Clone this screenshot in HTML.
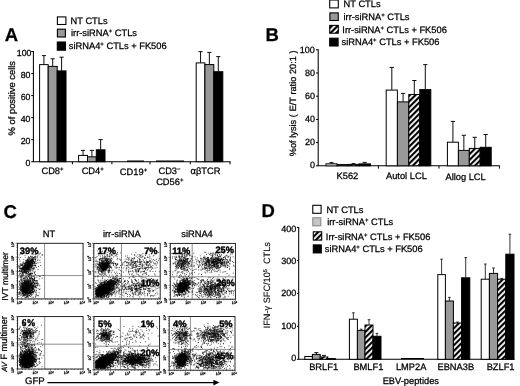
<!DOCTYPE html>
<html><head><meta charset="utf-8"><title>Figure</title>
<style>
html,body{margin:0;padding:0;background:#fff;}
body{width:520px;height:386px;overflow:hidden;font-family:"Liberation Sans",sans-serif;}
svg{display:block;}
svg text{font-family:"Liberation Sans",sans-serif;fill:#000;stroke:#000;stroke-width:.26px;text-rendering:geometricPrecision;}
</style></head><body>
<svg width="520" height="386" viewBox="0 0 520 386">
<defs>
<pattern id="hatch" width="4" height="4" patternUnits="userSpaceOnUse" patternTransform="rotate(-45)">
<rect width="4" height="4" fill="#fff"/><rect width="4" height="2.15" fill="#000"/>
</pattern>
<filter id="soft" x="0" y="0" width="520" height="386" filterUnits="userSpaceOnUse"><feGaussianBlur stdDeviation="0.6"/></filter>
</defs>
<rect width="520" height="386" fill="#fff"/>
<g id="fig" filter="url(#soft)">
<text x="4.8" y="41.0" font-size="18.5" text-anchor="start" font-weight="bold" >A</text>
<rect x="57.4" y="16.9" width="8.5" height="7.6" fill="#fff" stroke="#000" stroke-width="1.1"/>
<rect x="57.4" y="29.2" width="8.0" height="7.8" fill="#999" stroke="#000" stroke-width="1.1"/>
<rect x="57.3" y="42.0" width="8.2" height="8.2" fill="#000" stroke="#000" stroke-width="1.1"/>
<text x="70.6" y="24.0" font-size="9.3" text-anchor="start" font-weight="normal" >NT CTLs</text>
<text x="71.0" y="35.9" font-size="9.3" text-anchor="start" font-weight="normal" >irr-siRNA<tspan dy="-3" font-size="6">+</tspan><tspan dy="3" font-size="1">&#8203;</tspan> CTLs</text>
<text x="68.8" y="49.2" font-size="9.3" text-anchor="start" font-weight="normal" >siRNA4<tspan dy="-3" font-size="6">+</tspan><tspan dy="3" font-size="1">&#8203;</tspan> CTLs + FK506</text>
<path d="M33.4 51.0V161.7H230.5" stroke="#000" stroke-width="1.05" fill="none"/>
<path d="M31.2 161.70H33.4" stroke="#000" stroke-width="1"/>
<text x="30.5" y="165.85" font-size="8.8" text-anchor="end" font-weight="normal" >0</text>
<path d="M31.2 139.66H33.4" stroke="#000" stroke-width="1"/>
<text x="30.5" y="143.82999999999998" font-size="8.8" text-anchor="end" font-weight="normal" >20</text>
<path d="M31.2 117.62H33.4" stroke="#000" stroke-width="1"/>
<text x="30.5" y="121.81" font-size="8.8" text-anchor="end" font-weight="normal" >40</text>
<path d="M31.2 95.58H33.4" stroke="#000" stroke-width="1"/>
<text x="30.5" y="99.78999999999999" font-size="8.8" text-anchor="end" font-weight="normal" >60</text>
<path d="M31.2 73.54H33.4" stroke="#000" stroke-width="1"/>
<text x="30.5" y="77.77" font-size="8.8" text-anchor="end" font-weight="normal" >80</text>
<path d="M31.2 51.50H33.4" stroke="#000" stroke-width="1"/>
<text x="31.5" y="55.75" font-size="8.8" text-anchor="end" font-weight="normal" >100</text>
<path d="M72.4 161.7v2.6" stroke="#000" stroke-width="1"/>
<path d="M111.9 161.7v2.6" stroke="#000" stroke-width="1"/>
<path d="M150.0 161.7v2.6" stroke="#000" stroke-width="1"/>
<path d="M190.3 161.7v2.6" stroke="#000" stroke-width="1"/>
<path d="M230 161.7v2.6" stroke="#000" stroke-width="1"/>
<text transform="translate(14.8,98.2) rotate(-90)" font-size="9.4" text-anchor="middle" >% of positive cells</text>
<rect x="39.60" y="64.60" width="8.60" height="97.10" fill="#fff" stroke="#000" stroke-width="1.0"/>
<path d="M43.90 64.60V55.60M41.80 55.60H46.00" stroke="#111" stroke-width="1.0" fill="none"/>
<rect x="48.20" y="66.40" width="9.00" height="95.30" fill="#999" stroke="#000" stroke-width="1.0"/>
<path d="M52.70 66.40V58.80M50.60 58.80H54.80" stroke="#111" stroke-width="1.0" fill="none"/>
<rect x="57.20" y="70.90" width="8.80" height="90.80" fill="#000" stroke="#000" stroke-width="1.0"/>
<path d="M61.60 70.90V57.20M59.50 57.20H63.70" stroke="#111" stroke-width="1.0" fill="none"/>
<rect x="78.60" y="155.40" width="8.90" height="6.30" fill="#fff" stroke="#000" stroke-width="1.0"/>
<path d="M83.05 155.40V150.40M80.95 150.40H85.15" stroke="#111" stroke-width="1.0" fill="none"/>
<rect x="87.50" y="156.80" width="8.80" height="4.90" fill="#999" stroke="#000" stroke-width="1.0"/>
<path d="M91.90 156.80V150.40M89.80 150.40H94.00" stroke="#111" stroke-width="1.0" fill="none"/>
<rect x="96.30" y="149.80" width="8.70" height="11.90" fill="#000" stroke="#000" stroke-width="1.0"/>
<path d="M100.65 149.80V139.60M98.55 139.60H102.75" stroke="#111" stroke-width="1.0" fill="none"/>
<path d="M127 161.1H144M156 161.1H184" stroke="#000" stroke-width="1.4"/>
<rect x="196.20" y="62.90" width="8.70" height="98.80" fill="#fff" stroke="#000" stroke-width="1.0"/>
<path d="M200.55 62.90V51.60M198.45 51.60H202.65" stroke="#111" stroke-width="1.0" fill="none"/>
<rect x="204.90" y="64.60" width="8.90" height="97.10" fill="#999" stroke="#000" stroke-width="1.0"/>
<path d="M209.35 64.60V52.40M207.25 52.40H211.45" stroke="#111" stroke-width="1.0" fill="none"/>
<rect x="213.80" y="71.70" width="9.00" height="90.00" fill="#000" stroke="#000" stroke-width="1.0"/>
<path d="M218.30 71.70V56.60M216.20 56.60H220.40" stroke="#111" stroke-width="1.0" fill="none"/>
<text x="52.5" y="174.3" font-size="9.3" text-anchor="middle" font-weight="normal" >CD8<tspan dy="-3" font-size="6">+</tspan><tspan dy="3" font-size="1">&#8203;</tspan></text>
<text x="92.7" y="174.3" font-size="9.3" text-anchor="middle" font-weight="normal" >CD4<tspan dy="-3" font-size="6">+</tspan><tspan dy="3" font-size="1">&#8203;</tspan></text>
<text x="133.5" y="175.2" font-size="9.3" text-anchor="middle" font-weight="normal" >CD19<tspan dy="-3" font-size="6">+</tspan><tspan dy="3" font-size="1">&#8203;</tspan></text>
<text x="169.5" y="174.3" font-size="9.3" text-anchor="middle" font-weight="normal" >CD3<tspan dy="-3" font-size="6">&#8722;</tspan><tspan dy="3" font-size="1">&#8203;</tspan></text>
<text x="169.8" y="185.4" font-size="9.3" text-anchor="middle" font-weight="normal" >CD56<tspan dy="-3" font-size="6">+</tspan><tspan dy="3" font-size="1">&#8203;</tspan></text>
<text x="205.5" y="174.3" font-size="9.3" text-anchor="middle" font-weight="normal" >&#945;&#946;TCR</text>
<text x="265.6" y="41.0" font-size="18.5" text-anchor="start" font-weight="bold" >B</text>
<rect x="329.7" y="0.0" width="8.6" height="7.9" fill="#fff" stroke="#000" stroke-width="1.1"/>
<rect x="329.9" y="12.9" width="8.4" height="7.6" fill="#999" stroke="#000" stroke-width="1.1"/>
<rect x="329.7" y="25.4" width="8.6" height="7.8" fill="url(#hatch)" stroke="#000" stroke-width="1.1"/>
<rect x="329.7" y="38.2" width="8.4" height="7.8" fill="#000" stroke="#000" stroke-width="1.1"/>
<text x="343.6" y="7.2" font-size="9.3" text-anchor="start" font-weight="normal" >NT CTLs</text>
<text x="343.5" y="19.9" font-size="9.3" text-anchor="start" font-weight="normal" >irr-siRNA<tspan dy="-3" font-size="6">+</tspan><tspan dy="3" font-size="1">&#8203;</tspan> CTLs</text>
<text x="342.3" y="32.7" font-size="9.3" text-anchor="start" font-weight="normal" >Irr-siRNA<tspan dy="-3" font-size="6">+</tspan><tspan dy="3" font-size="1">&#8203;</tspan> CTLs + FK506</text>
<text x="341.6" y="45.3" font-size="9.3" text-anchor="start" font-weight="normal" >siRNA4<tspan dy="-3" font-size="6">+</tspan><tspan dy="3" font-size="1">&#8203;</tspan> CTLs + FK506</text>
<path d="M318.2 49.3V165.8H499.8" stroke="#000" stroke-width="1.05" fill="none"/>
<path d="M316.0 165.80H318.2" stroke="#000" stroke-width="1"/>
<text x="314.9" y="168.39999999999998" font-size="9.0" text-anchor="end" font-weight="normal" >0</text>
<path d="M316.0 142.60H318.2" stroke="#000" stroke-width="1"/>
<text x="314.9" y="145.37999999999997" font-size="9.0" text-anchor="end" font-weight="normal" >20</text>
<path d="M316.0 119.40H318.2" stroke="#000" stroke-width="1"/>
<text x="314.9" y="122.35999999999999" font-size="9.0" text-anchor="end" font-weight="normal" >40</text>
<path d="M316.0 96.20H318.2" stroke="#000" stroke-width="1"/>
<text x="314.9" y="99.33999999999997" font-size="9.0" text-anchor="end" font-weight="normal" >60</text>
<path d="M316.0 73.00H318.2" stroke="#000" stroke-width="1"/>
<text x="314.9" y="76.31999999999998" font-size="9.0" text-anchor="end" font-weight="normal" >80</text>
<path d="M316.0 49.80H318.2" stroke="#000" stroke-width="1"/>
<text x="314.9" y="53.29999999999997" font-size="9.0" text-anchor="end" font-weight="normal" >100</text>
<path d="M378.4 165.8v2.8" stroke="#000" stroke-width="1"/>
<path d="M439 165.8v2.8" stroke="#000" stroke-width="1"/>
<path d="M499.4 165.8v2.8" stroke="#000" stroke-width="1"/>
<text transform="translate(295.9,103.3) rotate(-90)" font-size="9.15" text-anchor="middle" word-spacing=".25">%of lysis ( E/T ratio 20:1 )</text>
<rect x="326.00" y="163.80" width="11.00" height="2.00" fill="#fff" stroke="#000" stroke-width="1.0"/>
<path d="M331.50 163.80V162.60M329.50 162.60H333.50" stroke="#111" stroke-width="1.0" fill="none"/>
<rect x="337.00" y="164.60" width="11.00" height="1.20" fill="#999" stroke="#000" stroke-width="1.0"/>
<rect x="348.00" y="164.40" width="11.00" height="1.40" fill="url(#hatch)" stroke="#000" stroke-width="1.0"/>
<path d="M353.50 164.40V163.60M351.50 163.60H355.50" stroke="#111" stroke-width="1.0" fill="none"/>
<rect x="359.00" y="163.90" width="11.40" height="1.90" fill="#000" stroke="#000" stroke-width="1.0"/>
<path d="M364.70 163.90V162.40M362.70 162.40H366.70" stroke="#111" stroke-width="1.0" fill="none"/>
<rect x="326.5" y="164.3" width="10" height="1" fill="#999"/>
<rect x="386.20" y="90.10" width="11.20" height="75.70" fill="#fff" stroke="#000" stroke-width="1.0"/>
<path d="M391.80 90.10V67.40M389.70 67.40H393.90" stroke="#111" stroke-width="1.0" fill="none"/>
<rect x="397.40" y="101.90" width="11.40" height="63.90" fill="#999" stroke="#000" stroke-width="1.0"/>
<path d="M403.10 101.90V93.40M401.00 93.40H405.20" stroke="#111" stroke-width="1.0" fill="none"/>
<rect x="408.80" y="94.50" width="11.00" height="71.30" fill="url(#hatch)" stroke="#000" stroke-width="1.0"/>
<path d="M414.30 94.50V80.50M412.20 80.50H416.40" stroke="#111" stroke-width="1.0" fill="none"/>
<rect x="419.80" y="89.60" width="11.00" height="76.20" fill="#000" stroke="#000" stroke-width="1.0"/>
<path d="M425.30 89.60V64.60M423.20 64.60H427.40" stroke="#111" stroke-width="1.0" fill="none"/>
<rect x="447.40" y="142.20" width="11.00" height="23.60" fill="#fff" stroke="#000" stroke-width="1.0"/>
<path d="M452.90 142.20V121.40M450.80 121.40H455.00" stroke="#111" stroke-width="1.0" fill="none"/>
<rect x="458.40" y="150.40" width="10.90" height="15.40" fill="#999" stroke="#000" stroke-width="1.0"/>
<path d="M463.85 150.40V135.30M461.75 135.30H465.95" stroke="#111" stroke-width="1.0" fill="none"/>
<rect x="469.30" y="148.40" width="10.90" height="17.40" fill="url(#hatch)" stroke="#000" stroke-width="1.0"/>
<path d="M474.75 148.40V137.30M472.65 137.30H476.85" stroke="#111" stroke-width="1.0" fill="none"/>
<rect x="480.20" y="147.30" width="11.00" height="18.50" fill="#000" stroke="#000" stroke-width="1.0"/>
<path d="M485.70 147.30V134.50M483.60 134.50H487.80" stroke="#111" stroke-width="1.0" fill="none"/>
<text x="347.4" y="179.4" font-size="9.3" text-anchor="middle" font-weight="normal" >K562</text>
<text x="406.4" y="179.4" font-size="9.3" text-anchor="middle" font-weight="normal" >Autol LCL</text>
<text x="465.6" y="179.9" font-size="9.3" text-anchor="middle" font-weight="normal" >Allog LCL</text>
<text x="261.6" y="217.2" font-size="18.5" text-anchor="start" font-weight="bold" >D</text>
<rect x="312.8" y="205.3" width="8.3" height="8.0" fill="#fff" stroke="#000" stroke-width="1.1"/>
<rect x="312.8" y="217.8" width="8.0" height="8.0" fill="#c6c6c6" stroke="#888" stroke-width="1.1"/>
<rect x="313.3" y="231.8" width="8.4" height="8.3" fill="url(#hatch)" stroke="#000" stroke-width="1.1"/>
<rect x="313.3" y="244.9" width="8.0" height="8.0" fill="#000" stroke="#000" stroke-width="1.1"/>
<text x="326.4" y="212.5" font-size="9.3" text-anchor="start" font-weight="normal" >NT CTLs</text>
<text x="327.2" y="224.5" font-size="9.3" text-anchor="start" font-weight="normal" >irr-siRNA<tspan dy="-3" font-size="6">+</tspan><tspan dy="3" font-size="1">&#8203;</tspan> CTLs</text>
<text x="325.8" y="240.0" font-size="9.3" text-anchor="start" font-weight="normal" >Irr-siRNA<tspan dy="-3" font-size="6">+</tspan><tspan dy="3" font-size="1">&#8203;</tspan> CTLs + FK506</text>
<text x="324.8" y="252.3" font-size="9.3" text-anchor="start" font-weight="normal" >siRNA4<tspan dy="-3" font-size="6">+</tspan><tspan dy="3" font-size="1">&#8203;</tspan> CTLs + FK506</text>
<path d="M298.7 226.9V359.3H514.5" stroke="#000" stroke-width="1.05" fill="none"/>
<path d="M296.9 359.30H298.7" stroke="#000" stroke-width="1"/>
<text x="296.3" y="361.2" font-size="9.0" text-anchor="end" font-weight="normal" >0</text>
<path d="M296.9 326.32H298.7" stroke="#000" stroke-width="1"/>
<text x="296.3" y="328.8" font-size="9.0" text-anchor="end" font-weight="normal" >100</text>
<path d="M296.9 293.35H298.7" stroke="#000" stroke-width="1"/>
<text x="296.3" y="296.4" font-size="9.0" text-anchor="end" font-weight="normal" >200</text>
<path d="M296.9 260.38H298.7" stroke="#000" stroke-width="1"/>
<text x="296.3" y="264.0" font-size="9.0" text-anchor="end" font-weight="normal" >300</text>
<path d="M296.9 227.40H298.7" stroke="#000" stroke-width="1"/>
<text x="296.3" y="231.6" font-size="9.0" text-anchor="end" font-weight="normal" >400</text>
<text transform="translate(269.9,285.2) rotate(-90)" font-size="9.2" text-anchor="middle" style="stroke-width:.1px">IFN-&#947; SFC/10<tspan dy="-3" font-size="5.5">5</tspan><tspan dy="3" font-size="1">&#8203;</tspan>&#160; CTLs</text>
<rect x="304.80" y="356.50" width="7.60" height="2.80" fill="#fff" stroke="#000" stroke-width="1.0"/>
<rect x="312.40" y="354.40" width="7.80" height="4.90" fill="#999" stroke="#000" stroke-width="1.0"/>
<path d="M316.30 354.40V352.60M314.30 352.60H318.30" stroke="#111" stroke-width="1.0" fill="none"/>
<rect x="320.20" y="357.00" width="7.60" height="2.30" fill="url(#hatch)" stroke="#000" stroke-width="1.0"/>
<path d="M324.00 357.00V355.40M322.00 355.40H326.00" stroke="#111" stroke-width="1.0" fill="none"/>
<rect x="327.80" y="358.60" width="7.60" height="0.70" fill="#000" stroke="#000" stroke-width="1.0"/>
<rect x="349.40" y="319.20" width="8.00" height="40.10" fill="#fff" stroke="#000" stroke-width="1.0"/>
<path d="M353.40 319.20V312.80M352.10 312.80H354.70" stroke="#111" stroke-width="0.85" fill="none"/>
<rect x="357.40" y="330.40" width="7.60" height="28.90" fill="#999" stroke="#000" stroke-width="1.0"/>
<path d="M361.20 330.40V329.20M359.90 329.20H362.50" stroke="#111" stroke-width="0.85" fill="none"/>
<rect x="365.00" y="325.00" width="8.00" height="34.30" fill="url(#hatch)" stroke="#000" stroke-width="1.0"/>
<path d="M369.00 325.00V319.70M367.70 319.70H370.30" stroke="#111" stroke-width="0.85" fill="none"/>
<rect x="373.00" y="336.30" width="8.00" height="23.00" fill="#000" stroke="#000" stroke-width="1.0"/>
<path d="M377.00 336.30V333.40M375.70 333.40H378.30" stroke="#111" stroke-width="0.85" fill="none"/>
<path d="M401 358.6H424" stroke="#000" stroke-width="1.2"/>
<rect x="437.80" y="274.60" width="7.60" height="84.70" fill="#fff" stroke="#000" stroke-width="1.0"/>
<path d="M441.60 274.60V259.20M440.30 259.20H442.90" stroke="#111" stroke-width="0.85" fill="none"/>
<rect x="445.40" y="301.00" width="8.00" height="58.30" fill="#999" stroke="#000" stroke-width="1.0"/>
<path d="M449.40 301.00V297.40M448.10 297.40H450.70" stroke="#111" stroke-width="0.85" fill="none"/>
<rect x="453.40" y="323.00" width="8.20" height="36.30" fill="url(#hatch)" stroke="#000" stroke-width="1.0"/>
<path d="M457.50 323.00V322.00M456.20 322.00H458.80" stroke="#111" stroke-width="0.85" fill="none"/>
<rect x="461.60" y="277.80" width="8.20" height="81.50" fill="#000" stroke="#000" stroke-width="1.0"/>
<path d="M465.70 277.80V257.60M464.40 257.60H467.00" stroke="#111" stroke-width="0.85" fill="none"/>
<rect x="481.20" y="279.20" width="8.20" height="80.10" fill="#fff" stroke="#000" stroke-width="1.0"/>
<path d="M485.30 279.20V264.00M484.00 264.00H486.60" stroke="#111" stroke-width="0.85" fill="none"/>
<rect x="489.40" y="273.40" width="8.20" height="85.90" fill="#999" stroke="#000" stroke-width="1.0"/>
<path d="M493.50 273.40V268.00M492.20 268.00H494.80" stroke="#111" stroke-width="0.85" fill="none"/>
<rect x="497.60" y="279.20" width="8.20" height="80.10" fill="url(#hatch)" stroke="#000" stroke-width="1.0"/>
<path d="M501.70 279.20V278.40M500.40 278.40H503.00" stroke="#111" stroke-width="0.85" fill="none"/>
<rect x="505.80" y="254.20" width="8.20" height="105.10" fill="#000" stroke="#000" stroke-width="1.0"/>
<path d="M509.90 254.20V234.20M508.60 234.20H511.20" stroke="#111" stroke-width="0.85" fill="none"/>
<text x="323.6" y="370.2" font-size="9.3" text-anchor="middle" font-weight="normal" >BRLF1</text>
<text x="368.4" y="370.2" font-size="9.3" text-anchor="middle" font-weight="normal" >BMLF1</text>
<text x="411.2" y="370.2" font-size="9.3" text-anchor="middle" font-weight="normal" >LMP2A</text>
<text x="455.8" y="370.2" font-size="9.3" text-anchor="middle" font-weight="normal" >EBNA3B</text>
<text x="500.6" y="370.2" font-size="9.3" text-anchor="middle" font-weight="normal" >BZLF1</text>
<text x="410.8" y="384.2" font-size="9.3" text-anchor="middle" font-weight="normal" >EBV-peptides</text>
<text x="3.6" y="217.6" font-size="18.5" text-anchor="start" font-weight="bold" >C</text>
<text x="49.0" y="237.0" font-size="9.3" text-anchor="middle" font-weight="normal" >NT</text>
<text x="121.8" y="237.0" font-size="9.3" text-anchor="middle" font-weight="normal" >irr-siRNA</text>
<text x="197.0" y="237.0" font-size="9.3" text-anchor="middle" font-weight="normal" >siRNA4</text>
<text transform="translate(7.6,276.4) rotate(-90)" font-size="8.6" text-anchor="middle" >IVT multimer</text>
<text transform="translate(7.2,344.0) rotate(-90)" font-size="9.2" text-anchor="middle" ><tspan font-style="italic" font-size="7.6">AV</tspan> F multimer</text>
<text x="25.0" y="384.2" font-size="9.6" text-anchor="start" font-weight="normal" >GFP</text>
<path d="M47.4 382.6H214" stroke="#000" stroke-width="1.3"/>
<path d="M213.4 379.8L219.4 382.6L213.4 385.4Z" fill="#000"/>
<path d="M28.2 265.5h.9M29.6 258.4h.9M26.9 264.7h.9M24.1 271.4h.9M26.1 262.4h.9M23.6 272.0h.9M28.5 265.9h.9M34.4 256.9h.9M25.9 265.0h.9M25.3 265.6h.9M30.5 263.1h.9M29.8 262.0h.9M28.7 261.9h.9M23.9 267.2h.9M28.1 261.7h.9M31.4 258.3h.9M22.0 269.5h.9M26.1 269.5h.9M19.5 266.5h.9M22.3 269.5h.9M19.7 269.2h.9M27.1 262.6h.9M22.4 272.2h.9M29.4 262.3h.9M28.9 269.4h.9M27.3 263.0h.9M25.7 266.1h.9M28.0 262.7h.9M28.7 266.6h.9M21.2 269.8h.9M26.0 268.7h.9M23.7 268.2h.9M24.5 264.2h.9M33.1 261.0h.9M24.5 268.0h.9M28.1 268.3h.9M32.3 258.9h.9M25.5 266.9h.9M27.7 259.7h.9M28.7 266.8h.9M28.5 261.2h.9M22.6 263.2h.9M28.6 264.5h.9M34.5 264.0h.9M21.1 265.3h.9M32.2 258.4h.9M28.7 262.1h.9M25.2 263.5h.9M37.4 259.4h.9M31.7 259.7h.9M22.7 266.7h.9M28.5 266.7h.9M30.9 260.5h.9M27.3 267.1h.9M31.3 259.4h.9M27.9 261.2h.9M31.3 256.6h.9M34.8 266.2h.9M25.1 266.3h.9M29.1 265.1h.9M26.1 266.5h.9M28.8 265.1h.9M22.7 269.3h.9M25.5 273.4h.9M27.3 262.2h.9M32.3 256.7h.9M33.5 257.7h.9M22.1 265.1h.9M24.5 270.2h.9M31.2 265.5h.9M19.0 268.7h.9M26.1 262.0h.9M27.8 264.2h.9M34.0 265.3h.9M31.4 253.2h.9M26.7 267.9h.9M26.5 262.7h.9M27.0 269.3h.9M35.2 256.1h.9M26.2 265.5h.9M26.8 261.0h.9M29.8 260.5h.9M27.6 270.0h.9M27.3 268.4h.9M23.1 267.5h.9M28.1 262.1h.9M26.2 260.2h.9M33.6 259.7h.9M31.2 262.6h.9M28.1 264.8h.9M31.3 262.4h.9M26.6 262.4h.9M33.0 261.1h.9M28.2 264.9h.9M30.9 267.3h.9M22.3 275.7h.9M29.8 263.3h.9M20.4 268.3h.9M18.8 271.8h.9M26.8 264.0h.9M24.1 265.6h.9M29.0 264.2h.9M38.5 253.8h.9M24.4 269.9h.9M25.3 266.8h.9M29.1 265.1h.9M30.5 262.7h.9M27.4 263.2h.9M27.3 262.6h.9M31.4 261.8h.9M30.6 261.4h.9M23.4 269.4h.9M27.8 265.3h.9M28.4 260.3h.9M23.3 268.9h.9M29.4 259.6h.9M24.3 265.9h.9M32.7 260.7h.9M29.1 257.4h.9M28.6 265.0h.9M25.5 267.5h.9M27.7 264.9h.9M19.0 270.5h.9M23.0 267.7h.9M29.9 260.5h.9M18.4 271.5h.9M32.1 260.2h.9M20.2 271.3h.9M31.7 258.4h.9M24.3 268.7h.9M31.8 262.8h.9M28.8 264.1h.9M21.1 268.8h.9M33.9 262.5h.9M34.8 254.5h.9M27.9 266.8h.9M26.9 266.8h.9M27.5 266.5h.9M23.7 269.6h.9M33.3 259.0h.9M25.7 266.0h.9M28.0 267.3h.9M24.6 269.2h.9M25.3 267.9h.9M22.3 264.4h.9M34.0 262.4h.9M27.5 269.4h.9M32.6 265.0h.9M28.3 265.7h.9M25.0 262.2h.9M26.7 269.3h.9M25.6 266.4h.9M28.2 256.5h.9M26.5 267.6h.9M26.8 261.1h.9M21.9 265.4h.9M24.5 265.7h.9M35.8 263.5h.9M25.1 266.1h.9M23.4 269.5h.9M29.8 269.7h.9M34.7 265.4h.9M21.5 269.7h.9M27.2 264.9h.9M25.3 263.0h.9M20.1 268.8h.9M31.6 263.9h.9M28.1 266.4h.9M28.5 265.1h.9M24.7 270.9h.9M30.3 260.9h.9M25.7 266.7h.9M27.5 267.9h.9M23.1 270.8h.9M22.6 272.8h.9M34.3 261.7h.9M25.9 265.7h.9M29.5 265.2h.9M28.0 261.8h.9M26.2 261.1h.9M25.9 268.7h.9M31.1 262.6h.9M26.8 267.1h.9M27.5 259.9h.9M28.3 263.7h.9M33.6 258.9h.9M31.3 259.8h.9M30.0 256.2h.9M25.6 265.8h.9M21.8 272.8h.9M32.6 263.0h.9M32.6 259.7h.9M27.6 265.4h.9M30.7 265.6h.9M31.8 253.1h.9M32.0 261.7h.9M32.4 263.6h.9M26.1 268.8h.9M35.2 265.4h.9M22.5 273.1h.9M32.2 263.1h.9M30.5 264.3h.9M32.2 264.6h.9M36.8 256.7h.9M35.0 259.7h.9M22.9 272.0h.9M20.4 277.4h.9M32.0 261.6h.9M23.5 268.3h.9M28.1 265.7h.9M32.1 266.6h.9M20.6 270.6h.9M18.5 277.2h.9M29.4 260.9h.9M28.4 264.2h.9M27.1 265.2h.9M28.4 267.5h.9M24.2 271.5h.9M21.2 265.2h.9M27.4 262.5h.9M23.7 269.5h.9M20.6 268.5h.9M30.5 258.2h.9M27.9 268.7h.9M30.1 265.2h.9M23.6 270.1h.9M25.2 265.7h.9M23.6 271.9h.9M24.1 267.3h.9M29.1 268.0h.9M24.6 264.7h.9M29.8 260.9h.9M29.8 264.5h.9M37.5 255.7h.9M21.8 272.1h.9M32.3 262.8h.9M27.8 262.2h.9M28.1 265.3h.9M21.5 268.8h.9M26.1 269.6h.9M31.6 260.3h.9M27.8 263.8h.9M28.6 268.8h.9M26.9 273.5h.9M33.5 267.7h.9M28.1 265.3h.9M25.0 272.5h.9M19.1 271.4h.9M25.8 267.2h.9M34.3 261.9h.9M28.4 262.1h.9M22.8 263.6h.9M23.9 263.5h.9M33.4 263.3h.9M28.9 261.9h.9M28.4 264.4h.9M28.0 265.9h.9M28.4 266.9h.9M31.9 261.1h.9M30.7 264.8h.9M29.2 261.3h.9M23.4 267.4h.9M30.6 259.8h.9M25.1 271.1h.9M33.2 261.1h.9M22.4 266.9h.9M27.6 264.3h.9M28.2 264.3h.9M22.1 271.9h.9M36.1 253.7h.9M34.9 256.5h.9M26.1 265.3h.9M31.7 270.8h.9M29.9 266.9h.9M29.4 266.5h.9M27.9 272.1h.9M28.6 263.9h.9M23.2 267.5h.9M27.0 270.0h.9M27.4 267.3h.9M33.7 263.1h.9M29.7 262.2h.9M28.2 271.4h.9M35.2 265.4h.9M25.6 268.8h.9M26.4 268.6h.9M19.8 264.5h.9M35.4 261.7h.9M32.6 261.0h.9M32.4 263.3h.9M31.3 265.0h.9M28.7 263.5h.9M29.2 258.6h.9M27.0 267.1h.9M27.3 263.2h.9M28.4 263.7h.9M35.2 257.8h.9M30.8 261.9h.9M27.9 257.5h.9M25.5 271.1h.9M25.3 268.0h.9M35.6 263.2h.9M30.5 269.8h.9M28.5 264.8h.9M26.6 260.2h.9M23.1 265.9h.9M27.9 261.2h.9M32.2 260.3h.9M26.4 266.6h.9M27.2 259.1h.9M27.2 266.9h.9M28.7 259.6h.9M20.9 271.5h.9M27.1 265.4h.9M24.3 266.9h.9M32.3 261.7h.9M24.7 265.9h.9M30.9 261.0h.9M35.2 254.1h.9M26.8 266.0h.9M25.4 273.2h.9M29.1 270.9h.9M28.2 269.4h.9M23.6 270.8h.9M30.3 261.2h.9M37.5 262.8h.9M27.0 265.7h.9M27.3 265.5h.9M23.4 267.6h.9M29.7 264.2h.9M22.5 267.9h.9M23.1 268.5h.9M34.1 257.0h.9M24.0 266.9h.9M33.2 268.9h.9M35.2 259.5h.9M29.4 263.3h.9M30.7 264.9h.9M37.2 260.6h.9M27.3 262.0h.9M25.5 266.4h.9M22.0 272.7h.9M28.4 265.8h.9M35.0 260.3h.9M32.6 266.9h.9M23.9 266.0h.9M24.3 268.2h.9M25.9 265.0h.9M29.5 269.0h.9M27.3 259.2h.9M29.2 262.0h.9M29.6 262.2h.9M26.8 268.2h.9M28.0 267.2h.9M29.2 268.9h.9M27.8 260.0h.9M30.5 265.8h.9M36.8 257.6h.9M30.9 260.7h.9M28.5 266.6h.9M20.4 267.8h.9M30.0 256.7h.9M19.2 270.5h.9M21.7 264.9h.9M32.1 259.9h.9M31.4 263.8h.9M27.5 266.6h.9M20.3 276.2h.9M26.5 265.6h.9M25.1 262.2h.9M31.1 260.3h.9M38.6 254.1h.9M29.2 260.2h.9M24.6 269.1h.9M22.8 266.9h.9M27.9 258.6h.9M27.4 267.9h.9M22.9 268.6h.9M28.7 265.8h.9M22.9 269.3h.9M33.3 263.3h.9M33.1 261.5h.9M33.2 265.4h.9M26.0 268.1h.9M30.6 264.5h.9M27.6 266.8h.9M26.4 261.5h.9M26.6 265.6h.9M22.2 268.6h.9M21.6 270.7h.9M31.9 257.7h.9M27.3 271.1h.9M29.2 264.6h.9M32.8 257.5h.9M20.2 265.3h.9M24.6 266.8h.9M29.0 264.1h.9M30.0 261.3h.9M26.5 266.6h.9M32.9 259.3h.9M29.2 266.1h.9M22.6 266.8h.9M23.9 268.1h.9M31.9 265.5h.9M30.3 272.0h.9M19.5 268.2h.9M34.4 258.8h.9M31.0 260.1h.9M34.4 263.0h.9M26.4 262.5h.9M26.8 264.4h.9M23.0 268.8h.9M39.9 253.0h.9M27.4 262.4h.9M35.5 257.9h.9M25.2 260.2h.9M23.5 269.8h.9M26.0 266.4h.9M27.4 269.7h.9M26.6 261.8h.9M22.7 267.6h.9M25.9 268.6h.9M28.9 264.2h.9M28.3 263.5h.9M26.8 265.5h.9M24.9 264.0h.9M28.5 265.4h.9M25.6 272.2h.9M24.2 270.1h.9M25.1 264.5h.9M30.5 262.2h.9M27.5 264.8h.9M29.8 266.8h.9M25.8 264.8h.9M29.3 263.2h.9M25.6 268.8h.9M26.6 268.2h.9M33.0 261.9h.9M28.8 262.5h.9M25.8 263.2h.9M26.8 264.5h.9M27.8 260.6h.9M29.9 266.1h.9M25.8 265.2h.9M22.8 269.3h.9M26.3 270.6h.9M27.0 268.6h.9M27.3 263.3h.9M30.2 266.2h.9M27.8 268.2h.9M29.0 263.3h.9M24.4 265.3h.9M29.1 264.6h.9M32.0 259.7h.9M28.9 268.3h.9M27.6 260.3h.9M27.4 263.3h.9M31.3 263.1h.9M24.8 266.7h.9M26.7 266.5h.9M28.1 266.0h.9M28.8 264.6h.9M26.0 269.1h.9M27.7 260.8h.9M26.3 266.4h.9M27.3 264.2h.9M26.7 266.5h.9M24.3 268.0h.9M26.9 264.0h.9M29.1 263.4h.9M24.7 269.0h.9M26.4 267.1h.9M28.6 263.6h.9M24.4 272.0h.9M27.4 271.0h.9M24.5 264.1h.9M29.7 265.2h.9M32.6 268.6h.9M31.9 265.1h.9M26.5 266.8h.9M28.8 264.6h.9M27.3 264.6h.9M27.2 265.4h.9M30.7 262.7h.9M23.8 269.4h.9M29.5 263.7h.9M26.9 265.1h.9M30.4 261.5h.9M27.4 265.6h.9M25.4 264.9h.9M27.7 265.2h.9M28.8 267.4h.9M27.1 266.8h.9M28.2 266.5h.9M25.7 267.5h.9M21.9 268.9h.9M29.2 264.5h.9M28.7 264.4h.9M27.4 267.5h.9M27.2 263.5h.9M29.5 267.7h.9M25.9 266.7h.9M25.3 265.2h.9M26.5 265.1h.9M29.9 262.9h.9M23.7 268.2h.9M29.9 262.8h.9M25.5 269.4h.9M24.4 265.7h.9M30.0 259.2h.9M26.8 264.5h.9M23.9 263.2h.9M26.1 266.4h.9M29.2 267.2h.9M29.9 265.9h.9M26.0 263.5h.9M28.0 263.8h.9M28.7 269.1h.9M25.5 267.6h.9M27.9 265.5h.9M26.9 268.4h.9M25.7 272.2h.9M25.8 269.6h.9M27.2 266.2h.9M27.1 266.8h.9M25.6 268.1h.9M26.0 265.2h.9M29.7 262.2h.9M27.5 265.8h.9M29.1 262.7h.9M29.9 264.3h.9M28.4 265.5h.9M32.5 268.3h.9M25.0 265.2h.9M28.9 264.7h.9M26.2 266.0h.9M31.5 264.6h.9M31.1 266.1h.9M22.3 267.4h.9M24.7 265.4h.9M28.6 261.4h.9M28.9 262.9h.9M28.8 266.3h.9M26.8 266.2h.9M28.1 263.1h.9M28.6 264.3h.9M26.8 266.2h.9M29.5 265.8h.9M21.6 267.6h.9M28.5 264.6h.9M24.5 263.2h.9M29.3 262.2h.9M26.5 269.9h.9M24.9 262.2h.9M27.9 264.8h.9M24.8 267.7h.9M24.8 266.3h.9M23.2 266.2h.9M26.9 265.9h.9M28.2 265.3h.9M29.5 264.5h.9M26.7 262.0h.9M29.5 264.3h.9M27.0 264.1h.9M26.8 264.9h.9M28.4 265.8h.9M29.5 266.1h.9M26.2 268.5h.9M26.4 265.2h.9M26.6 268.3h.9M27.2 268.5h.9M24.8 269.7h.9M29.5 267.8h.9M26.0 266.2h.9M28.1 265.0h.9M25.0 268.9h.9M27.9 262.5h.9M27.9 266.0h.9M26.0 265.4h.9M31.9 262.5h.9M27.9 261.6h.9M31.3 261.7h.9M29.3 264.7h.9M25.4 268.9h.9M26.1 268.7h.9M28.0 265.3h.9M27.1 265.5h.9M27.1 264.1h.9M26.3 267.3h.9M22.7 267.8h.9M26.5 267.7h.9M21.7 272.8h.9M27.9 265.4h.9M25.3 263.6h.9M25.3 265.0h.9M26.5 263.0h.9M27.7 263.0h.9M23.6 270.8h.9M22.8 268.8h.9M24.4 264.0h.9M22.1 270.1h.9M24.7 270.1h.9M30.8 263.1h.9M24.5 265.9h.9M28.6 264.4h.9M23.7 268.4h.9M27.7 267.1h.9M26.2 269.1h.9M26.9 268.8h.9M28.4 267.9h.9M31.2 266.8h.9M27.5 267.2h.9M27.3 262.4h.9M24.7 267.0h.9M28.4 265.9h.9M26.4 265.5h.9M31.1 273.1h.9M25.4 268.3h.9M22.8 274.6h.9M33.5 276.7h.9M30.0 265.5h.9M28.0 269.1h.9M31.2 268.3h.9M31.8 278.5h.9M28.5 284.2h.9M24.0 271.9h.9M24.9 282.8h.9M22.6 264.9h.9M27.9 283.0h.9M32.4 270.1h.9M24.8 257.3h.9M21.9 289.9h.9M36.1 283.5h.9M25.0 267.8h.9M21.5 275.0h.9M28.1 272.7h.9M28.9 274.6h.9M23.8 265.1h.9M30.6 269.9h.9M24.8 276.8h.9M22.8 275.3h.9M27.8 281.2h.9M30.5 274.5h.9M24.1 288.1h.9M28.5 269.7h.9M26.6 275.6h.9M39.7 262.5h.9M23.8 266.5h.9M33.2 282.0h.9M26.8 268.3h.9M26.4 277.2h.9M30.2 273.6h.9M31.0 267.7h.9M32.7 271.9h.9M28.5 270.9h.9M24.3 271.1h.9M24.6 278.5h.9M29.3 277.9h.9M29.6 270.5h.9M33.3 268.6h.9M28.9 275.7h.9M31.8 273.4h.9M33.8 280.2h.9M27.7 289.9h.9M20.3 279.1h.9M21.7 273.8h.9M20.5 273.0h.9M34.2 268.9h.9M23.2 268.6h.9M32.5 268.0h.9M29.6 271.6h.9M34.7 271.4h.9M31.5 278.5h.9M26.5 271.6h.9M26.1 272.8h.9M27.4 266.7h.9M27.8 283.9h.9M24.6 277.0h.9M26.9 284.7h.9M34.2 278.8h.9M19.3 282.9h.9M28.2 272.5h.9M22.9 278.3h.9M27.8 290.2h.9M30.8 266.7h.9M26.7 281.1h.9M30.5 284.2h.9M19.8 276.5h.9M32.0 278.6h.9M24.3 281.7h.9M29.8 270.0h.9M27.8 276.5h.9M23.6 269.9h.9M28.0 270.2h.9M34.0 273.1h.9M28.3 274.9h.9M28.2 276.8h.9M20.6 265.3h.9M33.4 286.2h.9M35.1 281.1h.9M27.1 278.5h.9M26.0 271.8h.9M19.7 273.5h.9M31.0 277.4h.9M39.2 276.5h.9M30.2 263.7h.9M32.7 278.6h.9M29.4 291.9h.9M22.6 262.6h.9M33.0 280.1h.9M21.4 276.3h.9M26.1 273.3h.9M28.3 282.4h.9M31.0 266.7h.9M28.9 275.0h.9M28.7 283.0h.9M23.6 272.8h.9M21.2 271.4h.9M27.3 274.7h.9M23.8 271.3h.9M21.1 283.5h.9M21.3 268.4h.9M24.8 279.4h.9M18.7 266.3h.9M20.9 278.1h.9M19.6 273.4h.9M27.8 258.1h.9M28.8 274.0h.9M36.0 267.4h.9M20.3 271.3h.9M23.9 283.5h.9M31.1 267.1h.9M26.0 267.5h.9M25.5 282.9h.9M34.7 274.7h.9M25.5 283.5h.9M21.8 276.0h.9M21.1 268.6h.9M28.5 273.6h.9M28.4 281.6h.9M20.8 279.8h.9M22.6 274.0h.9M29.4 274.3h.9M29.6 273.3h.9M24.1 270.4h.9M29.8 285.9h.9M29.6 274.0h.9M19.0 267.0h.9M25.6 271.1h.9M28.9 278.5h.9M24.4 278.0h.9M25.7 269.9h.9M30.4 274.1h.9M34.1 263.7h.9M38.8 278.9h.9M21.9 271.0h.9M31.3 276.3h.9M32.6 281.5h.9M31.4 278.0h.9M27.7 274.1h.9M21.8 287.1h.9M29.8 278.1h.9M23.8 271.8h.9M39.7 276.5h.9M30.2 268.7h.9M35.2 274.5h.9M22.9 273.0h.9M33.6 261.9h.9M34.2 272.9h.9M34.0 272.3h.9M26.9 271.3h.9M21.6 263.9h.9M26.2 271.8h.9M19.3 274.6h.9M27.4 267.0h.9M22.5 277.9h.9M26.3 266.5h.9M26.5 272.6h.9M35.7 282.0h.9M32.8 269.7h.9M26.8 270.8h.9M32.4 280.6h.9M23.5 271.6h.9M25.5 272.2h.9M31.1 275.4h.9M21.4 280.5h.9M25.7 260.4h.9M21.1 268.9h.9M27.5 267.8h.9M34.3 267.3h.9M23.6 268.7h.9M28.0 268.8h.9M23.0 275.9h.9M21.8 268.5h.9M21.4 274.8h.9M33.5 276.5h.9M37.6 269.5h.9M29.2 274.8h.9M23.8 284.1h.9M30.2 276.0h.9M25.5 270.1h.9M30.6 273.6h.9M28.3 268.4h.9M28.3 275.7h.9M29.7 279.3h.9M24.4 269.0h.9M25.2 272.7h.9M19.3 280.8h.9M25.0 270.9h.9M20.6 275.2h.9M22.4 286.2h.9M23.4 288.3h.9M24.8 286.6h.9M37.2 282.8h.9M25.3 285.4h.9M24.8 291.2h.9M24.6 290.7h.9M26.4 293.7h.9M30.2 278.4h.9M28.1 285.1h.9M36.7 284.1h.9M28.2 287.9h.9M33.9 284.2h.9M28.5 284.5h.9M30.0 290.8h.9M20.6 288.8h.9M26.6 281.5h.9M26.9 293.9h.9M26.1 292.3h.9M31.3 290.9h.9M25.4 283.7h.9M25.2 293.0h.9M26.0 286.2h.9M26.2 283.3h.9M29.1 285.1h.9M21.4 284.0h.9M22.9 288.6h.9M28.5 287.9h.9M27.9 287.3h.9M25.5 284.6h.9M24.6 269.3h.9M23.4 288.1h.9M26.9 277.8h.9M32.6 287.8h.9M22.3 293.4h.9M34.2 287.8h.9M31.1 284.8h.9M25.1 286.5h.9M30.8 286.1h.9M20.5 285.2h.9M19.2 285.2h.9M21.3 283.2h.9M25.3 293.3h.9M25.7 287.3h.9M24.8 292.2h.9M27.7 285.9h.9M29.5 286.1h.9M20.7 290.2h.9M24.2 291.6h.9M25.3 288.6h.9M21.9 284.4h.9M20.9 284.0h.9M22.6 296.0h.9M27.1 285.8h.9M29.9 285.5h.9M29.8 294.2h.9M22.6 293.1h.9M23.6 290.3h.9M23.0 285.7h.9M32.9 289.3h.9M25.0 286.6h.9M23.6 280.6h.9M28.8 280.4h.9M32.0 288.7h.9M28.8 289.0h.9M32.0 285.5h.9M27.8 281.3h.9M32.9 279.4h.9M32.9 284.9h.9M26.7 280.0h.9M33.8 291.0h.9M28.0 292.9h.9M23.0 292.0h.9M25.9 284.4h.9M30.8 282.5h.9M21.2 270.7h.9M30.2 283.9h.9M28.8 286.1h.9M28.5 291.9h.9M26.7 290.2h.9M30.2 287.9h.9M23.7 290.9h.9M27.6 294.4h.9M30.3 284.6h.9M24.2 280.6h.9M31.2 294.8h.9M18.7 294.6h.9M30.4 290.6h.9M26.1 281.4h.9M30.9 287.7h.9M22.9 286.5h.9M24.4 287.9h.9M37.5 285.1h.9M23.4 290.2h.9M24.0 285.6h.9M25.9 291.6h.9M22.5 288.9h.9M32.7 285.1h.9M35.1 285.8h.9M24.0 285.4h.9M19.3 292.1h.9M32.6 285.3h.9M32.3 288.1h.9M31.0 284.8h.9M32.5 279.2h.9M23.2 292.1h.9M26.4 282.0h.9M20.8 291.3h.9M20.7 290.0h.9M31.7 278.5h.9M24.1 282.8h.9M37.7 283.5h.9M27.5 283.1h.9M24.3 281.6h.9M30.9 290.5h.9M35.5 285.1h.9M29.4 288.9h.9M21.6 285.7h.9M28.9 288.5h.9M33.5 282.8h.9M24.9 287.3h.9M23.6 290.5h.9M31.9 286.9h.9M27.8 284.9h.9M22.1 282.3h.9M25.5 288.2h.9M23.7 289.3h.9M28.6 285.8h.9M27.7 283.3h.9M32.5 289.3h.9M20.0 286.5h.9M29.1 288.7h.9M31.3 288.6h.9M29.3 274.2h.9M31.9 287.3h.9M24.7 284.0h.9M22.8 294.6h.9M31.5 285.5h.9M22.3 283.9h.9M31.9 287.5h.9M23.9 284.8h.9M25.8 287.1h.9M20.8 281.2h.9M21.1 286.7h.9M21.9 291.6h.9M25.5 297.2h.9M28.9 290.5h.9M30.7 292.7h.9M21.8 292.9h.9M22.3 296.0h.9M30.3 292.2h.9M26.9 286.7h.9M20.1 289.3h.9M35.7 287.2h.9M23.2 289.1h.9M28.3 288.1h.9M28.1 283.2h.9M33.7 276.0h.9M25.1 284.1h.9M31.8 276.6h.9M23.8 287.9h.9M32.4 286.7h.9M23.7 279.2h.9M25.5 290.8h.9M35.9 290.6h.9M28.7 287.5h.9M27.7 295.4h.9M37.5 295.4h.9M28.9 281.0h.9M23.4 292.8h.9M30.6 289.0h.9M21.8 289.9h.9M32.4 291.3h.9M32.7 283.0h.9M24.6 284.5h.9M24.3 283.4h.9M28.0 283.4h.9M27.3 286.7h.9M22.7 280.5h.9M29.8 281.7h.9M25.2 287.1h.9M25.3 289.3h.9M25.9 277.9h.9M28.6 283.1h.9M21.6 285.1h.9M29.9 287.1h.9M26.4 284.4h.9M24.2 292.2h.9M20.9 287.6h.9M21.8 287.9h.9M28.9 287.1h.9M22.8 291.2h.9M27.5 284.8h.9M32.1 292.3h.9M32.0 289.0h.9M34.4 287.2h.9M25.8 287.6h.9M22.2 290.3h.9M31.9 291.7h.9M28.6 291.7h.9M32.4 288.5h.9M27.3 291.6h.9M32.7 287.2h.9M31.1 293.0h.9M30.5 286.7h.9M29.5 276.6h.9M29.0 293.7h.9M28.3 287.6h.9M28.2 281.3h.9M31.8 285.7h.9M24.8 283.1h.9M35.2 296.8h.9M26.7 289.7h.9M31.7 278.9h.9M26.8 290.0h.9M26.1 285.3h.9M36.5 295.7h.9M25.8 282.1h.9M21.3 276.7h.9M23.9 287.9h.9M25.7 285.6h.9M37.1 284.0h.9M28.2 276.4h.9M31.5 288.9h.9M22.6 296.0h.9M28.8 277.5h.9M30.3 292.7h.9M35.5 283.5h.9M30.0 289.1h.9M28.6 286.1h.9M22.5 293.2h.9M27.1 289.8h.9M26.0 284.4h.9M30.0 284.4h.9M29.7 278.0h.9M25.2 297.5h.9M21.0 286.1h.9M34.0 283.4h.9M28.4 288.8h.9M31.9 278.9h.9M33.7 279.8h.9M24.8 285.0h.9M30.9 284.2h.9M26.1 287.7h.9M26.9 292.8h.9M26.8 284.9h.9M27.2 289.7h.9M32.3 289.6h.9M27.8 281.7h.9M26.5 288.4h.9M25.9 282.6h.9M28.8 292.3h.9M23.1 289.9h.9M24.9 287.5h.9M27.0 280.6h.9M24.6 288.1h.9M26.7 283.4h.9M24.4 291.0h.9M36.4 285.6h.9M33.3 282.5h.9M29.3 291.6h.9M27.0 290.8h.9M37.3 283.2h.9M28.7 292.8h.9M26.8 285.8h.9M28.6 285.5h.9M28.6 287.7h.9M33.7 282.8h.9M27.1 285.0h.9M36.9 285.4h.9M23.1 295.3h.9M30.4 294.3h.9M22.6 286.4h.9M35.6 294.3h.9M25.7 287.1h.9M26.9 289.1h.9M31.5 291.1h.9M33.0 288.0h.9M25.6 288.6h.9M20.8 281.9h.9M27.8 293.6h.9M26.7 285.2h.9M25.6 285.9h.9M24.1 272.7h.9M25.4 292.4h.9M23.8 291.6h.9M29.6 290.9h.9M34.2 291.3h.9M18.3 296.6h.9M26.7 287.0h.9M25.3 292.1h.9M29.5 283.3h.9M22.8 285.9h.9M26.5 292.5h.9M22.4 289.7h.9M30.4 280.2h.9M27.7 288.9h.9M26.5 286.4h.9M28.9 282.9h.9M26.1 289.5h.9M20.1 286.0h.9M29.9 279.1h.9M28.5 281.5h.9M26.5 296.1h.9M31.7 279.2h.9M32.8 287.7h.9M22.2 290.8h.9M23.6 290.8h.9M34.3 280.3h.9M33.7 284.9h.9M23.8 288.3h.9M21.8 291.8h.9M24.3 284.3h.9M24.9 281.7h.9M19.9 293.0h.9M27.3 292.7h.9M21.3 289.7h.9M21.6 284.8h.9M31.4 288.8h.9M24.1 288.1h.9M26.9 291.4h.9M30.1 280.7h.9M30.9 287.4h.9M25.6 286.6h.9M27.4 281.7h.9M23.4 288.7h.9M35.2 286.5h.9M30.2 284.8h.9M22.1 289.7h.9M27.2 280.1h.9M30.5 286.6h.9M29.4 289.1h.9M35.6 287.7h.9M33.5 291.9h.9M24.7 281.5h.9M26.8 279.7h.9M21.3 289.0h.9M28.3 289.3h.9M27.9 297.7h.9M39.6 288.9h.9M27.6 282.8h.9M24.1 283.3h.9M27.7 279.8h.9M23.2 289.3h.9M25.5 290.9h.9M28.8 289.8h.9M26.4 296.3h.9M23.1 289.1h.9M30.8 292.9h.9M24.7 282.4h.9M24.9 280.5h.9M20.9 295.0h.9M23.6 294.9h.9M30.2 289.4h.9M19.8 289.1h.9M26.9 288.1h.9M30.5 283.4h.9M25.5 295.0h.9M28.3 290.4h.9M22.1 290.3h.9M33.2 288.4h.9M32.3 291.9h.9M28.3 289.6h.9M19.1 291.8h.9M22.4 281.9h.9M31.7 289.2h.9M35.1 297.2h.9M28.6 284.5h.9M32.9 285.9h.9M24.4 291.9h.9M26.3 292.1h.9M27.2 290.3h.9M29.1 278.9h.9M20.2 290.5h.9M31.5 280.8h.9M33.3 282.4h.9M21.9 290.5h.9M21.0 286.4h.9M28.8 291.1h.9M30.9 290.4h.9M27.9 282.7h.9M25.0 284.2h.9M36.9 280.9h.9M27.8 284.5h.9M23.7 282.1h.9M27.7 283.9h.9M22.4 286.7h.9M23.7 282.6h.9M29.0 279.9h.9M24.7 280.7h.9M25.1 289.7h.9M34.9 286.7h.9M31.2 291.9h.9M30.9 292.0h.9M29.6 285.2h.9M29.4 290.3h.9M33.9 279.3h.9M35.7 292.2h.9M22.8 286.6h.9M26.0 281.5h.9M20.9 289.8h.9M25.6 278.1h.9M29.6 283.1h.9M33.9 290.2h.9M24.1 287.9h.9M27.2 284.8h.9M25.5 292.1h.9M23.8 282.4h.9M21.7 289.2h.9M27.5 284.7h.9M19.2 283.9h.9M27.7 289.5h.9M27.3 282.3h.9M24.2 297.0h.9M22.5 284.8h.9M20.8 297.8h.9M35.8 280.8h.9M21.0 290.9h.9M34.4 280.5h.9M30.0 280.2h.9M25.5 288.2h.9M21.9 291.1h.9M32.0 280.3h.9M35.2 292.2h.9M22.9 283.7h.9M25.8 288.0h.9M32.0 288.6h.9M28.7 290.0h.9M36.4 277.3h.9M24.6 295.5h.9M29.7 289.7h.9M21.4 285.7h.9M36.8 281.1h.9M23.8 279.1h.9M26.6 290.0h.9M26.6 285.6h.9M36.0 280.6h.9M25.6 284.7h.9M27.1 295.0h.9M29.9 285.3h.9M34.5 283.5h.9M26.9 294.0h.9M32.0 289.0h.9M29.6 287.2h.9M25.8 284.3h.9M27.6 279.4h.9M27.3 281.4h.9M23.0 285.3h.9M32.8 285.5h.9M20.8 289.7h.9M32.6 289.4h.9M31.6 287.8h.9M26.8 288.3h.9M23.7 282.6h.9M26.2 276.6h.9M29.4 284.4h.9M30.6 282.1h.9M28.5 283.8h.9M31.8 285.3h.9M24.6 281.3h.9M28.3 281.6h.9M20.0 287.5h.9M30.7 287.4h.9M27.9 283.9h.9M25.3 289.9h.9M32.5 285.5h.9M30.4 281.8h.9M27.4 296.5h.9M20.5 284.6h.9M32.1 292.5h.9M38.6 292.8h.9M24.8 294.9h.9M27.5 283.1h.9M26.0 297.4h.9M28.8 287.6h.9M30.2 285.6h.9M33.1 285.4h.9M22.7 290.7h.9M34.4 286.7h.9M22.9 286.8h.9M28.5 293.4h.9M32.5 283.0h.9M30.5 281.7h.9M22.9 291.6h.9M24.0 291.1h.9M25.1 292.9h.9M27.0 281.9h.9M32.5 292.0h.9M21.3 290.2h.9M29.3 295.7h.9M30.0 280.7h.9M29.8 288.0h.9M29.3 285.6h.9M34.2 278.5h.9M29.4 283.4h.9M31.1 292.4h.9M29.8 284.6h.9M35.4 282.7h.9M18.5 292.5h.9M33.1 291.5h.9M26.0 292.2h.9M25.9 283.4h.9M22.7 287.4h.9M18.6 293.3h.9M25.4 284.1h.9M24.0 283.8h.9M29.5 291.1h.9M20.4 295.7h.9M33.8 280.8h.9M28.5 274.1h.9M26.1 280.1h.9M23.9 282.5h.9M23.6 286.9h.9M22.0 290.8h.9M24.7 286.7h.9M27.2 283.7h.9M26.4 288.1h.9M20.7 283.1h.9M26.0 287.1h.9M23.1 284.5h.9M35.8 290.3h.9M30.1 282.7h.9M25.8 282.4h.9M19.7 285.8h.9M20.7 279.7h.9M19.4 284.4h.9M30.5 283.2h.9M23.7 292.0h.9M27.5 285.0h.9M24.3 283.6h.9M27.6 280.5h.9M33.6 280.6h.9M24.0 287.2h.9M25.6 286.3h.9M23.5 293.2h.9M31.2 283.6h.9M22.5 293.0h.9M22.0 289.0h.9M20.8 287.9h.9M20.7 277.9h.9M29.4 280.5h.9M39.0 289.6h.9M22.6 294.7h.9M31.6 287.8h.9M28.4 290.9h.9M22.1 285.7h.9M25.9 285.5h.9M26.1 284.0h.9M24.0 292.4h.9M36.1 287.9h.9M18.4 287.0h.9M29.0 285.4h.9M28.7 289.8h.9M24.5 289.1h.9M27.9 283.0h.9M31.2 295.3h.9M27.9 288.4h.9M29.1 287.0h.9M30.4 294.2h.9M34.0 286.0h.9M37.7 288.7h.9M31.7 281.4h.9M31.9 283.5h.9M20.7 276.7h.9M26.7 293.3h.9M23.5 278.2h.9M24.5 290.9h.9M31.6 282.6h.9M23.5 282.7h.9M26.6 286.3h.9M18.4 289.5h.9M26.5 290.3h.9M27.6 296.0h.9M24.0 289.3h.9M23.9 291.9h.9M35.9 283.3h.9M21.6 291.4h.9M22.4 288.5h.9M23.5 285.3h.9M32.7 286.1h.9M36.9 285.8h.9M28.7 288.0h.9M23.9 289.6h.9M25.2 284.9h.9M32.1 283.0h.9M23.0 291.4h.9M33.9 278.0h.9M33.7 283.4h.9M27.5 294.9h.9M30.2 273.4h.9M30.6 283.4h.9M34.3 289.8h.9M22.4 279.5h.9M25.5 274.5h.9M23.7 294.7h.9M27.7 294.9h.9M26.2 291.9h.9M22.7 286.6h.9M19.9 289.8h.9M22.9 283.2h.9M33.9 290.5h.9M36.2 280.6h.9M30.2 285.5h.9M32.7 291.6h.9M24.8 281.9h.9M26.8 285.4h.9M28.5 287.9h.9M22.2 281.1h.9M22.6 293.5h.9M27.6 288.8h.9M25.7 279.8h.9M22.3 287.5h.9M29.0 283.1h.9M26.0 284.1h.9M31.9 287.1h.9M27.2 283.7h.9M29.1 288.5h.9M24.4 292.2h.9M29.1 289.0h.9M26.3 286.9h.9M28.8 295.8h.9M24.9 285.4h.9M25.0 288.5h.9M23.2 291.5h.9M28.0 285.4h.9M29.0 288.5h.9M32.3 290.0h.9M30.0 296.5h.9M27.1 285.9h.9M25.8 288.6h.9M27.5 290.9h.9M26.3 289.1h.9M30.5 285.0h.9M29.0 290.1h.9M24.1 289.1h.9M24.5 290.2h.9M30.2 292.4h.9M27.3 292.0h.9M25.8 290.1h.9M29.7 289.8h.9M25.3 285.3h.9M25.6 288.4h.9M25.1 289.5h.9M20.9 287.5h.9M28.8 289.1h.9M23.0 286.2h.9M24.8 293.7h.9M24.3 295.7h.9M28.4 287.6h.9M26.2 290.1h.9M26.4 288.1h.9M21.7 292.8h.9M26.2 290.2h.9M22.3 289.0h.9M27.3 288.1h.9M27.4 289.2h.9M26.4 285.6h.9M32.1 291.0h.9M27.9 286.5h.9M28.1 290.5h.9M26.8 289.2h.9M25.9 292.3h.9M29.1 288.7h.9M29.5 292.1h.9M22.8 285.8h.9M29.4 290.8h.9M27.8 288.1h.9M29.1 289.4h.9M27.7 289.0h.9M22.9 291.8h.9M23.1 282.3h.9M31.5 289.8h.9M27.1 284.0h.9M22.4 292.7h.9M27.4 282.5h.9M25.4 285.6h.9M21.2 283.4h.9M20.0 294.0h.9M21.9 284.7h.9M27.2 289.2h.9M26.3 287.1h.9M25.7 283.0h.9M27.2 287.7h.9M28.1 290.9h.9M20.5 288.2h.9M25.6 291.8h.9M24.1 287.6h.9M22.9 288.8h.9M24.9 287.6h.9M26.1 289.9h.9M25.7 294.9h.9M22.3 290.0h.9M25.0 289.4h.9M32.0 286.8h.9M23.4 286.4h.9M21.7 293.5h.9M27.2 285.2h.9M28.1 285.9h.9M27.7 288.5h.9M23.3 287.4h.9M29.2 295.1h.9M24.2 281.2h.9M23.2 290.0h.9M24.7 291.1h.9M26.1 285.2h.9M28.4 286.7h.9M28.1 290.2h.9M26.3 294.0h.9M29.0 285.9h.9M26.6 283.7h.9M28.9 291.9h.9M22.5 293.7h.9M22.0 287.7h.9M28.6 281.7h.9M22.5 293.4h.9M25.6 288.2h.9M26.1 292.4h.9M25.0 288.7h.9M25.1 287.6h.9M30.3 287.4h.9M19.3 293.5h.9M28.9 293.4h.9M32.8 282.0h.9M26.5 285.8h.9M26.3 294.5h.9M28.4 287.6h.9M31.5 284.4h.9M23.1 288.8h.9M26.6 288.5h.9M25.9 288.5h.9M28.0 287.3h.9M26.8 287.8h.9M28.2 287.3h.9M25.2 289.9h.9M26.5 286.2h.9M24.5 287.9h.9M24.5 288.3h.9M26.0 293.0h.9M26.0 290.0h.9M23.1 288.4h.9M30.8 290.5h.9M26.0 290.1h.9M22.5 292.3h.9M29.5 290.4h.9M24.3 294.5h.9M27.8 293.1h.9M26.4 288.7h.9M27.1 287.5h.9M26.9 291.6h.9M24.8 290.5h.9M26.5 288.5h.9M32.1 284.1h.9M20.1 282.9h.9M26.6 289.9h.9M27.6 291.3h.9M23.5 291.4h.9M22.6 284.7h.9M32.4 292.1h.9M25.4 287.1h.9M32.2 290.0h.9M27.9 290.1h.9M26.6 286.2h.9M27.7 286.9h.9M28.2 282.2h.9M29.7 285.9h.9M27.6 283.0h.9M26.8 290.2h.9M26.9 289.0h.9M30.2 291.7h.9M28.7 289.9h.9M23.6 286.8h.9M24.6 289.9h.9M27.3 287.6h.9M24.7 290.7h.9M25.3 289.8h.9M23.7 285.6h.9M25.7 288.8h.9M27.6 289.0h.9M29.2 287.8h.9M26.4 291.7h.9M32.2 294.3h.9M26.2 287.6h.9M35.3 287.7h.9M29.2 281.6h.9M27.8 288.4h.9M25.0 287.4h.9M18.5 281.9h.9M26.0 289.7h.9M26.9 290.7h.9M31.8 286.5h.9M22.5 287.6h.9M31.7 285.7h.9M25.7 291.2h.9M28.4 283.9h.9M19.3 287.8h.9M26.8 295.0h.9M25.4 289.0h.9M28.3 290.3h.9M26.7 288.3h.9M23.2 285.0h.9M29.1 288.7h.9M28.3 290.1h.9M28.1 285.5h.9M29.2 289.9h.9M29.5 292.8h.9M26.3 292.2h.9M22.6 283.7h.9M22.5 285.7h.9M30.2 283.6h.9M28.4 292.2h.9M26.7 290.8h.9M25.2 291.1h.9M26.5 286.0h.9M26.5 285.1h.9M25.5 289.0h.9M24.4 289.1h.9M32.5 286.1h.9M27.0 289.3h.9M24.7 290.9h.9M22.8 289.5h.9M24.4 285.5h.9M28.4 282.0h.9M28.5 288.0h.9M25.8 289.3h.9M26.5 288.0h.9M25.5 287.4h.9M23.3 286.6h.9M30.0 291.1h.9M27.4 288.6h.9M33.3 289.2h.9M24.3 285.7h.9M26.0 286.8h.9M28.9 289.3h.9M25.7 285.6h.9M22.5 284.8h.9M23.7 287.7h.9M26.7 292.6h.9M27.4 289.4h.9M26.1 293.5h.9M29.2 288.4h.9M29.2 287.8h.9M27.3 284.3h.9M26.5 287.0h.9M25.7 293.4h.9M27.9 289.8h.9M29.0 291.1h.9M26.6 291.1h.9M27.7 288.8h.9M25.5 288.1h.9M22.4 289.2h.9M23.6 290.9h.9M28.5 290.3h.9M27.7 290.4h.9M30.9 289.3h.9M26.6 286.3h.9M28.8 288.0h.9M30.1 285.8h.9M29.2 292.0h.9M24.7 282.1h.9M25.9 288.1h.9M26.8 296.4h.9M23.6 287.7h.9M27.7 285.2h.9M29.3 288.7h.9M25.1 292.9h.9M31.9 288.3h.9M25.6 290.8h.9M25.8 289.1h.9M25.7 287.6h.9M27.6 289.0h.9M26.5 287.1h.9M31.1 287.2h.9M28.1 290.0h.9M27.9 290.1h.9M25.8 291.3h.9M22.4 289.3h.9M26.1 284.2h.9M24.0 290.5h.9M29.1 287.8h.9M26.3 287.9h.9M31.1 284.1h.9M28.5 287.0h.9M28.7 286.5h.9M27.0 288.7h.9M27.0 284.1h.9M28.2 289.0h.9M29.0 289.2h.9M24.4 285.2h.9M27.8 286.8h.9M33.7 286.1h.9M26.1 291.7h.9M25.7 280.7h.9M24.5 287.7h.9M22.3 283.5h.9M29.7 287.4h.9M26.6 291.5h.9M27.2 286.8h.9M31.6 289.2h.9M33.4 286.1h.9M23.9 295.0h.9M29.4 291.7h.9M28.1 292.4h.9M27.5 284.5h.9M27.7 285.3h.9M26.3 292.3h.9M30.9 288.2h.9M28.1 288.0h.9M27.4 289.9h.9M29.9 284.8h.9M28.9 291.3h.9M27.7 288.9h.9M27.3 290.3h.9M31.3 286.7h.9M27.8 290.4h.9M26.2 286.5h.9M24.0 291.9h.9M25.4 292.4h.9M23.5 291.7h.9M26.7 290.5h.9M27.1 290.8h.9M20.7 280.1h.9M26.5 291.5h.9M28.2 287.9h.9M26.9 289.1h.9M23.7 287.9h.9M30.0 284.3h.9M24.5 287.1h.9M23.0 290.9h.9M23.4 293.3h.9M26.4 286.8h.9M29.2 285.9h.9M29.7 293.4h.9M27.0 286.0h.9M23.1 295.4h.9M24.6 289.0h.9M23.9 286.0h.9M25.9 291.9h.9M21.4 294.2h.9M26.7 284.2h.9M28.2 293.8h.9M26.0 287.9h.9M27.7 293.6h.9M23.8 287.6h.9M22.3 283.8h.9M24.6 290.4h.9M29.6 291.8h.9M29.3 295.5h.9M25.1 294.3h.9M29.8 291.0h.9M25.5 288.0h.9M30.6 287.1h.9M27.8 287.9h.9M25.1 286.1h.9M28.6 287.9h.9M24.2 280.7h.9M23.8 289.4h.9M22.3 288.7h.9M27.1 297.0h.9M26.3 291.2h.9M26.2 287.3h.9M25.3 290.6h.9M30.4 284.9h.9M25.2 286.9h.9M24.4 282.8h.9M29.9 293.4h.9M30.4 290.7h.9M27.3 285.0h.9M21.5 288.6h.9M24.7 291.8h.9M28.1 290.4h.9M26.4 290.0h.9M30.8 286.1h.9M22.6 286.8h.9M28.3 289.1h.9M24.6 291.7h.9M30.1 286.1h.9M26.2 285.2h.9M29.3 292.5h.9M24.6 285.8h.9M22.5 292.2h.9M23.3 289.6h.9M24.7 291.6h.9M23.5 294.4h.9M29.8 291.0h.9M30.1 291.3h.9M27.2 285.9h.9M23.5 286.6h.9M26.1 290.9h.9M24.5 293.7h.9M30.5 293.3h.9M27.3 296.2h.9M27.8 289.8h.9M25.3 289.4h.9M20.8 292.0h.9M24.2 288.9h.9M23.3 288.6h.9M27.4 285.4h.9M26.7 292.0h.9M24.2 285.4h.9M25.3 290.4h.9M30.8 284.3h.9M23.7 292.3h.9M23.8 285.5h.9M25.8 291.5h.9M24.4 283.7h.9M25.2 287.4h.9M27.9 292.6h.9M31.3 286.2h.9M21.4 289.0h.9M26.3 287.3h.9M26.5 281.4h.9M26.2 289.8h.9M25.9 290.2h.9M25.4 285.3h.9M29.2 290.6h.9M25.1 286.3h.9M26.0 285.6h.9M26.4 288.8h.9M26.7 286.6h.9M25.9 296.1h.9M29.2 283.8h.9M26.4 291.2h.9M26.9 292.0h.9M26.3 282.5h.9M23.6 283.3h.9M24.1 290.6h.9M23.5 287.3h.9M26.9 290.0h.9M24.4 292.4h.9M23.4 287.6h.9M27.1 285.4h.9M27.9 280.1h.9M21.5 289.5h.9M31.1 285.8h.9M26.5 289.8h.9M21.6 283.6h.9M33.2 297.2h.9M23.3 259.5h.9M27.2 291.6h.9M31.6 279.5h.9M42.1 254.8h.9M21.7 250.7h.9M19.8 292.4h.9M31.5 261.2h.9M41.6 255.1h.9M19.2 281.5h.9M34.1 283.9h.9M18.7 293.0h.9M31.8 274.0h.9M21.0 265.0h.9M34.5 265.3h.9M27.0 259.8h.9M34.4 280.5h.9M24.5 295.2h.9M19.9 254.1h.9M22.5 268.6h.9M24.8 266.9h.9M22.1 253.8h.9M23.0 278.6h.9M31.6 297.2h.9M28.9 263.3h.9M38.6 284.9h.9M30.4 293.2h.9M31.5 263.0h.9M35.8 294.1h.9M39.3 285.9h.9M32.6 281.0h.9M18.9 259.3h.9M29.5 263.3h.9M18.8 254.9h.9M33.1 293.0h.9M19.6 288.8h.9M31.5 254.2h.9M21.7 275.5h.9M39.4 260.2h.9M20.4 286.7h.9M34.5 277.5h.9M35.6 295.4h.9M24.9 284.9h.9M32.8 254.8h.9M26.2 267.9h.9M24.5 277.7h.9M24.5 293.8h.9M18.4 267.8h.9M34.8 259.0h.9M19.8 263.6h.9M22.9 261.9h.9M20.2 257.4h.9M38.1 266.5h.9M31.2 262.0h.9M29.7 274.5h.9M32.6 292.9h.9M38.2 295.8h.9M33.6 257.7h.9M30.8 277.3h.9M25.8 282.3h.9M30.9 257.3h.9M42.7 275.5h.9M32.2 259.6h.9M29.9 267.5h.9M40.2 265.5h.9M19.4 289.1h.9M19.6 261.2h.9M37.7 275.9h.9M41.6 278.1h.9M19.3 265.8h.9M18.6 294.6h.9M18.2 265.9h.9M32.4 265.7h.9M21.4 283.2h.9M32.0 273.4h.9M34.6 284.8h.9M18.4 257.3h.9M39.8 257.1h.9M24.3 285.3h.9M31.8 268.7h.9M26.8 291.1h.9M26.6 261.2h.9M28.1 261.5h.9M28.7 267.4h.9M24.6 255.3h.9M26.9 260.6h.9M22.1 286.9h.9M26.4 262.7h.9" stroke="#000" stroke-width=".9" stroke-opacity=".8" fill="none"/>
<rect x="17.4" y="243.3" width="65.70" height="55.60" fill="none" stroke="#111" stroke-width=".9"/>
<path d="M44.6 243.3V298.9M17.4 275.6H83.1" stroke="#444" stroke-width=".6" fill="none"/>
<text x="19.5" y="303.9" font-size="3.6" text-anchor="middle" fill="#777" stroke="none">10<tspan dy="-1.4" font-size="2.6">0</tspan></text>
<text x="35.2" y="303.9" font-size="3.6" text-anchor="middle" fill="#777" stroke="none">10<tspan dy="-1.4" font-size="2.6">1</tspan></text>
<text x="50.9" y="303.9" font-size="3.6" text-anchor="middle" fill="#777" stroke="none">10<tspan dy="-1.4" font-size="2.6">2</tspan></text>
<text x="66.6" y="303.9" font-size="3.6" text-anchor="middle" fill="#777" stroke="none">10<tspan dy="-1.4" font-size="2.6">3</tspan></text>
<text x="82.2" y="303.9" font-size="3.6" text-anchor="middle" fill="#777" stroke="none">10<tspan dy="-1.4" font-size="2.6">4</tspan></text>
<text transform="translate(14.2,300.1) rotate(-90)" font-size="3.6" text-anchor="middle" fill="#999" stroke="none">10<tspan dy="-1.4" font-size="2.6">0</tspan></text>
<text transform="translate(14.2,286.2) rotate(-90)" font-size="3.6" text-anchor="middle" fill="#999" stroke="none">10<tspan dy="-1.4" font-size="2.6">1</tspan></text>
<text transform="translate(14.2,272.3) rotate(-90)" font-size="3.6" text-anchor="middle" fill="#999" stroke="none">10<tspan dy="-1.4" font-size="2.6">2</tspan></text>
<text transform="translate(14.2,258.4) rotate(-90)" font-size="3.6" text-anchor="middle" fill="#999" stroke="none">10<tspan dy="-1.4" font-size="2.6">3</tspan></text>
<text transform="translate(14.2,244.5) rotate(-90)" font-size="3.6" text-anchor="middle" fill="#999" stroke="none">10<tspan dy="-1.4" font-size="2.6">4</tspan></text>
<path d="M22.3 298.9v1M17.4 294.7h-1M25.2 298.9v1M17.4 292.3h-1M28.9 298.9v1M17.4 289.2h-1M31.3 298.9v1M17.4 287.2h-1M38.8 298.9v1M17.4 280.8h-1M41.7 298.9v1M17.4 278.4h-1M45.3 298.9v1M17.4 275.3h-1M47.7 298.9v1M17.4 273.3h-1M55.2 298.9v1M17.4 266.9h-1M58.1 298.9v1M17.4 264.5h-1M61.7 298.9v1M17.4 261.4h-1M64.1 298.9v1M17.4 259.4h-1M71.6 298.9v1M17.4 253.0h-1M74.5 298.9v1M17.4 250.6h-1M78.2 298.9v1M17.4 247.5h-1M80.6 298.9v1M17.4 245.5h-1M17.4 298.9v1.8M17.4 298.9h-1.8M33.8 298.9v1.8M17.4 285.0h-1.8M50.2 298.9v1.8M17.4 271.1h-1.8M66.7 298.9v1.8M17.4 257.2h-1.8M83.1 298.9v1.8M17.4 243.3h-1.8" stroke="#000" stroke-width=".5" fill="none"/>
<path d="M101.2 268.3h.9M109.5 264.6h.9M104.5 268.9h.9M115.0 263.5h.9M102.6 267.8h.9M104.5 268.5h.9M107.6 263.8h.9M100.5 264.2h.9M104.5 266.4h.9M109.0 261.8h.9M105.3 266.5h.9M106.2 269.8h.9M102.7 269.3h.9M105.9 262.6h.9M104.7 258.4h.9M111.4 263.1h.9M107.9 263.4h.9M103.2 270.4h.9M107.8 263.0h.9M108.0 267.6h.9M100.0 263.4h.9M94.8 266.0h.9M98.9 274.3h.9M108.8 271.1h.9M99.3 268.9h.9M102.2 266.5h.9M105.5 259.8h.9M110.3 266.3h.9M104.3 265.1h.9M103.9 265.9h.9M101.8 262.8h.9M112.2 263.1h.9M109.5 262.8h.9M103.9 266.4h.9M97.7 273.1h.9M100.6 267.3h.9M107.2 256.1h.9M100.9 260.7h.9M108.7 256.1h.9M106.1 260.5h.9M105.8 267.2h.9M107.5 266.1h.9M106.8 261.3h.9M100.3 266.9h.9M102.8 261.4h.9M115.6 255.5h.9M98.6 259.1h.9M102.1 261.0h.9M109.5 270.6h.9M103.6 258.4h.9M100.5 271.7h.9M98.0 272.6h.9M107.0 263.3h.9M109.3 263.5h.9M111.1 260.4h.9M104.7 264.6h.9M109.4 266.9h.9M99.4 265.8h.9M105.2 269.5h.9M101.1 271.2h.9M105.2 266.3h.9M108.0 265.6h.9M109.5 263.4h.9M99.6 267.4h.9M110.5 258.0h.9M102.1 267.2h.9M99.5 266.8h.9M103.6 260.7h.9M97.4 276.7h.9M104.4 260.0h.9M105.8 260.2h.9M103.4 266.3h.9M107.0 254.7h.9M102.9 261.2h.9M104.4 257.3h.9M97.5 261.5h.9M104.6 264.1h.9M100.3 267.2h.9M102.2 270.6h.9M104.0 268.8h.9M105.3 270.3h.9M96.5 269.3h.9M96.9 264.0h.9M103.0 270.5h.9M106.7 261.9h.9M106.1 261.4h.9M108.7 271.3h.9M110.6 267.3h.9M106.8 265.3h.9M104.3 268.4h.9M99.4 270.1h.9M99.9 259.0h.9M102.2 264.7h.9M105.7 258.7h.9M105.5 265.1h.9M104.4 261.4h.9M103.7 271.5h.9M107.4 266.6h.9M105.4 260.5h.9M105.8 264.3h.9M105.9 258.5h.9M101.8 265.5h.9M99.5 268.4h.9M106.8 265.5h.9M106.4 254.9h.9M103.3 263.3h.9M102.4 267.6h.9M115.3 263.9h.9M100.8 271.2h.9M103.4 258.6h.9M105.7 267.0h.9M98.9 262.7h.9M105.0 265.6h.9M113.0 264.9h.9M108.9 267.2h.9M107.4 261.3h.9M107.2 265.0h.9M104.9 258.9h.9M109.0 256.9h.9M103.7 267.6h.9M102.4 264.9h.9M104.9 256.7h.9M108.7 259.7h.9M106.0 264.5h.9M107.6 271.7h.9M94.7 271.9h.9M110.1 267.4h.9M115.6 253.6h.9M110.8 262.9h.9M102.9 267.4h.9M100.3 267.5h.9M105.7 266.5h.9M99.7 264.6h.9M107.9 272.6h.9M101.9 272.5h.9M109.0 263.3h.9M110.9 258.6h.9M94.6 276.8h.9M105.8 261.7h.9M101.0 271.3h.9M97.6 275.5h.9M101.4 260.7h.9M103.3 266.4h.9M109.4 262.0h.9M97.1 268.8h.9M109.4 265.2h.9M114.1 272.2h.9M107.3 267.0h.9M107.0 264.1h.9M104.3 270.2h.9M98.8 264.6h.9M107.0 262.4h.9M106.2 275.3h.9M107.9 260.0h.9M116.7 259.7h.9M107.9 264.2h.9M106.4 259.1h.9M111.9 252.8h.9M97.9 271.2h.9M98.9 262.0h.9M102.6 262.4h.9M101.3 263.5h.9M107.7 259.2h.9M102.9 259.8h.9M112.8 263.8h.9M111.7 274.9h.9M108.1 267.5h.9M102.5 268.8h.9M107.4 256.7h.9M108.3 263.8h.9M99.3 260.0h.9M106.1 268.1h.9M107.8 262.9h.9M105.4 264.7h.9M111.9 262.7h.9M110.2 260.6h.9M100.4 258.1h.9M105.0 267.4h.9M100.4 258.8h.9M107.2 258.3h.9M100.2 264.1h.9M108.8 260.3h.9M106.3 265.6h.9M109.1 268.7h.9M103.7 266.1h.9M97.4 267.1h.9M112.9 263.1h.9M103.6 269.1h.9M111.0 254.3h.9M106.5 266.1h.9M107.6 259.5h.9M113.2 256.8h.9M106.0 264.4h.9M111.1 261.4h.9M97.3 269.1h.9M108.6 269.2h.9M103.2 253.6h.9M103.8 264.5h.9M104.4 274.3h.9M106.1 268.6h.9M112.4 270.1h.9M95.5 267.1h.9M104.6 257.6h.9M101.0 259.9h.9M110.0 267.0h.9M102.4 269.8h.9M106.6 260.7h.9M102.5 263.8h.9M107.6 265.3h.9M109.3 255.1h.9M102.5 263.4h.9M104.6 272.6h.9M97.6 276.8h.9M105.9 263.9h.9M108.5 272.8h.9M101.7 262.7h.9M109.8 259.6h.9M95.5 271.3h.9M97.7 264.3h.9M102.1 276.7h.9M104.5 266.3h.9M104.0 265.7h.9M104.1 255.9h.9M107.9 271.3h.9M102.1 263.4h.9M98.3 265.2h.9M98.4 255.2h.9M114.5 267.1h.9M103.6 261.9h.9M111.4 263.7h.9M106.7 266.2h.9M100.4 270.3h.9M104.4 265.2h.9M108.5 272.3h.9M110.2 262.3h.9M100.1 262.7h.9M108.1 261.7h.9M105.6 252.0h.9M109.7 259.7h.9M111.1 268.3h.9M102.8 266.4h.9M97.4 262.2h.9M106.3 266.0h.9M112.9 253.1h.9M107.7 262.6h.9M105.5 267.1h.9M115.9 265.7h.9M99.4 262.0h.9M108.7 268.3h.9M101.7 274.5h.9M104.6 262.6h.9M104.8 268.3h.9M111.7 255.6h.9M99.9 256.1h.9M101.8 268.3h.9M96.8 266.5h.9M106.7 265.2h.9M102.2 262.3h.9M106.4 262.9h.9M99.2 269.8h.9M102.7 273.5h.9M109.4 262.6h.9M103.6 256.8h.9M107.4 270.4h.9M106.9 267.2h.9M102.7 268.4h.9M96.9 267.2h.9M109.1 275.1h.9M105.2 264.9h.9M109.1 266.3h.9M94.7 257.7h.9M96.5 263.6h.9M100.2 265.5h.9M109.4 265.4h.9M107.1 260.5h.9M104.2 273.3h.9M105.0 259.4h.9M108.1 261.8h.9M102.9 266.2h.9M106.3 258.2h.9M105.1 267.4h.9M102.6 263.7h.9M110.9 272.7h.9M102.5 265.5h.9M103.7 266.3h.9M101.5 260.6h.9M102.1 257.0h.9M109.8 260.5h.9M103.1 263.4h.9M99.5 263.5h.9M101.7 253.6h.9M95.0 261.2h.9M95.6 257.6h.9M108.2 270.5h.9M107.8 261.3h.9M95.2 264.1h.9M108.5 258.5h.9M106.6 268.7h.9M100.6 263.5h.9M107.9 265.1h.9M96.6 256.4h.9M98.6 271.7h.9M97.5 268.1h.9M99.1 268.6h.9M108.6 269.9h.9M98.0 265.1h.9M98.9 265.1h.9M99.8 269.2h.9M105.3 266.7h.9M102.8 263.9h.9M108.5 264.1h.9M101.0 263.0h.9M98.2 269.6h.9M102.0 269.8h.9M104.6 264.7h.9M99.9 274.9h.9M105.7 256.9h.9M113.1 261.8h.9M101.6 273.7h.9M104.6 262.7h.9M110.8 255.6h.9M101.2 272.3h.9M100.3 268.3h.9M99.1 260.0h.9M106.2 268.2h.9M106.8 259.2h.9M103.6 258.3h.9M104.5 264.0h.9M110.4 261.1h.9M108.5 258.5h.9M97.6 264.4h.9M104.3 259.9h.9M104.8 265.0h.9M107.8 264.0h.9M103.2 268.7h.9M101.2 263.2h.9M102.1 258.7h.9M95.7 260.1h.9M104.1 263.6h.9M101.4 272.9h.9M106.5 268.5h.9M99.3 262.7h.9M102.2 269.9h.9M99.6 260.1h.9M99.1 270.8h.9M107.6 262.2h.9M102.0 269.0h.9M106.4 267.4h.9M98.9 264.6h.9M104.7 266.3h.9M96.1 261.3h.9M101.9 264.9h.9M101.8 270.6h.9M112.9 263.7h.9M105.1 264.0h.9M103.7 264.1h.9M101.2 263.8h.9M105.9 268.9h.9M99.7 266.7h.9M101.6 271.0h.9M104.3 265.3h.9M100.7 260.7h.9M107.0 267.4h.9M106.0 264.5h.9M102.2 265.7h.9M102.2 270.3h.9M100.5 266.0h.9M100.3 269.7h.9M104.5 265.8h.9M104.9 263.8h.9M104.3 267.1h.9M104.1 264.4h.9M102.2 269.4h.9M104.3 268.3h.9M100.1 267.0h.9M103.5 267.6h.9M106.9 266.7h.9M106.5 264.6h.9M102.4 268.5h.9M102.7 265.6h.9M106.7 266.9h.9M107.6 262.7h.9M100.0 267.1h.9M102.5 267.3h.9M104.0 263.9h.9M106.3 264.3h.9M101.6 265.1h.9M105.0 267.5h.9M102.8 264.4h.9M109.0 265.9h.9M104.5 269.7h.9M103.2 267.0h.9M102.7 262.1h.9M105.9 265.8h.9M105.1 268.3h.9M101.0 265.9h.9M104.0 268.8h.9M100.4 268.3h.9M101.8 267.5h.9M100.5 266.1h.9M100.4 265.4h.9M101.9 265.8h.9M101.2 266.7h.9M104.7 267.1h.9M105.3 266.7h.9M102.9 265.4h.9M100.9 266.8h.9M105.4 266.6h.9M98.8 263.0h.9M99.0 265.1h.9M105.2 263.6h.9M105.0 265.2h.9M105.7 264.8h.9M103.0 265.5h.9M100.6 264.5h.9M102.3 268.0h.9M104.8 266.5h.9M101.7 262.3h.9M101.9 266.5h.9M100.3 263.9h.9M100.8 271.0h.9M105.4 264.5h.9M104.5 264.8h.9M100.8 266.9h.9M101.0 266.1h.9M102.2 266.2h.9M104.8 269.7h.9M100.8 267.3h.9M103.1 268.3h.9M98.5 270.1h.9M100.6 264.2h.9M104.5 270.1h.9M105.6 267.4h.9M100.8 269.1h.9M101.7 264.3h.9M105.3 267.7h.9M102.6 267.3h.9M102.2 265.0h.9M104.7 271.6h.9M104.0 267.4h.9M106.1 264.9h.9M105.3 266.1h.9M102.2 268.7h.9M103.2 269.0h.9M103.4 267.6h.9M100.4 269.9h.9M101.3 270.3h.9M105.7 262.4h.9M99.8 265.7h.9M105.8 263.2h.9M104.2 266.2h.9M103.2 269.8h.9M104.7 267.5h.9M104.6 263.2h.9M106.3 264.7h.9M102.6 268.9h.9M103.0 264.8h.9M102.9 266.0h.9M107.8 265.9h.9M105.7 260.9h.9M101.4 268.5h.9M102.7 267.1h.9M101.9 267.9h.9M103.5 263.6h.9M104.0 264.0h.9M108.8 263.4h.9M99.3 267.7h.9M105.9 265.7h.9M104.5 266.2h.9M101.9 271.0h.9M103.2 269.5h.9M102.4 264.5h.9M103.6 264.4h.9M105.8 269.9h.9M100.0 266.1h.9M106.5 268.9h.9M102.6 270.3h.9M107.0 263.9h.9M104.5 265.2h.9M106.4 265.6h.9M104.8 263.6h.9M106.0 263.0h.9M103.6 265.0h.9M101.6 268.7h.9M105.1 264.6h.9M105.2 265.2h.9M108.4 263.8h.9M98.9 263.6h.9M103.1 270.0h.9M106.0 259.5h.9M100.6 265.1h.9M103.0 267.6h.9M108.4 261.4h.9M106.8 266.9h.9M101.5 269.7h.9M106.8 263.1h.9M106.3 266.0h.9M105.3 262.8h.9M104.4 267.2h.9M104.1 266.2h.9M101.5 267.1h.9M102.3 269.8h.9M105.2 266.9h.9M103.9 269.4h.9M107.8 266.7h.9M102.8 263.2h.9M98.0 268.0h.9M102.8 267.5h.9M104.2 262.2h.9M104.4 269.3h.9M103.7 266.2h.9M101.6 267.4h.9M107.0 263.0h.9M102.0 266.6h.9M105.2 266.5h.9M102.9 265.4h.9M100.8 266.9h.9M106.8 259.9h.9M97.8 270.8h.9M101.6 263.7h.9M104.5 260.3h.9M102.7 263.8h.9M105.3 263.5h.9M103.3 267.5h.9M102.5 264.0h.9M108.5 265.7h.9M103.0 263.7h.9M103.2 271.8h.9M101.1 268.0h.9M101.8 271.4h.9M105.0 263.1h.9M104.8 267.5h.9M103.6 263.6h.9M101.9 267.9h.9M105.1 267.4h.9M99.6 262.9h.9M102.8 263.3h.9M103.0 263.2h.9M101.6 262.7h.9M103.9 264.1h.9M102.0 264.0h.9M101.7 262.8h.9M107.7 265.4h.9M105.3 267.1h.9M106.3 262.1h.9M103.7 264.6h.9M105.8 265.6h.9M105.4 265.0h.9M106.4 263.6h.9M109.0 266.9h.9M103.1 268.3h.9M104.2 267.6h.9M103.5 265.5h.9M95.5 272.9h.9M100.4 271.2h.9M103.6 265.0h.9M105.0 265.4h.9M102.3 269.4h.9M106.2 263.4h.9M106.5 266.4h.9M102.6 266.4h.9M106.9 263.5h.9M107.6 264.5h.9M104.7 261.8h.9M101.3 265.2h.9M107.0 260.2h.9M103.2 271.9h.9M102.7 270.1h.9M103.9 269.1h.9M102.4 267.1h.9M106.1 268.0h.9M105.4 268.9h.9M106.4 268.0h.9M104.9 268.1h.9M101.8 264.1h.9M103.2 267.2h.9M105.6 264.2h.9M102.7 263.2h.9M110.3 261.6h.9M103.0 267.2h.9M102.3 269.0h.9M106.2 261.9h.9M105.3 270.1h.9M103.5 269.8h.9M103.1 265.2h.9M104.6 264.6h.9M105.5 265.4h.9M105.4 268.1h.9M102.9 265.2h.9M104.6 263.0h.9M105.5 266.4h.9M105.4 260.3h.9M96.5 268.0h.9M101.6 269.4h.9M101.8 267.2h.9M103.1 268.1h.9M104.0 267.2h.9M105.7 267.4h.9M105.0 266.0h.9M103.3 264.0h.9M103.7 265.4h.9M107.6 264.9h.9M102.2 269.5h.9M104.3 270.0h.9M107.2 266.3h.9M104.4 263.9h.9M98.9 265.2h.9M104.5 265.3h.9M102.7 269.7h.9M103.3 266.9h.9M106.0 265.3h.9M104.7 263.8h.9M103.0 268.4h.9M105.7 266.3h.9M104.6 265.6h.9M103.8 266.2h.9M104.3 270.1h.9M104.2 265.5h.9M102.8 270.5h.9M102.5 269.4h.9M103.7 266.1h.9M101.4 268.7h.9M100.7 266.3h.9M106.6 263.2h.9M103.0 265.4h.9M103.5 263.7h.9M103.3 267.4h.9M103.7 266.0h.9M103.7 267.4h.9M103.7 268.1h.9M101.7 258.5h.9M105.7 266.3h.9M102.0 261.8h.9M106.0 265.9h.9M99.2 264.8h.9M101.2 266.8h.9M105.9 269.0h.9M103.3 261.7h.9M102.1 266.8h.9M104.5 265.6h.9M101.2 261.7h.9M103.8 267.6h.9M98.5 267.2h.9M102.6 264.9h.9M102.1 264.5h.9M104.8 273.9h.9M105.6 264.5h.9M101.6 261.9h.9M107.3 262.8h.9M102.2 265.4h.9M98.9 266.1h.9M98.1 267.0h.9M107.1 262.5h.9M109.5 284.5h.9M103.6 290.9h.9M98.5 289.7h.9M101.7 289.1h.9M104.2 286.0h.9M111.3 284.6h.9M109.2 286.2h.9M104.4 291.8h.9M106.5 290.0h.9M107.6 287.4h.9M118.2 281.3h.9M102.8 290.1h.9M109.1 286.4h.9M110.6 289.8h.9M100.9 283.4h.9M107.5 286.4h.9M107.3 288.0h.9M103.7 292.7h.9M109.7 282.3h.9M112.4 285.1h.9M113.0 286.4h.9M105.3 286.9h.9M107.5 281.2h.9M120.0 278.4h.9M100.0 287.8h.9M107.7 288.8h.9M111.6 282.0h.9M107.3 292.5h.9M110.2 285.8h.9M107.4 284.6h.9M110.8 283.5h.9M113.8 279.9h.9M105.1 289.6h.9M107.5 291.5h.9M106.1 287.2h.9M104.1 291.8h.9M106.3 284.8h.9M99.8 292.5h.9M110.7 292.1h.9M116.3 277.5h.9M116.3 285.5h.9M113.8 286.8h.9M100.8 285.2h.9M115.2 278.0h.9M102.3 287.1h.9M106.1 290.8h.9M117.1 280.0h.9M100.2 290.8h.9M111.3 286.9h.9M108.0 287.0h.9M105.5 288.8h.9M101.3 289.7h.9M108.9 289.6h.9M103.7 286.9h.9M112.5 289.1h.9M113.5 282.4h.9M98.4 290.0h.9M103.5 291.3h.9M104.5 290.1h.9M99.5 285.7h.9M99.9 292.2h.9M106.9 283.2h.9M105.2 285.8h.9M96.8 295.7h.9M103.3 286.9h.9M109.4 286.9h.9M99.4 290.6h.9M101.0 296.7h.9M115.6 281.9h.9M114.0 279.5h.9M97.0 289.9h.9M98.6 289.5h.9M108.6 286.7h.9M99.5 291.7h.9M104.9 291.4h.9M103.8 289.7h.9M109.6 286.1h.9M99.3 292.7h.9M112.3 286.5h.9M105.5 290.5h.9M96.5 291.8h.9M109.3 280.5h.9M110.5 282.7h.9M105.0 289.3h.9M104.5 281.2h.9M108.9 284.6h.9M113.4 284.8h.9M107.3 285.4h.9M109.5 282.4h.9M106.1 293.1h.9M104.2 293.1h.9M101.1 290.0h.9M107.9 290.7h.9M104.7 292.6h.9M105.0 285.0h.9M111.8 292.5h.9M109.2 283.0h.9M111.4 283.8h.9M97.3 289.7h.9M109.6 285.9h.9M103.0 285.6h.9M101.7 290.3h.9M101.5 293.8h.9M113.4 284.0h.9M111.2 283.9h.9M102.2 294.7h.9M99.8 288.8h.9M106.5 290.5h.9M103.7 288.2h.9M116.0 282.5h.9M97.9 292.7h.9M95.8 294.3h.9M104.9 288.3h.9M106.5 285.1h.9M107.2 285.4h.9M110.8 286.3h.9M118.4 280.1h.9M104.4 285.2h.9M103.2 287.3h.9M96.2 291.5h.9M107.8 286.5h.9M111.3 285.1h.9M104.9 288.7h.9M113.2 281.5h.9M106.6 287.5h.9M115.2 278.1h.9M108.3 277.6h.9M100.3 291.0h.9M102.7 284.7h.9M97.5 289.9h.9M96.3 289.8h.9M107.9 288.5h.9M111.4 280.8h.9M117.7 281.6h.9M106.1 286.2h.9M105.0 284.6h.9M100.0 286.5h.9M112.1 285.5h.9M108.7 287.3h.9M102.9 291.9h.9M110.4 290.7h.9M109.7 286.4h.9M95.6 294.8h.9M110.7 284.5h.9M107.2 287.3h.9M104.1 287.8h.9M104.0 286.2h.9M116.5 287.5h.9M115.3 276.5h.9M117.0 281.9h.9M99.7 292.8h.9M102.6 290.2h.9M111.7 281.4h.9M99.4 291.0h.9M102.2 288.5h.9M95.9 290.4h.9M117.1 280.9h.9M112.6 282.5h.9M109.1 284.2h.9M107.7 288.7h.9M104.0 285.6h.9M104.1 290.1h.9M110.0 283.4h.9M102.3 291.2h.9M113.5 283.4h.9M103.5 289.8h.9M101.3 287.4h.9M113.9 280.6h.9M105.6 285.3h.9M109.6 286.0h.9M104.0 291.1h.9M109.6 284.0h.9M98.6 292.3h.9M112.7 278.7h.9M97.4 286.0h.9M95.6 291.2h.9M108.2 284.3h.9M108.9 281.2h.9M107.0 281.6h.9M99.4 293.2h.9M111.6 281.9h.9M97.9 287.3h.9M103.7 296.0h.9M101.8 290.6h.9M104.2 287.7h.9M111.3 286.5h.9M102.7 287.2h.9M109.7 290.2h.9M110.4 280.3h.9M96.5 289.3h.9M99.6 290.9h.9M104.2 286.3h.9M103.0 293.7h.9M108.2 281.4h.9M95.2 291.8h.9M110.6 285.6h.9M110.7 286.5h.9M105.4 290.9h.9M98.4 293.1h.9M106.4 294.0h.9M103.3 287.7h.9M109.7 285.9h.9M105.9 290.2h.9M110.6 283.8h.9M103.9 287.9h.9M114.8 280.9h.9M100.5 287.4h.9M109.2 283.9h.9M97.6 287.8h.9M110.7 285.9h.9M99.3 286.7h.9M106.9 293.2h.9M101.1 295.6h.9M103.8 292.2h.9M107.4 286.0h.9M105.8 285.9h.9M104.2 292.3h.9M118.9 280.4h.9M106.4 288.9h.9M100.8 288.4h.9M111.8 287.3h.9M111.2 282.0h.9M113.5 283.4h.9M116.8 275.8h.9M101.0 288.5h.9M112.5 285.1h.9M113.0 282.0h.9M106.4 285.9h.9M107.8 288.8h.9M103.1 293.0h.9M116.8 273.8h.9M96.0 295.1h.9M103.3 290.6h.9M108.1 281.6h.9M109.7 281.3h.9M115.9 284.3h.9M96.2 290.1h.9M106.6 285.2h.9M111.4 286.1h.9M98.8 290.8h.9M106.2 288.8h.9M117.3 278.1h.9M114.0 283.6h.9M109.5 288.7h.9M105.6 281.0h.9M108.6 287.9h.9M104.6 288.5h.9M106.0 284.7h.9M124.3 280.8h.9M105.2 282.7h.9M100.8 296.3h.9M107.8 284.5h.9M104.6 293.1h.9M104.6 288.2h.9M105.9 283.5h.9M110.9 284.9h.9M107.8 287.4h.9M99.4 293.0h.9M105.6 290.9h.9M109.2 282.9h.9M103.7 290.3h.9M113.1 285.5h.9M110.9 283.7h.9M100.7 287.8h.9M108.3 283.2h.9M117.9 282.7h.9M115.4 284.3h.9M106.1 284.9h.9M111.6 280.1h.9M102.5 293.3h.9M98.0 287.5h.9M109.6 285.8h.9M107.8 283.9h.9M109.4 280.1h.9M106.3 287.7h.9M108.3 285.5h.9M103.4 293.4h.9M109.1 292.5h.9M111.2 283.8h.9M106.1 290.5h.9M111.1 287.6h.9M96.1 291.8h.9M101.8 287.3h.9M114.8 287.1h.9M116.6 280.0h.9M107.9 286.3h.9M105.8 286.7h.9M99.0 291.2h.9M108.5 284.1h.9M110.9 286.8h.9M97.8 296.1h.9M109.6 284.2h.9M109.2 281.4h.9M109.0 285.9h.9M99.9 286.6h.9M109.5 283.4h.9M97.7 296.1h.9M115.0 289.1h.9M107.2 287.9h.9M99.7 288.0h.9M114.2 285.0h.9M113.1 276.4h.9M102.6 287.4h.9M119.2 284.2h.9M100.6 292.9h.9M108.2 282.0h.9M113.3 278.1h.9M112.2 283.6h.9M106.0 285.7h.9M106.3 288.5h.9M100.2 289.2h.9M108.3 280.3h.9M100.0 293.5h.9M100.8 288.6h.9M103.8 285.7h.9M99.3 287.4h.9M115.5 282.6h.9M98.7 289.4h.9M102.0 291.7h.9M104.6 287.5h.9M106.4 290.5h.9M111.0 283.3h.9M111.1 282.4h.9M104.6 282.3h.9M104.2 285.2h.9M106.6 289.3h.9M111.2 293.6h.9M110.4 281.0h.9M103.4 285.9h.9M118.8 281.3h.9M111.9 281.9h.9M107.9 286.6h.9M108.4 281.2h.9M103.4 288.1h.9M100.6 293.4h.9M104.5 293.3h.9M105.1 287.5h.9M102.8 288.6h.9M97.9 293.6h.9M104.6 291.7h.9M109.7 286.7h.9M103.5 286.7h.9M106.5 288.2h.9M105.2 285.8h.9M105.7 283.6h.9M99.3 293.0h.9M96.4 294.3h.9M108.8 288.7h.9M101.7 290.3h.9M109.2 283.6h.9M104.0 287.4h.9M110.0 282.0h.9M104.4 285.5h.9M97.7 290.7h.9M105.9 286.1h.9M104.5 291.7h.9M110.2 281.3h.9M103.8 288.7h.9M104.1 286.8h.9M111.4 288.8h.9M113.2 284.0h.9M110.8 283.5h.9M112.4 286.1h.9M109.0 285.9h.9M110.9 283.2h.9M111.5 288.9h.9M108.7 288.0h.9M106.8 292.3h.9M107.2 290.3h.9M120.3 281.3h.9M106.5 287.6h.9M105.0 284.8h.9M104.3 290.7h.9M106.2 287.6h.9M107.8 288.5h.9M99.8 291.1h.9M94.9 292.0h.9M108.1 283.2h.9M97.1 294.9h.9M107.9 290.3h.9M107.2 285.9h.9M113.1 284.7h.9M116.1 285.7h.9M108.5 283.5h.9M103.2 288.1h.9M99.6 287.9h.9M101.8 293.6h.9M106.6 287.9h.9M106.8 282.0h.9M106.3 286.8h.9M110.1 288.1h.9M104.5 287.5h.9M107.0 285.6h.9M102.1 291.8h.9M103.7 285.1h.9M96.1 293.6h.9M107.1 288.7h.9M115.4 279.6h.9M107.3 284.2h.9M108.5 286.8h.9M100.7 290.4h.9M114.7 281.6h.9M102.0 290.6h.9M111.1 285.2h.9M107.0 284.1h.9M100.8 288.6h.9M112.4 285.1h.9M106.5 290.6h.9M107.4 290.8h.9M109.0 283.2h.9M106.3 290.7h.9M104.2 290.9h.9M109.1 285.6h.9M104.1 290.2h.9M106.8 289.6h.9M102.5 295.0h.9M97.8 289.2h.9M102.5 291.4h.9M103.5 288.6h.9M106.5 286.6h.9M113.3 286.7h.9M96.6 295.6h.9M107.1 283.8h.9M100.3 291.6h.9M103.5 284.8h.9M95.6 293.5h.9M107.3 287.3h.9M106.9 288.0h.9M105.7 293.1h.9M101.7 290.2h.9M118.9 278.8h.9M105.5 293.1h.9M101.4 288.8h.9M116.1 279.9h.9M110.0 281.0h.9M104.2 291.8h.9M113.3 284.0h.9M107.3 288.2h.9M110.1 285.6h.9M107.8 286.1h.9M100.4 288.5h.9M112.0 281.6h.9M107.3 288.1h.9M100.5 291.2h.9M102.0 294.9h.9M111.9 281.7h.9M104.3 287.1h.9M106.7 284.1h.9M110.2 289.2h.9M107.1 283.2h.9M97.5 294.9h.9M110.1 289.4h.9M111.8 283.7h.9M111.4 286.5h.9M115.8 275.3h.9M108.5 284.9h.9M110.9 279.6h.9M115.6 282.4h.9M104.7 288.3h.9M116.5 279.0h.9M116.5 284.2h.9M110.9 285.7h.9M117.1 279.4h.9M111.3 282.8h.9M101.3 285.9h.9M113.0 282.8h.9M108.3 292.6h.9M108.8 283.8h.9M107.3 288.1h.9M114.3 281.0h.9M109.6 287.8h.9M102.4 291.0h.9M109.2 284.9h.9M110.6 279.4h.9M102.2 288.3h.9M103.9 292.4h.9M104.2 287.9h.9M102.9 291.3h.9M108.4 284.7h.9M112.3 278.2h.9M117.4 282.1h.9M113.3 284.2h.9M112.3 282.1h.9M113.0 282.3h.9M114.1 283.6h.9M104.2 286.8h.9M110.4 286.0h.9M108.3 285.6h.9M105.6 280.7h.9M103.8 288.5h.9M103.5 287.3h.9M104.8 285.7h.9M99.2 292.8h.9M109.4 284.1h.9M106.3 289.0h.9M107.0 290.3h.9M108.4 286.6h.9M110.6 280.2h.9M103.0 287.2h.9M105.8 290.4h.9M97.1 292.1h.9M95.1 293.8h.9M115.3 283.5h.9M95.8 294.4h.9M109.1 287.6h.9M115.0 279.8h.9M103.7 288.1h.9M115.9 281.0h.9M117.1 280.9h.9M111.9 277.8h.9M120.2 278.4h.9M110.0 281.2h.9M102.2 294.0h.9M109.4 290.2h.9M103.8 293.9h.9M98.9 294.3h.9M99.0 290.3h.9M119.8 282.2h.9M103.3 288.6h.9M106.3 289.2h.9M102.6 286.9h.9M107.2 285.1h.9M105.1 289.5h.9M104.1 294.1h.9M99.4 291.4h.9M108.2 282.4h.9M118.5 280.1h.9M112.6 280.8h.9M117.1 280.6h.9M109.3 284.0h.9M106.0 287.4h.9M98.8 294.8h.9M106.5 290.1h.9M104.8 288.3h.9M115.9 282.0h.9M108.4 286.5h.9M113.1 285.1h.9M104.3 288.6h.9M98.5 293.5h.9M103.7 285.0h.9M104.2 291.0h.9M113.5 288.4h.9M118.0 281.0h.9M102.2 285.6h.9M104.4 292.6h.9M105.7 286.8h.9M104.5 279.5h.9M99.3 290.9h.9M107.1 288.8h.9M108.6 287.2h.9M108.8 289.7h.9M99.5 293.3h.9M105.9 288.0h.9M96.5 287.3h.9M111.8 280.8h.9M100.6 291.3h.9M105.0 290.3h.9M104.0 285.7h.9M103.2 287.4h.9M100.4 292.3h.9M96.3 287.6h.9M116.6 275.4h.9M108.0 285.7h.9M108.1 287.1h.9M118.7 278.6h.9M106.0 280.7h.9M109.8 285.4h.9M106.7 283.2h.9M113.5 285.1h.9M109.5 285.2h.9M108.4 287.0h.9M105.1 290.1h.9M108.2 284.7h.9M113.3 285.7h.9M105.8 288.9h.9M104.2 292.7h.9M104.8 286.4h.9M95.1 296.8h.9M110.8 285.5h.9M101.7 287.2h.9M105.3 287.8h.9M103.7 287.4h.9M96.9 291.3h.9M104.0 289.1h.9M95.9 296.8h.9M101.1 289.5h.9M104.8 288.7h.9M106.6 282.8h.9M106.9 287.4h.9M105.8 291.2h.9M119.0 282.3h.9M109.1 287.2h.9M99.5 289.9h.9M103.0 286.4h.9M102.8 289.2h.9M105.6 283.8h.9M103.1 285.6h.9M101.6 293.0h.9M116.2 278.8h.9M106.8 292.5h.9M104.6 284.1h.9M105.1 289.4h.9M105.3 284.5h.9M114.7 283.0h.9M109.4 282.5h.9M113.1 283.5h.9M108.5 284.8h.9M112.7 285.1h.9M118.0 285.0h.9M106.8 285.4h.9M96.6 295.8h.9M110.0 285.5h.9M103.1 289.2h.9M103.0 282.8h.9M112.7 281.5h.9M113.6 277.6h.9M110.8 283.8h.9M100.5 290.2h.9M121.2 290.0h.9M99.8 292.3h.9M106.2 292.9h.9M98.2 296.1h.9M114.3 281.4h.9M109.2 287.1h.9M111.8 289.2h.9M107.1 287.4h.9M106.2 288.1h.9M107.6 288.1h.9M95.7 289.2h.9M112.4 281.4h.9M111.9 285.1h.9M104.4 290.2h.9M106.6 284.5h.9M108.4 285.2h.9M115.7 281.4h.9M109.1 285.3h.9M106.9 289.2h.9M103.7 289.3h.9M97.9 292.9h.9M103.2 285.0h.9M107.1 283.8h.9M105.2 289.1h.9M107.1 282.1h.9M111.0 285.5h.9M109.2 283.7h.9M108.3 283.8h.9M110.5 286.9h.9M107.7 284.5h.9M106.5 284.7h.9M109.4 283.5h.9M96.6 293.3h.9M113.9 291.2h.9M99.2 285.2h.9M111.5 284.2h.9M106.7 286.4h.9M113.1 286.2h.9M106.9 285.9h.9M101.2 283.0h.9M112.9 287.5h.9M107.8 283.2h.9M107.4 286.6h.9M107.2 282.8h.9M112.5 280.4h.9M111.4 282.8h.9M108.0 289.0h.9M97.7 295.1h.9M104.4 286.7h.9M107.3 288.3h.9M117.1 279.8h.9M108.9 286.2h.9M106.2 287.9h.9M113.6 284.9h.9M106.1 285.7h.9M106.5 286.8h.9M107.6 287.3h.9M98.0 292.6h.9M112.3 281.4h.9M109.2 290.9h.9M105.1 286.7h.9M100.1 293.4h.9M108.0 287.0h.9M114.8 286.0h.9M103.0 282.7h.9M100.6 297.0h.9M109.2 285.0h.9M97.5 288.9h.9M104.1 295.5h.9M102.7 291.0h.9M105.1 284.4h.9M103.5 287.6h.9M108.7 290.0h.9M105.4 283.6h.9M103.3 288.6h.9M104.1 287.8h.9M110.4 291.5h.9M112.3 282.9h.9M112.0 288.0h.9M110.8 282.7h.9M100.9 293.6h.9M104.9 290.1h.9M107.9 281.2h.9M97.4 294.6h.9M115.0 284.1h.9M108.5 284.2h.9M103.1 289.9h.9M107.7 287.4h.9M104.7 286.8h.9M102.3 288.0h.9M109.7 283.3h.9M104.1 287.8h.9M98.6 287.9h.9M103.1 289.2h.9M106.1 283.0h.9M100.5 291.0h.9M114.1 282.5h.9M100.4 287.7h.9M116.9 283.6h.9M111.9 289.9h.9M101.3 294.3h.9M107.5 282.5h.9M113.6 286.9h.9M105.7 288.4h.9M99.8 291.0h.9M107.4 284.9h.9M118.3 280.2h.9M98.1 296.4h.9M110.0 286.8h.9M106.8 285.8h.9M106.1 285.5h.9M104.5 287.2h.9M104.9 289.9h.9M112.8 289.1h.9M110.2 281.8h.9M101.0 290.5h.9M115.8 280.5h.9M99.3 289.3h.9M110.6 286.0h.9M107.9 288.1h.9M113.8 278.6h.9M108.9 282.7h.9M112.9 287.0h.9M106.7 288.1h.9M112.4 285.3h.9M108.8 284.4h.9M119.3 278.5h.9M102.8 290.8h.9M113.7 281.4h.9M109.5 282.1h.9M107.8 286.4h.9M103.5 291.7h.9M109.4 282.4h.9M98.3 295.3h.9M98.9 293.9h.9M111.0 282.0h.9M97.8 292.4h.9M115.2 282.0h.9M105.2 289.9h.9M108.3 288.2h.9M107.3 282.9h.9M109.3 281.5h.9M105.2 291.1h.9M104.7 288.6h.9M106.1 288.7h.9M112.9 284.4h.9M113.4 287.7h.9M114.2 279.0h.9M109.0 289.1h.9M105.7 285.3h.9M97.1 295.0h.9M110.6 288.9h.9M111.7 280.0h.9M104.5 289.6h.9M111.5 283.4h.9M114.3 281.7h.9M107.4 286.8h.9M113.0 280.2h.9M108.6 283.1h.9M96.8 295.0h.9M104.1 291.2h.9M100.6 287.5h.9M97.1 294.1h.9M112.0 283.9h.9M107.2 292.2h.9M104.3 295.4h.9M98.8 289.9h.9M100.6 293.9h.9M103.8 291.7h.9M99.1 293.5h.9M109.2 284.7h.9M103.4 292.3h.9M104.4 290.5h.9M98.8 293.8h.9M99.3 291.4h.9M99.7 294.7h.9M104.0 291.1h.9M101.8 292.9h.9M101.7 295.1h.9M104.1 290.8h.9M103.8 293.4h.9M108.7 289.8h.9M102.1 292.3h.9M98.9 289.9h.9M102.8 292.9h.9M108.6 292.9h.9M100.7 290.8h.9M103.1 292.9h.9M101.5 292.2h.9M104.5 286.7h.9M103.9 291.4h.9M99.7 295.4h.9M102.0 289.2h.9M106.6 284.1h.9M107.2 290.1h.9M106.5 287.6h.9M106.3 295.6h.9M101.6 290.7h.9M101.4 290.9h.9M106.5 287.7h.9M98.3 292.5h.9M102.6 288.8h.9M95.6 289.5h.9M101.4 290.7h.9M100.1 288.7h.9M98.1 295.8h.9M105.1 286.4h.9M100.0 291.0h.9M101.4 288.8h.9M101.9 286.5h.9M100.0 296.4h.9M108.5 282.7h.9M100.9 295.5h.9M103.6 286.0h.9M97.7 292.1h.9M101.6 284.3h.9M101.7 286.6h.9M100.6 295.2h.9M103.4 290.9h.9M109.0 287.3h.9M102.3 290.6h.9M102.3 287.7h.9M101.3 291.3h.9M112.8 292.7h.9M109.2 287.8h.9M105.1 290.4h.9M105.6 293.6h.9M100.1 297.4h.9M102.3 288.9h.9M103.7 291.3h.9M103.3 288.7h.9M99.5 289.4h.9M99.8 290.1h.9M104.9 288.1h.9M104.1 284.9h.9M94.6 286.5h.9M103.2 288.2h.9M107.9 289.7h.9M100.3 294.9h.9M103.8 288.7h.9M97.2 291.4h.9M106.1 291.8h.9M98.5 293.9h.9M98.0 291.4h.9M101.6 290.7h.9M112.2 294.0h.9M100.5 290.1h.9M97.9 290.3h.9M104.7 285.1h.9M103.8 291.7h.9M109.4 288.1h.9M97.9 297.7h.9M96.6 291.1h.9M101.6 293.4h.9M104.4 293.1h.9M104.3 295.3h.9M107.1 285.4h.9M97.0 296.8h.9M99.6 291.4h.9M102.4 290.3h.9M106.2 288.8h.9M104.7 288.9h.9M101.2 289.9h.9M98.9 284.3h.9M106.3 291.3h.9M106.6 289.8h.9M113.5 285.0h.9M102.2 290.5h.9M109.2 296.0h.9M98.1 292.9h.9M100.7 289.9h.9M100.2 296.5h.9M101.1 288.5h.9M99.4 290.9h.9M100.8 289.4h.9M102.7 289.9h.9M101.1 293.2h.9M105.5 291.7h.9M102.6 288.4h.9M102.9 290.1h.9M108.7 289.4h.9M104.1 289.0h.9M103.5 290.3h.9M102.8 288.3h.9M103.1 288.2h.9M105.1 290.1h.9M99.7 288.1h.9M107.4 290.7h.9M109.0 288.4h.9M107.4 286.6h.9M101.0 289.1h.9M96.6 290.6h.9M101.2 290.5h.9M103.5 290.7h.9M106.1 289.1h.9M102.2 288.0h.9M101.7 295.2h.9M108.8 291.8h.9M100.3 291.5h.9M107.1 292.4h.9M106.4 290.6h.9M97.7 291.0h.9M104.0 290.5h.9M99.2 294.5h.9M95.6 295.5h.9M96.7 290.8h.9M104.5 292.0h.9M101.4 297.8h.9M104.0 291.6h.9M98.7 294.8h.9M101.6 294.7h.9M101.8 292.8h.9M96.8 296.8h.9M96.4 292.8h.9M104.6 291.6h.9M103.5 288.5h.9M102.5 291.5h.9M105.5 290.2h.9M110.1 293.0h.9M99.4 289.9h.9M105.3 289.9h.9M111.2 286.1h.9M103.1 290.5h.9M108.6 287.9h.9M108.6 288.7h.9M102.8 288.7h.9M95.5 291.4h.9M105.9 289.4h.9M107.0 287.9h.9M107.6 292.2h.9M107.6 291.4h.9M102.8 291.0h.9M100.0 287.6h.9M101.1 292.5h.9M102.7 286.7h.9M104.5 290.7h.9M101.0 291.1h.9M103.1 288.7h.9M106.3 287.1h.9M104.2 288.1h.9M111.9 294.5h.9M111.3 287.6h.9M98.4 291.0h.9M100.7 294.0h.9M97.7 293.1h.9M98.3 294.9h.9M105.0 286.3h.9M99.0 288.2h.9M101.8 290.6h.9M106.0 288.9h.9M101.5 291.3h.9M101.5 293.9h.9M106.5 286.0h.9M104.7 290.9h.9M104.7 290.0h.9M106.6 291.6h.9M98.9 292.0h.9M103.7 288.7h.9M100.4 288.5h.9M106.9 282.1h.9M106.1 292.7h.9M98.8 287.1h.9M108.1 288.0h.9M98.3 296.7h.9M107.5 288.1h.9M103.7 292.2h.9M99.5 290.7h.9M98.5 293.7h.9M101.7 290.9h.9M102.8 289.0h.9M100.1 295.3h.9M105.1 289.2h.9M97.4 287.8h.9M102.9 289.5h.9M102.9 292.1h.9M95.5 289.0h.9M104.1 292.6h.9M97.9 294.1h.9M100.5 289.2h.9M102.0 292.7h.9M106.4 284.6h.9M101.0 289.7h.9M108.7 289.4h.9M108.5 290.3h.9M107.2 289.3h.9M108.1 288.9h.9M104.3 288.3h.9M100.7 289.7h.9M105.4 290.8h.9M106.7 291.3h.9M103.8 292.2h.9M101.9 293.8h.9M96.7 295.6h.9M105.5 284.4h.9M104.3 288.6h.9M97.7 291.3h.9M103.3 288.5h.9M105.7 293.0h.9M102.4 292.9h.9M106.0 289.4h.9M105.9 290.1h.9M97.1 295.8h.9M101.7 289.8h.9M104.8 289.1h.9M106.5 292.4h.9M108.4 290.6h.9M95.3 296.7h.9M102.6 291.7h.9M105.7 292.1h.9M107.7 287.7h.9M109.5 286.0h.9M99.2 291.4h.9M101.4 282.9h.9M98.7 292.8h.9M106.1 292.6h.9M97.7 292.0h.9M107.6 288.7h.9M106.6 292.9h.9M104.8 289.9h.9M100.2 297.8h.9M105.8 292.0h.9M97.3 294.7h.9M101.9 292.2h.9M102.5 291.4h.9M106.4 290.5h.9M104.0 290.4h.9M104.0 293.5h.9M101.1 286.1h.9M102.9 289.7h.9M102.3 292.6h.9M105.8 287.3h.9M102.2 290.4h.9M107.0 287.4h.9M96.2 293.5h.9M107.6 291.9h.9M102.2 295.1h.9M107.3 290.9h.9M103.2 288.3h.9M106.3 290.4h.9M108.8 290.8h.9M100.7 295.3h.9M103.2 284.0h.9M102.2 291.8h.9M103.7 284.8h.9M96.5 294.3h.9M102.2 292.0h.9M101.9 292.3h.9M99.8 293.9h.9M102.1 291.9h.9M96.8 290.1h.9M108.4 290.2h.9M104.6 293.7h.9M110.3 288.3h.9M99.4 291.5h.9M98.3 288.0h.9M104.0 293.7h.9M96.3 290.6h.9M103.8 288.1h.9M100.1 289.9h.9M101.5 288.3h.9M103.9 289.5h.9M103.0 294.3h.9M110.2 291.1h.9M105.4 294.2h.9M97.8 296.2h.9M106.7 286.9h.9M97.6 293.3h.9M103.2 294.9h.9M99.6 287.1h.9M108.1 285.0h.9M100.7 292.5h.9M100.3 290.1h.9M100.6 288.1h.9M101.6 292.0h.9M108.6 286.7h.9M98.2 284.9h.9M98.0 291.7h.9M105.1 290.3h.9M96.5 294.0h.9M101.4 293.7h.9M107.3 290.0h.9M102.9 289.8h.9M100.9 289.0h.9M100.0 286.3h.9M99.2 290.1h.9M100.5 294.1h.9M103.4 292.3h.9M107.8 295.5h.9M106.7 289.1h.9M100.6 285.7h.9M99.9 293.7h.9M105.6 293.0h.9M95.7 288.8h.9M101.1 286.1h.9M101.5 291.3h.9M98.4 293.7h.9M98.9 288.1h.9M104.2 289.2h.9M96.3 289.8h.9M99.2 287.9h.9M100.2 287.2h.9M103.1 290.9h.9M97.4 290.7h.9M107.1 287.4h.9M101.6 283.0h.9M101.8 296.0h.9M101.3 288.0h.9M100.1 290.8h.9M98.9 288.1h.9M107.3 290.5h.9M103.6 285.8h.9M102.3 290.9h.9M106.7 289.0h.9M99.9 294.0h.9M105.2 286.6h.9M102.8 288.5h.9M99.2 290.7h.9M105.7 296.1h.9M96.8 287.5h.9M105.3 290.7h.9M99.2 289.4h.9M104.3 291.0h.9M108.2 291.1h.9M105.0 290.4h.9M100.3 291.9h.9M102.6 291.4h.9M101.3 289.1h.9M98.1 291.0h.9M98.3 286.6h.9M102.9 289.4h.9M104.8 287.7h.9M95.7 291.5h.9M102.4 292.8h.9M104.7 291.2h.9M103.1 291.8h.9M98.7 294.8h.9M106.8 282.3h.9M97.9 293.0h.9M105.2 289.8h.9M109.0 288.7h.9M94.6 288.6h.9M103.7 291.9h.9M103.9 293.7h.9M103.6 293.4h.9M99.6 291.0h.9M101.4 292.7h.9M97.2 294.6h.9M103.2 295.9h.9M104.8 293.7h.9M100.0 291.6h.9M99.0 291.7h.9M100.8 291.5h.9M102.6 291.2h.9M102.9 289.0h.9M102.2 292.9h.9M102.9 288.4h.9M97.5 289.4h.9M105.1 288.2h.9M108.2 288.4h.9M97.1 285.6h.9M100.0 293.5h.9M103.8 290.2h.9M106.4 289.2h.9M105.2 291.3h.9M107.6 289.9h.9M102.4 288.5h.9M104.2 296.1h.9M104.2 288.8h.9M100.9 293.9h.9M107.3 294.8h.9M105.1 288.0h.9M106.5 289.8h.9M101.1 288.4h.9M106.7 292.7h.9M98.5 290.5h.9M104.2 286.8h.9M98.7 294.2h.9M105.5 287.1h.9M100.8 294.5h.9M103.3 290.9h.9M108.7 294.2h.9M104.9 288.3h.9M102.5 289.7h.9M104.2 287.5h.9M103.9 290.6h.9M108.1 289.3h.9M103.4 292.5h.9M96.8 292.2h.9M101.6 286.3h.9M107.6 286.8h.9M104.8 294.2h.9M101.0 294.4h.9M105.0 289.4h.9M103.1 290.0h.9M105.0 289.4h.9M96.4 292.1h.9M99.1 286.3h.9M105.2 292.5h.9M101.7 288.7h.9M104.0 290.6h.9M110.3 281.0h.9M101.4 291.5h.9M103.5 294.3h.9M100.4 284.3h.9M100.2 295.7h.9M102.3 292.0h.9M96.9 289.7h.9M107.9 292.7h.9M102.2 291.4h.9M107.0 291.2h.9M103.1 289.6h.9M103.2 288.0h.9M105.2 292.5h.9M105.4 286.9h.9M97.9 294.4h.9M107.3 284.3h.9M98.8 288.7h.9M103.4 285.9h.9M112.6 292.0h.9M102.9 285.2h.9M109.1 285.5h.9M101.2 292.8h.9M105.0 290.6h.9M102.8 297.0h.9M104.2 295.6h.9M99.3 293.2h.9M99.0 293.5h.9M103.9 284.7h.9M96.5 289.4h.9M99.3 290.3h.9M105.1 289.3h.9M100.2 287.0h.9M99.1 288.6h.9M98.3 289.0h.9M103.2 293.6h.9M101.2 292.1h.9M103.2 289.4h.9M101.9 289.8h.9M109.8 289.6h.9M100.9 288.8h.9M95.0 291.6h.9M103.1 285.2h.9M102.6 292.5h.9M103.2 293.2h.9M96.3 293.1h.9M107.0 290.8h.9M102.5 291.6h.9M102.4 296.7h.9M96.4 292.6h.9M104.5 286.1h.9M102.4 287.4h.9M107.9 291.3h.9M101.0 294.1h.9M97.8 294.0h.9M103.1 292.9h.9M99.0 291.9h.9M104.2 285.6h.9M98.4 289.4h.9M102.1 285.2h.9M101.7 289.5h.9M102.5 286.4h.9M100.6 291.3h.9M99.5 290.8h.9M102.4 284.7h.9M100.4 293.3h.9M103.2 292.6h.9M101.5 286.6h.9M102.4 292.7h.9M108.0 288.3h.9M103.8 292.8h.9M104.9 290.5h.9M104.4 293.3h.9M100.8 291.5h.9M97.4 291.3h.9M105.8 291.2h.9M106.7 291.8h.9M104.8 290.7h.9M104.3 288.7h.9M104.1 287.7h.9M102.5 289.4h.9M103.7 288.5h.9M102.7 291.1h.9M103.9 290.7h.9M99.0 291.1h.9M100.2 291.1h.9M104.8 290.4h.9M101.3 295.5h.9M103.1 288.6h.9M110.0 287.6h.9M105.4 289.5h.9M105.2 289.1h.9M100.1 289.2h.9M98.3 287.4h.9M101.8 283.2h.9M102.7 291.0h.9M99.7 294.8h.9M103.2 287.5h.9M105.3 291.3h.9M104.9 288.7h.9M98.6 292.3h.9M102.6 289.7h.9M100.1 290.7h.9M104.3 282.8h.9M108.9 289.5h.9M108.9 288.5h.9M103.7 282.6h.9M106.9 291.3h.9M108.9 288.8h.9M102.8 291.0h.9M103.7 291.3h.9M105.9 288.4h.9M102.5 287.2h.9M100.7 289.5h.9M99.8 289.8h.9M102.7 297.2h.9M100.3 296.6h.9M105.7 288.2h.9M101.4 289.5h.9M108.3 290.0h.9M107.3 291.0h.9M97.9 289.5h.9M106.8 286.3h.9M101.1 296.7h.9M107.9 292.3h.9M104.6 285.2h.9M102.5 285.1h.9M105.3 287.2h.9M100.6 291.6h.9M103.9 291.8h.9M104.2 289.0h.9M102.1 285.6h.9M104.2 290.7h.9M98.9 293.2h.9M104.8 289.9h.9M98.1 290.0h.9M105.1 291.6h.9M104.5 289.8h.9M105.4 286.3h.9M100.6 291.2h.9M114.3 283.6h.9M101.9 293.5h.9M103.3 291.7h.9M99.9 288.0h.9M108.2 289.7h.9M100.9 294.6h.9M106.5 282.9h.9M99.1 290.8h.9M103.9 295.1h.9M101.3 286.0h.9M106.3 289.0h.9M101.7 286.3h.9M99.5 291.0h.9M104.5 282.6h.9M98.2 286.5h.9M99.1 289.6h.9M105.7 290.1h.9M95.7 293.3h.9M105.7 291.0h.9M101.3 294.3h.9M99.3 293.4h.9M103.7 292.4h.9M105.2 286.8h.9M100.6 290.4h.9M105.8 296.6h.9M105.7 292.2h.9M102.6 292.7h.9M99.9 294.1h.9M99.2 290.0h.9M100.6 296.9h.9M105.4 288.6h.9M105.0 289.6h.9M104.0 296.8h.9M108.1 282.6h.9M101.7 291.7h.9M101.4 285.4h.9M101.4 288.7h.9M110.1 288.3h.9M95.1 291.2h.9M104.0 290.6h.9M104.5 287.6h.9M103.1 290.0h.9M111.7 284.5h.9M107.3 288.0h.9M105.8 285.3h.9M99.5 293.2h.9M104.8 285.9h.9M101.5 292.8h.9M103.1 289.0h.9M103.6 289.2h.9M101.1 294.4h.9M105.3 290.1h.9M109.0 282.9h.9M106.8 290.9h.9M103.7 281.1h.9M95.6 293.0h.9M107.0 288.1h.9M107.0 285.0h.9M102.2 290.8h.9M101.1 289.8h.9M105.4 295.9h.9M99.9 289.7h.9M105.9 295.6h.9M98.9 295.6h.9M99.5 289.3h.9M103.0 287.8h.9M97.5 295.8h.9M102.9 289.9h.9M104.9 290.3h.9M98.0 290.8h.9M106.4 285.7h.9M100.8 289.7h.9M105.0 286.8h.9M103.8 285.3h.9M101.2 289.8h.9M101.0 296.4h.9M96.5 297.0h.9M100.3 290.8h.9M100.1 291.5h.9M109.1 290.4h.9M106.8 293.6h.9M97.8 292.6h.9M106.0 288.1h.9M103.8 288.9h.9M101.5 294.2h.9M105.9 287.6h.9M100.8 284.4h.9M101.9 293.1h.9M103.6 289.9h.9M99.3 291.7h.9M103.7 294.0h.9M102.7 290.6h.9M100.4 286.8h.9M99.8 284.9h.9M104.1 289.9h.9M106.3 285.9h.9M104.2 290.9h.9M99.8 287.1h.9M105.8 288.5h.9M103.6 285.5h.9M105.2 288.6h.9M107.3 287.8h.9M99.6 293.0h.9M102.5 294.7h.9M100.7 290.3h.9M99.7 288.4h.9M110.5 294.6h.9M106.5 290.6h.9M96.4 293.9h.9M104.6 291.8h.9M100.9 295.4h.9M107.3 292.4h.9M103.3 292.4h.9M102.3 292.9h.9M103.5 287.5h.9M104.4 288.1h.9M103.1 290.0h.9M102.2 290.8h.9M102.5 290.5h.9M104.9 290.8h.9M98.8 291.4h.9M103.0 289.0h.9M102.5 285.3h.9M101.2 293.4h.9M105.7 291.5h.9M98.2 288.8h.9M101.6 292.2h.9M99.8 292.3h.9M105.0 290.0h.9M101.2 285.0h.9M103.2 286.5h.9M104.4 288.1h.9M97.0 296.9h.9M104.7 287.2h.9M100.2 289.9h.9M102.0 287.1h.9M102.6 288.9h.9M106.0 290.6h.9M105.8 283.1h.9M109.6 279.8h.9M103.7 292.2h.9M101.2 290.9h.9M101.1 288.9h.9M105.4 292.8h.9M109.0 291.9h.9M104.3 283.4h.9M100.8 290.3h.9M104.0 293.5h.9M104.0 288.0h.9M103.1 289.3h.9M100.2 294.0h.9M101.0 287.1h.9M106.9 287.2h.9M103.8 286.0h.9M94.7 294.1h.9M103.0 284.9h.9M96.1 295.2h.9M110.4 283.3h.9M103.7 290.3h.9M98.5 286.8h.9M106.0 288.6h.9M100.1 294.3h.9M105.1 293.3h.9M103.1 294.4h.9M98.6 291.1h.9M105.5 290.0h.9M98.0 292.3h.9M108.0 291.0h.9M103.2 289.0h.9M99.2 294.7h.9M96.2 293.0h.9M109.0 292.4h.9M108.4 290.5h.9M98.3 293.6h.9M109.2 286.5h.9M103.6 288.9h.9M102.2 286.5h.9M102.7 289.5h.9M102.0 290.0h.9M108.3 291.6h.9M103.6 286.2h.9M110.8 288.0h.9M106.3 293.5h.9M98.9 294.6h.9M101.7 282.7h.9M99.6 290.3h.9M103.2 294.9h.9M104.5 282.3h.9M103.9 292.5h.9M100.8 288.0h.9M100.0 289.6h.9M106.2 290.2h.9M102.6 284.5h.9M111.4 288.9h.9M100.0 289.0h.9M105.9 287.2h.9M103.2 292.5h.9M108.1 290.1h.9M103.5 291.9h.9M99.7 291.0h.9M101.8 288.3h.9M106.8 290.2h.9M98.4 296.2h.9M108.2 289.6h.9M105.6 292.5h.9M102.0 289.9h.9M108.1 297.0h.9M109.5 283.5h.9M105.2 291.6h.9M103.6 291.9h.9M109.9 289.4h.9M108.6 285.4h.9M99.5 287.6h.9M102.2 289.8h.9M102.2 290.8h.9M101.5 286.9h.9M97.4 288.3h.9M106.4 291.2h.9M103.3 293.5h.9M103.4 288.4h.9M108.3 286.8h.9M100.9 288.5h.9M104.0 291.6h.9M101.4 290.5h.9M102.6 293.6h.9M105.9 296.8h.9M103.0 294.0h.9M108.0 284.6h.9M100.2 290.7h.9M103.8 288.8h.9M97.6 290.5h.9M102.6 286.6h.9M100.4 289.7h.9M108.1 285.6h.9M105.8 290.7h.9M104.9 289.9h.9M109.9 284.1h.9M108.4 283.6h.9M105.7 288.1h.9M100.4 293.0h.9M97.6 293.2h.9M102.9 290.1h.9M101.7 280.2h.9M100.6 289.3h.9M101.9 288.2h.9M96.8 290.8h.9M108.6 285.0h.9M98.7 290.0h.9M100.5 288.8h.9M96.9 294.0h.9M106.5 288.8h.9M106.5 289.2h.9M101.8 290.2h.9M98.9 291.9h.9M101.2 289.4h.9M96.0 291.9h.9M108.2 292.2h.9M103.2 292.8h.9M100.2 291.9h.9M99.6 295.3h.9M105.2 290.4h.9M108.7 285.8h.9M98.2 285.9h.9M100.8 288.6h.9M96.4 291.7h.9M105.6 290.9h.9M103.6 293.5h.9M111.5 286.3h.9M102.5 287.8h.9M101.4 293.1h.9M100.3 294.7h.9M106.2 288.0h.9M96.8 292.9h.9M105.8 293.9h.9M103.9 291.1h.9M101.1 290.6h.9M99.6 284.6h.9M107.0 293.5h.9M110.1 290.6h.9M101.3 291.1h.9M105.0 288.3h.9M109.6 284.7h.9M100.7 290.5h.9M102.0 290.2h.9M98.4 294.9h.9M102.4 286.6h.9M102.7 294.9h.9M101.4 290.8h.9M100.2 294.7h.9M97.0 288.7h.9M97.9 292.6h.9M99.3 295.0h.9M105.4 290.0h.9M101.1 286.1h.9M99.8 290.0h.9M105.5 291.3h.9M105.1 285.3h.9M100.1 286.4h.9M100.6 291.6h.9M105.5 286.7h.9M104.4 292.1h.9M99.8 287.4h.9M103.9 284.3h.9M102.9 287.9h.9M107.2 293.9h.9M99.7 288.4h.9M106.4 289.4h.9M104.6 290.6h.9M99.2 288.2h.9M107.0 292.7h.9M106.5 290.0h.9M98.0 292.9h.9M110.6 283.1h.9M98.6 285.8h.9M99.5 282.5h.9M101.8 290.0h.9M105.9 288.8h.9M105.2 292.0h.9M102.6 295.1h.9M108.2 288.2h.9M104.5 289.0h.9M108.3 290.4h.9M113.8 292.4h.9M103.7 287.5h.9M101.3 289.9h.9M98.9 290.2h.9M103.4 292.8h.9M103.4 287.7h.9M98.3 288.1h.9M98.6 293.5h.9M102.0 290.5h.9M102.2 289.6h.9M106.7 290.9h.9M103.1 289.1h.9M103.0 292.7h.9M104.1 291.3h.9M99.1 295.9h.9M102.8 294.3h.9M107.0 292.0h.9M107.2 288.6h.9M104.8 290.2h.9M101.9 288.7h.9M108.1 288.3h.9M105.0 291.5h.9M101.4 295.0h.9M99.6 288.5h.9M95.5 290.9h.9M107.8 286.0h.9M103.7 286.1h.9M100.1 289.4h.9M101.9 294.6h.9M113.1 290.1h.9M107.7 289.2h.9M97.8 291.7h.9M102.5 285.2h.9M98.2 293.7h.9M96.3 293.3h.9M103.7 286.7h.9M112.4 288.6h.9M109.1 288.2h.9M103.2 288.6h.9M101.5 287.5h.9M103.8 288.0h.9M107.1 286.3h.9M97.3 293.2h.9M95.7 293.3h.9M110.4 289.5h.9M104.1 289.5h.9M109.3 287.5h.9M103.9 296.5h.9M108.8 283.0h.9M100.6 294.7h.9M105.0 290.9h.9M109.1 289.0h.9M107.0 287.7h.9M101.2 290.1h.9M106.5 285.7h.9M100.4 286.6h.9M97.4 291.3h.9M105.1 284.6h.9M108.5 291.6h.9M106.4 293.0h.9M98.0 280.7h.9M106.4 284.6h.9M105.7 290.5h.9M101.2 291.4h.9M107.0 290.6h.9M106.5 291.8h.9M105.0 292.5h.9M96.1 297.6h.9M97.1 291.9h.9M107.0 292.0h.9M106.2 284.4h.9M105.0 289.4h.9M102.0 286.7h.9M104.6 294.3h.9M101.8 292.3h.9M99.6 287.1h.9M104.0 289.7h.9M101.3 290.8h.9M106.8 290.0h.9M105.9 293.0h.9M99.8 294.1h.9M110.3 280.2h.9M98.5 295.7h.9M104.8 288.3h.9M107.3 287.5h.9M108.1 293.5h.9M107.0 285.0h.9M107.9 284.9h.9M108.7 289.1h.9M100.3 295.7h.9M102.6 289.9h.9M101.2 289.3h.9M108.3 294.1h.9M100.3 289.6h.9M107.9 293.7h.9M105.2 290.5h.9M97.2 292.5h.9M99.0 290.6h.9M101.1 291.7h.9M103.4 288.8h.9M107.0 287.2h.9M102.3 290.1h.9M106.6 287.4h.9M96.7 292.8h.9M101.7 289.8h.9M104.8 289.2h.9M101.6 290.0h.9M99.0 296.8h.9M104.7 289.9h.9M110.7 286.5h.9M102.6 289.5h.9M100.1 293.1h.9M99.6 290.5h.9M110.9 287.9h.9M102.8 289.6h.9M105.4 290.2h.9M107.9 290.3h.9M107.3 290.7h.9M99.3 286.1h.9M106.8 286.0h.9M106.4 281.2h.9M105.0 292.4h.9M107.0 292.8h.9M100.8 295.0h.9M102.7 290.9h.9M100.9 294.5h.9M106.0 289.5h.9M100.4 290.6h.9M104.6 285.1h.9M98.6 288.9h.9M102.5 288.6h.9M101.6 293.6h.9M102.5 295.7h.9M103.5 288.7h.9M102.3 291.7h.9M102.1 291.4h.9M94.7 289.9h.9M107.4 283.8h.9M100.5 288.6h.9M102.0 286.0h.9M99.7 290.1h.9M107.0 288.9h.9M99.4 290.6h.9M105.0 289.3h.9M107.7 290.7h.9M109.6 285.8h.9M107.8 291.9h.9M105.5 284.4h.9M98.2 291.7h.9M108.2 290.3h.9M107.8 286.7h.9M106.4 284.5h.9M106.2 291.5h.9M103.3 288.1h.9M101.0 293.3h.9M107.3 291.7h.9M108.1 289.0h.9M98.9 291.3h.9M106.7 292.5h.9M104.0 291.2h.9M106.6 286.5h.9M104.1 290.6h.9M107.5 290.9h.9M107.1 289.9h.9M106.6 290.0h.9M97.5 291.2h.9M106.3 289.1h.9M103.2 287.3h.9M95.6 294.6h.9M112.1 281.7h.9M100.7 282.7h.9M106.3 285.9h.9M95.1 290.9h.9M105.8 291.1h.9M99.5 289.0h.9M124.0 286.3h.9M98.2 289.7h.9M98.6 290.5h.9M110.9 291.0h.9M112.2 290.4h.9M106.5 290.2h.9M110.5 286.5h.9M96.9 293.8h.9M109.2 286.4h.9M101.4 296.9h.9M98.4 290.0h.9M102.5 290.8h.9M101.8 286.3h.9M95.8 289.0h.9M119.3 288.0h.9M101.9 289.7h.9M100.0 287.2h.9M110.3 283.4h.9M104.3 289.5h.9M113.4 288.7h.9M103.1 291.9h.9M107.1 294.4h.9M105.4 287.8h.9M105.9 280.4h.9M103.5 288.8h.9M104.1 281.3h.9M115.6 282.1h.9M100.4 294.4h.9M101.3 292.2h.9M102.6 286.7h.9M108.5 286.0h.9M107.4 288.5h.9M110.8 280.7h.9M96.2 292.6h.9M106.5 287.5h.9M103.7 297.5h.9M103.0 284.9h.9M105.9 293.5h.9M106.6 293.5h.9M105.7 284.8h.9M95.6 293.8h.9M104.2 287.4h.9M114.8 284.3h.9M102.3 289.0h.9M108.6 290.8h.9M103.4 291.2h.9M99.6 296.9h.9M98.9 293.7h.9M102.3 278.1h.9M113.2 286.4h.9M110.1 279.8h.9M100.3 288.2h.9M111.2 291.1h.9M104.0 283.5h.9M100.4 284.7h.9M107.6 289.5h.9M98.9 288.8h.9M94.7 297.6h.9M113.1 289.5h.9M108.3 296.5h.9M95.0 288.4h.9M104.6 289.3h.9M103.5 285.1h.9M102.0 290.8h.9M104.1 295.4h.9M104.6 289.2h.9M99.0 287.0h.9M104.4 286.0h.9M111.2 282.3h.9M100.2 290.5h.9M106.5 295.0h.9M97.4 279.9h.9M107.3 279.4h.9M108.9 294.9h.9M120.8 280.0h.9M110.6 289.9h.9M107.6 283.4h.9M113.9 291.5h.9M98.4 293.6h.9M111.7 289.1h.9M101.3 293.4h.9M100.9 290.1h.9M111.9 290.8h.9M106.3 297.1h.9M113.3 293.0h.9M95.6 287.7h.9M106.6 285.5h.9M101.5 288.7h.9M103.1 288.5h.9M110.9 285.8h.9M106.2 292.0h.9M98.5 290.3h.9M96.2 292.1h.9M99.3 290.1h.9M113.8 290.8h.9M104.2 284.1h.9M102.7 296.6h.9M108.0 290.4h.9M105.0 291.3h.9M106.4 291.8h.9M109.6 293.4h.9M107.0 292.3h.9M110.5 289.6h.9M97.3 289.6h.9M105.3 282.0h.9M102.6 290.6h.9M105.6 287.9h.9M104.7 288.0h.9M102.7 281.4h.9M111.0 288.7h.9M101.4 295.2h.9M97.0 294.7h.9M108.7 294.3h.9M111.1 282.9h.9M103.2 285.3h.9M105.8 292.0h.9M99.6 288.8h.9M103.7 297.1h.9M112.0 289.4h.9M110.1 289.5h.9M105.9 291.2h.9M103.2 288.4h.9M107.0 286.1h.9M107.9 288.8h.9M111.7 286.3h.9M117.8 288.7h.9M107.4 282.8h.9M111.1 281.9h.9M97.9 292.4h.9M112.7 289.3h.9M110.5 284.4h.9M113.7 287.2h.9M109.3 284.2h.9M114.4 281.2h.9M100.8 297.5h.9M109.1 285.2h.9M111.9 290.3h.9M100.0 288.9h.9M97.7 288.7h.9M107.8 293.1h.9M105.8 292.9h.9M108.9 287.6h.9M109.1 284.8h.9M107.2 295.3h.9M112.2 289.0h.9M102.8 288.4h.9M103.2 290.9h.9M97.9 290.7h.9M110.2 293.9h.9M117.4 283.4h.9M96.4 290.7h.9M109.9 285.3h.9M110.8 294.4h.9M101.5 297.8h.9M102.7 289.3h.9M98.5 292.7h.9M100.1 296.3h.9M106.1 287.9h.9M109.2 284.7h.9M105.8 293.9h.9M110.5 290.9h.9M106.4 288.3h.9M97.7 296.8h.9M114.3 289.2h.9M112.6 280.5h.9M100.6 291.5h.9M116.3 287.6h.9M108.1 297.3h.9M106.0 289.2h.9M117.3 286.8h.9M95.0 291.9h.9M109.6 282.6h.9M103.6 290.1h.9M99.1 288.8h.9M114.7 294.3h.9M97.1 285.6h.9M101.0 285.7h.9M110.5 284.9h.9M116.5 284.9h.9M106.7 289.4h.9M102.7 294.5h.9M104.1 282.7h.9M95.0 282.7h.9M101.8 294.7h.9M115.4 293.8h.9M108.4 282.2h.9M110.1 281.5h.9M109.0 289.4h.9M107.4 293.9h.9M111.4 293.0h.9M97.8 291.3h.9M102.9 292.7h.9M110.6 290.1h.9M100.6 287.6h.9M112.9 288.3h.9M114.9 283.1h.9M101.4 287.9h.9M100.0 283.3h.9M108.9 288.9h.9M106.9 294.0h.9M101.0 284.4h.9M109.0 293.8h.9M105.8 291.0h.9M123.9 281.7h.9M113.9 284.4h.9M110.4 287.2h.9M111.7 282.8h.9M124.0 281.3h.9M112.2 287.3h.9M100.7 289.2h.9M107.3 291.8h.9M105.7 284.0h.9M106.9 293.8h.9M106.9 293.1h.9M104.9 286.6h.9M102.2 297.5h.9M110.5 287.1h.9M110.5 293.4h.9M105.3 285.4h.9M107.0 287.1h.9M115.9 292.3h.9M99.8 291.0h.9M109.4 289.7h.9M101.4 286.5h.9M102.7 288.9h.9M102.5 287.9h.9M106.6 291.3h.9M109.6 284.6h.9M103.5 292.8h.9M106.7 289.7h.9M108.1 292.4h.9M101.0 293.9h.9M100.5 295.5h.9M117.8 290.4h.9M99.9 293.3h.9M113.1 287.5h.9M105.7 291.8h.9M114.7 284.1h.9M101.2 288.9h.9M108.6 292.2h.9M107.4 288.9h.9M103.8 291.5h.9M107.3 284.4h.9M100.4 296.1h.9M104.8 286.9h.9M102.7 291.5h.9M110.1 288.6h.9M104.7 293.6h.9M96.4 288.9h.9M102.9 285.3h.9M104.7 281.1h.9M99.5 288.8h.9M113.8 282.9h.9M107.9 291.4h.9M110.7 295.0h.9M100.4 280.2h.9M102.8 284.0h.9M111.7 289.9h.9M96.2 296.1h.9M107.6 290.4h.9M105.9 290.7h.9M102.1 292.1h.9M105.9 291.8h.9M98.4 297.6h.9M106.7 291.9h.9M97.5 285.0h.9M97.2 288.4h.9M114.2 289.1h.9M100.8 286.4h.9M111.5 286.2h.9M100.4 287.0h.9M104.9 287.7h.9M111.2 283.7h.9M107.5 285.9h.9M116.3 288.0h.9M109.1 290.0h.9M98.9 296.8h.9M106.3 291.4h.9M115.1 278.5h.9M108.5 290.6h.9M106.3 285.5h.9M102.9 284.9h.9M110.3 281.7h.9M100.6 287.3h.9M107.6 294.2h.9M98.9 293.2h.9M117.4 280.1h.9M97.8 289.9h.9M106.2 287.0h.9M122.1 286.2h.9M106.7 292.5h.9M99.7 287.6h.9M109.2 287.4h.9M111.6 295.0h.9M110.9 280.4h.9M106.7 291.3h.9M117.5 284.9h.9M105.8 283.5h.9M102.4 290.5h.9M109.6 286.0h.9M108.4 292.4h.9M97.7 294.9h.9M115.7 288.1h.9M103.8 287.9h.9M114.3 288.4h.9M115.1 282.6h.9M113.4 293.0h.9M108.8 289.9h.9M99.6 293.7h.9M111.3 282.5h.9M117.3 291.6h.9M115.6 290.7h.9M100.3 283.6h.9M111.9 288.6h.9M137.8 270.6h.9M140.4 277.1h.9M136.1 264.0h.9M143.1 260.8h.9M133.9 267.5h.9M140.5 264.7h.9M131.8 265.9h.9M139.3 262.0h.9M147.9 268.0h.9M133.6 265.5h.9M144.7 253.9h.9M129.8 263.9h.9M134.8 266.9h.9M136.1 271.3h.9M150.3 262.1h.9M131.0 260.9h.9M150.0 271.1h.9M124.3 261.9h.9M136.8 265.7h.9M147.1 267.6h.9M145.0 269.0h.9M128.6 265.2h.9M126.6 259.3h.9M146.7 270.4h.9M126.2 262.9h.9M143.9 262.4h.9M133.3 275.5h.9M138.2 269.7h.9M153.2 262.6h.9M146.4 263.8h.9M125.1 261.2h.9M141.4 255.1h.9M138.8 269.3h.9M137.3 269.1h.9M151.1 266.4h.9M121.8 263.0h.9M141.4 266.2h.9M139.5 268.4h.9M131.1 259.7h.9M154.9 263.4h.9M126.1 262.2h.9M138.6 268.7h.9M139.1 266.5h.9M117.2 258.4h.9M124.5 261.9h.9M129.0 274.3h.9M145.8 260.1h.9M147.4 265.9h.9M144.0 261.8h.9M140.6 271.6h.9M117.1 264.8h.9M140.3 262.8h.9M133.3 259.0h.9M149.5 263.8h.9M151.2 269.4h.9M145.1 258.2h.9M146.1 273.2h.9M128.3 263.8h.9M139.0 259.6h.9M126.4 265.7h.9M146.9 261.9h.9M126.8 262.1h.9M136.2 261.8h.9M130.4 264.6h.9M133.7 262.5h.9M142.6 256.2h.9M132.8 267.8h.9M140.4 262.4h.9M128.6 271.3h.9M151.7 267.8h.9M132.0 268.3h.9M148.0 266.0h.9M158.8 271.8h.9M114.8 263.4h.9M128.7 259.9h.9M136.2 266.8h.9M149.5 251.0h.9M133.6 263.1h.9M141.9 266.2h.9M131.2 262.9h.9M143.6 271.6h.9M126.5 268.7h.9M146.3 265.6h.9M109.4 263.0h.9M120.0 270.7h.9M155.8 261.5h.9M139.9 262.9h.9M129.6 268.9h.9M148.3 275.6h.9M149.1 263.9h.9M134.1 255.3h.9M144.2 268.5h.9M143.1 271.5h.9M122.2 264.2h.9M143.9 273.1h.9M136.4 274.2h.9M150.6 261.6h.9M150.8 262.6h.9M132.0 258.6h.9M132.3 267.8h.9M140.0 268.7h.9M144.5 268.2h.9M134.2 258.7h.9M137.1 261.1h.9M144.1 257.6h.9M142.3 256.7h.9M149.4 258.1h.9M140.5 256.9h.9M129.6 264.1h.9M121.1 267.2h.9M146.0 268.2h.9M134.9 264.9h.9M134.8 261.6h.9M135.3 265.0h.9M122.9 268.0h.9M134.4 263.5h.9M112.9 265.3h.9M134.2 263.4h.9M129.5 262.3h.9M156.0 265.2h.9M142.5 259.3h.9M136.1 270.4h.9M139.7 257.0h.9M145.2 267.4h.9M130.8 258.0h.9M135.9 272.8h.9M134.7 269.5h.9M138.8 262.7h.9M119.0 259.2h.9M145.9 264.7h.9M128.8 278.2h.9M137.5 271.4h.9M147.9 262.0h.9M132.6 266.4h.9M135.5 269.5h.9M126.1 267.8h.9M127.8 267.2h.9M117.2 264.0h.9M149.3 265.0h.9M126.9 265.8h.9M141.7 271.2h.9M141.3 257.4h.9M131.8 262.5h.9M138.6 258.6h.9M137.2 260.0h.9M133.3 260.9h.9M138.6 270.6h.9M138.6 276.0h.9M128.1 272.0h.9M125.4 258.9h.9M129.8 265.4h.9M139.3 259.2h.9M151.6 267.3h.9M152.5 271.5h.9M141.2 268.0h.9M147.3 269.5h.9M139.3 264.2h.9M148.9 254.9h.9M139.3 254.8h.9M141.9 264.5h.9M135.3 268.0h.9M138.0 271.5h.9M156.7 263.2h.9M126.3 265.4h.9M138.1 266.3h.9M132.3 270.5h.9M147.5 264.6h.9M155.9 259.4h.9M135.0 270.6h.9M110.9 267.1h.9M144.1 267.0h.9M144.1 258.5h.9M121.5 265.0h.9M135.7 256.2h.9M137.4 254.7h.9M115.3 263.8h.9M144.7 262.8h.9M142.4 267.9h.9M140.4 272.4h.9M127.6 264.8h.9M131.0 274.2h.9M131.8 262.0h.9M142.7 268.9h.9M128.3 258.5h.9M152.4 265.6h.9M141.7 263.4h.9M116.6 263.9h.9M154.6 268.0h.9M139.6 255.3h.9M132.6 265.6h.9M139.0 260.8h.9M120.0 265.6h.9M139.9 267.0h.9M113.8 263.1h.9M127.9 263.1h.9M151.3 259.1h.9M150.4 267.8h.9M134.6 261.5h.9M128.4 267.3h.9M147.2 257.7h.9M137.5 272.0h.9M140.1 259.8h.9M144.1 270.9h.9M127.3 262.7h.9M145.8 267.8h.9M117.1 264.3h.9M152.4 268.5h.9M122.4 265.0h.9M131.7 271.5h.9M131.3 268.4h.9M145.1 268.5h.9M145.3 273.6h.9M141.5 261.4h.9M143.3 271.7h.9M142.6 265.4h.9M137.2 257.4h.9M119.0 267.5h.9M115.1 264.0h.9M115.1 273.7h.9M137.4 262.5h.9M135.6 265.3h.9M136.5 266.2h.9M140.1 255.2h.9M135.6 267.6h.9M128.0 259.9h.9M123.0 272.2h.9M119.1 273.5h.9M149.9 265.0h.9M146.9 256.9h.9M124.5 265.9h.9M135.1 265.9h.9M142.2 268.7h.9M153.7 263.5h.9M131.9 258.9h.9M139.6 264.3h.9M149.3 260.3h.9M120.6 274.1h.9M130.6 261.4h.9M137.4 261.7h.9M130.7 264.8h.9M158.8 258.6h.9M146.4 262.7h.9M139.8 264.3h.9M128.3 262.5h.9M146.4 263.7h.9M144.1 271.4h.9M132.7 267.2h.9M133.5 258.1h.9M123.3 262.8h.9M137.0 268.8h.9M146.4 261.7h.9M147.7 265.4h.9M143.6 264.9h.9M146.0 267.7h.9M131.9 264.1h.9M133.1 264.3h.9M149.7 260.6h.9M142.3 266.8h.9M129.9 260.2h.9M142.7 273.9h.9M146.0 264.9h.9M144.8 263.9h.9M138.8 269.0h.9M132.7 264.6h.9M141.7 265.5h.9M154.6 264.7h.9M139.2 261.3h.9M131.1 260.3h.9M141.1 261.4h.9M125.5 270.8h.9M140.0 261.8h.9M134.8 262.9h.9M147.2 262.7h.9M138.8 268.6h.9M156.8 283.0h.9M142.8 286.9h.9M138.7 282.3h.9M134.6 286.4h.9M142.4 284.8h.9M125.1 281.4h.9M145.6 285.6h.9M139.6 287.6h.9M127.8 287.6h.9M153.0 290.5h.9M145.8 278.8h.9M148.8 280.0h.9M123.3 291.8h.9M134.9 285.4h.9M132.4 294.0h.9M143.6 289.3h.9M150.7 280.4h.9M119.0 290.5h.9M137.7 282.5h.9M136.3 289.0h.9M147.2 294.0h.9M125.1 287.3h.9M135.6 291.3h.9M127.4 289.3h.9M129.9 291.8h.9M137.9 274.6h.9M132.8 285.7h.9M140.2 289.2h.9M122.8 290.1h.9M149.8 291.9h.9M144.5 293.4h.9M124.9 288.1h.9M116.5 286.5h.9M129.1 285.9h.9M135.2 288.4h.9M150.2 295.4h.9M132.4 285.3h.9M149.2 282.9h.9M149.4 283.6h.9M137.7 292.8h.9M149.3 288.8h.9M140.7 289.2h.9M131.1 290.2h.9M126.1 289.6h.9M136.3 287.1h.9M147.2 282.4h.9M124.3 284.5h.9M121.8 288.3h.9M142.8 289.7h.9M111.1 285.8h.9M155.2 285.6h.9M133.2 294.7h.9M144.6 285.3h.9M155.6 288.8h.9M123.4 286.1h.9M127.3 283.3h.9M134.7 285.0h.9M136.3 283.5h.9M139.7 292.1h.9M147.8 281.8h.9M150.4 285.6h.9M138.6 291.1h.9M134.2 287.1h.9M137.1 290.2h.9M140.4 292.0h.9M150.2 279.2h.9M138.8 285.6h.9M155.2 282.8h.9M129.2 294.6h.9M142.7 287.1h.9M154.6 290.2h.9M150.0 296.4h.9M140.7 285.9h.9M128.9 288.1h.9M130.6 289.8h.9M136.0 286.3h.9M140.5 294.1h.9M135.1 291.9h.9M123.4 292.8h.9M130.3 288.0h.9M142.5 286.0h.9M145.6 285.9h.9M123.9 285.8h.9M134.0 279.3h.9M121.2 289.6h.9M132.0 291.9h.9M138.1 285.2h.9M134.1 287.9h.9M131.8 288.8h.9M125.7 289.4h.9M119.4 296.9h.9M137.1 283.3h.9M134.8 289.6h.9M151.9 291.2h.9M121.6 288.1h.9M141.7 286.5h.9M150.5 282.5h.9M118.5 284.7h.9M143.9 291.3h.9M121.9 295.1h.9M142.6 284.4h.9M151.8 290.1h.9M137.5 290.3h.9M140.3 292.8h.9M130.8 288.9h.9M140.3 289.9h.9M148.5 292.2h.9M135.7 281.8h.9M136.1 287.9h.9M141.3 278.7h.9M145.5 277.7h.9M121.6 283.5h.9M138.1 279.9h.9M130.8 290.3h.9M142.3 292.7h.9M147.6 286.1h.9M140.5 287.0h.9M150.1 286.5h.9M127.9 286.4h.9M133.5 288.4h.9M127.9 289.5h.9M138.1 285.3h.9M138.4 283.7h.9M135.6 285.1h.9M125.7 291.7h.9M136.8 285.6h.9M133.3 295.0h.9M143.4 286.5h.9M134.9 294.6h.9M148.8 281.7h.9M139.8 284.2h.9M119.5 290.1h.9M135.8 290.1h.9M123.6 286.9h.9M151.4 288.0h.9M137.2 289.1h.9M141.8 284.8h.9M123.5 296.0h.9M115.7 292.0h.9M132.1 289.8h.9M135.0 279.4h.9M122.8 289.5h.9M138.4 285.3h.9M140.6 289.7h.9M143.8 292.3h.9M152.6 283.9h.9M145.4 288.8h.9M134.0 292.1h.9M138.5 288.5h.9M143.4 286.0h.9M127.4 282.3h.9M150.4 284.3h.9M146.3 281.3h.9M135.3 292.6h.9M131.3 288.2h.9M145.7 287.6h.9M146.7 281.2h.9M155.0 271.2h.9M147.1 293.7h.9M139.6 293.5h.9M144.4 280.3h.9M128.7 284.1h.9M144.5 288.7h.9M122.6 285.7h.9M141.7 283.4h.9M143.0 285.1h.9M122.4 286.5h.9M156.2 284.9h.9M126.4 288.7h.9M147.7 286.5h.9M132.4 283.8h.9M140.6 287.8h.9M131.2 279.3h.9M147.6 278.9h.9M155.2 287.2h.9M145.2 289.4h.9M144.4 289.7h.9M139.1 289.0h.9M135.3 294.0h.9M143.6 282.0h.9M139.2 287.3h.9M136.2 288.4h.9M124.3 285.2h.9M134.7 284.7h.9M143.6 294.1h.9M133.1 284.1h.9M141.1 285.2h.9M136.3 286.3h.9M127.7 286.6h.9M128.9 288.4h.9M130.5 286.6h.9M134.9 289.5h.9M135.2 288.3h.9M148.6 290.0h.9M127.1 294.5h.9M117.8 283.4h.9M144.4 295.9h.9M133.3 285.4h.9M136.6 291.0h.9M152.0 286.1h.9M143.5 277.8h.9M147.0 295.7h.9M138.9 283.8h.9M147.1 283.7h.9M131.8 292.9h.9M130.8 288.0h.9M133.2 297.1h.9M153.1 296.0h.9M152.9 291.2h.9M131.9 288.9h.9M149.1 291.4h.9M136.2 281.1h.9M148.2 288.5h.9M134.7 288.4h.9M147.1 285.3h.9M136.7 288.9h.9M135.0 280.3h.9M137.6 292.1h.9M139.3 294.0h.9M132.1 281.2h.9M124.5 288.3h.9M154.3 295.3h.9M134.0 289.7h.9M120.1 282.5h.9M115.7 282.7h.9M110.5 291.9h.9M131.9 296.7h.9M151.1 282.2h.9M121.9 287.8h.9M134.7 283.7h.9M119.9 286.2h.9M148.6 289.1h.9M141.4 287.4h.9M141.0 284.2h.9M153.9 286.8h.9M147.9 286.7h.9M132.2 293.1h.9M124.9 287.7h.9M127.7 286.6h.9M120.8 292.3h.9M155.5 282.5h.9M136.0 291.3h.9M139.1 292.7h.9M139.8 290.9h.9M157.6 286.7h.9M132.4 287.6h.9M149.4 279.1h.9M140.8 287.0h.9M136.4 289.0h.9M119.1 291.9h.9M146.9 288.3h.9M130.6 285.7h.9M133.4 283.4h.9M140.1 287.4h.9M138.8 288.3h.9M148.9 293.6h.9M131.3 287.6h.9M139.5 285.1h.9M140.6 287.1h.9M138.2 285.2h.9M144.5 286.4h.9M135.4 276.7h.9M149.7 279.7h.9M131.0 281.7h.9M123.8 289.9h.9M137.5 287.2h.9M149.5 288.3h.9M132.9 293.3h.9M131.8 282.4h.9M134.5 293.2h.9M139.5 289.5h.9M136.2 284.1h.9M140.9 295.0h.9M121.1 280.5h.9M152.6 282.0h.9M143.6 286.6h.9M129.5 289.6h.9M151.3 286.6h.9M142.3 277.0h.9M152.3 286.1h.9M126.4 287.2h.9M138.4 294.4h.9M117.8 288.2h.9M145.3 282.2h.9M135.0 289.3h.9M128.0 281.8h.9M135.8 288.6h.9M118.9 289.4h.9M143.6 285.6h.9M135.8 288.8h.9M135.3 286.0h.9M151.7 284.8h.9M138.2 295.2h.9M131.4 290.5h.9M128.6 286.1h.9M137.3 283.8h.9M148.3 288.5h.9M132.2 290.4h.9M127.8 291.8h.9M146.9 294.9h.9M138.5 289.9h.9M137.7 282.1h.9M158.3 297.6h.9M126.0 293.3h.9M139.9 291.7h.9M120.5 294.2h.9M135.0 280.2h.9M143.7 285.7h.9M148.9 285.1h.9M125.5 293.4h.9M146.1 281.8h.9M145.6 286.0h.9M136.7 295.1h.9M137.9 285.7h.9M129.3 296.8h.9M142.1 281.0h.9M119.7 289.8h.9M153.2 286.4h.9M147.6 290.1h.9M134.0 286.2h.9M143.9 283.4h.9M143.1 288.6h.9M156.8 281.1h.9M131.9 290.2h.9M125.3 286.0h.9M118.0 292.1h.9M135.0 285.4h.9M122.6 284.3h.9M136.2 289.5h.9M141.9 293.6h.9M133.6 277.4h.9M128.7 288.1h.9M149.6 290.6h.9M135.9 280.6h.9M140.2 283.2h.9M147.2 290.7h.9M125.1 283.5h.9M130.8 290.9h.9M134.4 286.4h.9M125.1 293.5h.9M131.1 254.2h.9M107.6 288.6h.9M131.8 282.5h.9M149.6 267.4h.9M149.3 271.0h.9M102.0 255.4h.9M115.8 264.9h.9M140.9 284.3h.9M132.8 276.5h.9M119.7 294.5h.9M148.3 262.2h.9M152.3 261.0h.9M131.0 285.4h.9M111.0 295.9h.9M156.6 267.6h.9M125.7 268.9h.9M117.1 252.6h.9M103.1 261.3h.9M155.3 293.7h.9M139.2 296.9h.9M99.6 273.6h.9M106.6 291.0h.9M154.2 260.4h.9M99.8 281.1h.9M138.3 293.8h.9M131.4 266.8h.9M127.0 280.6h.9M139.3 285.7h.9M116.5 256.8h.9M135.1 262.4h.9M151.1 278.5h.9M131.6 262.4h.9M128.6 257.7h.9M134.1 257.7h.9M106.9 287.6h.9M116.3 272.1h.9M140.8 276.7h.9M131.3 280.5h.9M102.6 265.6h.9M150.6 281.6h.9M121.3 271.7h.9M110.8 254.4h.9M104.6 275.1h.9M154.2 274.0h.9M141.8 283.1h.9M114.8 296.1h.9M107.3 252.3h.9M149.5 279.6h.9M104.4 283.8h.9M128.4 273.0h.9M137.8 270.7h.9M155.0 284.2h.9M138.9 276.0h.9M101.9 270.0h.9M128.3 281.5h.9M153.3 279.1h.9M112.3 254.2h.9M100.6 267.2h.9M98.7 292.9h.9M148.4 257.6h.9M154.8 275.0h.9M124.5 280.6h.9M114.6 255.8h.9M120.4 259.6h.9M106.4 265.5h.9M122.9 278.8h.9M125.2 256.1h.9M129.1 286.8h.9M101.7 282.7h.9M157.4 288.6h.9M135.1 261.6h.9M131.7 276.0h.9M147.9 291.2h.9M98.1 271.0h.9M132.5 277.4h.9M118.6 269.7h.9M136.0 285.5h.9M155.0 280.1h.9M99.5 286.1h.9M106.1 296.5h.9M117.5 287.4h.9M129.2 277.5h.9M148.0 262.2h.9M142.0 274.6h.9M130.1 295.4h.9M107.3 297.3h.9M127.2 255.9h.9M123.2 282.3h.9M102.2 251.1h.9M153.6 255.2h.9M148.8 267.8h.9M134.3 254.6h.9M110.8 281.2h.9M131.9 273.9h.9M115.7 268.5h.9M136.5 290.9h.9M97.4 267.1h.9M133.6 261.9h.9M130.8 263.6h.9M154.2 251.1h.9M131.5 284.7h.9M145.1 281.0h.9M109.2 270.0h.9M130.4 289.2h.9M115.7 265.9h.9M158.1 260.3h.9M156.3 251.6h.9M110.7 258.5h.9M134.9 271.6h.9M99.6 265.9h.9M130.1 271.3h.9M158.0 252.6h.9M103.9 251.3h.9M141.7 282.5h.9M128.0 269.9h.9M158.6 287.7h.9M121.1 290.6h.9M147.9 267.3h.9M133.2 272.0h.9M146.2 286.7h.9M149.5 256.4h.9M136.5 288.7h.9M117.4 267.6h.9M133.2 262.0h.9M145.6 272.5h.9M147.5 281.1h.9M135.4 290.2h.9M124.2 289.5h.9M100.4 251.7h.9M102.4 257.9h.9M136.3 266.2h.9M120.3 252.9h.9M138.3 271.5h.9M128.3 271.7h.9M120.5 275.1h.9M108.1 266.8h.9M149.2 261.5h.9M112.4 278.3h.9M135.4 252.7h.9M101.5 251.9h.9M156.7 285.7h.9M104.8 259.2h.9M127.2 257.6h.9M147.0 261.8h.9M109.9 277.6h.9M136.3 261.5h.9M121.1 281.8h.9M156.6 280.7h.9M103.6 269.4h.9M107.3 294.5h.9M129.9 286.3h.9M138.6 256.7h.9M131.9 261.0h.9M106.7 255.2h.9M126.4 284.2h.9M99.2 259.2h.9M138.1 271.7h.9M116.1 254.4h.9M156.5 292.1h.9M120.6 285.8h.9M98.3 281.9h.9M95.8 283.5h.9M116.1 267.4h.9M111.7 259.1h.9M155.8 250.9h.9M144.9 269.7h.9M118.5 293.6h.9M111.6 251.3h.9M99.3 259.3h.9M102.9 275.3h.9M142.5 253.5h.9M98.6 264.3h.9M145.2 286.1h.9M120.3 260.3h.9M138.7 264.6h.9M134.5 263.5h.9M102.0 259.9h.9M143.4 288.7h.9M151.2 295.6h.9M102.1 278.3h.9M157.1 262.2h.9M146.6 261.7h.9M133.7 283.1h.9M139.5 284.5h.9M98.0 289.2h.9M109.5 256.5h.9M153.0 259.6h.9M150.2 266.4h.9M108.9 270.6h.9M130.0 289.1h.9M117.0 254.2h.9M107.0 264.3h.9M145.0 255.5h.9M138.3 288.6h.9M99.4 284.1h.9M137.8 288.8h.9M95.8 265.2h.9M101.1 275.2h.9M121.5 292.6h.9M97.3 251.0h.9M128.3 288.4h.9M138.7 286.8h.9M111.5 270.9h.9M139.6 287.2h.9M99.6 286.4h.9M100.7 258.6h.9M126.9 296.5h.9M96.8 295.1h.9M143.5 262.3h.9M152.1 295.8h.9M95.4 276.2h.9M146.1 274.5h.9M131.5 287.2h.9M157.4 293.9h.9M146.2 262.3h.9M152.8 255.9h.9M149.7 290.3h.9" stroke="#000" stroke-width=".9" stroke-opacity=".8" fill="none"/>
<rect x="93.8" y="243.4" width="66.40" height="55.50" fill="none" stroke="#111" stroke-width=".9"/>
<path d="M121.5 243.4V298.9M93.8 276.3H160.2" stroke="#444" stroke-width=".6" fill="none"/>
<text x="95.9" y="303.9" font-size="3.6" text-anchor="middle" fill="#777" stroke="none">10<tspan dy="-1.4" font-size="2.6">0</tspan></text>
<text x="111.8" y="303.9" font-size="3.6" text-anchor="middle" fill="#777" stroke="none">10<tspan dy="-1.4" font-size="2.6">1</tspan></text>
<text x="127.6" y="303.9" font-size="3.6" text-anchor="middle" fill="#777" stroke="none">10<tspan dy="-1.4" font-size="2.6">2</tspan></text>
<text x="143.5" y="303.9" font-size="3.6" text-anchor="middle" fill="#777" stroke="none">10<tspan dy="-1.4" font-size="2.6">3</tspan></text>
<text x="159.3" y="303.9" font-size="3.6" text-anchor="middle" fill="#777" stroke="none">10<tspan dy="-1.4" font-size="2.6">4</tspan></text>
<text transform="translate(90.6,300.1) rotate(-90)" font-size="3.6" text-anchor="middle" fill="#999" stroke="none">10<tspan dy="-1.4" font-size="2.6">0</tspan></text>
<text transform="translate(90.6,286.2) rotate(-90)" font-size="3.6" text-anchor="middle" fill="#999" stroke="none">10<tspan dy="-1.4" font-size="2.6">1</tspan></text>
<text transform="translate(90.6,272.3) rotate(-90)" font-size="3.6" text-anchor="middle" fill="#999" stroke="none">10<tspan dy="-1.4" font-size="2.6">2</tspan></text>
<text transform="translate(90.6,258.5) rotate(-90)" font-size="3.6" text-anchor="middle" fill="#999" stroke="none">10<tspan dy="-1.4" font-size="2.6">3</tspan></text>
<text transform="translate(90.6,244.6) rotate(-90)" font-size="3.6" text-anchor="middle" fill="#999" stroke="none">10<tspan dy="-1.4" font-size="2.6">4</tspan></text>
<path d="M98.8 298.9v1M93.8 294.7h-1M101.7 298.9v1M93.8 292.3h-1M105.4 298.9v1M93.8 289.2h-1M107.8 298.9v1M93.8 287.2h-1M115.4 298.9v1M93.8 280.8h-1M118.3 298.9v1M93.8 278.4h-1M122.0 298.9v1M93.8 275.3h-1M124.4 298.9v1M93.8 273.3h-1M132.0 298.9v1M93.8 267.0h-1M134.9 298.9v1M93.8 264.5h-1M138.6 298.9v1M93.8 261.5h-1M141.0 298.9v1M93.8 259.4h-1M148.6 298.9v1M93.8 253.1h-1M151.5 298.9v1M93.8 250.7h-1M155.2 298.9v1M93.8 247.6h-1M157.6 298.9v1M93.8 245.5h-1M93.8 298.9v1.8M93.8 298.9h-1.8M110.4 298.9v1.8M93.8 285.0h-1.8M127.0 298.9v1.8M93.8 271.1h-1.8M143.6 298.9v1.8M93.8 257.3h-1.8M160.2 298.9v1.8M93.8 243.4h-1.8" stroke="#000" stroke-width=".5" fill="none"/>
<path d="M187.2 254.1h.9M180.3 260.9h.9M189.4 261.4h.9M182.9 263.0h.9M179.5 256.4h.9M185.3 259.2h.9M181.7 252.9h.9M182.9 263.1h.9M178.8 255.8h.9M185.7 250.9h.9M187.7 267.3h.9M180.6 264.5h.9M190.7 263.9h.9M180.4 263.9h.9M184.0 258.1h.9M175.7 266.9h.9M174.4 258.0h.9M192.1 270.5h.9M189.1 263.4h.9M187.9 254.7h.9M175.4 266.1h.9M183.9 270.7h.9M184.7 261.4h.9M183.2 266.9h.9M184.2 261.5h.9M178.8 259.8h.9M182.2 251.6h.9M177.8 267.6h.9M181.3 260.6h.9M184.5 264.0h.9M179.4 257.7h.9M181.6 258.6h.9M181.0 267.1h.9M182.9 260.8h.9M186.9 260.7h.9M183.9 257.1h.9M184.6 263.3h.9M176.5 265.7h.9M181.3 260.5h.9M186.4 261.6h.9M179.1 257.3h.9M180.9 268.3h.9M178.6 259.8h.9M188.7 261.8h.9M180.9 269.5h.9M179.6 261.5h.9M185.6 255.9h.9M187.7 258.5h.9M185.0 260.9h.9M187.2 269.9h.9M183.8 263.4h.9M182.3 261.5h.9M180.9 265.9h.9M180.6 267.9h.9M180.2 259.3h.9M184.5 268.5h.9M182.3 266.1h.9M183.2 264.4h.9M185.5 252.5h.9M182.6 263.3h.9M176.8 268.3h.9M179.4 261.3h.9M177.9 272.2h.9M174.5 262.8h.9M183.3 258.2h.9M177.6 265.0h.9M177.2 263.7h.9M178.1 266.0h.9M186.7 261.5h.9M181.5 268.0h.9M187.2 260.1h.9M182.4 263.0h.9M180.9 257.2h.9M185.3 259.1h.9M185.5 263.3h.9M183.3 259.7h.9M178.3 260.6h.9M180.8 261.6h.9M177.6 263.6h.9M181.7 265.7h.9M183.2 265.7h.9M189.3 266.8h.9M189.0 263.4h.9M185.8 260.2h.9M187.0 255.8h.9M183.8 261.0h.9M195.0 259.1h.9M189.5 254.8h.9M194.5 269.5h.9M184.5 254.7h.9M184.6 264.0h.9M187.4 264.9h.9M183.6 261.5h.9M184.2 273.5h.9M178.5 262.6h.9M186.9 259.3h.9M183.4 270.0h.9M186.4 259.1h.9M181.8 256.4h.9M175.0 258.2h.9M185.0 259.8h.9M187.9 262.7h.9M177.2 263.9h.9M178.5 256.0h.9M181.5 264.0h.9M181.7 272.0h.9M175.3 259.5h.9M190.5 261.9h.9M187.3 265.5h.9M180.1 267.6h.9M174.8 259.7h.9M184.4 258.4h.9M191.5 258.2h.9M186.4 267.2h.9M187.9 266.3h.9M178.7 253.3h.9M183.8 253.4h.9M176.2 257.2h.9M191.5 256.1h.9M185.3 264.2h.9M173.5 263.4h.9M174.7 270.9h.9M184.9 265.9h.9M183.4 263.0h.9M181.4 267.5h.9M185.5 258.7h.9M191.6 256.6h.9M184.4 262.6h.9M174.9 266.5h.9M182.1 255.6h.9M177.0 266.3h.9M179.3 266.2h.9M184.2 260.4h.9M182.0 263.2h.9M178.1 261.3h.9M182.7 262.9h.9M179.2 266.0h.9M185.1 259.1h.9M181.7 266.9h.9M184.5 266.2h.9M181.6 266.4h.9M186.1 254.1h.9M182.2 254.6h.9M182.7 265.5h.9M180.3 260.0h.9M183.4 259.6h.9M175.0 259.2h.9M194.5 256.8h.9M179.8 261.3h.9M183.2 259.4h.9M180.7 259.7h.9M180.6 264.5h.9M184.5 257.5h.9M180.5 267.3h.9M180.9 253.0h.9M176.7 273.2h.9M178.7 256.7h.9M177.6 265.0h.9M190.7 266.4h.9M176.9 262.5h.9M178.0 265.7h.9M183.6 262.0h.9M189.0 255.0h.9M175.3 264.0h.9M175.9 267.4h.9M183.3 260.1h.9M184.2 255.3h.9M176.5 259.9h.9M174.8 263.9h.9M178.5 263.8h.9M186.0 267.2h.9M182.5 264.9h.9M186.0 264.7h.9M182.3 253.9h.9M182.6 272.0h.9M185.4 262.7h.9M182.2 266.2h.9M183.8 261.0h.9M178.7 261.9h.9M180.1 262.8h.9M184.8 269.2h.9M181.7 269.0h.9M179.4 265.2h.9M185.6 271.0h.9M185.1 260.8h.9M182.7 264.7h.9M179.4 260.6h.9M186.7 268.1h.9M193.7 262.7h.9M179.1 266.7h.9M175.9 269.9h.9M179.3 253.6h.9M178.6 271.8h.9M177.1 263.9h.9M177.5 261.2h.9M186.4 254.3h.9M186.5 261.2h.9M189.2 252.7h.9M186.0 262.9h.9M180.6 261.8h.9M187.5 270.4h.9M180.0 261.1h.9M181.2 267.1h.9M177.5 267.5h.9M188.1 271.4h.9M187.1 261.5h.9M180.7 265.8h.9M181.3 256.0h.9M182.8 257.8h.9M183.6 261.4h.9M186.4 262.5h.9M183.0 257.3h.9M184.4 260.8h.9M176.1 265.6h.9M181.4 260.6h.9M174.8 261.9h.9M190.5 258.7h.9M188.8 268.5h.9M185.8 270.2h.9M187.6 263.4h.9M191.5 262.1h.9M186.8 269.7h.9M175.7 264.6h.9M181.8 259.7h.9M172.3 256.8h.9M179.1 260.0h.9M177.2 272.0h.9M182.6 260.0h.9M184.4 275.0h.9M178.6 262.6h.9M181.4 261.6h.9M183.9 268.3h.9M182.0 261.5h.9M181.9 264.2h.9M172.1 258.1h.9M180.7 257.2h.9M186.1 259.4h.9M183.8 263.5h.9M176.1 259.7h.9M181.5 254.1h.9M183.8 264.6h.9M178.4 261.9h.9M185.6 261.4h.9M179.1 259.9h.9M181.2 252.9h.9M182.2 269.4h.9M192.4 260.5h.9M181.2 264.9h.9M180.1 268.6h.9M185.8 267.5h.9M180.6 263.5h.9M183.5 262.6h.9M172.7 263.9h.9M184.0 266.5h.9M182.6 265.1h.9M177.0 260.7h.9M188.6 264.5h.9M181.6 264.2h.9M181.8 265.6h.9M176.9 263.5h.9M175.5 268.5h.9M180.1 263.5h.9M175.9 266.4h.9M184.8 262.8h.9M186.5 260.1h.9M179.8 258.5h.9M175.6 261.9h.9M180.9 264.9h.9M178.0 268.1h.9M183.4 262.2h.9M183.4 260.4h.9M180.8 260.4h.9M183.0 268.2h.9M187.2 263.1h.9M190.1 260.4h.9M180.3 265.8h.9M185.8 256.9h.9M181.6 263.1h.9M178.0 262.4h.9M188.3 262.0h.9M184.4 257.6h.9M183.2 266.8h.9M184.2 269.8h.9M181.9 256.9h.9M178.0 263.1h.9M190.4 265.4h.9M186.6 272.3h.9M183.8 260.8h.9M186.9 258.5h.9M188.3 262.6h.9M181.7 271.3h.9M185.2 262.9h.9M181.2 263.7h.9M185.5 270.2h.9M181.5 253.4h.9M193.3 253.3h.9M181.0 266.5h.9M184.9 265.9h.9M184.7 256.6h.9M181.1 264.8h.9M186.7 262.8h.9M182.2 263.5h.9M180.8 259.1h.9M182.6 260.6h.9M179.3 258.8h.9M187.9 262.8h.9M185.4 261.6h.9M186.9 269.8h.9M176.7 265.3h.9M183.8 255.8h.9M179.2 264.4h.9M183.0 268.8h.9M188.2 263.8h.9M183.7 267.3h.9M181.8 262.5h.9M187.5 265.6h.9M187.1 258.6h.9M190.7 266.0h.9M174.4 256.7h.9M184.1 268.2h.9M180.8 256.1h.9M178.8 253.5h.9M183.1 264.9h.9M177.5 261.9h.9M172.8 263.1h.9M178.6 264.4h.9M181.5 262.5h.9M190.8 258.8h.9M179.4 263.5h.9M177.5 264.1h.9M185.1 284.7h.9M192.2 281.4h.9M179.3 290.4h.9M183.1 287.7h.9M185.4 292.7h.9M180.7 290.7h.9M177.1 295.2h.9M180.1 284.0h.9M187.8 282.3h.9M181.5 289.8h.9M185.7 285.5h.9M179.3 290.5h.9M184.9 286.5h.9M179.6 284.9h.9M178.8 295.4h.9M183.3 291.1h.9M183.0 279.3h.9M189.8 280.6h.9M175.1 289.6h.9M185.2 288.3h.9M190.4 282.8h.9M189.2 277.6h.9M181.0 290.7h.9M179.6 286.7h.9M180.5 292.5h.9M184.2 287.0h.9M183.7 290.3h.9M184.4 289.3h.9M185.6 289.0h.9M177.8 286.1h.9M177.5 293.0h.9M177.0 289.6h.9M176.5 283.4h.9M182.3 284.7h.9M184.3 284.2h.9M194.7 283.4h.9M185.3 288.2h.9M182.9 281.4h.9M189.5 286.7h.9M179.3 287.5h.9M184.4 281.0h.9M187.4 288.0h.9M186.5 281.4h.9M184.7 280.3h.9M181.2 290.3h.9M176.9 292.7h.9M182.1 283.7h.9M180.0 292.1h.9M186.0 289.3h.9M182.2 284.3h.9M185.4 294.0h.9M175.2 289.2h.9M187.4 285.4h.9M178.8 277.5h.9M175.4 292.2h.9M176.3 286.3h.9M179.8 289.5h.9M188.1 276.6h.9M186.2 290.0h.9M177.3 295.0h.9M183.2 294.4h.9M182.3 273.6h.9M175.4 292.0h.9M178.1 289.8h.9M173.2 277.1h.9M178.7 284.8h.9M179.0 294.1h.9M178.4 284.5h.9M179.0 288.8h.9M178.9 287.7h.9M188.3 285.7h.9M181.2 285.3h.9M183.9 289.8h.9M186.4 289.1h.9M187.0 278.6h.9M186.0 289.9h.9M180.2 284.2h.9M177.6 287.3h.9M179.1 292.8h.9M180.6 287.7h.9M182.8 288.9h.9M182.4 290.0h.9M188.0 286.9h.9M182.3 284.2h.9M191.2 278.7h.9M187.7 287.4h.9M180.5 290.7h.9M186.9 286.3h.9M189.3 287.5h.9M184.7 285.5h.9M184.7 279.6h.9M174.9 290.9h.9M194.7 283.7h.9M181.6 290.3h.9M182.1 282.8h.9M188.1 280.9h.9M181.9 288.3h.9M178.8 286.1h.9M185.9 284.8h.9M178.0 292.5h.9M186.3 286.7h.9M183.4 294.2h.9M188.1 285.5h.9M177.1 296.3h.9M188.7 288.7h.9M184.2 297.1h.9M192.1 282.7h.9M179.7 287.4h.9M191.5 288.6h.9M186.1 282.9h.9M186.5 282.9h.9M179.4 289.0h.9M185.4 287.1h.9M186.0 279.1h.9M178.9 289.3h.9M177.4 287.4h.9M179.2 287.9h.9M189.7 284.4h.9M183.5 285.4h.9M187.2 289.4h.9M184.2 288.1h.9M183.3 285.5h.9M183.8 286.5h.9M180.9 291.9h.9M188.5 287.6h.9M183.6 291.8h.9M183.9 285.6h.9M176.3 289.9h.9M184.3 294.8h.9M179.6 287.8h.9M180.4 294.9h.9M187.7 288.3h.9M177.7 286.9h.9M181.9 280.9h.9M185.8 288.2h.9M188.2 281.3h.9M180.4 284.6h.9M184.3 278.4h.9M184.1 291.3h.9M177.5 289.3h.9M172.7 291.0h.9M173.7 292.2h.9M185.6 286.5h.9M183.3 286.9h.9M176.5 291.5h.9M179.8 286.7h.9M180.9 276.2h.9M181.1 290.6h.9M182.7 288.6h.9M193.2 282.4h.9M179.1 295.1h.9M183.5 280.3h.9M179.2 275.5h.9M179.8 294.4h.9M178.7 290.2h.9M181.7 279.9h.9M180.2 286.0h.9M184.4 288.7h.9M183.8 280.9h.9M178.6 290.8h.9M191.8 292.2h.9M177.3 295.0h.9M184.5 285.8h.9M193.0 283.8h.9M179.4 283.9h.9M189.0 284.6h.9M189.5 282.4h.9M184.4 281.7h.9M174.1 284.4h.9M189.5 292.3h.9M183.2 286.9h.9M180.2 283.3h.9M188.8 282.3h.9M179.4 294.6h.9M187.8 291.7h.9M180.2 285.1h.9M185.3 286.5h.9M177.7 292.7h.9M180.9 285.9h.9M178.5 283.3h.9M179.5 283.8h.9M183.7 286.3h.9M182.0 283.6h.9M183.7 280.6h.9M188.8 283.1h.9M182.3 291.0h.9M174.1 293.3h.9M181.4 286.2h.9M183.2 294.8h.9M187.6 281.2h.9M187.7 284.3h.9M187.3 278.8h.9M181.7 290.5h.9M185.8 284.8h.9M176.0 282.1h.9M188.9 280.5h.9M184.9 293.6h.9M185.2 288.8h.9M181.0 287.9h.9M183.1 290.3h.9M179.7 281.0h.9M185.5 281.9h.9M176.6 283.5h.9M187.4 281.1h.9M185.4 283.9h.9M192.3 285.0h.9M182.6 291.1h.9M182.4 291.1h.9M183.7 298.0h.9M183.0 284.4h.9M182.3 286.8h.9M177.6 291.0h.9M177.6 285.2h.9M180.1 286.5h.9M181.4 289.0h.9M177.2 285.1h.9M177.3 291.0h.9M181.5 292.5h.9M186.3 280.3h.9M181.9 277.0h.9M186.0 285.6h.9M187.4 280.2h.9M186.4 285.9h.9M180.8 285.5h.9M180.9 288.7h.9M174.0 295.2h.9M179.6 291.5h.9M185.0 284.1h.9M177.7 283.6h.9M189.2 273.1h.9M189.5 274.3h.9M181.1 283.8h.9M187.1 285.2h.9M176.1 286.4h.9M177.9 286.0h.9M181.1 280.3h.9M182.8 279.3h.9M181.9 279.4h.9M178.7 290.9h.9M192.0 274.0h.9M184.2 288.9h.9M184.1 282.0h.9M186.0 287.5h.9M183.6 287.1h.9M181.7 290.2h.9M180.2 292.7h.9M175.1 286.2h.9M189.8 279.2h.9M178.5 286.2h.9M175.0 286.2h.9M179.0 290.8h.9M175.3 289.0h.9M192.2 282.4h.9M184.5 287.4h.9M189.4 281.5h.9M189.6 288.2h.9M185.5 277.1h.9M185.5 286.2h.9M179.4 289.9h.9M182.4 283.1h.9M180.0 284.4h.9M183.0 290.1h.9M179.5 286.2h.9M188.7 275.3h.9M186.4 278.8h.9M182.3 290.8h.9M175.0 285.6h.9M186.0 290.6h.9M187.0 290.5h.9M182.5 285.5h.9M176.9 291.1h.9M184.8 281.7h.9M187.7 282.4h.9M173.8 286.9h.9M185.5 287.7h.9M174.3 284.1h.9M183.2 285.5h.9M191.0 283.0h.9M183.2 288.3h.9M185.1 276.0h.9M181.3 279.0h.9M182.8 282.3h.9M193.8 280.6h.9M189.1 284.2h.9M181.3 287.6h.9M181.0 295.7h.9M182.9 289.0h.9M193.1 284.4h.9M183.8 283.6h.9M188.0 287.4h.9M181.1 289.9h.9M176.8 291.6h.9M189.0 283.1h.9M182.4 289.0h.9M179.1 294.4h.9M179.6 284.0h.9M179.7 278.0h.9M180.0 290.9h.9M175.6 292.4h.9M188.4 282.8h.9M184.6 283.5h.9M187.4 296.3h.9M181.2 284.8h.9M184.4 280.1h.9M183.6 283.7h.9M188.3 286.0h.9M186.6 281.9h.9M184.5 283.7h.9M179.8 288.7h.9M177.2 286.6h.9M179.1 288.3h.9M179.8 287.2h.9M180.3 282.5h.9M177.0 288.9h.9M190.6 277.8h.9M184.1 289.7h.9M173.4 286.0h.9M177.7 287.2h.9M176.5 280.8h.9M183.9 283.7h.9M187.8 278.6h.9M178.2 294.6h.9M185.7 284.4h.9M181.5 288.9h.9M188.2 276.2h.9M189.2 278.0h.9M184.3 284.8h.9M186.2 278.8h.9M182.8 291.1h.9M181.1 285.1h.9M177.4 289.0h.9M184.3 286.8h.9M182.5 285.6h.9M181.0 290.2h.9M182.4 283.3h.9M181.9 288.1h.9M178.0 293.3h.9M180.3 288.1h.9M188.1 284.4h.9M181.7 285.1h.9M189.3 283.6h.9M177.4 291.3h.9M176.5 287.7h.9M183.4 278.5h.9M186.4 285.3h.9M179.7 286.7h.9M185.7 286.9h.9M187.2 284.4h.9M187.8 290.8h.9M182.3 281.1h.9M182.6 282.0h.9M175.1 292.1h.9M182.9 281.6h.9M184.1 287.0h.9M189.4 283.3h.9M176.9 280.0h.9M178.9 290.6h.9M178.1 294.0h.9M187.0 285.2h.9M177.8 291.6h.9M192.4 277.6h.9M185.9 284.3h.9M176.6 290.5h.9M182.5 282.8h.9M186.7 277.1h.9M185.4 284.4h.9M181.8 286.3h.9M179.1 283.9h.9M186.7 281.1h.9M182.8 289.3h.9M186.6 284.1h.9M184.6 283.3h.9M180.6 284.4h.9M189.5 284.0h.9M180.5 287.4h.9M184.8 284.5h.9M179.9 281.3h.9M181.7 284.9h.9M181.6 283.8h.9M179.7 287.6h.9M183.9 290.6h.9M188.9 287.6h.9M191.4 285.2h.9M189.5 283.8h.9M182.0 285.0h.9M189.6 284.7h.9M184.7 283.2h.9M191.1 281.1h.9M177.0 284.9h.9M189.7 282.9h.9M180.0 286.9h.9M188.2 291.7h.9M180.6 289.3h.9M187.0 282.7h.9M181.5 289.9h.9M174.1 287.7h.9M178.3 292.3h.9M181.7 289.8h.9M172.4 285.7h.9M177.2 288.1h.9M179.4 287.0h.9M181.8 287.7h.9M183.8 288.7h.9M179.0 283.5h.9M175.8 285.9h.9M184.2 286.8h.9M181.3 290.8h.9M186.9 279.5h.9M180.4 280.4h.9M185.8 289.7h.9M178.7 291.4h.9M184.0 290.2h.9M183.2 281.7h.9M184.9 284.3h.9M178.5 288.8h.9M182.2 288.2h.9M178.9 287.2h.9M182.1 286.1h.9M185.7 289.2h.9M196.6 278.4h.9M183.0 283.7h.9M186.1 282.8h.9M183.3 283.7h.9M188.1 284.4h.9M184.9 284.3h.9M187.6 282.2h.9M184.5 291.4h.9M193.9 282.7h.9M189.2 282.0h.9M174.9 294.7h.9M184.2 283.1h.9M183.2 285.9h.9M172.6 289.9h.9M178.8 285.3h.9M180.7 285.3h.9M179.4 287.8h.9M183.4 279.7h.9M174.5 287.9h.9M186.3 285.7h.9M186.4 285.7h.9M184.4 286.6h.9M181.3 296.6h.9M182.8 288.8h.9M180.7 286.3h.9M188.1 283.3h.9M185.2 285.1h.9M192.0 284.0h.9M181.1 285.5h.9M189.5 289.6h.9M180.2 282.5h.9M182.0 289.0h.9M178.0 290.2h.9M185.2 280.2h.9M182.5 288.8h.9M185.7 287.2h.9M189.7 280.5h.9M182.6 295.9h.9M184.6 288.3h.9M187.0 282.9h.9M182.6 284.1h.9M180.3 284.0h.9M184.5 286.4h.9M185.2 285.3h.9M186.4 278.6h.9M186.7 280.1h.9M179.7 284.3h.9M184.9 283.5h.9M188.5 282.1h.9M180.7 284.1h.9M184.5 288.0h.9M180.0 291.2h.9M183.6 286.0h.9M190.8 273.5h.9M183.6 285.0h.9M178.4 290.2h.9M184.4 285.0h.9M183.8 286.7h.9M188.0 284.3h.9M176.5 282.4h.9M178.6 277.2h.9M182.5 288.8h.9M175.7 286.8h.9M188.1 285.6h.9M173.5 288.6h.9M179.0 286.9h.9M176.0 294.6h.9M179.8 282.3h.9M186.5 284.4h.9M185.6 280.3h.9M187.1 284.5h.9M185.6 286.8h.9M173.5 292.7h.9M184.2 286.1h.9M174.3 283.8h.9M180.5 288.0h.9M181.0 290.5h.9M180.3 291.2h.9M185.1 294.0h.9M179.1 289.9h.9M190.8 278.4h.9M185.6 282.7h.9M188.3 284.1h.9M186.3 288.9h.9M187.0 279.5h.9M182.6 289.9h.9M191.9 285.0h.9M178.0 284.4h.9M185.0 287.7h.9M182.9 282.8h.9M181.8 286.4h.9M184.3 284.1h.9M179.4 288.4h.9M186.8 279.4h.9M186.5 286.7h.9M183.3 276.8h.9M186.2 282.9h.9M178.0 285.7h.9M174.5 296.1h.9M180.2 289.4h.9M181.7 284.4h.9M194.3 277.5h.9M181.8 286.6h.9M187.6 281.4h.9M186.7 293.7h.9M192.6 270.4h.9M183.4 286.1h.9M185.9 274.5h.9M181.9 290.7h.9M178.9 284.3h.9M178.2 294.6h.9M179.2 285.2h.9M189.4 287.8h.9M184.2 286.3h.9M182.1 291.2h.9M182.9 286.1h.9M180.2 274.7h.9M182.7 283.1h.9M182.7 279.6h.9M185.8 288.7h.9M187.0 286.5h.9M175.3 289.2h.9M183.9 287.5h.9M189.2 284.2h.9M178.1 285.6h.9M181.7 294.7h.9M183.6 286.7h.9M187.9 283.1h.9M185.6 278.7h.9M181.8 283.8h.9M185.1 285.1h.9M187.6 283.3h.9M184.6 283.3h.9M191.4 282.2h.9M184.8 280.5h.9M178.0 288.1h.9M179.2 281.1h.9M180.1 282.3h.9M180.4 289.1h.9M184.2 287.8h.9M183.3 289.8h.9M182.3 286.4h.9M179.4 284.1h.9M181.2 285.0h.9M184.0 289.4h.9M185.1 285.3h.9M178.6 287.2h.9M181.1 285.9h.9M182.4 286.8h.9M182.9 286.2h.9M182.1 283.0h.9M183.7 285.0h.9M178.7 290.8h.9M185.8 289.6h.9M179.4 287.7h.9M182.3 285.7h.9M183.4 290.2h.9M184.9 285.7h.9M184.3 283.3h.9M184.2 286.0h.9M185.2 287.8h.9M181.8 291.2h.9M183.9 285.2h.9M185.8 287.2h.9M180.3 286.8h.9M178.8 291.1h.9M179.7 288.5h.9M185.5 286.6h.9M185.1 283.5h.9M181.3 286.5h.9M182.7 286.0h.9M183.3 277.3h.9M184.6 288.4h.9M177.7 288.5h.9M180.8 287.0h.9M181.5 286.3h.9M182.9 286.9h.9M182.3 287.6h.9M181.4 283.9h.9M182.8 287.1h.9M176.0 289.4h.9M189.5 284.7h.9M184.1 282.5h.9M184.3 286.0h.9M180.6 284.2h.9M183.1 287.6h.9M187.0 288.8h.9M186.5 287.8h.9M182.3 286.1h.9M179.2 286.6h.9M182.5 285.4h.9M181.4 288.2h.9M184.2 284.6h.9M179.1 286.7h.9M181.7 280.7h.9M182.8 284.6h.9M181.0 285.4h.9M184.7 284.8h.9M179.4 291.1h.9M179.2 284.5h.9M181.3 283.9h.9M184.1 287.9h.9M181.4 284.7h.9M180.7 287.1h.9M184.1 286.8h.9M182.7 286.9h.9M180.9 285.4h.9M182.5 289.3h.9M181.6 291.1h.9M183.6 283.9h.9M182.5 286.2h.9M180.2 290.1h.9M181.0 286.9h.9M181.2 284.8h.9M183.0 285.6h.9M183.1 288.9h.9M180.2 285.1h.9M181.7 287.8h.9M182.9 287.8h.9M184.8 284.5h.9M182.8 288.3h.9M186.8 287.2h.9M182.2 289.6h.9M183.9 288.9h.9M181.4 283.4h.9M179.8 290.2h.9M182.4 288.5h.9M183.3 289.2h.9M182.9 284.6h.9M182.5 289.3h.9M181.4 288.3h.9M180.2 284.7h.9M181.4 290.6h.9M183.3 284.6h.9M184.4 283.6h.9M174.3 290.7h.9M183.6 285.0h.9M184.7 287.1h.9M185.2 285.4h.9M183.1 287.5h.9M183.8 288.6h.9M181.1 287.3h.9M181.9 289.4h.9M183.4 288.8h.9M179.5 285.7h.9M180.3 289.9h.9M182.6 288.5h.9M179.0 288.5h.9M182.3 289.9h.9M178.6 292.5h.9M182.6 288.9h.9M182.2 283.2h.9M180.8 288.6h.9M179.9 287.5h.9M180.9 286.8h.9M176.8 289.7h.9M181.2 286.5h.9M182.4 291.2h.9M185.0 286.8h.9M180.9 287.5h.9M181.7 289.2h.9M185.5 288.0h.9M186.3 288.7h.9M181.0 289.1h.9M184.7 286.1h.9M185.0 286.5h.9M183.4 281.0h.9M179.8 284.0h.9M179.9 290.5h.9M183.5 285.7h.9M187.7 289.9h.9M181.7 291.9h.9M185.9 282.6h.9M186.7 286.3h.9M179.2 295.5h.9M180.7 285.5h.9M185.8 286.9h.9M184.5 285.7h.9M183.5 286.0h.9M182.1 286.3h.9M183.7 286.5h.9M180.6 289.5h.9M188.2 283.0h.9M179.4 289.3h.9M177.8 286.7h.9M182.5 288.3h.9M185.6 286.7h.9M181.0 285.4h.9M182.0 287.5h.9M179.7 286.0h.9M182.0 284.9h.9M179.7 290.9h.9M179.7 283.2h.9M178.6 289.7h.9M180.8 289.3h.9M186.6 284.0h.9M182.0 289.9h.9M182.6 289.3h.9M187.5 281.9h.9M180.6 288.9h.9M179.8 289.1h.9M183.4 284.7h.9M179.2 289.5h.9M183.0 288.7h.9M184.9 284.3h.9M179.6 282.8h.9M180.9 288.5h.9M186.2 283.8h.9M179.6 283.5h.9M180.5 286.6h.9M182.7 280.7h.9M181.4 286.4h.9M180.1 291.6h.9M186.0 278.4h.9M180.8 288.7h.9M182.9 284.4h.9M181.2 286.3h.9M181.6 284.9h.9M178.9 289.8h.9M184.4 286.3h.9M181.1 285.4h.9M185.2 282.6h.9M179.4 286.9h.9M181.0 290.4h.9M183.3 283.5h.9M182.4 288.1h.9M180.6 288.5h.9M181.8 282.0h.9M179.0 291.0h.9M182.3 286.9h.9M175.8 295.0h.9M182.6 291.4h.9M185.4 285.3h.9M184.3 285.9h.9M184.2 283.8h.9M181.1 283.8h.9M183.3 288.7h.9M181.2 286.7h.9M181.9 286.1h.9M181.9 286.7h.9M174.1 291.6h.9M184.4 288.8h.9M183.2 286.7h.9M184.2 285.9h.9M179.9 288.1h.9M183.8 291.9h.9M183.3 281.3h.9M176.8 285.9h.9M177.9 289.7h.9M182.3 287.4h.9M180.6 290.8h.9M182.1 290.5h.9M180.6 292.8h.9M185.8 283.8h.9M177.6 290.2h.9M178.9 287.6h.9M179.8 290.4h.9M178.9 288.7h.9M180.8 289.9h.9M182.1 285.2h.9M178.9 288.6h.9M183.0 285.4h.9M185.3 285.3h.9M184.8 285.0h.9M187.0 282.8h.9M184.9 289.1h.9M182.1 287.9h.9M186.4 288.5h.9M183.9 283.9h.9M186.7 280.4h.9M181.7 285.5h.9M177.1 288.4h.9M179.4 290.1h.9M182.6 289.7h.9M183.5 289.8h.9M181.7 291.3h.9M184.6 288.2h.9M179.4 288.3h.9M180.5 285.6h.9M184.5 288.1h.9M182.3 285.7h.9M182.4 284.9h.9M185.6 287.5h.9M184.8 286.8h.9M180.3 290.0h.9M182.7 285.0h.9M178.1 291.5h.9M182.2 288.0h.9M183.1 286.3h.9M178.0 286.5h.9M185.9 283.0h.9M187.0 281.9h.9M183.4 290.3h.9M184.4 282.6h.9M185.8 287.5h.9M181.8 286.6h.9M184.7 284.7h.9M183.1 285.5h.9M178.5 288.1h.9M180.0 290.2h.9M180.8 289.0h.9M184.8 286.2h.9M182.4 283.4h.9M184.6 281.6h.9M181.1 292.3h.9M179.1 285.5h.9M187.2 281.3h.9M188.8 287.8h.9M183.1 282.8h.9M181.7 289.2h.9M185.1 288.5h.9M179.5 288.6h.9M181.7 289.8h.9M178.8 284.6h.9M183.4 283.5h.9M182.8 286.4h.9M181.2 287.4h.9M180.6 287.4h.9M178.5 289.5h.9M180.2 285.8h.9M185.2 280.5h.9M181.4 288.4h.9M185.2 285.4h.9M180.1 289.9h.9M182.0 292.6h.9M181.1 287.6h.9M181.6 288.8h.9M184.1 284.1h.9M177.3 291.1h.9M184.0 287.4h.9M183.9 287.1h.9M182.2 289.5h.9M182.4 284.0h.9M181.7 288.7h.9M183.9 287.7h.9M182.3 291.2h.9M180.2 283.0h.9M182.6 286.7h.9M184.5 292.0h.9M183.1 285.7h.9M182.3 285.9h.9M182.7 291.6h.9M181.0 294.0h.9M181.1 287.7h.9M177.7 286.7h.9M181.8 285.6h.9M184.6 285.2h.9M181.3 285.2h.9M180.0 285.7h.9M184.4 286.8h.9M182.6 287.0h.9M182.5 288.2h.9M183.3 286.7h.9M183.9 283.3h.9M182.1 289.0h.9M180.2 288.4h.9M186.4 284.1h.9M182.3 286.3h.9M180.4 288.5h.9M182.7 287.1h.9M185.1 285.8h.9M178.8 290.2h.9M185.3 288.8h.9M181.9 286.3h.9M187.0 285.4h.9M183.8 283.6h.9M182.0 286.7h.9M185.2 287.3h.9M185.3 288.3h.9M181.4 287.8h.9M182.8 286.6h.9M181.0 285.6h.9M184.4 286.9h.9M178.8 285.3h.9M181.8 287.5h.9M177.1 288.8h.9M183.6 284.2h.9M176.9 289.7h.9M179.7 287.3h.9M182.8 288.4h.9M181.4 286.1h.9M181.1 288.7h.9M179.9 291.9h.9M181.1 287.9h.9M178.0 290.5h.9M183.0 285.1h.9M184.1 285.5h.9M184.0 281.5h.9M182.1 286.7h.9M185.1 283.1h.9M183.3 287.0h.9M184.5 280.9h.9M183.1 284.5h.9M182.3 287.2h.9M180.4 288.7h.9M175.9 284.8h.9M183.7 285.4h.9M181.9 293.8h.9M186.9 287.5h.9M177.5 289.0h.9M184.2 279.2h.9M180.0 285.4h.9M182.2 288.4h.9M180.1 288.4h.9M183.0 287.9h.9M182.1 289.6h.9M184.3 286.6h.9M182.6 289.1h.9M183.4 282.0h.9M185.3 292.6h.9M183.4 285.8h.9M181.9 285.5h.9M185.2 290.0h.9M181.9 288.7h.9M183.2 289.3h.9M181.4 285.7h.9M180.6 288.3h.9M175.1 291.3h.9M183.9 283.5h.9M179.5 287.4h.9M184.0 285.8h.9M186.5 284.8h.9M179.1 286.3h.9M184.3 283.0h.9M182.0 288.2h.9M183.3 287.3h.9M179.4 291.0h.9M182.3 286.8h.9M182.6 285.1h.9M185.6 282.1h.9M187.3 285.5h.9M183.0 286.0h.9M181.4 292.6h.9M187.5 291.2h.9M182.0 291.2h.9M182.1 284.7h.9M182.5 283.3h.9M183.3 286.0h.9M183.9 284.1h.9M180.9 291.2h.9M182.0 287.4h.9M186.7 284.5h.9M186.0 285.7h.9M183.3 289.9h.9M182.9 284.3h.9M181.7 288.5h.9M184.7 282.7h.9M181.0 286.9h.9M182.5 285.2h.9M181.1 288.2h.9M180.8 287.9h.9M182.3 290.1h.9M182.2 288.8h.9M180.9 285.9h.9M182.1 283.6h.9M182.4 284.8h.9M181.1 286.3h.9M180.7 286.9h.9M181.9 285.1h.9M183.9 289.3h.9M184.9 288.6h.9M182.7 286.2h.9M181.6 285.9h.9M182.2 286.4h.9M186.8 285.4h.9M184.4 286.2h.9M180.0 283.5h.9M182.1 285.9h.9M181.0 282.5h.9M181.4 287.4h.9M178.2 290.1h.9M182.3 284.2h.9M179.0 288.5h.9M180.8 285.9h.9M185.8 284.0h.9M184.6 291.3h.9M180.2 290.0h.9M179.8 289.1h.9M180.1 286.6h.9M177.8 289.6h.9M179.9 287.3h.9M181.6 288.4h.9M179.8 285.5h.9M184.0 286.2h.9M182.1 286.0h.9M181.0 283.7h.9M186.4 290.0h.9M183.9 288.6h.9M182.4 284.9h.9M186.6 281.7h.9M185.4 284.0h.9M180.6 285.4h.9M183.0 285.1h.9M181.2 283.4h.9M178.8 286.0h.9M186.8 285.6h.9M185.8 286.9h.9M179.2 282.8h.9M183.4 286.6h.9M178.3 285.7h.9M184.8 283.4h.9M182.1 286.2h.9M181.6 285.4h.9M185.2 287.8h.9M182.3 288.8h.9M181.6 286.4h.9M184.4 284.6h.9M181.5 291.9h.9M184.3 291.2h.9M182.3 288.0h.9M184.2 285.9h.9M183.7 289.1h.9M184.1 290.2h.9M179.8 286.4h.9M186.7 290.2h.9M181.9 286.7h.9M186.5 288.4h.9M180.8 286.1h.9M181.6 287.4h.9M181.6 286.0h.9M185.0 286.1h.9M181.2 290.0h.9M183.2 284.3h.9M178.5 287.5h.9M181.1 288.8h.9M182.8 285.6h.9M182.0 292.4h.9M177.8 284.6h.9M183.4 293.3h.9M179.9 286.0h.9M186.9 288.0h.9M181.8 291.4h.9M187.7 286.6h.9M183.8 282.7h.9M183.4 285.7h.9M181.1 287.6h.9M182.0 288.6h.9M183.3 289.2h.9M177.6 291.5h.9M184.6 290.1h.9M179.4 285.4h.9M181.6 289.8h.9M175.7 284.6h.9M183.3 287.0h.9M184.0 283.6h.9M182.9 282.1h.9M183.0 289.2h.9M181.4 287.2h.9M182.6 289.5h.9M185.2 281.8h.9M181.2 284.1h.9M183.5 286.3h.9M184.0 284.6h.9M181.7 287.4h.9M182.8 285.1h.9M182.8 285.9h.9M181.1 284.4h.9M188.1 288.4h.9M181.2 286.5h.9M186.4 282.5h.9M184.8 287.9h.9M177.3 289.9h.9M182.9 287.4h.9M184.7 286.7h.9M184.2 285.3h.9M180.1 287.4h.9M182.9 280.9h.9M179.3 283.8h.9M179.7 284.6h.9M181.7 287.9h.9M182.7 290.1h.9M186.1 285.2h.9M183.1 286.0h.9M184.8 289.1h.9M179.3 287.0h.9M179.4 289.7h.9M181.1 288.5h.9M186.5 282.0h.9M179.0 288.9h.9M178.4 288.8h.9M182.1 284.0h.9M185.1 283.3h.9M178.3 284.9h.9M181.6 290.8h.9M179.0 293.7h.9M185.8 287.7h.9M183.9 290.6h.9M182.9 283.2h.9M182.1 290.8h.9M181.7 292.4h.9M182.6 291.2h.9M180.7 285.0h.9M180.1 290.6h.9M179.5 287.6h.9M182.3 289.8h.9M180.3 285.9h.9M184.4 286.3h.9M209.5 263.8h.9M217.8 264.0h.9M213.2 260.9h.9M222.9 257.5h.9M220.6 262.4h.9M217.3 260.8h.9M213.7 258.8h.9M211.6 262.8h.9M214.1 261.4h.9M220.0 259.6h.9M215.1 255.2h.9M216.3 261.4h.9M213.7 269.1h.9M213.4 265.7h.9M208.7 266.7h.9M199.1 262.9h.9M218.6 266.1h.9M218.5 259.3h.9M206.3 260.8h.9M229.3 263.5h.9M204.7 257.1h.9M222.0 262.0h.9M216.0 263.3h.9M216.5 268.7h.9M223.1 259.0h.9M221.4 263.5h.9M214.2 259.6h.9M205.6 260.5h.9M204.3 252.1h.9M215.5 258.4h.9M226.6 266.1h.9M221.0 263.9h.9M213.8 262.8h.9M216.7 271.8h.9M219.5 264.1h.9M227.7 256.7h.9M208.0 261.7h.9M219.8 261.7h.9M216.3 268.4h.9M208.0 259.0h.9M205.9 264.3h.9M224.2 265.6h.9M216.7 258.9h.9M212.4 262.6h.9M214.8 254.3h.9M221.9 262.2h.9M214.8 253.5h.9M226.8 260.1h.9M212.0 269.1h.9M207.8 264.1h.9M213.1 262.5h.9M206.5 263.2h.9M211.3 270.8h.9M223.8 263.9h.9M227.7 265.6h.9M219.1 260.2h.9M215.6 260.4h.9M206.8 258.5h.9M206.0 261.9h.9M217.0 259.3h.9M215.4 266.0h.9M209.4 265.0h.9M210.5 261.9h.9M226.5 259.5h.9M221.9 250.4h.9M214.5 259.9h.9M215.9 263.3h.9M224.2 264.3h.9M216.9 249.9h.9M215.9 252.7h.9M201.5 263.5h.9M200.6 258.8h.9M198.8 262.1h.9M196.0 261.3h.9M213.9 264.5h.9M216.7 254.8h.9M207.1 260.3h.9M217.6 265.7h.9M217.6 262.9h.9M213.4 259.0h.9M202.3 264.6h.9M225.6 262.8h.9M225.0 258.2h.9M209.4 265.2h.9M229.5 264.1h.9M214.4 261.7h.9M207.8 266.2h.9M210.8 257.8h.9M199.2 266.0h.9M211.2 261.6h.9M201.3 259.2h.9M223.1 259.4h.9M216.6 266.7h.9M202.9 260.6h.9M218.6 260.6h.9M200.3 260.3h.9M215.3 259.0h.9M217.9 265.8h.9M214.6 270.9h.9M205.0 267.9h.9M213.2 264.3h.9M212.6 265.3h.9M214.5 260.8h.9M225.9 259.7h.9M227.6 256.9h.9M226.7 267.3h.9M209.0 261.1h.9M208.1 259.7h.9M214.2 259.7h.9M217.5 262.8h.9M197.6 260.9h.9M209.1 262.5h.9M228.4 262.2h.9M204.1 268.0h.9M208.1 257.6h.9M208.4 263.7h.9M217.9 259.3h.9M213.5 260.6h.9M211.4 268.7h.9M201.9 265.3h.9M218.9 260.5h.9M214.0 264.2h.9M208.7 262.4h.9M214.2 266.6h.9M220.3 260.0h.9M202.2 264.7h.9M201.6 262.0h.9M205.8 262.7h.9M207.0 262.0h.9M189.6 261.0h.9M209.2 262.9h.9M222.9 265.6h.9M211.4 260.0h.9M222.1 260.3h.9M191.0 264.8h.9M213.1 259.3h.9M225.1 265.1h.9M226.6 264.4h.9M210.0 253.4h.9M207.4 260.0h.9M217.1 257.8h.9M204.3 266.0h.9M211.1 266.1h.9M200.6 258.2h.9M214.7 259.5h.9M214.0 261.9h.9M227.0 260.1h.9M216.9 264.9h.9M208.7 266.3h.9M213.3 264.6h.9M203.7 267.0h.9M214.3 265.9h.9M212.3 262.0h.9M217.4 260.4h.9M221.5 259.0h.9M198.0 266.3h.9M216.6 265.6h.9M219.9 265.9h.9M204.4 261.4h.9M229.2 259.9h.9M208.2 263.6h.9M233.7 266.2h.9M220.3 263.3h.9M221.8 262.7h.9M216.2 258.9h.9M222.1 263.6h.9M205.7 264.8h.9M207.5 258.8h.9M198.3 269.9h.9M218.3 258.4h.9M208.3 266.2h.9M220.0 261.1h.9M218.8 262.6h.9M203.3 259.7h.9M219.6 259.8h.9M216.1 264.9h.9M215.6 261.4h.9M217.7 260.7h.9M213.8 265.7h.9M214.1 265.0h.9M222.5 262.5h.9M206.0 263.6h.9M204.4 269.5h.9M207.9 261.9h.9M222.3 263.4h.9M211.4 264.1h.9M229.4 256.0h.9M189.3 255.9h.9M208.3 263.0h.9M210.4 265.8h.9M216.2 262.9h.9M224.7 259.6h.9M212.5 259.8h.9M205.8 265.9h.9M220.7 260.8h.9M226.4 255.3h.9M193.5 266.0h.9M218.6 263.0h.9M216.4 263.6h.9M207.3 266.7h.9M210.2 267.6h.9M216.3 264.3h.9M214.2 261.6h.9M212.0 254.1h.9M204.6 263.9h.9M216.3 261.6h.9M208.7 267.7h.9M214.7 267.2h.9M209.3 264.4h.9M215.6 267.5h.9M220.0 261.7h.9M215.9 262.0h.9M219.3 258.7h.9M202.9 261.6h.9M217.7 262.9h.9M216.3 266.3h.9M209.0 259.6h.9M212.7 265.5h.9M191.6 272.5h.9M214.6 257.0h.9M210.7 261.4h.9M195.8 263.2h.9M218.0 266.0h.9M208.9 270.3h.9M216.2 267.0h.9M212.1 262.2h.9M217.8 258.7h.9M214.7 262.0h.9M211.7 262.2h.9M217.9 263.0h.9M220.6 258.4h.9M195.8 269.1h.9M214.2 259.4h.9M209.2 265.2h.9M205.1 263.5h.9M224.4 257.4h.9M221.7 262.1h.9M205.7 262.7h.9M205.0 262.0h.9M220.5 265.1h.9M208.9 260.6h.9M211.3 272.4h.9M198.2 267.5h.9M212.9 258.7h.9M223.1 252.0h.9M210.3 267.4h.9M213.0 263.3h.9M227.9 261.9h.9M221.0 258.1h.9M225.4 256.0h.9M219.0 254.7h.9M223.6 271.8h.9M200.6 269.2h.9M207.4 260.4h.9M200.7 270.3h.9M231.7 254.1h.9M215.4 264.9h.9M212.9 265.1h.9M207.9 259.2h.9M205.8 260.9h.9M191.5 259.3h.9M231.9 261.5h.9M213.3 267.4h.9M214.4 266.1h.9M202.7 264.4h.9M213.5 266.7h.9M217.0 255.1h.9M213.3 270.2h.9M218.9 261.8h.9M207.2 257.4h.9M216.5 260.6h.9M221.1 259.3h.9M218.4 262.4h.9M217.0 263.3h.9M213.1 253.1h.9M206.0 267.6h.9M218.4 268.8h.9M210.8 258.3h.9M206.4 268.4h.9M220.1 266.9h.9M201.1 266.9h.9M209.5 268.9h.9M220.1 256.4h.9M221.5 264.7h.9M210.9 258.4h.9M214.4 271.6h.9M218.3 258.2h.9M213.4 257.4h.9M207.8 267.0h.9M217.4 264.5h.9M215.2 262.3h.9M214.8 262.7h.9M222.9 264.2h.9M216.4 268.9h.9M210.3 259.6h.9M215.2 259.9h.9M229.5 259.2h.9M208.2 262.2h.9M211.8 262.4h.9M207.5 257.4h.9M216.8 263.3h.9M203.8 257.7h.9M217.5 260.8h.9M220.0 260.9h.9M207.7 261.6h.9M207.1 268.4h.9M202.0 269.3h.9M214.3 266.5h.9M205.0 268.9h.9M208.9 261.3h.9M210.6 268.0h.9M208.4 262.3h.9M220.6 262.8h.9M226.7 262.7h.9M196.9 257.8h.9M207.4 260.1h.9M215.9 261.5h.9M205.5 264.1h.9M209.6 261.9h.9M215.6 258.7h.9M225.1 257.1h.9M223.3 261.8h.9M211.6 257.6h.9M215.0 257.5h.9M211.0 261.9h.9M212.5 263.0h.9M204.5 259.4h.9M199.8 255.8h.9M211.0 263.5h.9M221.8 265.1h.9M220.1 260.3h.9M199.0 261.5h.9M212.4 253.0h.9M208.9 266.0h.9M216.3 257.7h.9M205.2 265.5h.9M221.3 259.5h.9M212.3 261.7h.9M218.6 261.2h.9M221.0 254.7h.9M198.4 273.9h.9M212.2 256.1h.9M226.1 262.0h.9M214.1 259.0h.9M222.3 260.8h.9M217.3 267.5h.9M210.0 255.0h.9M216.2 261.5h.9M222.4 263.7h.9M224.3 262.2h.9M225.5 263.2h.9M205.1 259.7h.9M220.6 255.3h.9M203.0 257.5h.9M212.9 260.6h.9M212.3 265.2h.9M219.0 262.3h.9M216.5 268.5h.9M223.9 262.1h.9M209.1 263.2h.9M220.7 262.7h.9M217.1 255.2h.9M214.0 264.5h.9M204.4 258.3h.9M218.5 260.5h.9M216.5 271.4h.9M220.3 257.0h.9M213.7 262.7h.9M211.9 263.5h.9M217.1 262.6h.9M217.7 262.0h.9M219.5 259.7h.9M229.1 269.4h.9M209.0 254.5h.9M230.0 257.3h.9M190.3 269.3h.9M221.6 264.0h.9M207.4 259.5h.9M230.0 257.8h.9M206.9 261.6h.9M222.4 272.3h.9M206.1 264.6h.9M204.9 258.5h.9M220.4 262.8h.9M220.9 259.4h.9M208.4 268.4h.9M233.2 262.4h.9M211.4 267.3h.9M226.5 262.2h.9M205.9 270.7h.9M206.3 264.2h.9M214.7 263.3h.9M205.9 258.5h.9M217.6 260.3h.9M196.8 264.6h.9M215.4 260.2h.9M209.5 272.3h.9M206.3 262.5h.9M215.7 259.1h.9M212.2 266.2h.9M210.4 260.3h.9M220.4 263.5h.9M216.3 261.7h.9M217.0 259.2h.9M224.6 267.2h.9M213.4 262.6h.9M220.7 266.2h.9M210.6 261.0h.9M218.8 256.3h.9M218.2 257.0h.9M209.6 260.4h.9M201.9 262.1h.9M203.8 262.9h.9M206.5 264.6h.9M218.4 257.0h.9M212.9 263.2h.9M211.6 257.5h.9M217.8 259.3h.9M219.8 272.1h.9M225.1 266.7h.9M209.2 261.0h.9M218.4 269.1h.9M219.6 267.6h.9M206.4 266.1h.9M215.0 268.0h.9M206.7 261.6h.9M212.2 261.8h.9M217.3 258.6h.9M200.4 265.2h.9M207.0 257.6h.9M207.6 260.5h.9M214.7 264.0h.9M208.1 260.5h.9M217.0 263.4h.9M207.2 269.8h.9M209.9 258.5h.9M218.8 267.5h.9M216.5 259.4h.9M215.2 258.4h.9M213.7 263.1h.9M222.0 265.9h.9M224.9 258.8h.9M211.0 259.4h.9M208.2 260.7h.9M205.7 259.7h.9M227.8 262.3h.9M206.9 259.7h.9M203.5 261.7h.9M216.1 263.5h.9M222.3 260.1h.9M204.2 267.3h.9M213.0 259.6h.9M202.6 259.7h.9M208.4 270.6h.9M226.9 267.5h.9M215.3 262.4h.9M211.9 265.6h.9M214.5 263.5h.9M216.2 260.1h.9M213.2 264.9h.9M204.5 263.9h.9M204.6 267.8h.9M230.0 254.1h.9M207.9 265.7h.9M223.5 262.4h.9M208.3 259.8h.9M224.3 260.0h.9M219.5 260.3h.9M212.3 257.0h.9M230.0 259.1h.9M206.6 265.7h.9M212.1 256.3h.9M207.2 261.0h.9M207.8 253.1h.9M211.1 260.1h.9M206.4 264.1h.9M211.4 262.1h.9M226.5 261.7h.9M200.2 258.4h.9M204.0 265.0h.9M206.4 259.0h.9M210.3 266.0h.9M222.0 262.6h.9M219.7 260.4h.9M217.8 267.9h.9M215.6 260.5h.9M233.0 265.3h.9M205.0 263.1h.9M204.8 262.7h.9M213.8 266.2h.9M215.6 263.9h.9M212.1 262.3h.9M207.3 262.1h.9M203.6 263.6h.9M211.8 262.7h.9M208.4 261.2h.9M210.2 258.3h.9M205.4 252.3h.9M224.6 261.2h.9M217.6 261.1h.9M228.7 266.3h.9M209.9 264.2h.9M214.5 266.7h.9M212.0 269.2h.9M214.2 261.8h.9M212.0 259.0h.9M212.7 265.5h.9M198.3 260.6h.9M211.8 261.3h.9M219.5 267.7h.9M198.5 265.2h.9M211.2 266.7h.9M218.5 256.6h.9M224.1 261.8h.9M213.3 266.7h.9M217.6 256.9h.9M227.9 262.3h.9M224.3 263.3h.9M210.4 253.2h.9M209.2 268.8h.9M222.1 259.0h.9M215.8 261.6h.9M209.7 269.1h.9M212.2 255.2h.9M216.5 263.9h.9M212.4 260.5h.9M212.0 262.5h.9M212.1 259.0h.9M202.1 268.2h.9M227.8 257.1h.9M223.7 263.2h.9M226.0 263.8h.9M212.9 261.9h.9M215.0 261.1h.9M218.6 260.9h.9M220.5 266.0h.9M199.5 264.7h.9M216.8 261.7h.9M206.1 258.3h.9M213.4 262.9h.9M208.7 264.6h.9M227.5 261.4h.9M218.3 267.7h.9M213.8 254.6h.9M225.1 271.6h.9M213.4 261.5h.9M208.2 258.0h.9M212.5 255.3h.9M211.1 265.8h.9M214.4 264.5h.9M220.7 261.0h.9M213.1 262.1h.9M213.5 262.9h.9M222.0 260.1h.9M216.3 266.7h.9M221.5 264.3h.9M215.1 261.7h.9M203.7 256.2h.9M205.1 268.1h.9M200.8 261.0h.9M223.0 257.6h.9M217.3 267.2h.9M210.2 264.4h.9M206.1 254.6h.9M216.9 255.5h.9M212.9 260.7h.9M216.5 257.1h.9M207.3 261.9h.9M205.2 273.1h.9M226.5 273.5h.9M206.4 262.4h.9M213.8 265.4h.9M224.6 265.2h.9M199.5 262.5h.9M219.6 256.1h.9M214.5 266.5h.9M212.9 261.6h.9M216.1 263.9h.9M204.6 265.5h.9M196.4 259.9h.9M229.0 268.2h.9M211.7 262.6h.9M221.1 262.8h.9M222.8 260.1h.9M216.3 264.9h.9M217.6 266.1h.9M219.6 259.7h.9M226.5 263.9h.9M217.9 260.3h.9M224.0 256.8h.9M211.7 261.0h.9M210.7 264.8h.9M214.7 264.4h.9M217.2 266.4h.9M218.3 259.3h.9M229.4 260.3h.9M220.7 262.2h.9M214.5 264.7h.9M229.8 261.0h.9M216.6 258.3h.9M199.7 293.0h.9M222.9 285.1h.9M222.0 284.2h.9M207.2 281.7h.9M225.5 279.8h.9M212.4 286.2h.9M216.8 288.7h.9M223.7 287.4h.9M208.8 288.4h.9M198.1 283.2h.9M215.5 287.1h.9M216.8 286.1h.9M220.3 284.1h.9M218.1 294.9h.9M213.8 288.3h.9M222.7 294.5h.9M204.2 283.0h.9M216.2 297.5h.9M211.9 284.3h.9M227.7 288.4h.9M216.7 287.8h.9M224.4 291.1h.9M220.6 282.2h.9M211.4 290.7h.9M229.4 292.0h.9M222.4 285.6h.9M213.1 277.6h.9M211.9 285.2h.9M204.1 286.6h.9M211.6 292.1h.9M210.9 285.5h.9M214.7 283.0h.9M209.3 291.4h.9M217.8 290.3h.9M212.2 292.0h.9M199.5 288.7h.9M208.6 293.6h.9M205.3 291.0h.9M202.1 279.9h.9M210.8 289.5h.9M220.7 292.2h.9M203.4 288.7h.9M195.8 295.5h.9M211.6 286.3h.9M207.9 282.6h.9M215.3 288.5h.9M209.4 285.9h.9M220.3 283.7h.9M225.3 282.2h.9M211.6 289.6h.9M223.1 290.6h.9M203.7 285.5h.9M214.7 282.6h.9M202.1 284.3h.9M214.6 292.2h.9M207.7 282.7h.9M215.0 294.0h.9M203.4 280.5h.9M214.9 289.9h.9M213.9 291.7h.9M208.1 294.4h.9M206.1 286.5h.9M202.9 284.9h.9M209.6 281.7h.9M216.4 292.9h.9M211.8 287.9h.9M214.3 286.3h.9M223.8 286.5h.9M210.2 289.7h.9M215.5 288.7h.9M220.1 294.2h.9M217.4 278.2h.9M216.3 292.6h.9M213.7 286.0h.9M229.5 288.2h.9M212.4 287.0h.9M209.7 288.1h.9M218.1 292.2h.9M227.0 289.6h.9M225.1 281.6h.9M213.3 288.2h.9M220.1 288.1h.9M217.3 290.3h.9M213.7 288.7h.9M218.6 288.2h.9M218.3 293.5h.9M214.2 283.3h.9M209.8 285.9h.9M224.9 283.6h.9M230.9 292.3h.9M231.1 293.7h.9M215.4 294.6h.9M211.5 295.6h.9M199.4 290.9h.9M212.5 288.9h.9M233.8 290.4h.9M199.7 288.6h.9M199.8 286.0h.9M220.2 296.3h.9M218.3 297.3h.9M197.5 288.6h.9M212.5 287.5h.9M215.9 286.2h.9M200.1 280.5h.9M221.2 285.3h.9M201.7 286.1h.9M222.7 288.5h.9M214.8 283.8h.9M207.1 279.5h.9M199.3 291.7h.9M210.1 296.9h.9M212.2 278.4h.9M211.9 287.9h.9M207.9 292.7h.9M211.2 283.0h.9M220.4 281.7h.9M205.3 288.8h.9M211.2 287.5h.9M216.9 285.6h.9M212.8 296.5h.9M220.4 295.8h.9M226.3 291.8h.9M210.0 288.3h.9M214.8 287.1h.9M188.0 292.9h.9M210.0 287.5h.9M218.7 295.8h.9M203.4 294.6h.9M224.3 285.8h.9M196.9 292.3h.9M224.5 296.2h.9M208.6 291.8h.9M204.3 284.2h.9M208.8 287.4h.9M210.7 287.1h.9M204.3 289.3h.9M201.2 288.9h.9M208.5 287.0h.9M221.1 292.9h.9M216.4 295.2h.9M224.4 286.1h.9M207.8 281.7h.9M209.9 290.6h.9M210.1 288.8h.9M214.2 290.8h.9M216.9 285.5h.9M227.9 290.2h.9M218.9 284.4h.9M214.4 294.1h.9M224.5 296.9h.9M206.3 284.4h.9M201.7 276.4h.9M218.6 286.5h.9M214.4 286.3h.9M214.0 289.8h.9M220.9 289.0h.9M210.1 291.3h.9M216.2 286.2h.9M218.5 287.1h.9M221.3 291.0h.9M213.9 280.0h.9M215.2 292.7h.9M192.3 285.9h.9M223.4 282.0h.9M199.5 284.9h.9M212.5 291.4h.9M210.1 294.9h.9M199.4 291.1h.9M226.7 285.5h.9M208.2 291.6h.9M211.5 288.6h.9M219.2 279.1h.9M219.5 296.7h.9M211.8 292.7h.9M222.4 291.0h.9M205.2 288.6h.9M218.6 286.3h.9M207.6 284.4h.9M218.8 281.5h.9M209.1 293.5h.9M225.5 292.3h.9M203.3 290.8h.9M202.9 279.8h.9M217.8 287.7h.9M210.6 289.6h.9M209.2 294.6h.9M211.7 284.2h.9M230.9 290.4h.9M204.1 287.9h.9M210.6 289.2h.9M214.3 285.3h.9M204.9 290.8h.9M212.6 289.5h.9M217.0 280.1h.9M205.1 294.9h.9M203.1 284.9h.9M211.6 294.6h.9M215.7 284.4h.9M198.0 297.6h.9M215.2 290.1h.9M207.8 290.5h.9M222.1 294.0h.9M214.7 288.3h.9M200.7 296.0h.9M216.2 297.7h.9M205.3 292.4h.9M213.6 286.5h.9M200.1 287.4h.9M219.0 284.6h.9M192.3 292.1h.9M211.4 291.7h.9M223.8 285.8h.9M217.2 293.6h.9M209.9 286.4h.9M210.8 297.9h.9M209.2 293.2h.9M212.4 285.8h.9M212.7 284.4h.9M206.6 280.5h.9M208.8 292.3h.9M218.0 283.8h.9M207.6 295.7h.9M206.0 289.9h.9M208.1 292.9h.9M209.8 283.1h.9M214.3 286.4h.9M208.7 290.1h.9M211.2 292.8h.9M206.4 283.1h.9M223.3 290.9h.9M213.6 285.3h.9M210.1 293.2h.9M215.3 288.2h.9M212.4 287.8h.9M199.5 291.4h.9M211.3 294.8h.9M226.8 288.1h.9M217.1 295.1h.9M222.8 284.5h.9M207.1 290.6h.9M200.2 283.9h.9M206.9 290.3h.9M224.3 284.9h.9M204.3 289.4h.9M206.1 292.2h.9M222.2 284.6h.9M210.7 280.9h.9M211.1 288.4h.9M216.0 291.8h.9M213.5 290.4h.9M210.2 284.9h.9M215.0 293.3h.9M206.7 287.9h.9M212.4 292.9h.9M218.4 285.0h.9M203.8 291.4h.9M211.0 294.9h.9M203.1 286.1h.9M219.1 287.9h.9M218.0 292.2h.9M220.8 291.7h.9M221.6 290.9h.9M221.5 288.6h.9M218.9 281.8h.9M206.2 289.2h.9M220.8 283.1h.9M205.0 289.6h.9M232.6 278.0h.9M215.3 296.1h.9M202.3 291.3h.9M221.9 285.2h.9M222.8 287.8h.9M199.5 293.4h.9M208.1 292.3h.9M208.8 285.9h.9M207.3 294.9h.9M224.5 292.7h.9M231.2 291.7h.9M203.7 287.5h.9M221.7 289.2h.9M210.6 285.8h.9M224.4 290.1h.9M192.0 286.0h.9M209.1 294.8h.9M223.1 289.4h.9M206.3 290.2h.9M222.9 290.8h.9M208.4 290.7h.9M222.5 282.4h.9M217.8 295.3h.9M209.2 289.6h.9M206.3 286.6h.9M211.3 284.6h.9M222.6 285.9h.9M212.7 286.3h.9M207.1 289.2h.9M199.4 289.7h.9M210.8 289.9h.9M217.4 285.9h.9M212.7 288.6h.9M209.2 290.8h.9M200.2 289.7h.9M216.6 288.4h.9M203.1 292.3h.9M206.4 295.7h.9M223.3 288.8h.9M203.2 285.0h.9M217.9 291.7h.9M222.8 278.9h.9M221.2 289.9h.9M216.8 288.2h.9M210.8 290.7h.9M200.8 281.9h.9M214.0 287.0h.9M216.5 284.2h.9M208.4 286.5h.9M204.4 291.9h.9M220.1 288.1h.9M203.8 286.2h.9M216.5 294.7h.9M208.6 289.1h.9M198.4 279.4h.9M226.5 284.1h.9M217.9 291.0h.9M217.3 291.1h.9M200.7 290.0h.9M211.6 290.2h.9M215.1 284.7h.9M206.3 288.5h.9M226.7 283.3h.9M195.5 285.0h.9M218.7 284.6h.9M196.6 284.9h.9M199.3 287.3h.9M201.7 287.8h.9M217.5 285.1h.9M206.5 294.0h.9M206.9 286.7h.9M204.8 296.1h.9M200.0 293.6h.9M204.9 283.1h.9M204.1 293.0h.9M209.8 282.2h.9M209.3 295.6h.9M192.0 290.3h.9M206.9 284.1h.9M222.7 278.4h.9M208.4 286.8h.9M211.7 282.3h.9M206.2 293.9h.9M206.5 282.8h.9M211.7 287.6h.9M200.8 291.0h.9M210.8 288.7h.9M198.0 289.9h.9M215.0 287.5h.9M198.8 292.1h.9M217.7 284.2h.9M220.8 291.3h.9M198.3 282.9h.9M217.9 289.5h.9M208.6 283.2h.9M222.0 287.7h.9M207.5 291.4h.9M209.6 294.5h.9M209.6 280.1h.9M222.7 285.0h.9M195.5 284.0h.9M218.5 294.3h.9M212.8 284.5h.9M207.8 291.9h.9M210.0 286.1h.9M219.9 281.8h.9M219.0 289.1h.9M226.4 283.2h.9M206.5 292.0h.9M195.9 292.5h.9M207.2 294.9h.9M210.3 283.8h.9M208.2 296.0h.9M222.3 293.1h.9M231.3 280.1h.9M196.8 296.5h.9M220.8 283.6h.9M206.4 290.1h.9M212.3 282.2h.9M219.1 287.9h.9M215.0 289.4h.9M211.3 291.5h.9M214.3 284.6h.9M218.4 288.4h.9M217.2 284.1h.9M229.5 290.4h.9M186.4 291.7h.9M205.2 288.9h.9M206.9 294.0h.9M218.9 292.1h.9M213.8 290.3h.9M219.1 294.0h.9M199.8 282.7h.9M210.0 288.4h.9M217.4 280.1h.9M211.5 288.5h.9M208.5 286.3h.9M214.2 292.5h.9M225.9 286.4h.9M194.0 285.5h.9M225.4 288.1h.9M214.3 287.9h.9M204.6 291.0h.9M217.5 284.4h.9M212.2 281.4h.9M222.2 281.0h.9M205.0 294.0h.9M220.1 282.6h.9M204.2 286.3h.9M214.6 283.3h.9M217.8 292.7h.9M211.2 285.9h.9M217.3 294.4h.9M206.8 285.2h.9M220.9 290.0h.9M207.6 292.1h.9M205.9 293.1h.9M210.9 282.9h.9M211.4 286.8h.9M204.8 288.2h.9M218.7 279.9h.9M210.8 291.9h.9M217.0 290.4h.9M199.2 291.0h.9M200.7 281.9h.9M209.6 289.4h.9M203.5 290.6h.9M210.8 293.5h.9M216.7 286.1h.9M221.4 291.8h.9M224.4 297.9h.9M218.6 286.5h.9M205.9 286.6h.9M216.6 287.0h.9M207.4 281.5h.9M216.5 286.8h.9M202.9 296.3h.9M223.3 284.2h.9M215.4 287.7h.9M209.5 294.3h.9M200.3 291.3h.9M214.3 289.7h.9M207.4 287.0h.9M214.0 288.0h.9M205.9 288.6h.9M207.3 291.8h.9M217.2 289.0h.9M224.5 293.0h.9M201.2 279.7h.9M210.3 292.5h.9M215.2 286.1h.9M210.6 288.6h.9M208.2 286.6h.9M230.3 291.6h.9M204.8 288.0h.9M215.0 291.6h.9M207.8 284.8h.9M211.1 289.5h.9M192.5 294.4h.9M219.5 293.9h.9M210.1 286.9h.9M203.7 289.3h.9M226.1 286.8h.9M209.6 288.0h.9M206.7 288.7h.9M204.7 294.3h.9M221.0 291.4h.9M212.2 295.5h.9M209.3 295.9h.9M200.7 282.6h.9M204.3 290.1h.9M214.9 286.5h.9M211.8 281.0h.9M194.8 283.5h.9M204.5 286.2h.9M213.9 296.5h.9M205.5 287.7h.9M193.0 288.5h.9M218.5 285.1h.9M207.9 289.4h.9M200.7 288.2h.9M216.7 280.9h.9M210.0 286.1h.9M200.8 291.6h.9M210.9 288.2h.9M212.7 291.8h.9M196.8 284.0h.9M220.3 289.1h.9M201.2 292.8h.9M223.8 281.0h.9M214.8 285.2h.9M210.4 286.7h.9M214.8 287.3h.9M206.9 286.2h.9M211.4 289.9h.9M225.9 293.4h.9M207.1 290.3h.9M218.9 293.5h.9M204.3 293.6h.9M211.8 285.8h.9M220.1 289.9h.9M201.7 286.9h.9M214.8 291.7h.9M193.7 287.0h.9M202.2 287.8h.9M208.4 296.6h.9M219.4 287.8h.9M218.0 281.3h.9M204.2 289.2h.9M210.8 290.0h.9M213.5 286.3h.9M198.7 289.0h.9M215.5 293.4h.9M223.4 286.2h.9M222.5 287.8h.9M206.9 285.3h.9M208.5 290.2h.9M204.0 288.1h.9M207.7 284.3h.9M209.8 287.9h.9M217.7 297.2h.9M212.6 280.6h.9M204.1 282.2h.9M218.9 290.2h.9M219.4 282.1h.9M206.8 297.8h.9M209.8 281.7h.9M211.1 282.5h.9M198.0 286.2h.9M213.1 293.7h.9M217.7 292.4h.9M228.5 291.3h.9M213.6 290.1h.9M209.5 294.8h.9M210.7 280.1h.9M217.2 290.0h.9M218.7 295.4h.9M204.7 283.7h.9M213.6 290.2h.9M217.5 294.4h.9M194.9 294.5h.9M223.6 288.0h.9M210.2 297.4h.9M219.4 291.0h.9M211.6 293.7h.9M209.9 283.6h.9M211.3 285.1h.9M214.4 285.1h.9M219.4 296.9h.9M209.7 277.7h.9M202.5 280.1h.9M206.1 292.4h.9M203.7 289.4h.9M218.5 274.8h.9M203.9 286.8h.9M224.9 287.2h.9M213.1 294.3h.9M211.3 279.7h.9M223.1 286.2h.9M208.9 293.7h.9M209.5 292.2h.9M218.6 284.4h.9M218.3 287.3h.9M203.6 281.8h.9M232.9 295.1h.9M216.9 286.7h.9M201.4 294.6h.9M210.6 292.4h.9M219.9 284.5h.9M213.9 288.0h.9M219.3 291.7h.9M232.2 290.8h.9M220.0 295.8h.9M229.1 293.9h.9M217.9 290.2h.9M206.4 291.9h.9M225.0 285.4h.9M206.2 285.9h.9M220.3 291.5h.9M217.7 290.3h.9M204.9 283.5h.9M206.2 288.3h.9M210.7 285.0h.9M215.6 286.1h.9M223.5 294.7h.9M212.9 284.3h.9M228.4 285.7h.9M219.7 291.4h.9M206.8 289.1h.9M207.0 289.5h.9M213.0 282.0h.9M207.9 288.6h.9M211.6 287.0h.9M218.9 285.0h.9M214.6 286.1h.9M211.3 253.9h.9M215.0 252.7h.9M194.0 272.4h.9M203.5 257.7h.9M193.5 266.7h.9M188.4 258.9h.9M175.7 288.5h.9M226.9 265.5h.9M192.6 281.8h.9M215.8 279.2h.9M184.0 284.2h.9M208.6 264.5h.9M217.8 259.4h.9M214.9 292.0h.9M201.0 274.7h.9M233.2 285.0h.9M180.6 272.4h.9M217.8 253.2h.9M178.6 257.6h.9M202.6 258.8h.9M171.4 253.5h.9M174.9 284.9h.9M227.8 296.2h.9M217.7 270.5h.9M173.4 296.6h.9M176.3 257.2h.9M177.7 268.0h.9M224.1 279.7h.9M201.1 281.7h.9M223.5 253.3h.9M208.9 293.2h.9M219.4 297.8h.9M179.2 265.6h.9M216.4 265.6h.9M189.6 281.1h.9M211.1 271.2h.9M180.6 276.0h.9M191.7 291.7h.9M221.5 281.6h.9M175.8 257.4h.9M180.7 267.2h.9M189.0 291.8h.9M184.3 294.9h.9M223.3 266.1h.9M226.3 255.6h.9M223.3 288.0h.9M198.5 262.0h.9M210.8 262.4h.9M207.0 270.9h.9M211.4 255.8h.9M209.7 283.2h.9M229.1 291.4h.9M211.9 267.5h.9M173.0 283.0h.9M218.3 258.1h.9M206.1 268.5h.9M220.5 259.1h.9M192.2 256.8h.9M184.1 264.7h.9M202.9 268.9h.9M185.3 253.1h.9M208.1 281.5h.9M205.3 281.6h.9M214.5 265.2h.9M172.6 272.0h.9M220.6 264.5h.9M178.6 256.7h.9M200.9 295.9h.9M197.3 294.9h.9M232.8 273.2h.9M221.2 289.7h.9M228.5 275.3h.9M187.9 296.0h.9M202.6 280.2h.9M226.1 291.5h.9M225.0 277.8h.9M208.3 277.7h.9M202.7 280.8h.9M186.9 290.6h.9M204.3 257.7h.9M225.5 284.9h.9M216.3 284.9h.9M222.7 297.9h.9M209.1 268.2h.9M177.1 283.7h.9M182.8 269.0h.9M197.5 279.3h.9M227.0 252.4h.9M201.1 289.8h.9M230.1 260.7h.9M201.1 274.5h.9M217.1 259.5h.9M214.6 295.5h.9M171.8 285.3h.9M198.3 291.6h.9M207.1 286.9h.9M232.9 293.3h.9M222.4 282.1h.9M186.0 255.8h.9M189.6 255.3h.9M201.7 286.5h.9M193.7 265.3h.9M194.0 284.9h.9M206.7 272.0h.9M174.0 291.2h.9M198.0 267.6h.9M175.6 256.2h.9M172.0 290.5h.9M224.6 265.9h.9M174.8 270.2h.9M212.4 287.7h.9M219.6 263.5h.9M176.2 295.2h.9M176.0 253.3h.9M172.9 287.0h.9M226.1 291.2h.9M201.1 280.6h.9M180.4 261.0h.9M232.7 256.8h.9M209.7 287.5h.9M226.7 285.6h.9M177.2 287.9h.9M207.7 297.0h.9M218.7 279.8h.9M199.0 295.6h.9M202.2 297.3h.9M174.3 279.1h.9M184.5 287.6h.9M187.2 259.5h.9M198.9 297.9h.9M172.0 274.8h.9M176.5 275.1h.9M208.1 283.5h.9M233.1 291.4h.9M187.2 264.7h.9M204.3 286.6h.9M202.3 290.3h.9M219.7 270.2h.9M204.5 272.2h.9M203.2 292.6h.9" stroke="#000" stroke-width=".9" stroke-opacity=".8" fill="none"/>
<rect x="170.3" y="243.4" width="65.10" height="55.80" fill="none" stroke="#111" stroke-width=".9"/>
<path d="M192.2 243.4V299.2M170.3 276.8H235.4" stroke="#444" stroke-width=".6" fill="none"/>
<text x="172.4" y="304.2" font-size="3.6" text-anchor="middle" fill="#777" stroke="none">10<tspan dy="-1.4" font-size="2.6">0</tspan></text>
<text x="187.9" y="304.2" font-size="3.6" text-anchor="middle" fill="#777" stroke="none">10<tspan dy="-1.4" font-size="2.6">1</tspan></text>
<text x="203.5" y="304.2" font-size="3.6" text-anchor="middle" fill="#777" stroke="none">10<tspan dy="-1.4" font-size="2.6">2</tspan></text>
<text x="219.0" y="304.2" font-size="3.6" text-anchor="middle" fill="#777" stroke="none">10<tspan dy="-1.4" font-size="2.6">3</tspan></text>
<text x="234.6" y="304.2" font-size="3.6" text-anchor="middle" fill="#777" stroke="none">10<tspan dy="-1.4" font-size="2.6">4</tspan></text>
<text transform="translate(167.1,300.4) rotate(-90)" font-size="3.6" text-anchor="middle" fill="#999" stroke="none">10<tspan dy="-1.4" font-size="2.6">0</tspan></text>
<text transform="translate(167.1,286.4) rotate(-90)" font-size="3.6" text-anchor="middle" fill="#999" stroke="none">10<tspan dy="-1.4" font-size="2.6">1</tspan></text>
<text transform="translate(167.1,272.5) rotate(-90)" font-size="3.6" text-anchor="middle" fill="#999" stroke="none">10<tspan dy="-1.4" font-size="2.6">2</tspan></text>
<text transform="translate(167.1,258.6) rotate(-90)" font-size="3.6" text-anchor="middle" fill="#999" stroke="none">10<tspan dy="-1.4" font-size="2.6">3</tspan></text>
<text transform="translate(167.1,244.6) rotate(-90)" font-size="3.6" text-anchor="middle" fill="#999" stroke="none">10<tspan dy="-1.4" font-size="2.6">4</tspan></text>
<path d="M175.2 299.2v1M170.3 295.0h-1M178.1 299.2v1M170.3 292.5h-1M181.7 299.2v1M170.3 289.4h-1M184.1 299.2v1M170.3 287.4h-1M191.5 299.2v1M170.3 281.1h-1M194.3 299.2v1M170.3 278.6h-1M198.0 299.2v1M170.3 275.5h-1M200.3 299.2v1M170.3 273.5h-1M207.7 299.2v1M170.3 267.1h-1M210.6 299.2v1M170.3 264.6h-1M214.2 299.2v1M170.3 261.5h-1M216.6 299.2v1M170.3 259.5h-1M224.0 299.2v1M170.3 253.2h-1M226.9 299.2v1M170.3 250.7h-1M230.5 299.2v1M170.3 247.6h-1M232.9 299.2v1M170.3 245.6h-1M170.3 299.2v1.8M170.3 299.2h-1.8M186.6 299.2v1.8M170.3 285.2h-1.8M202.9 299.2v1.8M170.3 271.3h-1.8M219.1 299.2v1.8M170.3 257.4h-1.8M235.4 299.2v1.8M170.3 243.4h-1.8" stroke="#000" stroke-width=".5" fill="none"/>
<path d="M33.3 333.3h.9M30.8 331.6h.9M27.1 330.9h.9M18.5 338.2h.9M21.4 339.3h.9M25.3 334.6h.9M25.8 331.7h.9M22.1 334.7h.9M25.8 333.4h.9M27.8 329.5h.9M24.8 335.9h.9M26.8 334.3h.9M27.0 336.8h.9M24.5 332.2h.9M23.9 333.7h.9M26.8 333.1h.9M28.4 328.5h.9M23.1 340.7h.9M19.1 328.8h.9M23.5 330.7h.9M29.3 332.1h.9M20.8 330.0h.9M31.0 333.9h.9M24.9 332.4h.9M27.8 333.5h.9M24.2 334.4h.9M29.6 333.2h.9M27.5 333.6h.9M28.8 332.7h.9M19.5 335.6h.9M30.2 335.1h.9M20.5 333.6h.9M25.9 332.3h.9M29.3 332.0h.9M26.5 334.3h.9M29.3 332.1h.9M27.9 332.2h.9M27.6 329.2h.9M24.0 339.0h.9M31.3 329.5h.9M31.8 337.3h.9M25.1 335.8h.9M23.7 336.6h.9M28.1 334.0h.9M24.2 335.1h.9M27.8 334.1h.9M30.5 334.5h.9M29.9 335.3h.9M33.2 336.7h.9M29.1 330.4h.9M23.1 335.3h.9M23.9 338.3h.9M29.4 336.9h.9M34.9 329.6h.9M25.8 334.4h.9M23.6 334.7h.9M32.8 333.3h.9M26.8 327.3h.9M30.0 335.4h.9M31.5 328.4h.9M23.3 339.9h.9M25.8 335.4h.9M25.0 333.5h.9M29.4 334.9h.9M29.8 333.5h.9M25.3 332.2h.9M29.5 332.9h.9M20.2 335.4h.9M28.6 331.0h.9M28.6 335.2h.9M27.3 336.5h.9M21.5 337.2h.9M26.8 336.7h.9M23.0 337.6h.9M33.0 334.6h.9M26.1 337.2h.9M26.4 333.7h.9M26.8 334.6h.9M29.4 337.1h.9M27.5 338.7h.9M29.4 332.2h.9M23.6 330.0h.9M31.6 338.8h.9M25.3 336.9h.9M30.2 338.1h.9M28.2 335.8h.9M31.5 333.5h.9M27.0 331.8h.9M21.4 331.6h.9M22.7 338.1h.9M26.3 336.3h.9M32.7 333.6h.9M25.6 330.6h.9M27.5 332.0h.9M32.2 331.1h.9M25.0 333.0h.9M28.5 325.4h.9M28.4 333.9h.9M24.9 338.1h.9M28.1 331.9h.9M31.4 333.0h.9M31.4 333.7h.9M25.9 330.9h.9M38.7 333.1h.9M28.6 331.0h.9M26.2 332.4h.9M24.4 334.6h.9M23.4 333.9h.9M30.5 333.3h.9M26.6 335.6h.9M21.8 331.2h.9M26.6 335.9h.9M27.1 332.2h.9M22.1 330.9h.9M23.3 333.8h.9M32.2 329.9h.9M25.1 332.3h.9M27.2 333.1h.9M26.0 335.8h.9M30.5 335.2h.9M32.1 334.1h.9M30.9 332.2h.9M29.4 329.0h.9M29.5 332.6h.9M22.6 333.2h.9M32.4 332.4h.9M25.0 332.3h.9M23.7 332.5h.9M25.8 335.9h.9M24.1 330.2h.9M28.9 333.3h.9M30.1 336.6h.9M32.3 330.6h.9M26.9 330.8h.9M24.9 333.2h.9M26.1 332.7h.9M22.6 334.8h.9M24.3 337.6h.9M35.1 332.0h.9M24.2 335.4h.9M25.4 332.1h.9M29.7 331.8h.9M28.2 334.2h.9M30.3 331.2h.9M23.8 337.3h.9M23.0 332.9h.9M32.4 332.3h.9M24.6 331.0h.9M26.9 332.3h.9M28.1 330.6h.9M20.0 333.1h.9M26.5 328.7h.9M24.7 333.8h.9M29.3 338.0h.9M26.0 328.4h.9M30.3 332.7h.9M25.6 330.9h.9M24.5 339.5h.9M24.8 330.8h.9M27.2 333.3h.9M31.0 337.3h.9M23.8 330.4h.9M24.8 327.3h.9M30.2 332.9h.9M29.2 331.1h.9M30.1 330.4h.9M28.5 330.7h.9M26.3 329.5h.9M25.3 337.6h.9M25.4 337.1h.9M30.8 329.2h.9M33.1 332.4h.9M35.1 331.1h.9M23.1 337.1h.9M26.3 331.2h.9M27.3 338.0h.9M26.6 333.6h.9M22.8 331.9h.9M35.8 332.0h.9M33.2 331.0h.9M26.6 339.9h.9M25.4 334.1h.9M27.2 332.1h.9M22.5 334.4h.9M25.9 337.8h.9M30.3 330.3h.9M33.8 327.8h.9M30.8 336.7h.9M32.4 334.5h.9M23.1 332.8h.9M32.7 335.8h.9M28.0 325.7h.9M26.9 337.1h.9M33.9 332.0h.9M23.4 335.9h.9M23.5 333.8h.9M24.3 342.6h.9M33.7 330.8h.9M31.0 336.0h.9M20.2 327.1h.9M33.8 332.6h.9M27.3 335.7h.9M28.9 328.8h.9M24.2 328.1h.9M34.7 332.7h.9M29.0 336.1h.9M32.5 336.1h.9M23.3 332.1h.9M30.0 334.0h.9M27.6 329.4h.9M26.4 338.5h.9M24.0 332.3h.9M24.5 337.4h.9M22.6 333.3h.9M24.6 332.9h.9M27.1 338.0h.9M29.6 330.6h.9M21.0 338.0h.9M23.1 333.0h.9M24.8 331.3h.9M20.7 332.0h.9M26.1 336.8h.9M26.2 333.4h.9M26.5 332.5h.9M28.9 328.9h.9M31.0 336.2h.9M30.4 336.0h.9M28.4 334.2h.9M29.6 335.3h.9M24.1 324.6h.9M23.5 332.4h.9M29.8 333.5h.9M29.5 333.4h.9M36.0 330.6h.9M26.3 334.2h.9M23.3 331.9h.9M23.9 348.4h.9M21.5 337.8h.9M27.1 340.8h.9M23.6 344.8h.9M24.5 342.9h.9M32.0 347.6h.9M26.3 340.9h.9M26.4 335.5h.9M20.4 339.9h.9M24.4 343.1h.9M30.4 346.4h.9M28.7 347.3h.9M26.7 349.6h.9M25.8 345.0h.9M26.8 343.1h.9M28.1 347.3h.9M25.2 343.5h.9M34.4 341.9h.9M31.0 348.1h.9M25.9 350.7h.9M32.1 349.9h.9M21.3 336.8h.9M31.7 348.9h.9M27.3 338.9h.9M30.1 342.4h.9M25.1 346.6h.9M27.1 338.0h.9M28.8 338.4h.9M30.7 340.6h.9M28.6 351.6h.9M28.3 348.8h.9M24.1 339.9h.9M33.4 344.6h.9M27.3 344.6h.9M25.6 345.4h.9M25.2 340.8h.9M21.7 350.5h.9M23.5 342.3h.9M20.4 347.7h.9M27.3 336.4h.9M26.2 345.7h.9M27.4 344.6h.9M21.5 350.1h.9M24.8 332.3h.9M23.9 346.5h.9M30.5 347.6h.9M20.5 342.8h.9M20.4 349.9h.9M31.6 353.4h.9M27.9 347.9h.9M20.2 347.6h.9M31.9 350.0h.9M32.5 346.0h.9M31.1 349.5h.9M27.0 340.9h.9M23.0 339.2h.9M25.4 349.3h.9M20.2 346.7h.9M33.4 341.0h.9M23.7 344.1h.9M27.6 350.6h.9M29.7 336.3h.9M28.9 339.9h.9M28.1 347.1h.9M24.9 347.7h.9M27.4 338.7h.9M25.6 339.5h.9M30.5 350.3h.9M24.0 344.0h.9M24.4 333.5h.9M24.8 348.6h.9M20.9 343.9h.9M21.6 341.9h.9M19.3 338.8h.9M28.4 349.4h.9M31.2 345.2h.9M26.8 345.8h.9M21.9 345.6h.9M31.7 345.9h.9M25.2 347.8h.9M20.1 351.7h.9M19.0 339.2h.9M27.2 343.6h.9M32.3 341.9h.9M24.9 351.6h.9M23.9 342.7h.9M25.4 336.7h.9M23.1 343.9h.9M24.3 340.7h.9M27.5 340.6h.9M23.6 342.0h.9M30.2 338.1h.9M22.6 335.3h.9M29.3 352.8h.9M27.9 343.4h.9M24.9 339.8h.9M25.3 346.8h.9M25.2 350.0h.9M33.2 336.1h.9M23.2 342.0h.9M31.2 345.2h.9M30.5 340.2h.9M25.1 346.0h.9M32.9 338.4h.9M27.5 343.4h.9M27.0 345.9h.9M26.6 344.2h.9M29.8 340.9h.9M24.9 342.3h.9M25.7 334.4h.9M31.1 353.6h.9M26.0 342.1h.9M22.3 342.6h.9M28.8 345.2h.9M26.1 346.5h.9M24.2 345.5h.9M28.7 340.9h.9M23.4 336.5h.9M22.5 343.2h.9M25.4 340.4h.9M25.7 341.5h.9M26.7 344.0h.9M21.7 345.1h.9M33.4 349.8h.9M29.2 343.3h.9M27.0 336.2h.9M27.4 346.6h.9M30.2 336.6h.9M22.4 346.7h.9M28.5 344.8h.9M21.7 341.5h.9M30.4 344.7h.9M24.3 345.7h.9M25.6 346.6h.9M32.6 349.1h.9M27.1 364.9h.9M27.1 356.2h.9M38.8 355.1h.9M22.0 364.5h.9M25.8 358.7h.9M25.5 360.2h.9M30.8 358.9h.9M32.5 353.2h.9M20.8 367.7h.9M33.1 357.3h.9M21.4 358.8h.9M39.7 354.4h.9M23.9 360.2h.9M32.5 353.6h.9M25.9 363.6h.9M30.6 356.8h.9M23.6 363.8h.9M27.8 354.8h.9M27.3 354.3h.9M27.6 354.7h.9M31.0 359.5h.9M25.0 353.3h.9M25.6 363.6h.9M20.8 358.9h.9M26.5 363.7h.9M24.8 357.8h.9M31.4 362.2h.9M30.4 353.6h.9M23.7 354.6h.9M29.3 361.6h.9M33.5 355.2h.9M26.2 364.5h.9M21.5 357.0h.9M39.0 359.2h.9M29.8 354.7h.9M30.5 350.1h.9M39.2 363.6h.9M23.3 359.0h.9M28.6 363.5h.9M29.5 350.4h.9M29.1 360.7h.9M23.4 365.2h.9M23.1 366.2h.9M26.3 367.2h.9M26.1 361.3h.9M34.8 357.1h.9M26.0 359.7h.9M26.4 353.7h.9M26.3 362.9h.9M19.5 364.2h.9M24.8 361.3h.9M20.7 356.8h.9M27.8 362.1h.9M21.8 366.3h.9M28.4 355.9h.9M19.7 359.1h.9M31.9 353.1h.9M20.8 356.1h.9M27.1 357.8h.9M28.6 346.9h.9M19.0 362.6h.9M34.5 359.0h.9M24.5 355.4h.9M29.6 359.5h.9M23.5 359.8h.9M28.9 359.2h.9M20.8 353.3h.9M20.6 359.9h.9M22.1 351.0h.9M24.1 358.8h.9M24.1 355.4h.9M25.6 356.5h.9M29.2 357.1h.9M24.6 363.7h.9M31.6 364.1h.9M24.0 359.9h.9M30.3 353.2h.9M33.5 365.0h.9M35.5 350.5h.9M35.5 356.3h.9M18.7 357.3h.9M34.0 364.1h.9M27.1 361.0h.9M28.8 363.9h.9M22.6 358.6h.9M31.7 362.3h.9M30.5 357.6h.9M24.5 358.9h.9M24.2 361.1h.9M31.3 360.1h.9M32.1 360.8h.9M30.9 357.2h.9M25.3 352.2h.9M27.2 357.5h.9M31.7 345.1h.9M31.2 356.8h.9M32.6 354.0h.9M27.9 362.9h.9M23.8 346.6h.9M29.3 356.9h.9M24.6 351.8h.9M29.3 360.6h.9M23.1 362.2h.9M28.4 360.8h.9M37.3 352.9h.9M32.9 359.3h.9M28.4 359.5h.9M20.9 357.0h.9M21.3 361.7h.9M30.5 364.4h.9M26.4 355.0h.9M28.7 360.9h.9M19.6 365.5h.9M19.9 363.7h.9M27.7 351.1h.9M26.2 360.6h.9M20.8 358.5h.9M23.3 365.8h.9M30.9 357.6h.9M29.9 352.5h.9M35.1 359.8h.9M28.8 354.4h.9M27.8 367.5h.9M24.3 367.2h.9M33.0 353.3h.9M20.2 364.1h.9M21.9 359.9h.9M27.1 351.1h.9M20.1 355.4h.9M31.9 358.5h.9M24.2 362.1h.9M29.7 356.7h.9M25.7 360.8h.9M26.0 360.8h.9M27.2 360.4h.9M21.9 360.8h.9M24.9 362.1h.9M37.8 349.5h.9M31.1 365.7h.9M30.6 365.4h.9M22.2 360.8h.9M33.1 353.9h.9M30.8 353.7h.9M39.8 353.4h.9M20.7 356.9h.9M25.9 359.5h.9M22.5 359.7h.9M27.4 360.7h.9M29.7 366.2h.9M27.1 359.9h.9M27.6 357.1h.9M29.1 359.9h.9M30.9 364.4h.9M24.0 358.7h.9M23.9 366.6h.9M32.9 359.3h.9M25.5 358.5h.9M23.2 362.3h.9M25.5 358.2h.9M27.7 365.6h.9M26.8 361.8h.9M30.2 359.2h.9M31.5 358.4h.9M23.2 363.8h.9M21.3 363.2h.9M34.8 359.2h.9M23.9 362.9h.9M19.7 356.4h.9M27.0 354.2h.9M24.1 358.0h.9M22.6 358.2h.9M22.1 362.7h.9M31.9 353.5h.9M28.3 357.6h.9M27.1 363.2h.9M26.3 359.5h.9M30.3 364.2h.9M27.9 365.5h.9M32.2 353.1h.9M27.5 360.1h.9M30.5 353.3h.9M29.3 356.7h.9M24.4 361.6h.9M33.5 351.6h.9M28.9 361.3h.9M31.1 357.5h.9M22.0 358.9h.9M21.9 362.7h.9M26.3 355.2h.9M23.3 351.7h.9M30.1 358.6h.9M29.1 355.1h.9M33.0 356.8h.9M30.0 353.1h.9M21.7 355.6h.9M31.7 353.1h.9M24.0 353.5h.9M23.6 355.8h.9M27.4 355.2h.9M27.1 359.2h.9M40.7 353.2h.9M29.2 350.9h.9M34.1 360.3h.9M26.1 353.3h.9M28.7 354.4h.9M24.6 357.9h.9M25.1 359.6h.9M33.6 358.0h.9M29.3 359.7h.9M29.3 358.0h.9M23.3 365.1h.9M35.3 361.3h.9M26.3 356.5h.9M24.0 358.6h.9M27.0 352.5h.9M30.4 361.5h.9M30.7 357.2h.9M34.2 366.7h.9M22.0 356.8h.9M25.1 366.7h.9M34.6 353.0h.9M38.0 348.6h.9M24.1 355.5h.9M26.7 360.7h.9M19.7 365.4h.9M23.2 355.6h.9M22.9 364.5h.9M26.6 356.5h.9M21.4 357.7h.9M31.6 356.6h.9M26.9 366.9h.9M25.9 360.1h.9M31.6 359.5h.9M25.9 352.0h.9M21.2 361.0h.9M27.3 360.2h.9M37.5 364.6h.9M27.6 354.7h.9M29.6 355.0h.9M26.2 354.7h.9M26.1 356.0h.9M29.6 361.6h.9M21.2 366.3h.9M24.3 359.7h.9M25.9 354.8h.9M34.1 354.3h.9M38.9 349.9h.9M30.2 351.3h.9M29.0 364.0h.9M30.4 362.4h.9M34.4 352.7h.9M22.4 357.7h.9M24.8 367.1h.9M27.9 355.3h.9M28.6 359.7h.9M29.2 357.5h.9M19.5 359.6h.9M30.8 356.5h.9M31.2 358.6h.9M29.5 358.6h.9M28.1 359.5h.9M24.2 353.1h.9M31.7 360.1h.9M36.7 352.4h.9M29.5 345.8h.9M21.9 350.7h.9M20.2 360.8h.9M21.5 362.7h.9M22.3 357.8h.9M32.5 350.8h.9M28.5 357.8h.9M27.0 363.3h.9M31.3 357.7h.9M27.2 351.8h.9M27.3 361.0h.9M23.1 358.7h.9M24.1 358.6h.9M27.3 359.1h.9M21.5 362.7h.9M35.1 356.7h.9M27.7 354.1h.9M24.5 358.8h.9M31.8 358.5h.9M22.1 365.5h.9M32.2 351.9h.9M27.5 358.1h.9M36.1 352.7h.9M24.5 360.7h.9M25.2 356.6h.9M23.1 344.9h.9M21.2 364.6h.9M28.3 355.4h.9M22.1 354.6h.9M28.6 351.3h.9M24.1 354.3h.9M32.2 351.5h.9M29.1 359.1h.9M27.3 358.4h.9M27.1 360.5h.9M24.1 355.4h.9M35.5 360.0h.9M25.2 358.7h.9M29.2 360.5h.9M25.9 362.0h.9M25.4 357.4h.9M27.5 364.7h.9M30.3 362.0h.9M21.8 358.0h.9M24.9 367.7h.9M29.0 351.1h.9M23.0 348.9h.9M23.5 356.6h.9M30.2 360.4h.9M27.0 363.3h.9M29.0 361.6h.9M26.4 358.9h.9M29.1 363.1h.9M27.5 362.2h.9M21.8 357.9h.9M28.1 359.5h.9M25.5 364.3h.9M26.0 356.0h.9M28.4 355.6h.9M24.5 355.4h.9M22.0 366.9h.9M32.8 360.9h.9M35.9 361.1h.9M25.5 357.4h.9M32.6 357.6h.9M28.9 364.3h.9M24.0 358.2h.9M23.1 365.4h.9M25.8 359.1h.9M25.0 359.2h.9M25.5 361.9h.9M26.5 363.1h.9M31.2 356.4h.9M22.0 356.3h.9M31.5 353.9h.9M30.7 347.5h.9M34.1 361.5h.9M27.8 365.8h.9M24.0 353.8h.9M32.6 356.2h.9M26.6 357.8h.9M26.5 351.6h.9M23.0 360.1h.9M29.0 359.9h.9M29.6 353.5h.9M31.3 360.9h.9M19.6 353.7h.9M30.4 357.8h.9M38.9 359.1h.9M25.8 345.8h.9M21.5 361.6h.9M36.4 365.2h.9M25.0 353.2h.9M21.8 366.3h.9M33.1 356.3h.9M20.0 359.6h.9M20.8 354.8h.9M23.8 351.4h.9M31.0 351.7h.9M32.0 356.6h.9M26.8 365.8h.9M25.1 360.8h.9M19.6 361.3h.9M29.3 348.8h.9M23.7 356.7h.9M30.1 352.0h.9M32.0 349.3h.9M27.3 360.6h.9M22.6 356.2h.9M33.7 354.5h.9M28.4 360.7h.9M33.9 361.7h.9M26.6 364.7h.9M26.3 363.6h.9M19.3 360.6h.9M24.0 354.3h.9M31.8 360.7h.9M29.7 361.7h.9M24.5 367.9h.9M28.7 355.7h.9M32.8 365.3h.9M21.9 358.3h.9M28.5 361.2h.9M32.1 357.4h.9M23.8 360.0h.9M33.4 364.7h.9M26.7 355.8h.9M32.4 361.8h.9M31.5 356.7h.9M28.4 358.5h.9M25.7 355.8h.9M24.0 360.6h.9M27.9 349.2h.9M28.1 357.5h.9M33.9 362.4h.9M26.7 363.1h.9M28.8 350.8h.9M35.2 351.9h.9M28.7 356.6h.9M29.3 367.5h.9M34.9 355.3h.9M27.6 358.8h.9M29.0 357.4h.9M30.8 359.7h.9M26.6 354.7h.9M21.8 361.3h.9M20.1 362.7h.9M26.2 364.2h.9M32.5 353.6h.9M31.9 362.3h.9M35.0 366.6h.9M31.5 361.9h.9M24.0 362.9h.9M20.1 348.7h.9M24.7 365.9h.9M23.6 365.6h.9M31.6 360.5h.9M23.3 363.8h.9M30.9 354.8h.9M18.8 358.8h.9M25.1 364.7h.9M33.2 359.0h.9M31.2 347.7h.9M27.7 359.9h.9M21.8 361.8h.9M23.8 355.2h.9M27.5 360.7h.9M33.2 358.9h.9M29.5 349.8h.9M26.7 361.6h.9M30.9 366.7h.9M18.7 355.3h.9M22.4 353.6h.9M27.3 359.2h.9M32.9 359.1h.9M32.3 351.4h.9M23.4 356.2h.9M27.2 365.6h.9M23.6 360.9h.9M25.2 364.4h.9M27.8 358.7h.9M25.4 364.3h.9M24.4 357.0h.9M21.5 357.6h.9M19.5 356.0h.9M26.2 349.9h.9M28.0 356.9h.9M30.1 351.8h.9M23.2 357.5h.9M23.6 360.4h.9M33.2 358.6h.9M29.1 360.5h.9M31.4 356.2h.9M24.4 359.3h.9M23.7 365.3h.9M21.6 359.4h.9M31.9 358.1h.9M21.7 348.2h.9M18.8 355.3h.9M23.5 365.0h.9M33.2 353.5h.9M27.2 353.7h.9M28.2 363.4h.9M27.7 352.9h.9M26.9 363.8h.9M26.3 358.6h.9M20.4 357.3h.9M35.1 347.3h.9M26.4 365.6h.9M32.9 348.9h.9M19.6 354.5h.9M29.7 362.2h.9M21.5 354.1h.9M20.9 362.7h.9M28.4 358.5h.9M32.0 356.6h.9M33.7 352.4h.9M33.5 354.4h.9M25.8 360.5h.9M30.9 353.4h.9M24.2 362.6h.9M24.5 360.6h.9M28.3 361.3h.9M26.5 360.2h.9M31.2 360.8h.9M32.5 361.8h.9M24.3 361.3h.9M34.2 359.0h.9M32.6 353.3h.9M21.6 351.7h.9M26.9 359.2h.9M30.4 362.9h.9M23.3 355.2h.9M23.6 351.9h.9M25.7 356.5h.9M30.7 359.9h.9M31.5 362.2h.9M25.1 357.8h.9M31.1 352.3h.9M34.2 357.1h.9M31.5 361.3h.9M23.6 359.4h.9M23.1 364.7h.9M28.5 356.2h.9M31.1 362.3h.9M29.2 366.5h.9M25.3 354.4h.9M22.7 355.6h.9M33.2 360.8h.9M36.0 359.5h.9M21.7 359.9h.9M25.6 365.6h.9M24.1 359.0h.9M35.9 349.2h.9M33.0 353.0h.9M24.8 366.0h.9M32.6 350.8h.9M27.8 362.8h.9M21.8 360.8h.9M20.0 366.3h.9M29.1 353.3h.9M26.2 355.5h.9M27.8 357.1h.9M29.0 352.5h.9M25.4 358.1h.9M25.9 358.3h.9M30.3 362.5h.9M26.6 358.6h.9M25.8 357.2h.9M30.2 360.7h.9M33.1 362.7h.9M29.3 359.8h.9M23.5 357.8h.9M26.3 356.8h.9M33.0 351.3h.9M29.8 358.7h.9M18.7 360.5h.9M22.3 367.9h.9M28.0 359.8h.9M35.7 360.8h.9M30.8 364.5h.9M26.2 350.0h.9M29.9 355.2h.9M27.3 357.7h.9M25.7 359.8h.9M29.0 353.0h.9M32.0 362.3h.9M29.7 360.8h.9M25.1 362.7h.9M23.1 354.4h.9M21.4 365.6h.9M28.5 355.6h.9M27.9 349.5h.9M28.0 359.3h.9M35.3 359.3h.9M23.8 351.5h.9M23.5 354.0h.9M31.7 357.2h.9M26.0 346.8h.9M22.7 364.8h.9M28.2 363.6h.9M29.1 357.6h.9M34.9 362.5h.9M28.4 357.8h.9M25.1 353.8h.9M24.8 362.5h.9M23.3 362.4h.9M29.5 353.9h.9M31.1 351.2h.9M26.1 354.3h.9M26.6 364.7h.9M33.8 356.0h.9M29.6 355.2h.9M22.0 362.9h.9M24.3 361.1h.9M20.7 364.3h.9M29.0 354.3h.9M33.1 357.4h.9M25.9 353.4h.9M21.5 349.4h.9M27.6 359.1h.9M32.7 352.2h.9M26.4 352.7h.9M31.6 360.8h.9M26.9 358.2h.9M21.3 362.0h.9M26.0 360.0h.9M38.1 358.8h.9M30.0 352.5h.9M26.1 363.2h.9M28.6 362.8h.9M28.2 353.6h.9M25.1 362.5h.9M26.7 360.6h.9M26.0 358.1h.9M30.7 358.6h.9M33.5 354.4h.9M25.7 357.6h.9M29.8 358.9h.9M23.8 358.7h.9M22.0 351.1h.9M27.6 362.0h.9M30.1 362.8h.9M26.9 367.4h.9M31.2 355.3h.9M31.2 351.9h.9M30.8 361.4h.9M26.5 354.0h.9M20.7 360.2h.9M35.8 355.1h.9M24.9 360.3h.9M30.7 356.0h.9M29.5 361.8h.9M25.6 354.7h.9M30.4 362.1h.9M27.1 355.9h.9M25.2 354.6h.9M22.6 359.0h.9M21.2 357.9h.9M29.9 354.3h.9M25.1 366.2h.9M25.1 364.1h.9M29.6 353.1h.9M25.6 362.0h.9M30.3 358.3h.9M24.2 363.3h.9M24.7 356.2h.9M24.0 360.0h.9M29.6 356.1h.9M27.2 365.5h.9M19.4 360.0h.9M22.0 359.1h.9M21.1 355.0h.9M31.3 352.8h.9M23.1 356.7h.9M21.3 363.1h.9M24.8 361.3h.9M26.7 359.6h.9M19.3 365.8h.9M30.1 366.4h.9M30.6 353.3h.9M24.4 364.5h.9M19.8 357.5h.9M24.6 356.7h.9M26.4 361.1h.9M27.5 360.0h.9M32.6 355.2h.9M25.6 358.9h.9M22.4 367.8h.9M28.2 363.2h.9M27.9 354.9h.9M29.3 350.2h.9M25.6 353.9h.9M28.0 359.7h.9M24.5 355.7h.9M29.9 354.3h.9M24.1 363.2h.9M24.3 358.2h.9M32.7 355.9h.9M23.6 360.8h.9M27.2 366.1h.9M29.9 359.9h.9M25.7 362.7h.9M31.5 358.5h.9M24.4 367.1h.9M32.0 352.0h.9M19.8 355.0h.9M20.8 357.8h.9M33.9 365.1h.9M34.8 352.0h.9M23.1 357.6h.9M27.1 361.7h.9M24.9 359.8h.9M30.6 355.9h.9M25.4 351.2h.9M33.7 360.7h.9M28.5 364.8h.9M24.7 352.0h.9M23.9 350.5h.9M26.3 357.0h.9M29.3 349.4h.9M24.9 361.6h.9M40.4 350.6h.9M28.2 362.4h.9M21.8 358.4h.9M27.6 359.6h.9M32.6 361.1h.9M29.2 357.6h.9M25.6 354.4h.9M24.1 364.1h.9M23.5 352.6h.9M21.6 367.1h.9M24.8 356.5h.9M28.4 356.2h.9M24.5 361.5h.9M34.9 359.4h.9M29.0 361.1h.9M25.1 352.3h.9M27.0 354.7h.9M34.1 359.2h.9M19.1 362.5h.9M28.3 358.3h.9M39.8 362.7h.9M31.9 357.2h.9M22.9 364.5h.9M27.8 364.2h.9M26.1 360.9h.9M40.3 355.3h.9M24.0 363.3h.9M25.9 361.5h.9M25.6 362.4h.9M20.5 356.2h.9M26.1 367.1h.9M29.6 357.1h.9M25.1 360.1h.9M29.5 357.4h.9M30.7 362.6h.9M30.5 348.3h.9M34.3 360.0h.9M31.2 357.1h.9M31.0 359.6h.9M27.2 364.5h.9M27.2 360.9h.9M24.6 362.9h.9M29.2 364.5h.9M31.6 359.0h.9M24.5 363.2h.9M31.1 365.4h.9M25.0 362.3h.9M30.0 355.4h.9M26.5 363.0h.9M36.3 355.6h.9M28.3 361.1h.9M24.9 361.6h.9M25.2 363.8h.9M30.1 356.5h.9M24.9 359.5h.9M31.8 367.6h.9M28.6 362.2h.9M31.5 355.2h.9M24.6 363.5h.9M22.7 360.3h.9M23.7 367.3h.9M29.1 350.8h.9M23.5 360.3h.9M30.5 363.2h.9M24.1 356.1h.9M26.4 361.6h.9M18.6 361.1h.9M24.3 358.2h.9M20.1 362.1h.9M26.9 352.4h.9M26.1 355.2h.9M30.7 366.8h.9M23.2 356.8h.9M19.5 362.8h.9M24.6 359.4h.9M27.8 363.1h.9M27.7 360.6h.9M28.0 360.9h.9M33.0 363.5h.9M25.5 361.0h.9M26.2 351.0h.9M23.2 356.7h.9M24.4 366.6h.9M32.2 363.2h.9M28.9 357.6h.9M32.9 354.4h.9M25.3 365.3h.9M31.8 364.1h.9M27.8 351.1h.9M29.9 352.0h.9M31.3 355.4h.9M28.6 352.2h.9M21.3 360.9h.9M29.0 353.4h.9M23.9 362.1h.9M25.8 356.6h.9M29.8 361.7h.9M27.8 361.1h.9M27.3 359.7h.9M35.5 355.6h.9M28.5 358.6h.9M31.6 348.8h.9M28.8 349.3h.9M35.0 354.2h.9M25.5 360.1h.9M32.8 366.4h.9M35.9 359.2h.9M25.5 354.6h.9M32.2 355.7h.9M20.8 354.3h.9M28.7 358.5h.9M30.7 357.9h.9M23.3 359.7h.9M18.8 362.1h.9M27.5 364.0h.9M25.7 362.7h.9M28.1 353.3h.9M28.7 362.8h.9M31.2 353.3h.9M34.7 359.4h.9M29.3 359.1h.9M30.5 357.9h.9M29.1 358.2h.9M28.0 357.6h.9M34.8 361.7h.9M28.5 360.3h.9M25.6 358.1h.9M29.5 362.6h.9M31.8 366.0h.9M27.6 366.2h.9M35.3 354.8h.9M30.6 357.9h.9M29.1 359.5h.9M28.2 350.7h.9M26.9 352.2h.9M28.7 360.7h.9M32.0 352.1h.9M29.4 359.3h.9M30.6 362.4h.9M30.6 360.9h.9M24.8 355.5h.9M28.8 355.6h.9M26.3 363.8h.9M21.4 360.0h.9M20.2 361.1h.9M31.3 362.8h.9M34.1 345.5h.9M34.1 358.9h.9M23.3 366.0h.9M34.5 366.2h.9M34.7 360.9h.9M23.8 356.3h.9M29.7 363.3h.9M35.4 366.4h.9M27.8 355.9h.9M24.4 364.7h.9M26.2 362.0h.9M25.4 361.8h.9M20.3 362.6h.9M19.2 359.7h.9M22.6 362.0h.9M24.7 359.9h.9M28.0 359.6h.9M25.0 352.5h.9M27.2 354.5h.9M31.0 362.1h.9M36.1 363.5h.9M29.4 362.4h.9M23.6 361.2h.9M29.8 359.8h.9M26.7 362.8h.9M27.8 359.4h.9M29.7 360.8h.9M29.1 366.1h.9M22.5 355.9h.9M23.1 358.7h.9M27.5 359.9h.9M28.9 354.0h.9M33.3 356.6h.9M28.6 364.6h.9M25.5 362.6h.9M25.1 360.3h.9M24.4 365.4h.9M22.6 357.3h.9M22.6 367.6h.9M24.9 360.6h.9M27.0 358.7h.9M24.2 364.6h.9M26.7 362.6h.9M25.8 361.5h.9M25.9 360.4h.9M25.3 354.4h.9M27.6 353.4h.9M26.7 360.8h.9M27.5 358.0h.9M27.0 361.1h.9M24.7 355.2h.9M27.2 355.5h.9M24.5 360.6h.9M27.0 363.2h.9M23.9 363.4h.9M28.8 365.0h.9M27.7 357.9h.9M22.1 360.2h.9M24.5 363.5h.9M28.9 357.1h.9M27.9 359.6h.9M27.1 360.7h.9M23.1 360.7h.9M24.5 363.8h.9M27.2 362.2h.9M27.6 359.2h.9M26.6 352.5h.9M24.0 363.5h.9M25.9 364.3h.9M25.1 362.5h.9M23.0 362.0h.9M23.2 362.3h.9M24.1 365.0h.9M21.9 358.9h.9M28.1 360.5h.9M29.0 357.2h.9M29.4 359.9h.9M24.2 357.8h.9M24.3 357.8h.9M27.4 353.7h.9M25.2 360.4h.9M25.6 364.3h.9M25.6 350.0h.9M21.6 365.2h.9M30.6 360.5h.9M22.1 358.3h.9M21.7 361.8h.9M29.1 359.8h.9M23.2 360.4h.9M30.0 365.7h.9M27.7 361.3h.9M27.7 362.0h.9M25.4 359.7h.9M22.2 360.0h.9M22.9 357.4h.9M26.9 360.2h.9M26.3 357.9h.9M22.8 364.7h.9M23.0 359.8h.9M23.9 363.3h.9M26.4 365.2h.9M28.0 364.3h.9M29.4 358.2h.9M25.4 366.6h.9M31.1 353.9h.9M28.8 365.7h.9M31.2 351.7h.9M23.9 357.4h.9M28.4 360.4h.9M30.0 358.1h.9M21.1 353.1h.9M29.5 355.3h.9M27.9 361.5h.9M29.5 354.6h.9M27.1 362.9h.9M30.2 364.7h.9M25.3 365.4h.9M25.0 361.5h.9M28.8 360.4h.9M28.9 359.2h.9M30.3 364.9h.9M30.3 362.9h.9M29.8 361.8h.9M24.3 364.5h.9M30.5 353.8h.9M28.2 363.7h.9M29.5 358.6h.9M26.4 352.4h.9M25.3 364.5h.9M24.4 357.9h.9M24.7 362.2h.9M29.4 358.0h.9M24.2 359.2h.9M24.7 366.3h.9M27.6 361.8h.9M25.8 362.0h.9M20.2 355.0h.9M24.6 363.8h.9M25.5 358.3h.9M31.6 362.3h.9M28.7 357.0h.9M23.5 361.9h.9M23.2 362.6h.9M25.2 355.4h.9M27.3 361.7h.9M24.2 357.5h.9M28.0 365.0h.9M22.2 361.9h.9M27.6 360.8h.9M26.5 359.3h.9M27.4 363.7h.9M28.0 361.6h.9M26.9 365.4h.9M26.4 357.1h.9M27.5 367.6h.9M26.9 358.8h.9M26.9 359.3h.9M31.5 358.0h.9M29.8 359.6h.9M29.5 367.4h.9M24.6 361.3h.9M25.1 356.8h.9M29.9 360.1h.9M23.4 361.5h.9M29.8 364.0h.9M22.4 359.5h.9M33.2 361.3h.9M24.9 360.2h.9M25.2 361.1h.9M20.3 356.4h.9M26.4 364.0h.9M30.3 359.0h.9M28.5 367.2h.9M25.8 364.9h.9M32.9 363.5h.9M28.3 358.9h.9M27.9 359.4h.9M25.7 359.3h.9M28.4 361.0h.9M34.7 359.4h.9M28.0 358.7h.9M21.4 361.0h.9M27.3 360.6h.9M32.5 359.3h.9M30.3 363.9h.9M25.0 364.4h.9M27.7 358.7h.9M28.6 362.0h.9M23.9 365.0h.9M25.0 367.3h.9M24.8 355.6h.9M24.4 362.4h.9M31.8 363.9h.9M31.2 364.9h.9M25.7 363.5h.9M26.9 364.3h.9M31.8 355.3h.9M25.7 357.3h.9M25.2 362.7h.9M24.0 353.4h.9M31.4 358.7h.9M27.1 360.0h.9M26.6 362.0h.9M25.3 363.9h.9M23.8 361.5h.9M29.5 357.7h.9M24.2 357.2h.9M25.0 362.1h.9M21.4 362.7h.9M23.2 362.0h.9M25.0 361.2h.9M25.1 361.1h.9M21.9 355.7h.9M24.7 360.6h.9M26.2 363.4h.9M18.5 356.6h.9M28.4 362.2h.9M25.7 363.1h.9M25.7 360.4h.9M27.9 359.8h.9M26.6 356.4h.9M26.7 356.8h.9M26.6 354.9h.9M28.6 354.3h.9M22.4 363.2h.9M24.7 360.6h.9M27.7 361.8h.9M26.6 355.0h.9M23.3 353.4h.9M25.7 354.3h.9M24.4 366.4h.9M26.6 364.7h.9M21.4 355.9h.9M21.5 361.0h.9M22.1 361.3h.9M26.1 357.2h.9M34.2 358.4h.9M29.6 364.1h.9M30.3 363.2h.9M26.6 363.9h.9M31.5 361.8h.9M27.6 361.1h.9M26.8 362.5h.9M29.9 360.1h.9M22.8 366.7h.9M19.8 361.5h.9M22.9 362.6h.9M30.9 360.4h.9M29.3 358.3h.9M27.1 360.5h.9M25.8 359.5h.9M26.0 357.9h.9M27.7 363.6h.9M23.9 367.8h.9M28.9 361.7h.9M23.5 360.4h.9M30.7 358.2h.9M25.5 355.5h.9M23.7 362.9h.9M25.6 362.8h.9M23.7 357.9h.9M26.1 361.0h.9M20.9 357.7h.9M25.0 365.8h.9M26.8 361.2h.9M27.7 362.3h.9M25.3 366.8h.9M30.3 352.8h.9M21.3 362.2h.9M25.8 361.7h.9M25.0 359.7h.9M26.5 360.8h.9M25.7 365.2h.9M30.8 358.4h.9M26.5 358.5h.9M23.6 366.9h.9M34.3 364.4h.9M26.6 362.5h.9M26.0 363.7h.9M29.3 361.1h.9M24.7 359.8h.9M25.8 360.3h.9M29.2 361.9h.9M22.8 359.2h.9M25.1 355.2h.9M29.4 360.3h.9M32.1 361.8h.9M26.3 360.4h.9M26.2 363.2h.9M29.9 361.9h.9M21.9 364.3h.9M24.4 361.3h.9M24.0 360.2h.9M20.1 362.9h.9M25.2 359.3h.9M29.3 357.8h.9M28.6 365.6h.9M30.5 359.0h.9M26.1 359.2h.9M30.7 361.6h.9M23.8 365.8h.9M22.5 366.8h.9M27.6 356.2h.9M26.6 355.7h.9M28.5 349.0h.9M26.5 363.0h.9M30.4 366.4h.9M28.7 361.8h.9M27.3 359.8h.9M25.3 363.8h.9M28.7 357.5h.9M24.5 363.2h.9M29.5 365.6h.9M30.1 365.2h.9M29.5 363.4h.9M22.5 359.1h.9M27.9 359.7h.9M27.7 357.6h.9M29.3 367.4h.9M21.7 365.3h.9M24.7 360.6h.9M26.3 360.6h.9M30.9 361.7h.9M24.7 358.5h.9M29.3 362.7h.9M27.0 362.6h.9M32.6 362.4h.9M27.6 361.0h.9M21.5 352.0h.9M25.7 360.1h.9M27.3 355.9h.9M30.5 354.9h.9M25.7 359.1h.9M22.6 360.1h.9M26.6 359.7h.9M26.2 357.8h.9M30.7 366.5h.9M29.4 354.3h.9M22.2 362.5h.9M19.3 358.7h.9M25.3 365.3h.9M27.4 363.8h.9M23.5 361.1h.9M24.9 355.5h.9M30.3 363.6h.9M28.9 364.2h.9M21.1 363.1h.9M27.6 359.7h.9M27.0 363.0h.9M25.9 358.0h.9M28.3 361.6h.9M28.4 362.1h.9M34.3 359.9h.9M27.3 357.3h.9M24.3 360.0h.9M25.0 357.6h.9M28.8 356.5h.9M32.6 364.5h.9M28.5 360.2h.9M28.2 358.9h.9M27.4 358.9h.9M25.2 362.3h.9M26.8 359.6h.9M22.8 358.2h.9M28.9 361.7h.9M28.1 361.2h.9M27.1 357.5h.9M23.9 356.9h.9M25.7 365.3h.9M24.8 359.7h.9M27.5 365.0h.9M25.7 362.8h.9M27.7 360.5h.9M29.5 359.9h.9M30.5 366.5h.9M23.4 358.4h.9M25.5 359.3h.9M23.1 357.8h.9M30.5 360.2h.9M23.9 357.4h.9M30.8 361.1h.9M25.0 356.3h.9M29.8 362.6h.9M24.9 361.9h.9M25.9 361.5h.9M27.0 358.6h.9M26.9 365.3h.9M26.1 367.8h.9M28.7 360.2h.9M30.3 358.0h.9M29.3 363.0h.9M25.1 360.0h.9M20.8 361.2h.9M26.9 363.0h.9M28.7 363.3h.9M28.5 357.0h.9M22.8 356.3h.9M28.4 359.3h.9M24.5 365.9h.9M30.6 358.5h.9M24.2 362.3h.9M24.0 357.4h.9M24.5 362.9h.9M27.3 361.8h.9M23.3 364.8h.9M33.7 361.3h.9M25.4 360.7h.9M32.1 354.1h.9M25.7 361.8h.9M25.6 363.5h.9M24.4 361.4h.9M24.2 361.3h.9M28.0 362.7h.9M30.3 363.8h.9M26.9 357.5h.9M23.8 360.4h.9M27.3 362.2h.9M24.1 361.6h.9M27.0 353.7h.9M21.1 361.8h.9M24.6 363.2h.9M26.8 366.6h.9M25.3 362.2h.9M25.8 357.6h.9M31.4 362.3h.9M29.6 360.3h.9M31.3 358.3h.9M27.3 355.6h.9M27.3 354.2h.9M32.1 358.2h.9M24.6 359.2h.9M27.6 360.9h.9M27.0 360.7h.9M27.5 361.5h.9M28.5 367.5h.9M27.0 360.4h.9M29.1 365.5h.9M23.9 357.9h.9M28.1 358.1h.9M23.3 358.8h.9M30.0 354.3h.9M29.7 366.5h.9M25.9 361.6h.9M25.0 363.2h.9M26.5 366.8h.9M28.3 362.3h.9M21.9 366.5h.9M23.4 352.3h.9M29.5 365.2h.9M25.9 361.7h.9M22.6 358.7h.9M19.6 364.5h.9M25.2 360.8h.9M21.1 358.2h.9M26.9 353.8h.9M26.3 367.0h.9M32.3 351.4h.9M22.6 360.9h.9M28.5 366.3h.9M22.8 363.0h.9M23.3 358.4h.9M25.9 359.7h.9M23.9 358.5h.9M32.2 361.5h.9M26.4 360.4h.9M24.2 356.1h.9M33.7 355.4h.9M24.0 364.7h.9M25.3 356.1h.9M25.8 356.6h.9M28.4 357.6h.9M30.2 355.9h.9M22.5 357.2h.9M25.0 363.4h.9M25.3 357.9h.9M22.1 360.1h.9M22.4 352.3h.9M25.3 358.4h.9M23.7 360.7h.9M27.4 360.8h.9M29.0 365.8h.9M27.0 362.4h.9M27.3 350.2h.9M23.6 354.7h.9M24.6 357.4h.9M27.7 359.5h.9M28.2 360.7h.9M26.2 362.8h.9M28.1 354.5h.9M25.7 352.5h.9M22.8 363.4h.9M27.4 356.9h.9M25.1 352.1h.9M21.2 357.1h.9M29.0 358.9h.9M27.6 356.2h.9M28.7 356.3h.9M25.0 364.1h.9M31.0 356.5h.9M27.9 361.6h.9M29.5 361.3h.9M24.4 359.2h.9M30.4 355.6h.9M26.5 357.1h.9M31.0 359.5h.9M30.0 361.6h.9M27.1 364.5h.9M32.3 363.0h.9M21.8 359.2h.9M26.2 359.2h.9M24.7 364.7h.9M31.0 366.0h.9M31.3 358.6h.9M25.0 364.9h.9M26.9 362.6h.9M29.3 361.4h.9M28.1 356.6h.9M27.3 356.0h.9M29.5 362.1h.9M32.4 350.5h.9M26.8 358.7h.9M23.1 362.1h.9M26.1 354.5h.9M26.4 366.4h.9M25.3 366.5h.9M28.6 356.7h.9M28.7 360.1h.9M29.3 360.1h.9M27.9 358.6h.9M27.3 358.8h.9M23.3 362.3h.9M25.4 366.5h.9M23.8 360.9h.9M27.5 360.9h.9M26.1 361.0h.9M26.4 358.1h.9M28.1 362.8h.9M25.6 358.8h.9M29.7 357.0h.9M29.7 362.9h.9M23.6 353.9h.9M30.5 358.8h.9M25.5 359.2h.9M24.3 360.1h.9M25.5 355.0h.9M22.6 357.2h.9M27.5 360.1h.9M30.2 362.7h.9M21.9 360.2h.9M27.8 359.8h.9M28.3 357.6h.9M28.5 360.7h.9M28.4 350.6h.9M27.8 362.9h.9M25.1 364.1h.9M29.2 360.5h.9M27.5 357.1h.9M28.9 365.4h.9M27.4 358.1h.9M25.7 365.4h.9M26.3 359.6h.9M28.3 357.9h.9M29.7 359.8h.9M20.7 358.1h.9M22.6 360.0h.9M21.5 362.4h.9M24.9 359.7h.9M24.4 358.9h.9M27.1 360.5h.9M25.6 362.0h.9M30.5 360.6h.9M24.6 362.5h.9M24.3 362.7h.9M24.0 361.6h.9M25.6 363.2h.9M27.0 360.6h.9M25.0 364.7h.9M23.7 362.0h.9M22.3 363.6h.9M27.0 359.9h.9M24.8 355.5h.9M23.5 359.0h.9M25.6 360.7h.9M27.5 361.9h.9M32.7 360.5h.9M31.4 365.8h.9M23.8 356.0h.9M25.1 354.3h.9M20.5 360.0h.9M20.5 358.2h.9M20.8 360.7h.9M29.2 362.9h.9M22.0 355.9h.9M24.4 356.8h.9M24.9 360.4h.9M24.4 355.4h.9M30.9 357.9h.9M20.6 365.2h.9M25.1 360.4h.9M27.2 360.5h.9M27.9 364.5h.9M19.8 354.5h.9M27.0 361.0h.9M22.6 360.4h.9M24.7 361.6h.9M21.6 357.1h.9M28.8 359.1h.9M35.9 360.2h.9M29.5 363.2h.9M25.5 358.0h.9M21.1 362.8h.9M29.1 353.1h.9M30.1 362.1h.9M23.1 363.3h.9M29.3 357.4h.9M21.0 359.6h.9M22.6 360.6h.9M26.9 361.6h.9M22.2 364.8h.9M28.8 361.3h.9M30.8 359.8h.9M26.6 359.9h.9M28.0 361.6h.9M31.3 363.3h.9M28.0 361.5h.9M30.5 358.7h.9M30.9 359.4h.9M23.3 357.8h.9M33.2 357.5h.9M30.1 358.9h.9M27.0 358.6h.9M29.0 363.3h.9M27.5 356.4h.9M27.2 360.9h.9M23.5 356.5h.9M25.3 363.4h.9M25.5 361.7h.9M29.9 365.0h.9M28.0 362.5h.9M27.8 357.0h.9M26.2 360.7h.9M30.4 358.4h.9M19.1 358.8h.9M23.8 357.0h.9M29.5 359.5h.9M25.3 360.9h.9M28.5 361.3h.9M29.0 360.0h.9M22.1 360.9h.9M25.9 360.3h.9M23.1 359.7h.9M28.0 359.6h.9M29.7 360.8h.9M25.8 359.9h.9M28.1 363.2h.9M26.0 362.1h.9M32.4 357.5h.9M27.0 360.6h.9M27.3 361.7h.9M28.3 359.7h.9M29.8 359.8h.9M28.7 360.3h.9M26.5 362.7h.9M26.8 361.2h.9M28.1 358.7h.9M28.4 360.4h.9M25.4 364.9h.9M24.8 357.3h.9M25.9 362.9h.9M28.0 359.8h.9M23.3 362.8h.9M25.6 360.8h.9M25.1 360.2h.9M28.4 355.4h.9M25.0 358.8h.9M25.4 367.6h.9M32.3 361.9h.9M28.0 359.6h.9M23.8 360.6h.9M30.3 360.8h.9M25.5 357.3h.9M24.1 361.0h.9M28.6 362.4h.9M22.3 355.5h.9M26.4 359.8h.9M28.3 351.2h.9M28.9 354.8h.9M25.0 363.5h.9M25.1 364.8h.9M26.3 367.0h.9M30.3 356.2h.9M21.2 360.3h.9M29.1 359.5h.9M27.5 364.3h.9M30.8 361.7h.9M23.2 360.9h.9M30.1 362.7h.9M24.0 359.1h.9M27.5 364.0h.9M25.4 359.5h.9M19.2 364.4h.9M26.4 361.3h.9M27.8 361.4h.9M29.2 356.7h.9M24.7 355.3h.9M23.1 355.2h.9M28.8 362.3h.9M25.5 353.2h.9M29.8 365.3h.9M30.9 359.5h.9M25.9 356.0h.9M26.1 361.8h.9M24.4 356.4h.9M20.5 360.8h.9M26.6 359.7h.9M28.8 364.7h.9M29.8 363.7h.9M26.6 363.8h.9M32.2 359.0h.9M25.0 364.9h.9M26.6 360.4h.9M25.0 361.0h.9M25.3 362.1h.9M25.8 361.6h.9M24.5 356.0h.9M25.4 362.8h.9M27.5 355.2h.9M27.0 362.2h.9M23.5 360.4h.9M28.2 360.9h.9M24.2 356.9h.9M28.0 364.0h.9M26.9 360.1h.9M20.8 363.5h.9M23.5 358.1h.9M29.5 358.2h.9M24.7 360.8h.9M24.6 364.1h.9M25.3 356.1h.9M27.0 358.6h.9M28.4 358.9h.9M25.8 359.7h.9M31.8 359.0h.9M24.9 364.3h.9M25.2 363.0h.9M26.1 360.7h.9M27.2 363.5h.9M31.1 364.1h.9M33.8 358.5h.9M25.6 358.1h.9M26.1 363.0h.9M28.6 367.9h.9M26.3 352.5h.9M29.3 358.5h.9M23.4 363.3h.9M29.3 357.9h.9M20.0 363.6h.9M28.3 361.4h.9M28.7 356.3h.9M34.2 359.0h.9M23.9 361.9h.9M28.8 357.5h.9M28.6 362.6h.9M23.8 361.7h.9M27.4 359.6h.9M24.1 362.0h.9M23.1 359.4h.9M22.0 361.4h.9M26.0 357.2h.9M23.4 365.5h.9M20.3 359.7h.9M27.5 364.6h.9M21.4 368.0h.9M28.8 366.0h.9M27.4 360.6h.9M24.1 361.2h.9M21.8 360.5h.9M23.8 361.7h.9M22.5 357.8h.9M25.5 354.4h.9M25.5 361.7h.9M34.2 360.8h.9M20.2 365.9h.9M24.8 366.8h.9M28.3 355.9h.9M29.8 357.4h.9M30.7 363.3h.9M23.6 364.7h.9M29.1 361.1h.9M25.9 354.3h.9M28.8 358.2h.9M22.2 362.6h.9M24.0 361.8h.9M19.9 357.5h.9M24.3 363.6h.9M22.3 365.6h.9M27.4 360.5h.9M24.2 361.1h.9M28.5 362.9h.9M26.2 364.0h.9M25.6 363.6h.9M32.1 357.6h.9M30.2 357.4h.9M22.5 358.7h.9M30.9 351.4h.9M29.0 356.1h.9M30.7 360.0h.9M28.0 358.3h.9M21.0 357.7h.9M25.4 363.7h.9M19.0 361.8h.9M22.2 363.4h.9M24.4 360.0h.9M30.5 359.2h.9M26.7 357.6h.9M27.3 361.5h.9M28.9 354.4h.9M23.8 357.6h.9M30.0 362.6h.9M27.3 363.5h.9M23.6 360.4h.9M24.8 356.7h.9M25.8 362.6h.9M28.5 358.1h.9M31.0 360.2h.9M25.6 357.3h.9M25.9 366.9h.9M32.2 365.7h.9M36.5 357.7h.9M32.2 356.6h.9M27.2 360.4h.9M25.5 362.8h.9M28.7 364.9h.9M27.5 360.4h.9M24.1 356.3h.9M30.8 361.6h.9M34.5 361.5h.9M23.9 355.1h.9M24.1 359.7h.9M25.0 359.6h.9M22.6 357.2h.9M29.1 361.4h.9M22.1 364.2h.9M28.7 364.1h.9M27.8 357.5h.9M28.9 358.6h.9M21.9 363.0h.9M27.0 359.5h.9M27.4 359.4h.9M27.8 351.8h.9M24.8 358.4h.9M30.2 357.7h.9M30.9 360.4h.9M30.8 366.5h.9M24.2 360.1h.9M28.2 359.6h.9M23.7 361.1h.9M26.0 359.6h.9M29.0 361.9h.9M35.3 358.2h.9M30.4 359.9h.9M24.2 360.4h.9M24.8 353.4h.9M26.3 362.7h.9M26.1 360.4h.9M22.8 353.9h.9M26.2 359.7h.9M21.7 361.2h.9M24.6 357.5h.9M32.2 364.3h.9M26.4 358.6h.9M25.4 355.5h.9M31.5 363.4h.9M27.6 360.1h.9M28.6 361.1h.9M24.8 355.1h.9M30.0 355.8h.9M25.5 357.1h.9M29.3 360.1h.9M28.6 360.1h.9M32.0 365.3h.9M29.7 365.9h.9M26.5 361.1h.9M23.2 360.3h.9M25.6 367.1h.9M24.4 360.8h.9M31.4 364.1h.9M25.2 358.9h.9M19.3 360.2h.9M27.8 359.6h.9M29.2 358.2h.9M23.7 361.9h.9M28.9 357.8h.9M22.4 360.2h.9M27.4 362.0h.9M26.1 367.8h.9M27.6 354.1h.9M27.9 360.9h.9M24.5 362.9h.9M29.1 359.4h.9M25.0 363.6h.9M27.0 362.4h.9M31.1 362.3h.9M23.7 359.2h.9M26.8 359.9h.9M31.7 359.8h.9M30.6 357.2h.9M24.4 361.2h.9M24.6 357.0h.9M28.3 357.4h.9M24.5 355.8h.9M26.8 364.4h.9M22.2 358.7h.9M28.6 357.6h.9M21.5 363.3h.9M27.0 359.2h.9M28.8 361.7h.9M24.5 360.0h.9M21.6 361.8h.9M22.5 361.2h.9M20.5 353.2h.9M32.3 365.6h.9M20.5 364.0h.9M22.5 355.6h.9M27.6 363.7h.9M26.7 359.8h.9M29.9 361.0h.9M30.8 365.0h.9M28.0 364.0h.9M26.4 363.9h.9M24.8 367.5h.9M26.0 364.3h.9M29.6 358.5h.9M28.5 356.2h.9M28.6 363.5h.9M21.2 354.7h.9M24.1 359.4h.9M24.4 359.4h.9M24.8 358.2h.9M23.2 365.2h.9M28.8 361.7h.9M30.0 359.8h.9M32.4 363.7h.9M24.9 359.2h.9M26.3 364.7h.9M26.9 367.6h.9M26.6 360.2h.9M23.9 360.0h.9M29.1 364.5h.9M20.1 353.9h.9M25.0 356.3h.9M20.5 357.1h.9M28.6 355.1h.9M22.1 360.6h.9M22.9 361.6h.9M26.5 360.5h.9M23.3 360.5h.9M27.4 363.7h.9M25.3 364.3h.9M32.9 364.9h.9M22.7 360.1h.9M24.0 360.7h.9M28.4 365.6h.9M27.0 362.0h.9M28.0 365.1h.9M25.7 359.0h.9M29.6 360.4h.9M27.7 358.4h.9M30.8 360.5h.9M22.3 362.1h.9M27.4 359.1h.9M25.9 367.3h.9M27.9 355.5h.9M23.6 363.6h.9M29.2 356.9h.9M22.3 361.6h.9M29.4 358.0h.9M28.3 360.8h.9M20.8 360.8h.9M27.9 357.9h.9M20.4 356.4h.9M28.4 358.1h.9M21.5 360.7h.9M26.4 363.4h.9M25.7 366.1h.9M21.4 354.7h.9M20.7 362.1h.9M28.2 359.0h.9M25.0 360.6h.9M30.1 361.7h.9M26.4 363.3h.9M35.4 362.0h.9M27.2 360.5h.9M32.3 365.9h.9M27.7 361.5h.9M26.9 360.6h.9M28.3 364.5h.9M24.2 356.7h.9M24.5 357.4h.9M31.9 365.6h.9M26.0 359.9h.9M22.9 354.5h.9M28.3 363.3h.9M23.9 364.7h.9M26.9 357.9h.9M30.3 356.1h.9M30.8 360.4h.9M32.5 361.8h.9M30.4 358.5h.9M28.8 357.4h.9M28.4 362.4h.9M27.6 362.4h.9M26.6 355.1h.9M34.0 356.7h.9M26.4 359.4h.9M32.1 358.4h.9M26.3 361.3h.9M30.6 362.3h.9M27.2 361.8h.9M24.7 363.7h.9M31.8 355.2h.9M31.6 358.2h.9M24.7 364.1h.9M26.5 355.6h.9M29.7 365.1h.9M27.7 362.4h.9M27.1 361.0h.9M29.9 360.1h.9M22.6 356.6h.9M32.0 356.9h.9M28.2 358.7h.9M23.9 364.7h.9M26.6 357.1h.9M34.1 358.4h.9M26.8 354.6h.9M22.0 361.1h.9M31.2 360.5h.9M28.1 364.3h.9M26.9 367.1h.9M30.2 362.4h.9M25.6 357.6h.9M26.5 361.3h.9M30.1 361.5h.9M28.3 360.3h.9M30.0 356.8h.9M25.7 361.7h.9M32.3 356.4h.9M22.4 360.2h.9M22.5 359.5h.9M28.6 351.7h.9M26.0 362.6h.9M27.6 367.8h.9M27.1 359.3h.9M26.5 358.4h.9M23.6 363.7h.9M28.0 356.1h.9M31.2 360.6h.9M24.3 361.3h.9M33.1 358.6h.9M32.0 360.3h.9M24.3 357.6h.9M29.6 358.5h.9M23.5 362.8h.9M26.6 357.5h.9M23.5 358.6h.9M25.3 358.1h.9M21.1 362.3h.9M26.5 359.2h.9M23.6 357.6h.9M24.1 361.6h.9M20.7 353.7h.9M27.1 354.0h.9M33.1 361.5h.9M25.8 366.9h.9M26.5 358.9h.9M23.4 361.7h.9M25.5 355.8h.9M24.3 360.9h.9M22.0 361.2h.9M24.1 362.5h.9M25.3 358.0h.9M28.0 367.1h.9M25.9 357.3h.9M27.9 365.7h.9M31.1 356.9h.9M29.9 363.2h.9M25.6 365.1h.9M21.3 367.9h.9M26.4 360.1h.9M27.2 354.9h.9M30.1 363.4h.9M27.4 358.1h.9M35.9 356.9h.9M25.9 358.5h.9M29.1 357.4h.9M24.0 363.1h.9M23.7 361.2h.9M26.0 362.9h.9M27.6 363.5h.9M29.1 359.2h.9M30.5 364.7h.9M31.7 366.9h.9M31.2 361.1h.9M29.6 359.7h.9M26.5 357.4h.9M28.7 359.2h.9M31.0 360.6h.9M23.8 361.4h.9M29.0 356.0h.9M28.5 359.2h.9M26.4 359.9h.9M32.6 358.5h.9M24.7 358.5h.9M23.7 361.7h.9M26.7 357.2h.9M24.9 362.2h.9M31.2 356.9h.9M21.5 361.3h.9M22.7 356.8h.9M27.9 364.6h.9M29.2 363.1h.9M23.1 365.1h.9M31.0 357.7h.9M20.7 356.1h.9M30.1 356.1h.9M24.0 359.8h.9M25.3 364.2h.9M32.6 363.0h.9M26.6 362.9h.9M24.8 356.4h.9M27.6 364.3h.9M32.9 363.1h.9M27.0 358.7h.9M24.3 351.9h.9M27.5 357.9h.9M22.8 360.1h.9M24.6 365.9h.9M25.0 361.3h.9M28.9 360.3h.9M25.2 366.0h.9M28.3 365.9h.9M30.5 361.9h.9M31.8 362.7h.9M21.4 364.8h.9M26.6 358.1h.9M23.1 362.0h.9M28.8 359.1h.9M27.6 357.3h.9M26.7 362.3h.9M25.1 364.4h.9M23.7 367.0h.9M21.4 363.2h.9M29.9 364.5h.9M26.1 360.0h.9M26.9 355.4h.9M27.8 358.4h.9M29.3 362.0h.9M32.8 358.6h.9M26.2 367.2h.9M28.9 364.8h.9M21.5 359.9h.9M25.5 366.5h.9M24.5 362.8h.9M24.8 366.2h.9M30.5 360.0h.9M27.1 363.3h.9M27.0 359.8h.9M27.0 360.7h.9M26.1 364.5h.9M26.1 367.2h.9M24.7 361.0h.9M25.1 361.6h.9M25.4 357.6h.9M26.2 359.9h.9M20.8 362.3h.9M27.0 356.3h.9M26.6 359.1h.9M28.1 356.8h.9M23.2 361.3h.9M23.8 363.7h.9M29.3 361.8h.9M24.5 359.7h.9M28.3 357.2h.9M24.6 355.1h.9M22.9 360.7h.9M22.1 365.8h.9M24.8 359.7h.9M25.3 360.4h.9M22.9 359.1h.9M31.3 356.7h.9M26.8 364.3h.9M23.9 363.1h.9M31.5 355.5h.9M29.4 356.4h.9M24.3 365.2h.9M23.5 357.6h.9M26.2 360.5h.9M29.1 357.1h.9M22.3 361.7h.9M30.4 357.9h.9M25.5 358.5h.9M29.4 356.8h.9M26.3 367.2h.9M28.8 361.4h.9M30.9 362.9h.9M24.5 362.6h.9M32.8 360.6h.9M22.7 360.3h.9M27.8 359.4h.9M28.9 363.3h.9M26.9 356.4h.9M29.6 357.8h.9M21.7 363.1h.9M26.6 355.8h.9M29.9 366.2h.9M26.8 359.7h.9M23.3 361.3h.9M27.3 365.2h.9M27.4 360.5h.9M23.7 361.1h.9M31.0 358.6h.9M25.1 362.4h.9M23.5 363.0h.9M27.1 357.6h.9M24.7 362.9h.9M26.2 364.0h.9M27.5 362.3h.9M25.5 358.0h.9M28.7 363.9h.9M27.7 365.4h.9M30.6 358.9h.9M23.7 354.3h.9M27.0 358.2h.9M27.6 360.7h.9M27.7 365.1h.9M20.2 364.8h.9M23.4 363.0h.9M27.8 358.4h.9M28.6 363.3h.9M26.9 360.6h.9M27.4 357.1h.9M30.7 354.5h.9M25.7 364.1h.9M24.4 355.0h.9M31.5 365.0h.9M26.3 360.8h.9M24.6 357.7h.9M31.9 358.4h.9M26.0 358.3h.9M24.3 362.0h.9M30.8 364.1h.9M22.2 358.0h.9M26.4 359.5h.9M28.8 358.4h.9M25.9 364.6h.9M25.2 364.0h.9M28.2 357.7h.9M23.0 359.6h.9M26.1 361.2h.9M29.1 354.4h.9M23.4 358.8h.9M31.2 361.1h.9M26.2 355.8h.9M26.6 361.4h.9M25.3 360.8h.9M28.6 358.7h.9M25.3 364.2h.9M27.5 357.4h.9M30.8 362.1h.9M30.8 359.7h.9M22.0 364.4h.9M31.1 357.9h.9M25.3 362.7h.9M27.8 362.8h.9M27.1 364.6h.9M27.7 366.2h.9M24.9 355.4h.9M28.7 360.4h.9M30.0 356.9h.9M25.0 364.0h.9M26.8 365.4h.9M29.4 359.6h.9M18.5 340.4h.9M30.4 329.0h.9M28.9 360.6h.9M37.0 358.9h.9M20.4 352.5h.9M27.9 363.3h.9M40.9 325.3h.9M36.2 328.5h.9M34.3 350.4h.9M28.1 367.9h.9M24.3 365.1h.9M20.3 352.2h.9M25.6 328.8h.9M27.1 348.2h.9M29.0 351.1h.9M39.0 358.3h.9M28.8 367.3h.9M34.1 358.2h.9M22.2 346.6h.9M27.2 357.1h.9M41.3 339.6h.9M22.4 344.5h.9M20.8 347.5h.9M19.9 340.2h.9M21.7 336.6h.9M20.2 352.4h.9M22.2 334.2h.9M28.2 367.9h.9M35.6 339.3h.9M38.4 350.6h.9M32.3 365.0h.9M20.5 354.1h.9M38.6 349.6h.9M34.6 327.4h.9M38.7 342.6h.9M36.9 343.5h.9M23.1 354.6h.9M42.2 345.3h.9M37.6 336.0h.9M26.1 347.3h.9M37.3 340.6h.9M28.6 360.0h.9M20.6 344.6h.9M33.8 344.0h.9M42.8 355.3h.9M34.6 347.6h.9M40.9 343.1h.9M23.0 327.6h.9M30.6 344.3h.9M25.5 362.0h.9M41.6 366.7h.9M21.8 361.5h.9M18.7 328.7h.9M31.4 362.9h.9M28.4 345.8h.9M23.3 354.6h.9M41.1 351.5h.9M25.3 345.8h.9M23.9 333.3h.9M34.9 339.8h.9M42.3 339.5h.9M28.5 357.8h.9M37.0 330.6h.9M19.4 327.0h.9M39.1 361.4h.9M31.5 353.1h.9M34.2 348.8h.9M29.7 330.5h.9M18.4 329.6h.9M27.7 353.4h.9M22.1 330.7h.9M22.5 361.6h.9M38.8 331.4h.9M26.7 351.4h.9M38.6 334.4h.9M37.1 337.8h.9M35.4 338.3h.9M30.0 325.1h.9M19.7 342.4h.9M38.4 362.1h.9M18.7 346.0h.9M27.6 332.4h.9M40.2 346.8h.9M36.9 365.1h.9M32.5 344.5h.9M33.8 345.2h.9M41.4 357.9h.9M37.3 327.0h.9M31.6 337.8h.9" stroke="#000" stroke-width=".9" stroke-opacity=".8" fill="none"/>
<rect x="17.6" y="316.6" width="65.50" height="52.40" fill="none" stroke="#111" stroke-width=".9"/>
<path d="M44.7 316.6V369.0M17.6 344.2H83.1" stroke="#444" stroke-width=".6" fill="none"/>
<text x="19.7" y="374.0" font-size="3.6" text-anchor="middle" fill="#777" stroke="none">10<tspan dy="-1.4" font-size="2.6">0</tspan></text>
<text x="35.3" y="374.0" font-size="3.6" text-anchor="middle" fill="#777" stroke="none">10<tspan dy="-1.4" font-size="2.6">1</tspan></text>
<text x="51.0" y="374.0" font-size="3.6" text-anchor="middle" fill="#777" stroke="none">10<tspan dy="-1.4" font-size="2.6">2</tspan></text>
<text x="66.6" y="374.0" font-size="3.6" text-anchor="middle" fill="#777" stroke="none">10<tspan dy="-1.4" font-size="2.6">3</tspan></text>
<text x="82.3" y="374.0" font-size="3.6" text-anchor="middle" fill="#777" stroke="none">10<tspan dy="-1.4" font-size="2.6">4</tspan></text>
<text transform="translate(14.4,370.2) rotate(-90)" font-size="3.6" text-anchor="middle" fill="#999" stroke="none">10<tspan dy="-1.4" font-size="2.6">0</tspan></text>
<text transform="translate(14.4,357.1) rotate(-90)" font-size="3.6" text-anchor="middle" fill="#999" stroke="none">10<tspan dy="-1.4" font-size="2.6">1</tspan></text>
<text transform="translate(14.4,344.0) rotate(-90)" font-size="3.6" text-anchor="middle" fill="#999" stroke="none">10<tspan dy="-1.4" font-size="2.6">2</tspan></text>
<text transform="translate(14.4,330.9) rotate(-90)" font-size="3.6" text-anchor="middle" fill="#999" stroke="none">10<tspan dy="-1.4" font-size="2.6">3</tspan></text>
<text transform="translate(14.4,317.8) rotate(-90)" font-size="3.6" text-anchor="middle" fill="#999" stroke="none">10<tspan dy="-1.4" font-size="2.6">4</tspan></text>
<path d="M22.5 369.0v1M17.6 365.1h-1M25.4 369.0v1M17.6 362.7h-1M29.0 369.0v1M17.6 359.8h-1M31.4 369.0v1M17.6 357.9h-1M38.9 369.0v1M17.6 352.0h-1M41.8 369.0v1M17.6 349.6h-1M45.4 369.0v1M17.6 346.7h-1M47.8 369.0v1M17.6 344.8h-1M55.3 369.0v1M17.6 338.9h-1M58.2 369.0v1M17.6 336.5h-1M61.8 369.0v1M17.6 333.6h-1M64.2 369.0v1M17.6 331.7h-1M71.7 369.0v1M17.6 325.8h-1M74.5 369.0v1M17.6 323.4h-1M78.2 369.0v1M17.6 320.5h-1M80.6 369.0v1M17.6 318.6h-1M17.6 369.0v1.8M17.6 369.0h-1.8M34.0 369.0v1.8M17.6 355.9h-1.8M50.4 369.0v1.8M17.6 342.8h-1.8M66.7 369.0v1.8M17.6 329.7h-1.8M83.1 369.0v1.8M17.6 316.6h-1.8" stroke="#000" stroke-width=".5" fill="none"/>
<path d="M103.7 343.4h.9M107.5 337.0h.9M101.4 333.4h.9M104.7 337.6h.9M104.2 334.8h.9M106.8 334.4h.9M108.3 336.5h.9M104.3 337.2h.9M110.4 335.1h.9M103.2 335.6h.9M103.5 332.4h.9M105.3 335.5h.9M104.0 338.0h.9M108.0 336.0h.9M98.2 331.0h.9M96.6 339.3h.9M110.4 331.9h.9M108.2 337.9h.9M102.3 334.5h.9M106.5 338.3h.9M98.2 339.0h.9M103.8 334.7h.9M110.7 325.9h.9M107.5 329.1h.9M113.3 332.5h.9M103.1 332.7h.9M109.5 336.6h.9M105.4 342.1h.9M106.2 337.8h.9M106.0 335.2h.9M108.0 340.0h.9M110.1 335.1h.9M105.3 338.5h.9M106.5 336.9h.9M104.6 329.4h.9M106.1 338.8h.9M101.9 341.4h.9M108.9 334.6h.9M107.8 338.2h.9M106.3 337.4h.9M105.0 334.8h.9M102.5 334.5h.9M101.4 338.9h.9M100.7 333.6h.9M102.0 334.0h.9M108.6 338.4h.9M106.7 338.7h.9M99.5 340.8h.9M101.3 333.8h.9M110.2 331.4h.9M111.5 339.2h.9M108.3 330.7h.9M113.3 334.4h.9M102.4 335.0h.9M106.8 341.3h.9M102.6 335.8h.9M113.7 331.8h.9M106.8 335.6h.9M106.8 340.0h.9M106.6 329.9h.9M102.5 331.5h.9M104.9 339.0h.9M96.4 336.1h.9M103.5 332.4h.9M101.3 335.1h.9M108.2 336.0h.9M110.4 332.0h.9M106.3 333.9h.9M101.3 340.4h.9M101.0 336.8h.9M108.1 339.3h.9M104.2 335.6h.9M104.2 333.9h.9M101.1 336.7h.9M106.2 332.8h.9M106.0 336.9h.9M108.4 334.7h.9M101.6 334.8h.9M105.1 334.9h.9M99.8 332.7h.9M106.1 340.1h.9M105.3 330.9h.9M103.8 336.4h.9M108.7 331.6h.9M100.4 338.6h.9M111.3 335.0h.9M106.9 336.3h.9M107.5 337.2h.9M106.4 336.9h.9M102.6 336.3h.9M103.1 336.9h.9M109.0 336.8h.9M105.2 334.2h.9M106.5 334.8h.9M104.0 334.9h.9M108.6 333.4h.9M107.8 334.0h.9M100.3 340.0h.9M112.9 331.1h.9M109.3 341.2h.9M108.5 334.0h.9M106.6 337.7h.9M105.1 335.7h.9M108.6 335.1h.9M115.3 337.5h.9M105.0 341.2h.9M101.1 335.4h.9M105.2 335.6h.9M105.6 334.0h.9M109.0 342.2h.9M100.6 339.5h.9M103.6 339.3h.9M104.1 335.8h.9M109.1 329.7h.9M109.6 337.3h.9M106.1 330.0h.9M109.4 333.7h.9M105.7 338.8h.9M105.7 333.9h.9M96.5 333.5h.9M101.8 328.9h.9M100.9 338.0h.9M107.0 337.1h.9M105.6 334.2h.9M101.1 336.9h.9M105.4 330.6h.9M104.7 332.7h.9M106.7 336.4h.9M103.1 338.6h.9M102.4 335.6h.9M109.9 331.8h.9M104.2 334.2h.9M109.1 339.3h.9M101.8 333.8h.9M104.3 336.5h.9M103.9 337.1h.9M101.4 334.0h.9M107.9 335.8h.9M100.0 330.0h.9M106.1 333.9h.9M97.0 335.8h.9M107.8 337.7h.9M105.3 339.9h.9M109.5 334.2h.9M112.9 337.2h.9M102.5 335.3h.9M105.2 333.2h.9M100.2 333.2h.9M103.4 335.5h.9M105.4 335.7h.9M105.3 333.3h.9M108.1 344.5h.9M107.0 335.6h.9M108.9 337.8h.9M102.5 334.9h.9M105.7 344.6h.9M101.1 328.6h.9M104.5 334.6h.9M104.7 339.5h.9M105.3 335.5h.9M103.3 332.5h.9M103.5 340.7h.9M98.6 337.8h.9M102.6 334.9h.9M102.8 334.9h.9M105.9 334.9h.9M106.8 336.2h.9M103.4 330.2h.9M104.5 336.1h.9M106.4 333.7h.9M101.7 337.2h.9M108.9 336.7h.9M112.8 332.3h.9M106.5 340.0h.9M103.2 338.1h.9M105.9 332.8h.9M109.5 332.3h.9M109.9 333.5h.9M100.0 336.8h.9M106.3 339.7h.9M102.3 332.8h.9M103.4 333.2h.9M106.1 337.3h.9M107.1 335.5h.9M104.0 335.5h.9M101.8 335.3h.9M104.3 334.6h.9M101.1 341.2h.9M111.7 338.8h.9M99.1 334.6h.9M107.3 339.7h.9M105.5 341.7h.9M105.1 337.2h.9M101.1 336.7h.9M103.2 334.1h.9M103.8 336.1h.9M103.0 336.4h.9M104.1 339.8h.9M105.5 332.7h.9M103.4 330.5h.9M106.7 334.1h.9M107.8 336.8h.9M103.0 329.3h.9M107.8 335.0h.9M105.2 333.1h.9M102.9 332.1h.9M106.8 336.1h.9M109.2 339.4h.9M103.8 331.3h.9M98.1 336.4h.9M108.0 335.1h.9M108.8 337.7h.9M100.8 335.7h.9M104.5 333.6h.9M106.8 338.5h.9M96.0 337.0h.9M107.9 332.4h.9M107.7 329.3h.9M108.1 333.4h.9M110.6 336.3h.9M101.0 338.1h.9M108.6 333.8h.9M113.6 334.4h.9M96.4 329.9h.9M103.6 334.2h.9M107.6 336.0h.9M102.2 333.8h.9M98.0 335.3h.9M106.1 332.5h.9M105.6 332.7h.9M102.2 336.5h.9M105.9 330.7h.9M108.4 335.7h.9M108.7 339.4h.9M106.5 333.8h.9M100.2 334.0h.9M103.7 333.0h.9M96.3 331.5h.9M100.9 333.7h.9M105.5 331.5h.9M107.0 334.9h.9M104.8 333.8h.9M104.8 332.0h.9M97.5 335.7h.9M100.0 338.7h.9M100.5 338.1h.9M102.6 334.7h.9M102.6 335.5h.9M113.2 332.2h.9M108.7 334.8h.9M101.0 337.6h.9M102.3 337.9h.9M102.8 339.8h.9M102.6 330.7h.9M102.9 340.5h.9M97.1 336.7h.9M109.3 340.4h.9M107.4 335.5h.9M107.3 339.4h.9M105.2 335.4h.9M106.6 332.1h.9M103.5 336.5h.9M97.3 333.9h.9M105.3 335.4h.9M104.9 337.1h.9M99.8 338.0h.9M96.3 337.6h.9M109.2 338.6h.9M100.9 330.6h.9M104.0 339.2h.9M102.2 332.9h.9M111.2 335.8h.9M99.1 334.2h.9M108.8 331.8h.9M95.2 338.3h.9M108.3 332.3h.9M102.9 333.7h.9M96.2 340.1h.9M105.0 328.3h.9M104.5 330.1h.9M98.6 338.5h.9M106.1 334.2h.9M104.7 338.0h.9M106.6 335.5h.9M99.4 334.0h.9M101.9 337.7h.9M101.1 333.3h.9M105.2 333.7h.9M102.8 336.2h.9M101.0 332.0h.9M110.0 330.9h.9M102.8 330.2h.9M109.0 338.5h.9M108.0 341.6h.9M102.0 339.2h.9M97.8 333.5h.9M105.6 333.9h.9M107.4 332.4h.9M109.3 335.5h.9M106.3 338.8h.9M106.4 335.3h.9M102.4 335.4h.9M102.0 325.2h.9M117.1 336.5h.9M109.2 331.7h.9M99.7 334.7h.9M106.0 336.7h.9M106.5 335.9h.9M98.0 337.9h.9M103.7 340.4h.9M107.0 328.3h.9M111.2 330.6h.9M111.0 340.8h.9M103.5 337.1h.9M103.6 333.3h.9M103.0 334.7h.9M105.7 335.6h.9M108.1 338.9h.9M100.8 334.5h.9M104.1 335.6h.9M102.6 331.3h.9M101.9 340.3h.9M102.9 337.0h.9M111.8 334.1h.9M111.5 331.3h.9M110.5 335.5h.9M98.5 338.4h.9M106.0 343.0h.9M117.9 349.8h.9M104.2 360.3h.9M103.9 362.0h.9M100.6 363.6h.9M109.2 354.5h.9M101.9 356.8h.9M109.9 352.6h.9M108.4 362.1h.9M109.0 357.9h.9M100.7 363.3h.9M113.4 359.9h.9M105.3 357.7h.9M99.2 365.1h.9M106.3 358.0h.9M107.6 359.7h.9M106.9 354.3h.9M112.2 355.4h.9M113.8 355.4h.9M120.2 352.2h.9M106.0 356.0h.9M113.9 354.9h.9M117.9 353.0h.9M106.4 362.2h.9M114.2 357.2h.9M105.2 361.2h.9M109.9 356.8h.9M110.4 357.8h.9M102.9 359.2h.9M103.2 363.6h.9M110.0 361.2h.9M105.7 366.6h.9M105.3 362.9h.9M114.0 357.1h.9M108.7 359.1h.9M108.0 361.3h.9M107.6 358.4h.9M104.9 357.2h.9M112.5 352.5h.9M103.6 364.2h.9M99.3 365.2h.9M105.2 362.0h.9M117.7 348.6h.9M101.4 361.1h.9M114.4 350.9h.9M105.6 357.1h.9M110.4 355.6h.9M120.8 356.1h.9M109.4 354.6h.9M100.2 361.6h.9M105.3 358.3h.9M101.3 363.0h.9M123.9 351.9h.9M110.0 355.5h.9M111.6 355.7h.9M109.4 359.3h.9M100.5 360.2h.9M103.0 364.6h.9M106.2 357.1h.9M117.0 351.9h.9M103.5 360.3h.9M102.1 367.7h.9M112.4 358.6h.9M102.8 362.9h.9M100.3 360.5h.9M105.8 357.0h.9M111.6 354.9h.9M107.5 363.7h.9M104.4 364.7h.9M115.3 355.2h.9M115.0 352.9h.9M97.0 360.3h.9M99.7 362.4h.9M101.1 364.4h.9M105.3 362.0h.9M107.7 360.2h.9M106.2 358.0h.9M107.1 360.9h.9M109.4 357.7h.9M98.9 366.6h.9M108.4 360.9h.9M114.2 356.3h.9M107.8 357.7h.9M104.2 364.4h.9M110.0 354.8h.9M104.7 362.7h.9M98.8 362.9h.9M104.4 360.0h.9M111.3 357.8h.9M108.6 357.1h.9M110.8 354.5h.9M103.7 358.8h.9M110.0 354.6h.9M115.3 354.8h.9M104.7 361.7h.9M103.7 361.1h.9M114.1 351.1h.9M107.3 359.7h.9M99.7 366.4h.9M104.2 357.9h.9M114.6 352.6h.9M108.9 361.0h.9M117.9 352.8h.9M110.6 360.5h.9M108.3 357.8h.9M113.1 352.0h.9M103.1 361.6h.9M113.2 355.8h.9M106.2 360.8h.9M105.2 358.1h.9M109.1 357.0h.9M104.0 367.0h.9M100.0 362.0h.9M101.4 367.2h.9M109.9 354.7h.9M108.6 359.3h.9M107.3 360.4h.9M111.1 359.6h.9M101.4 362.7h.9M104.3 359.2h.9M116.5 354.3h.9M101.1 358.7h.9M114.5 348.2h.9M105.2 356.2h.9M109.9 362.2h.9M108.2 361.2h.9M105.3 365.7h.9M107.5 360.6h.9M112.5 352.2h.9M102.6 359.2h.9M101.1 363.7h.9M112.0 354.3h.9M104.4 358.3h.9M105.8 357.2h.9M105.7 358.1h.9M104.3 355.7h.9M96.0 367.0h.9M106.2 357.9h.9M104.0 364.7h.9M103.4 361.3h.9M108.2 361.7h.9M117.2 356.8h.9M103.6 362.0h.9M114.8 354.5h.9M104.1 364.7h.9M109.6 359.9h.9M105.3 360.0h.9M111.3 355.6h.9M107.7 359.1h.9M104.5 363.6h.9M97.6 366.8h.9M112.7 354.6h.9M97.9 364.3h.9M103.2 362.1h.9M117.4 352.4h.9M108.3 358.5h.9M107.3 356.6h.9M107.6 356.9h.9M108.3 359.6h.9M104.8 361.4h.9M108.9 357.6h.9M105.9 366.2h.9M104.9 360.3h.9M109.6 359.9h.9M110.6 358.2h.9M108.9 357.1h.9M112.5 358.3h.9M118.0 356.3h.9M117.1 353.8h.9M107.5 360.6h.9M113.7 353.2h.9M107.6 358.6h.9M111.5 358.5h.9M104.8 360.8h.9M112.0 354.4h.9M100.3 362.0h.9M107.9 358.3h.9M98.9 363.4h.9M118.9 352.8h.9M105.4 364.8h.9M114.5 354.2h.9M112.7 358.2h.9M115.1 356.7h.9M100.3 360.4h.9M109.2 356.6h.9M114.8 352.0h.9M105.9 361.1h.9M109.3 360.6h.9M105.7 359.6h.9M105.2 364.0h.9M115.2 353.3h.9M102.4 361.3h.9M107.2 359.2h.9M110.5 358.1h.9M107.3 364.0h.9M112.0 353.6h.9M95.3 367.8h.9M113.8 355.9h.9M100.0 366.8h.9M105.8 356.6h.9M105.0 357.5h.9M109.8 362.6h.9M106.0 363.6h.9M104.5 363.9h.9M111.1 356.8h.9M119.3 355.5h.9M103.5 361.6h.9M103.1 358.8h.9M103.6 361.1h.9M99.8 362.9h.9M99.8 360.8h.9M104.2 359.5h.9M111.2 355.2h.9M104.0 362.7h.9M102.2 365.0h.9M106.4 363.0h.9M102.3 365.2h.9M123.0 347.4h.9M116.1 355.9h.9M107.2 361.7h.9M97.0 366.4h.9M103.7 358.8h.9M101.6 354.6h.9M101.8 363.0h.9M103.9 363.8h.9M103.5 357.5h.9M103.0 363.3h.9M99.4 362.7h.9M109.1 354.7h.9M101.9 361.2h.9M100.9 365.3h.9M111.6 359.1h.9M114.0 359.0h.9M100.2 365.5h.9M105.9 358.9h.9M110.2 356.5h.9M112.3 356.9h.9M104.1 360.2h.9M108.6 354.1h.9M104.3 355.4h.9M96.2 367.8h.9M112.3 356.8h.9M106.5 365.3h.9M109.3 356.8h.9M105.6 363.2h.9M101.7 363.0h.9M104.0 362.6h.9M108.8 358.7h.9M99.4 366.9h.9M115.9 355.8h.9M120.3 350.6h.9M112.2 355.9h.9M104.3 361.3h.9M110.4 358.2h.9M107.9 357.8h.9M105.8 358.6h.9M112.1 356.6h.9M107.4 354.4h.9M115.6 355.7h.9M108.8 359.5h.9M98.4 355.9h.9M105.9 357.1h.9M106.9 359.5h.9M103.5 355.3h.9M99.7 364.9h.9M118.4 355.7h.9M106.5 361.1h.9M106.7 362.3h.9M97.3 364.7h.9M110.2 360.0h.9M106.2 361.9h.9M113.3 355.5h.9M116.9 354.1h.9M103.1 357.1h.9M102.7 358.3h.9M113.7 358.4h.9M113.3 358.8h.9M108.8 356.2h.9M111.2 352.9h.9M105.1 355.1h.9M106.8 362.8h.9M106.9 360.5h.9M111.3 360.6h.9M111.5 362.5h.9M101.5 364.9h.9M103.7 359.8h.9M108.7 357.6h.9M111.2 360.2h.9M107.0 355.5h.9M104.3 362.6h.9M109.4 357.0h.9M107.7 362.7h.9M101.1 361.3h.9M105.1 358.6h.9M104.8 363.4h.9M110.8 348.4h.9M99.3 366.9h.9M102.2 363.0h.9M104.7 359.2h.9M107.1 361.3h.9M120.8 350.2h.9M105.9 361.8h.9M113.1 356.2h.9M111.5 359.0h.9M114.5 352.6h.9M117.1 351.9h.9M110.3 362.7h.9M101.3 363.6h.9M104.9 360.2h.9M115.7 352.0h.9M119.5 350.9h.9M114.4 355.9h.9M121.0 348.1h.9M111.0 357.1h.9M102.1 361.6h.9M107.5 353.8h.9M108.7 358.5h.9M112.4 359.8h.9M112.0 355.4h.9M101.8 361.9h.9M113.9 356.3h.9M103.7 359.7h.9M108.6 353.7h.9M110.8 357.4h.9M111.1 355.9h.9M110.0 356.0h.9M103.8 365.2h.9M106.2 360.2h.9M112.4 354.3h.9M104.3 359.1h.9M100.1 367.8h.9M107.0 354.5h.9M101.6 364.2h.9M106.9 358.1h.9M100.6 361.5h.9M104.3 364.1h.9M104.7 362.7h.9M112.5 354.0h.9M101.7 362.4h.9M99.9 365.3h.9M107.5 358.8h.9M111.7 357.9h.9M101.5 360.7h.9M109.9 361.4h.9M107.0 363.5h.9M109.8 356.0h.9M95.9 361.9h.9M107.4 357.9h.9M105.4 362.8h.9M108.1 359.4h.9M102.9 361.7h.9M106.2 360.5h.9M106.7 359.5h.9M114.9 354.7h.9M108.0 357.2h.9M107.3 361.5h.9M108.9 356.6h.9M115.2 353.0h.9M102.8 363.8h.9M98.2 366.3h.9M100.3 363.5h.9M102.9 362.5h.9M107.4 360.3h.9M111.7 357.7h.9M102.5 359.3h.9M100.8 365.3h.9M112.1 362.1h.9M113.2 357.0h.9M102.3 361.5h.9M111.3 360.3h.9M105.7 361.9h.9M103.9 359.2h.9M106.0 359.8h.9M101.7 360.9h.9M96.7 368.2h.9M98.4 360.8h.9M102.3 365.6h.9M108.5 356.7h.9M109.1 359.1h.9M111.9 355.5h.9M102.1 363.4h.9M106.6 362.9h.9M98.2 366.2h.9M100.9 359.6h.9M112.8 355.4h.9M105.9 360.5h.9M117.9 358.4h.9M110.8 355.9h.9M103.9 360.1h.9M102.6 359.9h.9M114.5 357.0h.9M112.6 353.5h.9M128.1 351.3h.9M119.1 356.1h.9M108.7 360.7h.9M100.5 364.9h.9M104.5 358.0h.9M106.6 358.2h.9M110.9 353.9h.9M112.5 357.2h.9M100.9 362.5h.9M105.2 357.9h.9M98.4 361.8h.9M112.8 355.6h.9M101.4 363.4h.9M100.0 364.9h.9M95.0 368.0h.9M100.6 363.3h.9M96.4 365.6h.9M113.1 357.7h.9M110.5 355.7h.9M99.4 360.2h.9M101.4 365.0h.9M106.3 354.2h.9M107.4 360.8h.9M100.4 366.8h.9M114.8 351.6h.9M110.5 351.3h.9M118.8 350.4h.9M97.2 362.4h.9M111.0 360.0h.9M108.0 360.7h.9M105.0 357.9h.9M99.8 365.7h.9M109.7 353.9h.9M103.6 360.2h.9M114.9 355.6h.9M113.4 359.5h.9M112.2 358.7h.9M108.7 354.5h.9M117.3 362.5h.9M117.8 350.9h.9M114.2 356.1h.9M113.6 360.0h.9M102.1 363.7h.9M115.6 357.9h.9M118.1 349.7h.9M109.3 355.0h.9M109.9 356.6h.9M105.9 358.5h.9M107.9 359.3h.9M104.9 359.8h.9M109.6 354.7h.9M105.7 360.8h.9M97.6 360.9h.9M103.0 359.8h.9M109.2 359.1h.9M108.0 356.4h.9M115.5 354.5h.9M112.6 358.1h.9M114.6 359.3h.9M106.5 363.1h.9M113.2 358.4h.9M102.5 363.4h.9M102.7 358.4h.9M112.2 354.1h.9M108.2 356.3h.9M102.0 360.8h.9M112.5 355.9h.9M115.6 351.9h.9M111.4 355.7h.9M114.7 358.2h.9M112.4 355.2h.9M112.3 351.0h.9M101.9 361.6h.9M95.5 365.6h.9M104.7 359.8h.9M103.4 364.1h.9M100.0 368.2h.9M107.4 357.5h.9M102.4 364.2h.9M106.7 360.3h.9M101.3 362.5h.9M105.2 358.2h.9M115.7 355.0h.9M100.5 357.8h.9M96.2 368.3h.9M115.2 362.5h.9M111.4 361.1h.9M106.5 353.9h.9M104.3 361.5h.9M108.6 356.4h.9M104.5 359.2h.9M112.5 355.5h.9M104.9 363.9h.9M102.9 363.8h.9M110.0 355.4h.9M101.9 363.9h.9M110.1 358.1h.9M103.4 357.4h.9M107.8 358.6h.9M102.5 359.4h.9M112.6 356.1h.9M106.2 354.3h.9M108.0 356.3h.9M94.8 366.1h.9M110.1 356.0h.9M107.2 356.8h.9M108.2 357.2h.9M108.7 355.9h.9M102.4 361.4h.9M100.1 363.4h.9M98.2 365.4h.9M106.8 354.7h.9M106.9 358.3h.9M105.4 363.6h.9M118.9 348.6h.9M106.5 360.0h.9M107.6 357.7h.9M97.1 368.1h.9M108.5 361.9h.9M112.3 357.1h.9M101.3 361.3h.9M119.3 348.0h.9M103.3 360.1h.9M107.5 356.8h.9M104.4 361.0h.9M104.3 365.2h.9M111.8 357.5h.9M114.2 354.9h.9M100.0 364.2h.9M103.5 360.9h.9M121.8 355.8h.9M100.8 360.9h.9M105.3 360.7h.9M99.1 362.2h.9M105.5 362.9h.9M109.1 363.2h.9M116.1 356.0h.9M106.2 360.0h.9M110.2 359.2h.9M112.1 355.3h.9M102.0 366.8h.9M107.2 364.2h.9M117.9 356.0h.9M108.9 360.6h.9M119.4 351.2h.9M102.4 358.3h.9M106.9 357.6h.9M110.6 356.3h.9M99.9 361.3h.9M108.7 354.0h.9M97.6 367.7h.9M101.5 365.9h.9M108.2 359.4h.9M110.3 353.2h.9M100.9 362.8h.9M97.6 362.8h.9M110.0 360.3h.9M100.6 367.2h.9M109.1 359.5h.9M114.5 356.4h.9M110.6 361.7h.9M114.2 352.2h.9M113.4 357.1h.9M103.1 358.6h.9M104.1 359.1h.9M115.3 357.9h.9M108.6 355.6h.9M109.3 357.8h.9M113.3 359.4h.9M110.0 359.1h.9M123.7 345.5h.9M115.1 354.6h.9M107.7 358.5h.9M107.5 356.8h.9M105.0 366.3h.9M114.1 355.7h.9M99.6 364.0h.9M112.2 359.4h.9M103.2 362.2h.9M95.7 362.5h.9M112.8 356.3h.9M109.4 359.4h.9M108.6 359.2h.9M105.0 363.7h.9M106.7 362.2h.9M103.0 363.3h.9M114.9 354.7h.9M115.1 355.1h.9M106.6 365.2h.9M106.9 355.2h.9M108.6 361.8h.9M112.4 357.8h.9M108.3 357.0h.9M104.1 361.3h.9M105.5 362.2h.9M108.6 354.9h.9M106.0 360.7h.9M104.6 362.6h.9M114.4 353.0h.9M109.5 358.6h.9M112.5 360.4h.9M101.6 363.3h.9M112.0 354.5h.9M107.1 355.3h.9M105.4 355.8h.9M102.8 364.7h.9M103.1 361.4h.9M104.1 361.1h.9M107.7 358.7h.9M106.5 358.0h.9M119.1 357.5h.9M109.9 359.9h.9M108.5 362.9h.9M106.4 356.7h.9M102.2 364.1h.9M102.1 364.3h.9M109.1 355.4h.9M97.8 362.6h.9M116.8 351.9h.9M116.5 357.1h.9M98.1 365.4h.9M114.3 353.6h.9M113.7 357.8h.9M113.8 354.0h.9M111.1 357.7h.9M116.9 353.8h.9M102.2 360.1h.9M104.3 363.8h.9M110.7 357.7h.9M107.3 353.3h.9M98.4 364.1h.9M112.0 360.9h.9M113.2 350.1h.9M105.7 362.9h.9M109.3 359.0h.9M112.8 353.1h.9M103.7 358.5h.9M101.8 358.5h.9M106.1 361.2h.9M99.6 364.7h.9M99.4 359.2h.9M108.3 357.5h.9M118.0 353.4h.9M99.6 359.7h.9M116.7 357.1h.9M112.8 354.3h.9M113.1 357.3h.9M115.0 356.9h.9M104.5 358.6h.9M113.8 356.7h.9M97.9 365.2h.9M102.2 363.5h.9M109.0 357.3h.9M111.7 359.6h.9M98.8 366.3h.9M109.5 361.1h.9M108.8 355.0h.9M111.2 355.7h.9M106.6 361.1h.9M99.2 366.9h.9M113.9 353.9h.9M111.7 357.0h.9M108.1 359.9h.9M120.2 351.9h.9M108.5 361.5h.9M116.2 351.7h.9M106.2 361.5h.9M100.1 364.8h.9M105.7 359.7h.9M114.2 358.1h.9M96.8 362.9h.9M111.4 357.3h.9M105.4 362.3h.9M112.5 356.2h.9M109.3 357.6h.9M101.1 363.1h.9M110.6 355.2h.9M106.9 361.8h.9M112.5 358.5h.9M118.8 357.6h.9M105.9 361.1h.9M117.0 356.9h.9M106.5 358.6h.9M110.8 358.8h.9M108.2 356.5h.9M103.1 362.6h.9M107.9 358.3h.9M104.4 363.7h.9M110.5 352.2h.9M100.7 362.8h.9M101.3 362.1h.9M112.4 358.4h.9M110.4 355.8h.9M110.6 356.5h.9M110.5 361.0h.9M113.4 354.3h.9M110.0 356.9h.9M112.7 359.5h.9M102.5 356.6h.9M110.3 358.9h.9M102.7 363.1h.9M99.7 364.6h.9M105.8 355.6h.9M111.1 353.5h.9M107.3 357.3h.9M117.9 351.1h.9M111.3 359.1h.9M109.7 356.9h.9M107.9 363.0h.9M99.1 364.1h.9M107.5 361.1h.9M107.3 357.7h.9M117.7 352.0h.9M102.4 363.5h.9M106.4 362.4h.9M102.8 360.3h.9M108.1 362.5h.9M96.8 364.9h.9M109.0 362.8h.9M107.3 356.2h.9M108.3 358.0h.9M123.0 352.3h.9M106.7 359.7h.9M110.1 356.4h.9M107.1 361.4h.9M113.7 358.4h.9M120.7 350.8h.9M117.4 355.8h.9M109.2 357.3h.9M99.5 361.8h.9M109.8 361.5h.9M97.2 363.8h.9M101.9 361.3h.9M103.6 363.7h.9M100.5 360.8h.9M107.2 357.1h.9M105.0 360.2h.9M102.7 362.4h.9M109.4 360.8h.9M102.7 361.6h.9M114.9 353.4h.9M111.0 354.0h.9M104.5 360.2h.9M109.8 356.8h.9M103.0 364.9h.9M103.3 357.5h.9M113.3 351.3h.9M97.5 360.1h.9M109.9 357.4h.9M118.7 354.1h.9M121.6 346.9h.9M95.4 366.7h.9M100.0 364.6h.9M103.5 365.8h.9M95.5 366.2h.9M105.8 363.2h.9M112.0 357.8h.9M102.3 360.6h.9M107.8 361.7h.9M110.8 356.7h.9M117.6 347.5h.9M106.5 359.6h.9M111.4 353.8h.9M110.2 359.3h.9M107.4 363.6h.9M105.0 361.6h.9M109.2 359.9h.9M111.3 353.9h.9M99.0 362.1h.9M104.8 359.3h.9M109.1 363.7h.9M108.8 357.5h.9M109.1 359.2h.9M117.0 349.0h.9M113.4 354.6h.9M99.4 364.3h.9M116.7 353.7h.9M102.7 361.3h.9M102.0 363.7h.9M113.6 357.2h.9M105.0 357.5h.9M96.7 361.9h.9M110.8 359.0h.9M109.8 360.2h.9M110.3 354.1h.9M98.4 366.4h.9M111.9 353.0h.9M103.2 361.3h.9M112.5 359.9h.9M99.4 359.6h.9M101.1 363.0h.9M94.9 365.9h.9M102.2 359.3h.9M113.5 358.0h.9M108.4 356.3h.9M103.5 359.8h.9M115.4 351.8h.9M108.2 360.1h.9M111.7 358.4h.9M109.0 362.1h.9M106.3 359.3h.9M107.8 356.9h.9M109.6 362.1h.9M113.9 354.0h.9M110.7 359.3h.9M112.4 360.9h.9M100.1 365.7h.9M95.4 361.3h.9M108.9 355.7h.9M107.9 356.9h.9M109.6 360.3h.9M100.8 361.0h.9M107.8 361.2h.9M100.4 363.9h.9M107.4 359.8h.9M106.5 359.8h.9M105.8 358.2h.9M108.8 362.2h.9M103.9 361.7h.9M106.8 363.8h.9M111.2 354.7h.9M116.2 349.7h.9M109.4 362.0h.9M111.9 353.5h.9M110.5 357.8h.9M117.1 352.7h.9M119.8 351.8h.9M103.0 360.9h.9M111.2 354.2h.9M108.8 355.2h.9M116.6 354.6h.9M103.0 366.5h.9M96.3 365.8h.9M115.4 358.5h.9M108.6 357.3h.9M111.0 359.4h.9M109.4 356.5h.9M108.7 356.0h.9M109.4 357.4h.9M104.4 360.4h.9M108.9 354.7h.9M106.6 357.9h.9M103.5 363.4h.9M103.2 361.2h.9M114.9 355.3h.9M102.4 364.2h.9M100.4 362.8h.9M111.0 355.2h.9M115.9 350.7h.9M99.0 363.9h.9M100.8 364.5h.9M100.5 363.8h.9M109.3 361.4h.9M110.3 356.4h.9M115.5 355.3h.9M106.6 357.4h.9M105.4 355.1h.9M103.2 363.2h.9M113.8 354.3h.9M103.2 363.4h.9M101.8 360.7h.9M105.5 356.1h.9M106.7 357.1h.9M109.3 357.3h.9M103.0 359.8h.9M117.6 352.6h.9M118.6 354.3h.9M100.0 363.4h.9M107.7 360.3h.9M100.7 362.6h.9M105.2 358.6h.9M105.2 363.5h.9M107.3 354.5h.9M99.0 361.4h.9M99.1 363.3h.9M99.5 361.1h.9M104.2 359.5h.9M103.3 360.5h.9M102.0 359.6h.9M102.7 360.7h.9M96.3 364.5h.9M102.4 363.6h.9M102.1 359.2h.9M104.8 361.1h.9M100.0 360.7h.9M100.8 365.7h.9M103.7 367.4h.9M113.5 359.9h.9M100.5 364.3h.9M111.0 359.2h.9M99.2 364.9h.9M103.1 361.6h.9M99.2 359.5h.9M108.3 364.6h.9M103.7 364.0h.9M107.0 361.2h.9M108.1 362.3h.9M100.3 368.3h.9M103.9 360.6h.9M101.0 365.2h.9M107.5 361.6h.9M111.6 358.8h.9M102.0 364.4h.9M104.0 361.7h.9M99.6 359.5h.9M103.1 363.1h.9M103.4 362.8h.9M107.2 362.8h.9M104.5 362.1h.9M107.5 364.4h.9M97.8 365.4h.9M106.2 363.0h.9M95.4 361.5h.9M103.6 358.5h.9M101.1 364.4h.9M109.1 360.2h.9M102.0 366.7h.9M105.7 364.1h.9M104.3 364.6h.9M103.7 359.8h.9M98.0 363.8h.9M100.1 365.9h.9M103.4 360.6h.9M102.6 362.6h.9M102.5 366.4h.9M106.0 361.5h.9M103.1 363.2h.9M105.8 365.4h.9M103.3 363.8h.9M104.5 357.5h.9M100.9 363.5h.9M97.0 364.3h.9M106.3 362.6h.9M106.4 368.6h.9M105.5 365.3h.9M99.8 363.9h.9M107.3 359.2h.9M103.3 365.0h.9M103.6 362.9h.9M100.3 367.3h.9M101.0 364.1h.9M100.4 366.3h.9M104.4 359.6h.9M100.2 362.8h.9M102.8 362.7h.9M100.8 360.6h.9M97.9 365.2h.9M103.2 361.3h.9M103.5 361.2h.9M103.2 360.3h.9M107.1 356.2h.9M102.9 365.3h.9M99.2 364.9h.9M110.5 362.1h.9M103.1 366.3h.9M105.9 362.5h.9M103.5 361.4h.9M107.7 359.9h.9M98.4 364.3h.9M107.2 354.5h.9M102.4 360.9h.9M99.5 363.4h.9M101.1 364.6h.9M99.0 366.6h.9M103.1 360.7h.9M98.6 362.0h.9M105.8 362.3h.9M100.8 360.6h.9M101.2 361.7h.9M110.8 360.3h.9M106.1 355.3h.9M100.4 358.2h.9M104.4 363.2h.9M96.6 362.0h.9M100.0 365.5h.9M102.2 361.1h.9M100.0 360.0h.9M99.0 365.4h.9M105.5 360.8h.9M100.6 364.2h.9M99.7 361.2h.9M100.6 360.5h.9M100.3 362.1h.9M106.0 359.0h.9M104.1 361.4h.9M97.0 360.9h.9M108.2 361.8h.9M107.2 363.5h.9M101.8 364.1h.9M99.0 359.5h.9M103.0 366.1h.9M100.7 357.6h.9M105.0 362.3h.9M102.8 362.6h.9M107.9 363.2h.9M96.5 362.0h.9M100.5 361.4h.9M104.0 365.5h.9M101.0 366.3h.9M101.3 359.6h.9M98.4 362.7h.9M110.4 357.7h.9M102.2 354.5h.9M105.6 365.0h.9M99.8 361.1h.9M101.1 363.0h.9M102.6 363.1h.9M109.4 356.4h.9M108.3 363.5h.9M111.1 357.9h.9M108.9 356.1h.9M108.7 361.6h.9M102.1 363.0h.9M100.2 361.4h.9M108.0 360.6h.9M100.1 368.3h.9M105.0 363.8h.9M100.5 363.0h.9M98.8 362.3h.9M103.1 367.9h.9M99.4 361.9h.9M101.7 356.6h.9M106.3 365.1h.9M102.2 361.0h.9M106.8 354.4h.9M101.2 358.5h.9M104.3 357.7h.9M98.9 356.6h.9M108.1 358.4h.9M94.9 362.7h.9M104.0 367.0h.9M105.1 361.4h.9M96.5 363.6h.9M96.9 364.6h.9M102.6 365.4h.9M101.9 366.6h.9M101.6 356.6h.9M105.3 357.0h.9M111.8 359.6h.9M104.3 360.3h.9M103.1 365.6h.9M107.2 359.3h.9M96.6 363.3h.9M98.7 367.8h.9M98.6 362.0h.9M103.8 362.2h.9M101.0 363.8h.9M95.0 367.4h.9M100.0 363.3h.9M96.5 366.9h.9M99.9 368.4h.9M102.1 365.0h.9M99.8 362.0h.9M107.6 360.5h.9M111.7 360.6h.9M104.8 360.9h.9M96.8 360.6h.9M108.5 357.8h.9M111.1 358.2h.9M102.1 356.4h.9M107.2 363.7h.9M103.6 360.3h.9M107.8 358.6h.9M105.0 365.5h.9M100.5 358.6h.9M100.9 359.7h.9M101.9 365.8h.9M100.2 362.8h.9M108.0 363.2h.9M104.1 362.3h.9M102.1 362.5h.9M106.0 359.4h.9M103.2 363.7h.9M106.9 361.9h.9M109.2 361.2h.9M103.5 360.8h.9M100.6 366.7h.9M98.2 363.9h.9M109.8 362.2h.9M104.4 358.3h.9M100.5 357.9h.9M102.5 364.7h.9M98.4 361.6h.9M108.1 358.2h.9M104.1 363.1h.9M101.4 366.9h.9M97.1 363.1h.9M111.1 359.0h.9M103.3 363.6h.9M100.6 363.2h.9M102.7 356.8h.9M103.4 364.5h.9M98.6 361.2h.9M107.4 367.5h.9M105.1 359.5h.9M103.0 363.0h.9M100.3 362.9h.9M95.9 365.0h.9M102.0 361.8h.9M98.2 366.8h.9M104.0 362.0h.9M106.0 360.4h.9M101.0 365.2h.9M101.3 363.9h.9M102.8 361.8h.9M109.3 357.5h.9M108.4 362.0h.9M100.9 362.5h.9M112.8 361.4h.9M101.6 360.9h.9M104.8 357.4h.9M107.8 359.1h.9M101.5 356.9h.9M103.2 364.4h.9M105.0 362.2h.9M102.8 363.7h.9M102.6 362.4h.9M108.4 365.6h.9M102.2 366.8h.9M108.0 364.5h.9M100.5 354.7h.9M101.6 359.9h.9M105.7 361.9h.9M104.9 364.5h.9M106.7 352.7h.9M103.0 367.2h.9M102.8 363.4h.9M101.0 367.8h.9M96.7 360.5h.9M101.3 360.4h.9M106.9 357.9h.9M102.6 360.5h.9M103.7 359.7h.9M107.8 355.5h.9M99.3 367.4h.9M104.2 363.6h.9M100.7 360.4h.9M107.3 354.7h.9M97.2 367.6h.9M101.5 355.6h.9M100.9 359.5h.9M101.6 358.8h.9M100.7 360.6h.9M110.2 361.6h.9M102.0 365.2h.9M102.3 363.4h.9M97.3 360.3h.9M97.7 367.8h.9M99.9 366.9h.9M98.2 366.1h.9M100.6 359.6h.9M101.1 360.4h.9M102.3 360.0h.9M99.3 361.4h.9M98.0 365.7h.9M100.2 363.7h.9M103.7 360.8h.9M102.5 366.0h.9M99.6 363.0h.9M109.1 358.7h.9M104.3 359.9h.9M105.5 357.5h.9M108.9 359.8h.9M99.3 360.6h.9M106.6 360.8h.9M103.9 363.1h.9M104.0 363.4h.9M97.0 362.5h.9M102.9 358.7h.9M102.7 364.5h.9M108.9 360.6h.9M101.4 363.5h.9M103.8 359.8h.9M101.7 360.2h.9M97.8 365.7h.9M101.6 357.3h.9M103.3 362.5h.9M109.6 355.7h.9M107.7 355.1h.9M100.8 363.0h.9M99.4 361.5h.9M102.8 368.3h.9M100.7 357.4h.9M112.4 359.9h.9M106.2 361.6h.9M102.7 362.8h.9M100.8 361.3h.9M98.8 358.4h.9M102.6 364.6h.9M101.4 363.8h.9M101.2 363.6h.9M108.8 364.2h.9M96.1 367.2h.9M106.4 363.4h.9M101.6 360.6h.9M105.9 364.5h.9M100.1 360.3h.9M104.5 363.0h.9M106.2 358.2h.9M112.8 358.9h.9M99.8 365.6h.9M102.5 361.4h.9M102.5 365.3h.9M100.7 361.4h.9M102.6 367.5h.9M103.1 361.7h.9M96.3 366.4h.9M104.0 361.8h.9M97.3 360.3h.9M102.6 361.0h.9M106.9 367.2h.9M98.0 359.8h.9M102.4 357.5h.9M103.7 362.9h.9M102.8 366.2h.9M101.2 361.6h.9M103.0 359.5h.9M105.6 360.8h.9M99.1 362.7h.9M102.3 365.9h.9M105.7 367.2h.9M100.7 362.4h.9M98.3 361.0h.9M105.9 357.6h.9M105.6 356.0h.9M106.7 360.9h.9M102.9 357.4h.9M100.5 365.1h.9M108.8 359.8h.9M107.8 358.6h.9M106.1 365.8h.9M101.1 357.3h.9M103.4 364.9h.9M99.6 363.5h.9M98.9 364.2h.9M103.3 362.0h.9M104.2 358.3h.9M105.1 363.4h.9M103.4 365.8h.9M110.9 353.6h.9M99.2 363.6h.9M108.1 360.3h.9M101.4 361.7h.9M106.6 362.4h.9M99.5 362.6h.9M111.5 358.5h.9M108.5 364.3h.9M96.8 360.9h.9M108.1 359.4h.9M103.7 360.6h.9M106.5 358.6h.9M103.0 360.5h.9M102.5 366.6h.9M97.7 361.1h.9M103.0 357.2h.9M96.6 356.4h.9M99.3 361.0h.9M103.1 358.1h.9M104.8 365.5h.9M101.3 364.0h.9M108.5 357.2h.9M101.1 362.0h.9M105.5 360.4h.9M100.1 363.4h.9M107.6 361.6h.9M102.6 363.9h.9M99.8 363.7h.9M109.3 360.3h.9M109.4 357.6h.9M101.9 362.7h.9M107.3 361.5h.9M107.0 356.8h.9M103.1 362.3h.9M111.6 355.7h.9M102.7 357.0h.9M100.6 362.6h.9M103.3 363.6h.9M102.7 365.1h.9M101.5 360.8h.9M102.1 357.8h.9M98.0 360.7h.9M105.5 360.5h.9M97.9 363.2h.9M107.4 362.3h.9M105.9 360.7h.9M101.7 365.8h.9M101.7 360.5h.9M100.7 364.2h.9M103.2 364.0h.9M110.0 361.3h.9M104.5 363.3h.9M101.6 359.1h.9M110.0 362.8h.9M101.7 360.9h.9M101.8 361.9h.9M111.5 356.5h.9M105.8 362.4h.9M107.9 359.3h.9M105.6 359.2h.9M105.3 363.6h.9M105.9 358.9h.9M106.2 362.3h.9M111.8 360.1h.9M98.7 365.0h.9M102.1 358.6h.9M97.5 364.2h.9M103.8 363.0h.9M103.4 367.8h.9M107.5 363.6h.9M101.2 365.7h.9M100.4 354.9h.9M106.3 359.5h.9M100.3 359.5h.9M102.9 364.1h.9M102.7 363.9h.9M98.2 365.2h.9M106.9 362.9h.9M99.0 364.4h.9M106.7 360.7h.9M104.7 359.8h.9M99.1 365.5h.9M101.9 362.5h.9M106.5 364.5h.9M102.1 361.0h.9M111.8 358.8h.9M99.4 360.8h.9M107.8 362.8h.9M96.8 361.4h.9M102.2 355.0h.9M107.1 358.5h.9M95.8 362.1h.9M104.3 361.8h.9M98.9 362.2h.9M98.0 367.6h.9M100.3 363.9h.9M101.0 365.8h.9M101.3 367.0h.9M100.8 366.1h.9M99.8 366.0h.9M108.4 362.0h.9M111.4 359.5h.9M104.9 364.1h.9M102.1 360.7h.9M99.3 365.3h.9M104.2 360.3h.9M104.2 364.2h.9M99.6 367.0h.9M102.5 366.2h.9M106.1 360.1h.9M104.3 366.0h.9M102.9 356.9h.9M103.6 362.6h.9M100.3 358.6h.9M102.9 362.3h.9M103.4 358.4h.9M100.3 362.9h.9M102.7 360.1h.9M106.7 365.1h.9M107.2 367.8h.9M97.5 367.0h.9M107.0 362.6h.9M104.8 361.5h.9M104.9 361.0h.9M97.7 360.2h.9M103.4 359.7h.9M105.4 364.1h.9M104.8 360.5h.9M100.3 364.3h.9M100.9 360.1h.9M103.9 366.3h.9M108.2 360.5h.9M100.8 364.5h.9M108.0 364.3h.9M98.7 363.1h.9M103.5 360.8h.9M108.7 365.1h.9M99.2 365.7h.9M104.4 364.5h.9M110.6 363.3h.9M98.2 364.1h.9M95.4 363.1h.9M107.3 362.3h.9M101.2 357.4h.9M102.9 362.6h.9M103.4 365.7h.9M108.0 360.2h.9M102.0 368.4h.9M107.0 360.1h.9M106.1 358.2h.9M103.1 364.1h.9M107.2 360.6h.9M104.3 363.9h.9M102.8 360.4h.9M114.9 360.6h.9M95.3 364.9h.9M98.6 364.4h.9M99.1 366.4h.9M101.5 360.4h.9M103.8 361.6h.9M102.2 366.0h.9M112.0 363.5h.9M101.1 365.1h.9M98.9 360.1h.9M103.2 362.9h.9M101.4 361.6h.9M101.2 361.9h.9M106.7 356.5h.9M104.3 355.5h.9M107.5 364.1h.9M98.9 366.0h.9M105.5 357.1h.9M103.1 361.2h.9M100.6 363.2h.9M96.9 362.3h.9M102.8 363.9h.9M98.5 362.4h.9M105.9 357.2h.9M104.9 360.5h.9M105.0 363.1h.9M114.0 356.3h.9M108.0 363.2h.9M95.1 367.8h.9M105.4 363.5h.9M103.9 363.8h.9M103.9 361.8h.9M101.1 364.5h.9M106.7 359.0h.9M97.8 361.6h.9M105.5 366.1h.9M103.8 365.2h.9M106.7 357.9h.9M101.6 362.0h.9M100.9 360.6h.9M106.1 357.7h.9M103.7 361.0h.9M96.2 366.6h.9M106.8 361.3h.9M98.8 362.7h.9M106.5 354.5h.9M103.8 368.8h.9M105.3 358.0h.9M107.1 361.1h.9M99.1 365.9h.9M105.6 362.0h.9M102.8 364.9h.9M102.0 355.3h.9M103.1 359.5h.9M101.1 360.7h.9M103.2 358.0h.9M104.0 357.0h.9M100.5 365.6h.9M107.3 357.0h.9M103.4 365.5h.9M98.7 366.2h.9M104.8 360.6h.9M105.1 357.3h.9M97.4 362.0h.9M104.2 359.6h.9M101.6 360.6h.9M104.1 359.5h.9M102.4 362.5h.9M104.6 360.8h.9M103.8 361.8h.9M103.3 365.9h.9M105.2 367.8h.9M105.9 361.4h.9M107.9 360.5h.9M104.4 361.3h.9M108.2 363.6h.9M106.4 363.3h.9M101.2 363.1h.9M100.3 362.5h.9M108.1 362.5h.9M105.8 364.6h.9M96.2 362.8h.9M98.9 364.7h.9M107.6 355.3h.9M103.7 359.9h.9M96.2 365.6h.9M104.8 356.8h.9M106.9 356.4h.9M105.6 362.2h.9M102.9 356.2h.9M102.3 361.4h.9M101.0 363.8h.9M104.1 367.3h.9M113.0 364.1h.9M113.3 356.9h.9M102.4 361.8h.9M97.2 365.0h.9M102.7 365.7h.9M101.9 366.9h.9M102.0 364.9h.9M96.4 365.1h.9M102.8 359.0h.9M100.5 366.2h.9M103.2 360.4h.9M96.9 367.0h.9M103.2 366.3h.9M98.2 359.1h.9M100.5 362.4h.9M100.9 366.2h.9M100.9 365.7h.9M100.8 368.6h.9M100.6 366.6h.9M100.3 368.1h.9M100.8 365.5h.9M101.6 360.2h.9M110.5 359.5h.9M106.7 363.3h.9M100.7 365.9h.9M97.6 364.3h.9M107.5 358.7h.9M103.0 358.4h.9M104.4 362.1h.9M95.5 364.0h.9M100.6 361.4h.9M103.8 363.9h.9M108.5 362.9h.9M102.7 362.7h.9M103.3 356.0h.9M102.9 360.2h.9M102.9 360.3h.9M103.6 364.0h.9M100.8 361.0h.9M100.2 362.3h.9M101.5 359.3h.9M105.5 359.8h.9M107.6 367.7h.9M103.5 364.7h.9M102.0 363.9h.9M107.9 358.2h.9M105.2 357.8h.9M105.9 364.6h.9M102.5 362.4h.9M101.4 364.6h.9M105.0 362.6h.9M102.4 362.8h.9M107.7 353.2h.9M99.6 366.1h.9M104.3 367.3h.9M103.1 362.5h.9M99.0 362.9h.9M101.6 363.3h.9M98.9 362.7h.9M101.7 357.0h.9M102.0 361.5h.9M113.5 359.2h.9M98.9 366.7h.9M105.6 358.5h.9M101.2 361.8h.9M104.5 361.9h.9M101.7 364.1h.9M108.7 362.6h.9M107.5 363.0h.9M96.2 360.6h.9M102.5 367.4h.9M101.6 357.4h.9M96.8 368.3h.9M103.7 364.8h.9M105.0 362.0h.9M103.2 359.0h.9M104.9 363.4h.9M110.0 358.8h.9M101.3 367.0h.9M108.0 351.8h.9M111.7 360.1h.9M102.2 362.8h.9M108.4 359.8h.9M104.4 364.5h.9M100.6 359.4h.9M108.7 357.6h.9M106.6 354.6h.9M96.7 362.7h.9M106.3 361.9h.9M102.4 361.7h.9M103.9 359.0h.9M98.4 362.9h.9M105.2 363.4h.9M103.7 363.0h.9M99.4 357.2h.9M101.7 361.1h.9M108.7 357.9h.9M109.1 351.9h.9M97.2 365.8h.9M105.1 362.7h.9M101.9 359.3h.9M101.1 364.4h.9M104.1 362.7h.9M109.1 359.0h.9M105.3 362.6h.9M99.3 362.7h.9M103.3 360.0h.9M104.9 364.9h.9M107.5 356.1h.9M102.8 368.2h.9M103.6 362.8h.9M104.0 360.7h.9M105.7 362.8h.9M95.7 361.5h.9M108.6 359.4h.9M104.4 368.0h.9M103.2 363.7h.9M98.8 363.0h.9M104.2 361.4h.9M110.9 362.8h.9M100.8 365.8h.9M96.7 363.1h.9M104.9 365.4h.9M103.2 362.1h.9M102.9 362.1h.9M97.1 366.3h.9M104.8 359.5h.9M105.6 356.7h.9M103.8 364.8h.9M106.1 360.4h.9M99.6 366.0h.9M103.5 361.1h.9M111.6 359.8h.9M104.6 361.4h.9M112.0 361.7h.9M104.5 363.4h.9M102.3 363.1h.9M100.0 367.4h.9M108.7 361.9h.9M97.9 364.7h.9M100.7 360.7h.9M101.5 363.0h.9M104.3 366.1h.9M103.3 364.4h.9M97.3 364.3h.9M98.5 363.3h.9M109.9 357.4h.9M103.5 359.9h.9M103.1 365.5h.9M101.8 362.8h.9M104.3 362.2h.9M100.2 367.1h.9M107.6 359.7h.9M106.5 359.8h.9M103.1 366.7h.9M106.8 363.2h.9M102.5 357.6h.9M101.5 362.7h.9M107.1 358.8h.9M102.8 360.8h.9M99.9 362.5h.9M109.5 355.4h.9M102.4 360.3h.9M104.9 367.4h.9M109.1 359.9h.9M98.1 362.3h.9M101.9 365.6h.9M107.0 357.0h.9M102.0 361.9h.9M101.4 366.8h.9M102.6 362.5h.9M102.0 363.7h.9M101.9 362.0h.9M104.8 362.9h.9M103.5 364.4h.9M110.0 359.8h.9M104.5 362.3h.9M109.8 361.2h.9M103.7 356.3h.9M110.1 363.1h.9M102.7 368.1h.9M108.0 363.5h.9M103.8 362.9h.9M109.6 359.3h.9M100.1 364.3h.9M104.7 366.5h.9M99.4 361.3h.9M109.0 365.4h.9M102.5 360.4h.9M105.3 359.8h.9M107.3 360.7h.9M105.6 363.6h.9M100.3 362.5h.9M97.9 366.9h.9M96.6 365.2h.9M99.6 368.2h.9M100.2 359.0h.9M100.0 363.6h.9M105.0 363.9h.9M97.8 368.7h.9M96.8 357.8h.9M103.9 361.5h.9M110.3 354.3h.9M99.5 364.8h.9M102.7 360.8h.9M103.0 363.5h.9M107.5 364.3h.9M106.6 364.1h.9M101.4 362.3h.9M106.8 363.2h.9M106.4 360.0h.9M110.3 362.1h.9M97.5 366.6h.9M97.8 361.5h.9M98.2 365.7h.9M103.6 357.8h.9M103.6 362.9h.9M110.0 368.2h.9M108.7 357.3h.9M104.3 360.3h.9M102.6 365.4h.9M105.8 358.3h.9M104.8 354.8h.9M101.3 357.9h.9M105.9 362.3h.9M101.1 366.4h.9M102.8 362.9h.9M102.5 362.8h.9M100.8 366.5h.9M100.6 363.1h.9M103.4 366.5h.9M102.6 367.2h.9M98.2 362.9h.9M109.7 364.5h.9M109.8 362.7h.9M109.6 360.2h.9M107.7 361.1h.9M102.7 365.9h.9M99.4 359.8h.9M99.1 358.7h.9M96.2 368.0h.9M96.3 365.3h.9M103.5 365.5h.9M104.1 357.1h.9M100.9 359.0h.9M100.9 361.4h.9M102.8 361.4h.9M105.3 362.3h.9M101.7 361.4h.9M109.7 360.3h.9M99.5 362.9h.9M100.6 365.0h.9M101.2 366.3h.9M102.2 365.4h.9M103.9 366.5h.9M105.2 361.2h.9M101.7 361.4h.9M109.3 354.9h.9M95.7 359.4h.9M104.1 364.6h.9M103.2 363.9h.9M97.7 364.1h.9M97.4 363.1h.9M103.4 358.5h.9M107.5 354.3h.9M104.6 360.2h.9M102.7 361.7h.9M101.7 354.8h.9M101.0 367.1h.9M101.4 360.8h.9M105.5 363.0h.9M107.1 365.2h.9M105.1 366.4h.9M100.3 362.2h.9M105.2 364.8h.9M107.0 364.1h.9M95.8 364.7h.9M104.2 363.1h.9M100.8 360.3h.9M103.4 363.1h.9M98.0 361.8h.9M98.8 362.9h.9M102.5 362.9h.9M100.8 366.0h.9M101.0 362.2h.9M99.5 362.6h.9M104.6 360.6h.9M99.2 362.2h.9M103.9 363.6h.9M101.2 358.2h.9M103.9 362.3h.9M107.2 357.4h.9M103.9 360.4h.9M102.4 364.9h.9M107.2 361.7h.9M109.3 362.5h.9M95.4 365.1h.9M105.1 360.4h.9M102.2 362.9h.9M97.9 366.9h.9M109.6 361.1h.9M104.9 360.6h.9M111.0 358.6h.9M99.8 364.8h.9M101.1 361.9h.9M97.1 367.0h.9M103.1 358.0h.9M96.3 366.7h.9M101.6 360.2h.9M107.3 360.9h.9M104.9 368.4h.9M106.6 364.6h.9M103.4 360.7h.9M105.8 360.4h.9M102.4 365.3h.9M98.0 366.8h.9M104.7 361.8h.9M102.6 364.8h.9M99.8 362.0h.9M98.6 355.1h.9M107.6 364.5h.9M96.5 362.7h.9M99.6 365.2h.9M104.3 361.5h.9M105.2 360.9h.9M103.8 359.4h.9M97.0 366.5h.9M107.1 363.8h.9M102.4 366.5h.9M97.1 366.3h.9M107.1 362.6h.9M102.5 360.9h.9M95.7 364.6h.9M102.2 354.9h.9M100.4 359.5h.9M103.9 361.6h.9M103.4 364.8h.9M99.8 367.7h.9M104.5 367.3h.9M103.7 359.8h.9M98.7 363.8h.9M105.9 359.9h.9M103.6 359.7h.9M102.1 361.5h.9M104.2 362.4h.9M99.7 365.9h.9M99.8 358.7h.9M102.4 362.1h.9M99.2 360.4h.9M108.7 365.1h.9M103.8 367.5h.9M105.7 360.1h.9M109.8 358.2h.9M108.5 362.7h.9M111.0 363.0h.9M99.6 360.3h.9M109.3 359.2h.9M101.3 363.7h.9M102.1 359.3h.9M103.7 366.8h.9M103.3 362.4h.9M102.9 362.6h.9M104.2 358.4h.9M108.9 364.5h.9M97.3 361.7h.9M97.9 361.9h.9M104.1 361.6h.9M103.4 357.7h.9M104.5 359.5h.9M110.4 362.0h.9M103.1 362.2h.9M97.4 364.3h.9M104.7 364.9h.9M110.1 361.7h.9M110.7 363.2h.9M102.7 362.5h.9M103.6 359.4h.9M104.3 367.1h.9M105.3 356.3h.9M102.5 358.2h.9M101.2 359.3h.9M109.0 367.9h.9M109.0 360.8h.9M103.1 365.7h.9M100.7 358.1h.9M100.6 359.6h.9M98.5 364.6h.9M98.2 362.3h.9M101.9 363.0h.9M100.2 365.0h.9M104.1 362.3h.9M101.0 363.2h.9M99.4 364.0h.9M101.5 362.1h.9M104.4 364.9h.9M102.1 359.7h.9M108.3 361.7h.9M101.2 365.6h.9M102.4 361.9h.9M99.4 363.1h.9M111.1 365.8h.9M104.1 365.5h.9M107.7 368.1h.9M101.7 368.5h.9M105.3 360.7h.9M99.3 361.3h.9M100.6 362.2h.9M101.8 365.4h.9M99.5 352.7h.9M105.8 361.7h.9M106.2 365.2h.9M107.6 361.2h.9M99.4 364.4h.9M100.7 362.3h.9M102.8 357.2h.9M105.5 364.6h.9M98.0 362.9h.9M101.9 364.2h.9M106.9 361.3h.9M103.3 368.3h.9M102.5 364.0h.9M98.5 365.0h.9M101.6 362.5h.9M105.6 359.1h.9M106.9 362.5h.9M96.4 367.7h.9M104.5 362.0h.9M101.5 356.1h.9M99.3 361.0h.9M110.0 366.4h.9M105.5 359.9h.9M98.7 364.2h.9M98.9 357.6h.9M103.6 360.4h.9M97.1 361.4h.9M102.1 365.1h.9M104.8 363.8h.9M97.7 365.6h.9M103.5 365.4h.9M104.5 360.4h.9M100.3 368.4h.9M104.3 361.3h.9M105.4 364.6h.9M104.5 368.5h.9M100.2 361.6h.9M106.1 362.7h.9M101.5 362.4h.9M103.6 362.6h.9M103.0 363.3h.9M102.8 362.2h.9M95.0 364.7h.9M106.8 363.5h.9M104.6 357.8h.9M103.3 360.0h.9M105.2 360.2h.9M101.2 358.6h.9M102.2 363.7h.9M104.7 360.5h.9M99.9 359.0h.9M100.5 360.4h.9M101.6 364.1h.9M100.7 359.1h.9M99.8 366.1h.9M103.7 364.1h.9M105.8 362.5h.9M104.5 356.7h.9M106.7 358.9h.9M104.8 365.1h.9M108.5 359.6h.9M108.9 358.3h.9M101.0 360.7h.9M99.6 364.5h.9M100.5 357.4h.9M101.4 366.0h.9M105.6 362.3h.9M104.8 358.6h.9M103.6 364.1h.9M100.2 354.8h.9M101.2 359.1h.9M102.0 363.6h.9M103.6 366.8h.9M103.8 357.7h.9M104.7 361.6h.9M100.0 363.5h.9M108.3 358.4h.9M105.8 359.1h.9M105.5 366.4h.9M96.6 361.3h.9M105.9 356.5h.9M103.4 360.9h.9M103.6 366.2h.9M96.8 364.0h.9M101.6 358.7h.9M97.6 363.6h.9M98.4 365.5h.9M105.7 364.8h.9M104.2 357.0h.9M113.8 357.9h.9M103.0 360.6h.9M108.6 366.1h.9M101.1 361.9h.9M98.4 363.4h.9M104.2 360.4h.9M107.8 352.1h.9M100.7 366.5h.9M106.9 355.3h.9M105.1 359.9h.9M102.9 357.4h.9M103.6 360.2h.9M103.4 360.7h.9M100.5 361.4h.9M103.4 366.6h.9M104.5 358.1h.9M100.0 362.2h.9M105.3 360.3h.9M100.2 361.5h.9M105.0 367.7h.9M99.5 365.7h.9M104.4 359.3h.9M102.0 363.4h.9M101.6 359.9h.9M102.6 363.8h.9M104.2 357.5h.9M96.0 366.8h.9M107.7 362.1h.9M106.8 362.2h.9M104.1 361.9h.9M96.5 364.8h.9M106.1 358.7h.9M102.9 362.5h.9M109.3 362.3h.9M101.0 364.2h.9M102.1 359.6h.9M106.7 363.0h.9M101.3 360.5h.9M102.2 359.8h.9M99.2 363.0h.9M103.8 364.1h.9M104.2 365.2h.9M109.3 361.8h.9M106.6 358.9h.9M97.6 366.1h.9M105.9 364.5h.9M104.4 359.5h.9M103.3 358.5h.9M98.4 363.1h.9M110.2 366.2h.9M109.7 359.4h.9M104.0 361.4h.9M99.7 365.4h.9M98.4 359.9h.9M98.5 360.2h.9M106.4 360.9h.9M96.2 366.8h.9M107.3 360.0h.9M102.2 360.4h.9M104.3 356.7h.9M105.9 366.3h.9M112.2 355.6h.9M105.8 365.5h.9M102.2 360.2h.9M104.4 365.4h.9M103.4 367.4h.9M103.0 359.5h.9M103.3 363.9h.9M99.0 365.7h.9M104.1 365.8h.9M97.6 362.8h.9M107.3 364.8h.9M101.4 363.0h.9M98.3 360.4h.9M105.5 364.6h.9M105.6 365.4h.9M103.3 362.1h.9M97.0 363.6h.9M97.8 366.1h.9M105.0 366.9h.9M111.8 355.8h.9M103.9 365.3h.9M104.1 368.2h.9M105.2 358.8h.9M99.5 365.0h.9M107.3 361.2h.9M100.5 364.1h.9M103.1 366.1h.9M99.8 358.2h.9M98.2 362.0h.9M99.9 358.8h.9M99.3 362.3h.9M101.4 368.5h.9M109.0 357.2h.9M104.1 360.4h.9M100.7 361.0h.9M104.6 363.0h.9M100.7 361.9h.9M107.4 358.5h.9M106.1 358.9h.9M101.6 362.1h.9M102.8 358.5h.9M103.2 354.6h.9M99.0 367.0h.9M98.5 363.9h.9M102.4 360.5h.9M99.4 362.7h.9M102.9 364.5h.9M106.3 358.6h.9M102.1 362.6h.9M105.3 359.9h.9M109.9 364.0h.9M101.3 355.1h.9M108.6 356.2h.9M99.8 367.5h.9M98.5 359.8h.9M103.7 359.5h.9M102.4 358.6h.9M97.3 356.6h.9M108.0 360.4h.9M106.3 363.3h.9M99.2 364.3h.9M102.2 358.6h.9M102.7 360.6h.9M98.1 368.7h.9M104.3 361.2h.9M97.7 360.8h.9M96.2 366.9h.9M108.6 359.6h.9M100.5 357.1h.9M100.0 360.4h.9M102.1 365.3h.9M100.2 362.5h.9M111.4 359.5h.9M104.8 363.6h.9M106.3 358.8h.9M106.5 356.5h.9M111.3 359.7h.9M106.0 361.3h.9M103.7 359.7h.9M103.3 359.7h.9M107.6 356.4h.9M105.4 362.3h.9M104.0 358.1h.9M102.4 366.0h.9M107.4 363.0h.9M94.8 362.5h.9M105.5 358.3h.9M103.6 363.7h.9M105.6 360.3h.9M104.5 360.9h.9M94.8 363.1h.9M105.7 367.3h.9M102.9 357.2h.9M99.9 364.4h.9M106.7 367.0h.9M102.8 362.8h.9M109.5 367.0h.9M107.2 361.0h.9M98.6 364.0h.9M106.1 363.8h.9M103.0 360.0h.9M102.9 362.3h.9M102.4 364.2h.9M107.0 359.0h.9M99.9 364.6h.9M104.7 365.1h.9M97.0 360.3h.9M104.3 361.5h.9M98.0 364.9h.9M98.0 361.4h.9M102.8 365.4h.9M98.6 367.4h.9M107.3 359.2h.9M98.7 364.3h.9M109.3 358.5h.9M106.2 360.9h.9M103.4 363.6h.9M105.5 361.1h.9M103.8 362.6h.9M112.3 358.2h.9M105.0 365.4h.9M100.7 365.8h.9M104.5 359.9h.9M101.7 364.4h.9M100.7 361.5h.9M100.9 367.2h.9M102.8 361.7h.9M106.0 363.9h.9M101.8 355.8h.9M102.7 366.7h.9M101.2 364.9h.9M108.1 363.5h.9M109.5 361.1h.9M102.7 365.4h.9M106.5 364.8h.9M97.4 366.2h.9M98.0 362.9h.9M105.9 361.0h.9M96.2 364.4h.9M114.0 358.5h.9M107.0 358.6h.9M109.9 356.4h.9M102.7 362.1h.9M97.7 361.0h.9M99.6 362.2h.9M99.6 359.3h.9M106.4 357.1h.9M99.0 362.2h.9M99.9 362.5h.9M109.2 367.3h.9M98.3 363.4h.9M100.6 366.3h.9M108.5 362.3h.9M112.9 360.4h.9M96.6 363.3h.9M100.3 364.8h.9M103.9 357.7h.9M102.9 364.4h.9M100.9 362.3h.9M98.0 358.8h.9M106.4 358.9h.9M101.0 365.1h.9M100.5 366.0h.9M103.2 361.9h.9M108.8 364.4h.9M103.8 364.6h.9M95.2 367.3h.9M98.1 363.3h.9M107.6 362.1h.9M99.4 350.7h.9M101.2 360.2h.9M107.2 368.4h.9M103.4 359.1h.9M100.7 361.1h.9M96.1 360.5h.9M118.7 352.3h.9M96.1 364.6h.9M112.4 366.8h.9M104.6 360.3h.9M99.0 358.4h.9M97.7 359.9h.9M112.8 362.2h.9M110.3 358.9h.9M96.1 363.3h.9M109.4 355.7h.9M115.9 355.3h.9M101.6 364.9h.9M111.5 363.7h.9M97.0 361.9h.9M108.5 359.6h.9M106.5 360.8h.9M109.9 362.7h.9M116.2 360.3h.9M102.5 362.0h.9M122.7 355.6h.9M106.9 357.5h.9M104.9 359.3h.9M99.6 360.6h.9M115.4 363.5h.9M106.6 356.1h.9M99.9 358.8h.9M100.1 359.2h.9M106.1 355.3h.9M105.7 358.6h.9M99.0 358.1h.9M108.6 358.8h.9M112.9 355.8h.9M102.8 351.9h.9M101.8 366.1h.9M101.9 364.4h.9M108.7 363.2h.9M104.3 363.3h.9M108.0 363.1h.9M112.5 357.4h.9M103.3 358.9h.9M103.1 356.5h.9M114.9 367.9h.9M104.3 359.6h.9M105.5 361.2h.9M103.1 357.3h.9M111.0 359.3h.9M107.8 362.6h.9M97.4 363.3h.9M111.3 355.5h.9M107.8 363.7h.9M113.0 357.0h.9M108.6 354.5h.9M104.7 364.7h.9M98.4 363.2h.9M111.6 359.4h.9M113.3 357.0h.9M99.3 364.8h.9M104.6 360.1h.9M108.1 357.9h.9M104.2 363.4h.9M107.6 361.9h.9M102.5 356.6h.9M100.8 366.5h.9M113.1 353.5h.9M109.3 362.0h.9M99.8 361.3h.9M105.2 364.2h.9M100.6 363.9h.9M106.0 351.6h.9M100.9 366.8h.9M106.8 358.9h.9M95.6 362.2h.9M97.9 358.9h.9M104.1 356.9h.9M109.2 363.1h.9M99.4 363.6h.9M117.9 360.5h.9M102.5 358.8h.9M110.2 366.6h.9M98.4 364.2h.9M98.3 362.2h.9M97.2 363.2h.9M102.1 365.6h.9M99.3 366.2h.9M115.7 360.2h.9M104.5 361.7h.9M106.8 356.3h.9M114.9 357.7h.9M115.2 356.6h.9M97.6 362.0h.9M97.9 362.3h.9M99.9 358.9h.9M114.3 353.3h.9M96.1 361.2h.9M98.2 362.0h.9M106.8 357.4h.9M110.5 355.3h.9M98.5 354.6h.9M112.5 360.1h.9M106.0 358.6h.9M99.4 364.1h.9M108.6 355.0h.9M113.4 365.2h.9M113.4 359.3h.9M108.5 359.8h.9M113.7 360.5h.9M105.0 363.8h.9M107.1 363.9h.9M116.9 352.3h.9M104.3 358.9h.9M99.7 363.4h.9M96.9 364.3h.9M101.6 362.3h.9M98.8 363.4h.9M97.4 361.2h.9M103.8 361.2h.9M95.9 366.9h.9M104.2 360.7h.9M105.0 362.8h.9M110.3 366.1h.9M111.9 364.1h.9M115.4 354.8h.9M103.4 357.1h.9M95.9 354.3h.9M110.2 364.5h.9M107.8 360.0h.9M102.2 359.3h.9M110.5 360.0h.9M118.1 354.8h.9M107.6 362.9h.9M102.3 357.9h.9M106.5 364.4h.9M99.0 362.8h.9M118.3 359.2h.9M97.1 364.2h.9M98.3 360.9h.9M111.9 360.1h.9M103.8 365.9h.9M97.0 368.6h.9M111.3 362.4h.9M112.8 365.6h.9M109.4 361.1h.9M111.7 360.2h.9M117.4 357.7h.9M108.3 362.7h.9M110.2 368.0h.9M105.9 363.0h.9M109.9 364.9h.9M116.6 365.1h.9M109.9 365.7h.9M101.1 361.9h.9M104.7 358.8h.9M118.2 364.0h.9M96.9 365.5h.9M101.2 359.9h.9M100.8 368.0h.9M113.9 356.9h.9M99.4 357.1h.9M102.4 361.3h.9M104.8 356.1h.9M108.9 360.1h.9M109.3 360.4h.9M97.6 359.8h.9M97.6 362.4h.9M95.7 357.4h.9M112.8 351.4h.9M103.5 364.5h.9M106.4 364.6h.9M105.2 364.5h.9M95.3 360.8h.9M97.7 360.8h.9M118.0 364.2h.9M102.6 356.9h.9M108.5 361.9h.9M98.4 360.2h.9M122.3 361.8h.9M105.7 361.4h.9M101.9 360.3h.9M107.3 357.1h.9M111.8 362.1h.9M102.8 364.8h.9M109.5 356.0h.9M107.0 362.6h.9M106.5 357.1h.9M102.4 359.6h.9M107.7 361.5h.9M112.4 365.0h.9M105.1 363.0h.9M102.9 363.9h.9M123.5 357.0h.9M109.7 360.0h.9M109.4 363.0h.9M95.5 363.0h.9M112.3 360.9h.9M113.0 366.6h.9M107.3 366.2h.9M101.9 367.1h.9M100.6 363.3h.9M106.2 358.1h.9M102.5 357.0h.9M112.1 356.5h.9M95.1 354.9h.9M104.0 360.2h.9M115.3 360.0h.9M95.0 363.0h.9M111.6 360.2h.9M108.1 361.5h.9M95.8 363.4h.9M100.5 364.9h.9M98.1 363.1h.9M106.5 362.2h.9M108.7 360.9h.9M111.9 363.2h.9M100.2 357.5h.9M108.5 353.2h.9M103.5 359.6h.9M108.4 360.8h.9M104.6 363.7h.9M104.9 358.4h.9M102.8 362.2h.9M108.4 360.7h.9M105.8 364.0h.9M98.6 360.2h.9M111.6 363.3h.9M110.1 359.6h.9M104.5 360.7h.9M112.8 358.5h.9M104.7 358.5h.9M104.2 358.9h.9M102.3 357.4h.9M113.5 363.0h.9M117.0 361.3h.9M103.7 360.9h.9M101.0 362.1h.9M112.1 360.5h.9M111.0 366.3h.9M109.3 364.1h.9M95.7 361.1h.9M107.1 363.6h.9M106.4 354.7h.9M103.2 359.5h.9M108.1 357.9h.9M104.1 362.6h.9M107.8 358.8h.9M105.1 358.2h.9M103.3 358.6h.9M116.4 354.3h.9M104.9 356.1h.9M109.2 356.9h.9M111.3 361.8h.9M99.0 362.9h.9M104.0 364.2h.9M99.5 368.3h.9M104.1 364.8h.9M97.5 355.1h.9M110.9 358.0h.9M105.2 366.9h.9M97.1 362.7h.9M108.3 362.2h.9M98.7 362.8h.9M95.8 357.0h.9M107.9 362.4h.9M105.5 360.5h.9M100.4 357.9h.9M109.9 362.0h.9M108.2 367.3h.9M106.3 360.3h.9M111.9 355.4h.9M107.2 360.4h.9M127.7 357.4h.9M116.4 359.5h.9M130.8 363.0h.9M137.2 358.4h.9M127.3 361.3h.9M133.6 359.3h.9M133.3 359.2h.9M130.9 359.4h.9M131.4 359.0h.9M131.9 362.2h.9M132.3 354.9h.9M133.3 355.8h.9M138.1 358.4h.9M130.6 354.9h.9M128.1 356.7h.9M137.9 356.1h.9M129.3 359.3h.9M150.1 354.8h.9M132.4 358.8h.9M149.0 358.0h.9M136.2 363.0h.9M136.6 354.8h.9M141.0 354.7h.9M137.4 354.8h.9M133.3 356.1h.9M131.7 356.8h.9M127.5 361.4h.9M127.2 356.9h.9M140.6 359.1h.9M116.4 358.8h.9M147.0 361.6h.9M141.2 355.4h.9M132.0 357.0h.9M147.1 359.8h.9M148.1 364.2h.9M142.5 357.6h.9M116.3 356.9h.9M119.4 361.6h.9M139.0 360.0h.9M125.3 359.4h.9M137.1 365.4h.9M131.1 357.2h.9M137.0 362.0h.9M131.7 365.5h.9M134.1 358.2h.9M121.5 366.5h.9M133.7 361.9h.9M127.4 360.6h.9M141.7 364.4h.9M129.0 360.3h.9M137.3 351.9h.9M138.3 360.6h.9M132.8 359.2h.9M127.7 355.0h.9M134.9 362.0h.9M132.9 358.0h.9M139.6 357.1h.9M126.9 366.5h.9M125.2 363.2h.9M139.0 364.7h.9M135.6 365.4h.9M142.6 355.9h.9M143.8 365.8h.9M120.0 356.2h.9M135.6 356.5h.9M134.9 360.9h.9M134.3 358.7h.9M140.7 365.3h.9M148.1 359.0h.9M132.4 361.8h.9M132.7 359.7h.9M138.6 357.5h.9M139.3 359.1h.9M132.8 358.4h.9M140.1 360.4h.9M143.8 359.5h.9M129.7 362.4h.9M143.0 359.1h.9M127.9 360.6h.9M143.2 365.1h.9M127.0 361.2h.9M127.3 368.4h.9M123.4 360.0h.9M131.3 360.8h.9M133.2 361.7h.9M132.5 363.5h.9M130.8 362.2h.9M131.7 359.7h.9M129.8 359.1h.9M130.6 358.5h.9M134.5 359.9h.9M129.3 355.0h.9M134.6 356.0h.9M125.4 356.0h.9M123.5 364.1h.9M139.1 360.8h.9M127.5 362.9h.9M134.1 359.1h.9M125.9 360.7h.9M122.2 357.0h.9M123.2 353.5h.9M126.8 358.9h.9M142.9 358.4h.9M128.0 357.7h.9M135.0 355.5h.9M130.4 361.6h.9M134.1 362.3h.9M124.2 361.3h.9M141.3 363.3h.9M134.8 357.2h.9M129.9 361.6h.9M139.2 359.7h.9M121.8 358.0h.9M127.9 359.7h.9M135.8 356.9h.9M145.0 359.0h.9M129.5 359.6h.9M146.8 354.5h.9M142.1 364.7h.9M126.7 362.7h.9M137.2 362.4h.9M141.8 365.3h.9M126.1 361.7h.9M144.4 361.9h.9M121.8 364.7h.9M143.7 358.5h.9M141.9 355.8h.9M145.8 363.0h.9M139.7 359.2h.9M135.5 363.1h.9M121.6 361.6h.9M146.6 357.9h.9M138.3 359.7h.9M139.8 356.5h.9M129.2 359.9h.9M116.9 358.9h.9M137.1 362.4h.9M126.9 365.6h.9M133.3 360.7h.9M137.7 359.0h.9M123.8 360.0h.9M136.9 359.6h.9M127.8 358.3h.9M129.2 360.5h.9M139.2 356.4h.9M122.6 357.0h.9M129.2 360.5h.9M131.7 362.7h.9M141.1 361.6h.9M132.8 358.9h.9M138.5 363.4h.9M125.2 360.7h.9M122.2 365.0h.9M132.3 361.4h.9M145.1 360.0h.9M137.3 356.1h.9M130.2 363.7h.9M128.7 362.8h.9M143.5 364.3h.9M138.2 358.2h.9M122.7 356.2h.9M118.7 363.8h.9M147.9 360.1h.9M134.6 352.2h.9M133.6 361.9h.9M136.1 355.9h.9M132.8 364.2h.9M132.3 363.2h.9M133.0 353.6h.9M118.5 360.6h.9M131.0 359.7h.9M129.9 361.7h.9M141.4 356.2h.9M140.8 355.5h.9M130.6 362.6h.9M132.5 353.6h.9M134.0 359.5h.9M148.2 361.5h.9M141.4 362.3h.9M128.4 360.8h.9M144.3 367.2h.9M126.5 363.4h.9M141.9 359.5h.9M134.2 359.4h.9M124.7 357.3h.9M130.2 360.4h.9M132.0 366.4h.9M141.5 362.2h.9M143.2 359.7h.9M120.4 355.8h.9M129.8 351.9h.9M141.5 359.7h.9M137.2 357.5h.9M137.3 361.1h.9M138.3 356.4h.9M139.2 362.3h.9M143.2 359.3h.9M130.5 357.8h.9M116.7 360.4h.9M137.1 358.4h.9M128.7 359.6h.9M121.0 357.2h.9M133.8 361.3h.9M127.8 354.4h.9M132.9 359.5h.9M118.1 361.2h.9M137.3 362.6h.9M133.0 361.5h.9M134.8 363.9h.9M127.9 360.5h.9M127.3 367.8h.9M140.5 358.3h.9M138.1 353.5h.9M131.4 352.9h.9M124.4 353.6h.9M137.2 359.8h.9M129.6 354.3h.9M139.7 355.3h.9M128.1 361.8h.9M134.7 354.1h.9M136.0 360.0h.9M129.3 362.4h.9M137.3 363.5h.9M123.1 360.3h.9M143.1 355.6h.9M130.2 356.5h.9M130.2 364.2h.9M132.0 364.7h.9M130.7 358.3h.9M128.1 362.4h.9M134.7 362.1h.9M128.7 358.5h.9M131.1 363.0h.9M134.6 357.0h.9M131.8 361.6h.9M127.4 361.5h.9M139.2 359.4h.9M147.8 358.3h.9M128.9 364.5h.9M139.8 357.4h.9M128.1 356.8h.9M131.3 355.3h.9M125.3 358.9h.9M129.0 359.1h.9M127.7 357.1h.9M132.6 363.3h.9M130.9 360.1h.9M149.4 362.0h.9M126.9 355.2h.9M137.9 358.9h.9M139.5 364.9h.9M120.3 362.9h.9M120.7 361.0h.9M139.8 363.6h.9M124.7 362.0h.9M131.1 360.8h.9M113.8 360.7h.9M125.4 361.2h.9M131.6 358.6h.9M141.8 365.6h.9M148.5 367.9h.9M128.9 360.3h.9M144.3 360.0h.9M133.5 367.4h.9M131.8 361.3h.9M131.9 361.8h.9M131.8 361.4h.9M122.3 360.0h.9M133.0 358.9h.9M125.2 362.3h.9M136.1 355.4h.9M153.7 363.8h.9M123.9 364.6h.9M145.9 359.6h.9M125.3 358.6h.9M131.2 366.2h.9M141.3 359.7h.9M137.4 358.4h.9M142.5 363.2h.9M143.7 356.8h.9M131.6 353.4h.9M129.7 360.0h.9M138.3 358.5h.9M137.4 357.6h.9M146.3 358.0h.9M117.8 357.7h.9M141.3 359.2h.9M137.4 352.9h.9M131.5 362.5h.9M127.7 358.8h.9M127.8 358.7h.9M127.9 358.9h.9M145.7 362.9h.9M133.9 361.0h.9M131.7 367.0h.9M134.1 353.1h.9M137.9 362.7h.9M139.3 363.2h.9M133.6 350.8h.9M132.3 361.8h.9M128.0 359.5h.9M133.4 359.5h.9M132.7 359.9h.9M129.2 361.1h.9M131.5 358.7h.9M143.0 357.8h.9M139.7 363.2h.9M135.9 360.0h.9M142.7 362.8h.9M134.7 368.5h.9M142.4 355.8h.9M133.7 357.1h.9M144.5 357.9h.9M137.8 359.7h.9M131.5 365.2h.9M125.0 361.2h.9M134.8 363.4h.9M134.9 366.0h.9M125.7 353.4h.9M132.2 358.8h.9M129.4 357.6h.9M135.8 361.3h.9M124.3 356.4h.9M133.7 365.1h.9M148.0 358.6h.9M141.0 357.6h.9M133.6 356.6h.9M145.2 355.9h.9M131.0 359.7h.9M140.0 358.1h.9M136.1 360.9h.9M130.6 358.3h.9M137.5 361.4h.9M151.4 360.9h.9M127.5 363.2h.9M127.3 362.1h.9M146.5 358.4h.9M129.1 363.7h.9M133.0 358.0h.9M130.5 356.9h.9M128.3 362.6h.9M137.4 355.9h.9M126.4 357.5h.9M126.2 354.8h.9M132.0 355.0h.9M137.9 360.9h.9M144.5 357.1h.9M133.6 365.2h.9M140.7 364.6h.9M144.1 361.2h.9M137.3 357.8h.9M140.1 359.9h.9M132.3 359.0h.9M121.9 363.2h.9M139.7 353.9h.9M125.4 359.1h.9M138.1 360.2h.9M127.7 361.0h.9M125.1 361.8h.9M133.0 358.5h.9M124.4 361.6h.9M134.4 356.0h.9M132.4 363.3h.9M132.2 361.0h.9M145.2 359.6h.9M139.9 363.5h.9M132.1 357.5h.9M139.9 354.5h.9M136.8 361.5h.9M131.4 360.0h.9M123.9 358.5h.9M128.5 357.5h.9M148.4 361.6h.9M134.2 362.6h.9M138.0 357.0h.9M146.6 355.6h.9M128.5 361.8h.9M141.9 356.5h.9M114.9 363.4h.9M126.2 364.1h.9M117.6 357.6h.9M133.8 367.2h.9M134.0 359.0h.9M128.4 359.4h.9M129.0 359.4h.9M155.7 361.7h.9M136.9 362.5h.9M137.8 361.0h.9M127.2 357.4h.9M128.0 358.7h.9M135.3 354.9h.9M131.5 356.5h.9M132.6 360.3h.9M131.7 359.8h.9M120.9 357.7h.9M136.6 360.6h.9M135.5 357.5h.9M138.0 359.8h.9M139.1 360.1h.9M147.5 363.2h.9M130.9 363.0h.9M135.4 356.6h.9M144.1 358.8h.9M131.1 354.1h.9M142.5 366.3h.9M130.2 353.0h.9M130.5 359.5h.9M125.8 354.7h.9M132.9 359.9h.9M149.4 360.8h.9M147.6 362.0h.9M134.6 357.8h.9M137.8 362.1h.9M142.5 357.7h.9M125.9 356.6h.9M130.8 357.1h.9M132.5 357.3h.9M119.9 364.8h.9M128.0 362.5h.9M129.2 361.7h.9M131.4 353.3h.9M132.2 359.4h.9M116.8 361.4h.9M137.1 354.2h.9M130.1 362.8h.9M137.3 356.4h.9M138.2 359.8h.9M132.4 360.5h.9M147.1 359.7h.9M121.0 359.4h.9M133.4 361.2h.9M134.3 363.5h.9M144.4 364.8h.9M132.9 364.1h.9M137.8 360.3h.9M135.1 353.4h.9M149.0 356.5h.9M131.2 358.2h.9M127.0 361.6h.9M130.0 363.5h.9M136.8 358.6h.9M144.4 357.9h.9M116.0 359.7h.9M124.0 360.2h.9M144.3 362.2h.9M130.5 362.1h.9M128.1 359.0h.9M130.2 351.8h.9M127.0 358.3h.9M125.6 350.1h.9M134.3 359.2h.9M127.9 368.2h.9M146.6 364.0h.9M114.9 360.5h.9M137.7 367.0h.9M128.4 356.3h.9M146.3 361.3h.9M126.2 361.3h.9M137.4 357.7h.9M146.0 358.2h.9M137.9 362.1h.9M128.9 360.5h.9M132.3 357.9h.9M135.2 359.4h.9M144.7 362.2h.9M134.7 359.2h.9M138.4 357.5h.9M125.3 360.9h.9M134.2 359.4h.9M143.1 360.4h.9M131.5 356.0h.9M130.0 359.6h.9M130.8 358.6h.9M142.4 355.4h.9M137.5 364.8h.9M136.7 360.3h.9M128.2 360.5h.9M120.4 362.3h.9M141.6 364.4h.9M130.4 363.0h.9M140.1 357.8h.9M137.6 360.6h.9M129.2 357.8h.9M125.4 358.9h.9M140.7 361.2h.9M117.6 363.3h.9M116.0 356.0h.9M145.4 362.5h.9M127.4 360.9h.9M135.0 356.6h.9M149.4 359.8h.9M126.0 363.5h.9M132.3 359.6h.9M140.5 361.2h.9M133.5 362.7h.9M127.6 359.9h.9M140.7 360.0h.9M120.7 363.6h.9M141.0 363.5h.9M133.2 367.7h.9M133.6 360.8h.9M128.3 354.1h.9M131.7 355.2h.9M141.5 361.7h.9M135.4 356.7h.9M142.0 355.4h.9M137.9 363.6h.9M130.7 354.6h.9M131.5 354.6h.9M133.9 360.4h.9M130.1 363.6h.9M144.1 362.7h.9M124.8 356.0h.9M146.5 362.6h.9M128.3 356.5h.9M126.8 360.7h.9M133.3 350.0h.9M123.8 355.6h.9M146.1 361.3h.9M145.9 359.6h.9M144.3 361.3h.9M146.9 347.6h.9M143.0 364.5h.9M119.7 362.3h.9M138.6 366.6h.9M128.1 357.9h.9M140.0 363.0h.9M131.4 361.7h.9M130.2 359.1h.9M126.6 361.3h.9M137.9 360.2h.9M141.8 362.2h.9M125.3 359.1h.9M136.4 360.2h.9M137.0 357.5h.9M132.7 358.5h.9M132.0 360.5h.9M142.5 361.1h.9M143.5 361.3h.9M139.1 362.9h.9M138.9 357.6h.9M139.3 357.5h.9M129.2 354.4h.9M133.0 364.0h.9M133.8 366.1h.9M126.6 360.9h.9M139.6 362.0h.9M147.8 357.7h.9M148.9 360.6h.9M131.9 364.4h.9M130.0 360.8h.9M127.5 355.2h.9M138.7 360.9h.9M133.0 359.9h.9M142.3 362.9h.9M125.3 365.0h.9M134.8 360.1h.9M129.0 361.4h.9M135.5 363.1h.9M131.9 357.1h.9M119.6 358.9h.9M139.8 354.7h.9M134.0 360.8h.9M134.8 362.3h.9M132.9 361.1h.9M126.4 361.2h.9M133.8 357.5h.9M139.5 357.4h.9M146.1 364.3h.9M135.2 362.1h.9M129.6 358.7h.9M142.4 362.1h.9M132.0 357.5h.9M131.8 356.7h.9M133.5 361.1h.9M138.2 359.8h.9M124.5 360.7h.9M134.5 367.6h.9M133.2 361.3h.9M130.4 360.4h.9M146.2 366.8h.9M121.8 357.2h.9M133.4 359.5h.9M135.1 358.4h.9M135.2 359.7h.9M144.7 367.6h.9M117.9 353.4h.9M131.1 364.0h.9M127.1 355.6h.9M123.0 354.6h.9M129.1 359.4h.9M136.7 359.7h.9M131.5 358.9h.9M148.1 356.7h.9M122.2 361.9h.9M136.1 355.8h.9M135.9 362.0h.9M138.5 355.8h.9M131.9 360.8h.9M137.5 360.5h.9M131.9 355.0h.9M130.1 360.0h.9M126.9 363.0h.9M130.6 363.0h.9M139.2 362.3h.9M130.2 358.1h.9M139.3 359.7h.9M132.5 357.1h.9M133.9 363.8h.9M143.6 357.8h.9M125.2 356.3h.9M133.3 358.1h.9M140.7 365.7h.9M138.2 354.9h.9M136.8 363.0h.9M144.4 362.7h.9M130.7 358.2h.9M135.0 360.7h.9M147.2 355.5h.9M125.5 361.1h.9M138.3 361.6h.9M138.6 357.7h.9M136.6 360.7h.9M137.4 360.2h.9M128.0 361.8h.9M135.4 362.4h.9M133.4 363.5h.9M137.1 359.8h.9M135.5 362.0h.9M148.0 363.3h.9M141.8 365.6h.9M150.1 360.8h.9M141.9 358.7h.9M137.6 358.0h.9M140.0 359.9h.9M144.3 354.7h.9M128.5 356.5h.9M123.4 362.1h.9M123.9 366.4h.9M140.1 364.7h.9M131.9 358.1h.9M132.3 364.0h.9M135.3 361.3h.9M140.4 358.6h.9M131.6 364.4h.9M128.5 363.0h.9M130.8 363.0h.9M140.1 362.1h.9M133.1 363.3h.9M138.9 359.3h.9M141.9 359.3h.9M132.5 358.2h.9M128.4 362.9h.9M125.3 361.5h.9M130.5 363.2h.9M126.7 358.9h.9M135.8 359.3h.9M124.7 359.9h.9M135.6 360.3h.9M131.2 359.4h.9M140.1 364.9h.9M126.2 360.6h.9M134.9 351.7h.9M139.5 358.3h.9M122.4 360.7h.9M136.7 360.7h.9M130.1 360.3h.9M127.3 359.3h.9M123.0 364.9h.9M134.5 357.6h.9M129.6 362.6h.9M131.3 363.2h.9M139.5 363.5h.9M111.6 366.8h.9M140.6 357.5h.9M150.8 358.5h.9M133.5 361.5h.9M131.0 361.9h.9M133.1 362.1h.9M140.6 358.2h.9M152.1 359.4h.9M127.9 365.2h.9M111.4 362.0h.9M136.2 362.5h.9M133.3 363.0h.9M132.7 366.1h.9M132.3 359.8h.9M117.7 360.9h.9M136.2 355.2h.9M128.5 359.0h.9M136.0 361.3h.9M130.3 362.2h.9M127.2 357.8h.9M120.3 355.6h.9M144.2 357.8h.9M133.3 353.5h.9M136.5 356.8h.9M145.3 360.0h.9M137.6 361.8h.9M135.7 365.0h.9M116.8 360.4h.9M142.4 357.9h.9M140.4 361.0h.9M125.6 358.8h.9M122.5 363.3h.9M136.7 363.7h.9M132.6 354.8h.9M144.6 359.5h.9M124.0 366.6h.9M133.3 364.1h.9M138.6 359.6h.9M137.2 350.3h.9M124.6 362.2h.9M123.2 361.2h.9M130.4 359.6h.9M149.7 363.1h.9M127.8 360.9h.9M130.4 361.9h.9M140.3 359.5h.9M137.2 359.6h.9M144.0 361.6h.9M128.8 358.9h.9M128.9 356.2h.9M139.9 356.2h.9M132.1 360.9h.9M133.7 357.4h.9M126.2 357.1h.9M128.1 357.7h.9M128.0 362.1h.9M129.2 353.1h.9M128.5 351.9h.9M131.4 360.6h.9M131.2 359.2h.9M141.8 364.9h.9M146.9 359.3h.9M131.3 355.2h.9M145.4 361.1h.9M137.4 361.0h.9M117.2 360.7h.9M135.8 361.1h.9M123.1 366.7h.9M141.9 359.0h.9M129.9 361.1h.9M145.5 360.0h.9M144.3 354.6h.9M130.2 355.9h.9M126.6 356.8h.9M141.8 359.0h.9M127.4 355.8h.9M133.2 364.4h.9M141.2 359.7h.9M132.9 356.7h.9M139.2 357.6h.9M148.2 360.3h.9M136.4 357.8h.9M139.1 356.5h.9M129.6 355.7h.9M114.0 359.3h.9M135.1 365.4h.9M134.1 350.9h.9M137.9 358.6h.9M134.2 359.9h.9M129.4 357.0h.9M129.5 366.8h.9M134.5 360.3h.9M127.3 354.1h.9M123.8 360.3h.9M135.8 355.9h.9M133.7 362.3h.9M138.1 359.8h.9M129.9 363.4h.9M132.9 356.6h.9M127.1 360.8h.9M131.0 364.9h.9M140.1 359.0h.9M146.6 356.7h.9M131.8 358.5h.9M137.2 360.5h.9M128.5 358.4h.9M123.1 360.9h.9M129.8 363.3h.9M132.2 357.0h.9M131.7 354.6h.9M128.0 356.6h.9M135.3 354.5h.9M142.3 357.3h.9M130.0 358.7h.9M136.9 354.2h.9M138.2 359.8h.9M141.3 359.5h.9M138.8 354.5h.9M141.3 358.3h.9M134.5 354.2h.9M124.6 361.2h.9M126.0 358.3h.9M130.7 360.8h.9M126.8 363.7h.9M128.4 361.4h.9M132.5 359.3h.9M133.8 360.3h.9M131.0 357.8h.9M136.6 359.3h.9M148.2 365.2h.9M126.8 357.3h.9M130.0 358.9h.9M125.5 359.8h.9M142.3 360.6h.9M140.5 361.8h.9M124.3 355.4h.9M137.5 357.7h.9M123.8 358.8h.9M136.9 360.2h.9M134.2 361.3h.9M134.5 360.6h.9M121.1 359.2h.9M135.5 356.4h.9M135.5 355.7h.9M143.8 355.7h.9M135.0 361.9h.9M133.8 364.2h.9M129.0 356.5h.9M138.1 354.9h.9M140.1 358.2h.9M139.7 360.0h.9M140.8 357.6h.9M133.0 358.5h.9M123.8 361.1h.9M134.7 360.4h.9M144.9 358.0h.9M143.3 355.3h.9M129.2 358.6h.9M149.4 362.9h.9M144.4 354.1h.9M140.4 364.2h.9M127.0 359.6h.9M139.3 364.1h.9M141.2 357.3h.9M150.5 357.0h.9M131.1 354.9h.9M132.3 359.9h.9M143.1 359.8h.9M142.8 358.7h.9M140.9 359.6h.9M130.6 360.6h.9M129.7 356.6h.9M136.3 362.2h.9M137.8 354.3h.9M141.1 357.9h.9M129.0 360.2h.9M122.7 358.2h.9M142.4 359.9h.9M133.7 354.3h.9M133.3 358.2h.9M141.4 359.2h.9M123.8 354.5h.9M134.2 361.0h.9M131.8 355.2h.9M137.7 356.6h.9M134.1 355.1h.9M139.3 359.9h.9M124.9 356.5h.9M131.2 361.0h.9M127.9 361.7h.9M142.3 358.2h.9M143.7 361.1h.9M135.0 364.7h.9M139.5 354.0h.9M132.8 353.7h.9M129.7 364.6h.9M144.5 356.6h.9M133.7 368.2h.9M144.4 362.1h.9M152.1 352.3h.9M125.8 361.8h.9M138.7 358.9h.9M132.1 359.5h.9M137.4 361.9h.9M117.4 357.0h.9M138.9 358.3h.9M128.2 359.6h.9M136.7 353.9h.9M137.7 358.4h.9M140.6 360.2h.9M134.6 359.4h.9M136.8 359.8h.9M132.4 359.2h.9M123.3 352.9h.9M130.0 356.4h.9M130.8 353.1h.9M132.1 360.2h.9M135.6 362.4h.9M136.2 359.8h.9M142.3 353.1h.9M149.1 358.4h.9M126.9 361.7h.9M135.6 360.9h.9M137.7 361.8h.9M132.7 361.9h.9M139.5 356.1h.9M117.9 359.8h.9M139.4 360.4h.9M133.0 356.1h.9M120.6 357.3h.9M132.6 359.0h.9M148.7 365.8h.9M133.7 362.7h.9M149.7 359.8h.9M150.9 359.9h.9M136.7 354.4h.9M132.3 359.5h.9M139.7 362.7h.9M145.3 358.4h.9M147.9 361.4h.9M137.2 363.9h.9M128.2 358.4h.9M145.9 354.8h.9M121.2 358.9h.9M133.0 358.9h.9M135.2 368.0h.9M138.4 359.3h.9M130.2 359.0h.9M135.8 362.7h.9M141.4 357.3h.9M135.0 358.4h.9M128.5 358.8h.9M140.5 359.0h.9M135.9 360.7h.9M127.4 359.8h.9M129.4 351.9h.9M148.6 363.3h.9M133.4 358.0h.9M138.7 361.7h.9M131.1 359.7h.9M133.6 361.3h.9M134.4 363.6h.9M131.0 358.8h.9M140.4 358.2h.9M142.6 360.9h.9M140.8 359.3h.9M131.7 365.1h.9M130.0 358.7h.9M119.8 357.3h.9M142.7 366.0h.9M132.4 357.3h.9M125.7 361.8h.9M126.2 357.5h.9M140.6 361.8h.9M132.6 364.5h.9M140.3 364.1h.9M136.1 358.3h.9M141.7 361.5h.9M136.6 363.4h.9M113.4 359.6h.9M144.8 365.7h.9M125.1 364.4h.9M145.9 365.3h.9M135.8 359.8h.9M128.9 360.8h.9M130.9 355.8h.9M128.6 356.7h.9M137.4 361.6h.9M138.5 357.5h.9M124.8 359.6h.9M121.0 356.0h.9M144.2 357.7h.9M137.5 355.9h.9M124.8 360.4h.9M142.2 357.5h.9M143.6 360.3h.9M138.2 361.6h.9M138.5 358.6h.9M130.7 359.7h.9M112.8 366.5h.9M140.1 361.6h.9M128.7 364.6h.9M149.6 364.8h.9M131.6 362.4h.9M138.9 361.5h.9M128.9 354.4h.9M123.8 361.1h.9M130.7 356.5h.9M150.5 355.8h.9M134.8 359.5h.9M119.8 363.0h.9M142.4 361.8h.9M143.5 362.2h.9M128.5 362.1h.9M135.4 362.2h.9M134.6 356.4h.9M128.8 356.1h.9M135.3 360.0h.9M122.7 362.8h.9M137.3 359.7h.9M142.1 357.5h.9M128.1 357.9h.9M139.6 358.3h.9M140.4 357.8h.9M138.8 356.4h.9M145.5 365.1h.9M134.6 360.3h.9M128.8 354.4h.9M140.5 360.4h.9M138.5 361.5h.9M118.3 362.1h.9M135.1 356.5h.9M128.8 353.7h.9M131.7 367.0h.9M135.2 355.6h.9M146.1 355.5h.9M137.6 360.4h.9M129.4 363.1h.9M130.2 362.8h.9M136.1 357.1h.9M137.5 359.9h.9M155.1 357.8h.9M127.3 359.5h.9M130.2 357.4h.9M141.8 367.8h.9M131.8 363.4h.9M135.8 359.1h.9M122.2 359.0h.9M122.1 363.9h.9M139.6 357.6h.9M126.8 358.7h.9M140.3 358.3h.9M130.8 359.7h.9M136.8 365.2h.9M143.5 357.8h.9M128.4 355.6h.9M128.5 356.0h.9M143.1 357.9h.9M134.6 355.2h.9M133.3 355.7h.9M141.2 357.1h.9M127.0 361.1h.9M134.2 360.5h.9M124.9 358.3h.9M124.4 360.7h.9M139.4 359.9h.9M143.6 359.5h.9M135.9 356.9h.9M123.4 362.0h.9M133.5 359.6h.9M136.9 359.1h.9M134.2 358.5h.9M143.2 360.3h.9M128.2 359.3h.9M136.8 355.8h.9M131.8 357.7h.9M133.7 355.8h.9M131.8 350.2h.9M138.1 355.6h.9M125.2 367.7h.9M132.1 353.9h.9M137.0 359.4h.9M140.9 362.2h.9M142.5 359.3h.9M135.8 359.3h.9M143.0 356.6h.9M144.0 357.5h.9M133.5 357.3h.9M149.3 356.2h.9M146.0 359.4h.9M132.2 361.6h.9M133.5 362.5h.9M130.8 365.1h.9M133.5 361.6h.9M136.4 360.3h.9M131.4 356.1h.9M138.1 355.2h.9M143.5 360.8h.9M141.2 362.6h.9M139.4 362.9h.9M131.9 359.8h.9M132.1 364.0h.9M146.9 360.2h.9M134.7 358.5h.9M128.7 359.2h.9M141.2 360.2h.9M146.8 362.1h.9M123.1 355.6h.9M146.8 356.7h.9M127.0 363.4h.9M140.9 358.8h.9M135.0 363.6h.9M129.8 361.8h.9M127.2 360.7h.9M126.7 363.5h.9M125.0 359.1h.9M131.6 361.9h.9M142.0 362.6h.9M132.5 363.2h.9M148.9 357.1h.9M132.5 359.7h.9M129.2 364.6h.9M134.3 362.2h.9M146.8 364.5h.9M148.6 329.4h.9M131.4 339.5h.9M136.0 337.1h.9M147.9 337.9h.9M140.5 329.8h.9M129.1 343.0h.9M139.9 336.7h.9M139.5 333.1h.9M132.0 338.4h.9M133.1 335.2h.9M143.6 325.7h.9M141.9 331.2h.9M127.3 338.0h.9M128.8 337.5h.9M133.7 336.4h.9M136.3 331.7h.9M135.6 330.6h.9M129.4 334.2h.9M138.7 335.4h.9M119.8 337.3h.9M129.3 337.6h.9M136.3 332.0h.9M136.0 332.4h.9M135.1 332.5h.9M138.9 333.2h.9M137.5 332.1h.9M133.5 335.1h.9M148.9 330.8h.9M135.2 340.9h.9M157.1 328.3h.9M122.6 333.1h.9M143.2 335.6h.9M125.9 343.9h.9M122.3 336.6h.9M128.1 331.0h.9M112.5 342.3h.9M131.8 331.1h.9M135.2 334.8h.9M127.8 335.2h.9M132.2 330.5h.9M139.6 337.9h.9M130.8 337.3h.9M143.5 333.0h.9M130.0 337.2h.9M151.0 327.3h.9M135.8 333.7h.9M125.2 338.2h.9M141.7 337.0h.9M137.9 326.6h.9M123.9 339.0h.9M151.7 327.7h.9M132.4 326.3h.9M140.6 337.7h.9M157.8 336.0h.9M130.5 331.4h.9M130.2 339.4h.9M139.7 334.6h.9M116.8 341.6h.9M144.9 341.7h.9M129.0 341.5h.9M147.6 333.7h.9M146.0 328.2h.9M127.0 333.4h.9M125.4 335.4h.9M146.3 330.5h.9M126.1 338.2h.9M136.3 337.5h.9M139.9 342.4h.9M143.2 338.8h.9M136.5 329.3h.9M118.4 344.6h.9M142.4 325.6h.9M116.4 336.4h.9M148.5 339.2h.9M135.2 350.8h.9M125.9 344.6h.9M134.4 336.9h.9M105.8 346.2h.9M114.7 348.9h.9M139.2 364.4h.9M129.3 359.1h.9M152.8 361.1h.9M144.3 336.2h.9M106.6 346.5h.9M116.8 362.4h.9M129.4 331.7h.9M117.8 329.6h.9M96.5 351.4h.9M120.6 336.2h.9M110.0 340.5h.9M124.5 349.9h.9M122.3 361.7h.9M126.8 340.2h.9M106.2 332.2h.9M142.2 335.0h.9M151.8 361.1h.9M129.3 328.9h.9M95.4 357.9h.9M124.2 367.7h.9M130.0 348.2h.9M115.6 356.7h.9M140.1 355.5h.9M96.3 361.2h.9M137.6 364.0h.9M113.1 357.1h.9M120.5 352.2h.9M101.5 340.2h.9M100.8 329.6h.9M132.4 328.7h.9M122.3 341.3h.9M125.0 359.9h.9M114.7 342.1h.9M131.8 348.5h.9M117.6 356.9h.9M126.0 342.0h.9M155.3 364.0h.9M98.5 362.0h.9M134.5 351.2h.9M149.7 344.0h.9M156.7 365.2h.9M128.4 344.3h.9M128.4 347.3h.9M139.6 327.2h.9M112.5 348.7h.9M128.2 355.3h.9M146.1 351.1h.9M136.8 350.3h.9M98.3 367.7h.9M143.0 334.6h.9M99.1 365.7h.9M148.0 367.3h.9M111.6 340.9h.9M128.2 347.4h.9M127.2 334.6h.9M139.3 345.9h.9M124.6 362.1h.9M126.4 365.0h.9M154.3 354.5h.9M116.8 366.6h.9M133.6 331.5h.9M149.1 354.6h.9M148.0 345.7h.9M110.9 325.3h.9M156.2 326.8h.9M96.7 347.4h.9M123.4 326.5h.9M140.7 355.7h.9M138.2 330.9h.9M120.3 346.9h.9M125.0 339.7h.9M97.1 330.4h.9M153.1 351.2h.9M141.5 336.2h.9M132.6 360.7h.9M139.9 359.7h.9M132.4 342.4h.9M98.6 352.9h.9M114.5 365.5h.9M146.8 348.4h.9M139.9 357.5h.9M119.2 330.4h.9M148.5 344.9h.9M117.9 353.1h.9M153.2 356.4h.9M149.7 358.5h.9M102.6 362.6h.9M115.5 357.4h.9M108.8 350.8h.9M153.3 365.0h.9M149.1 350.5h.9M109.3 365.5h.9M95.2 344.0h.9M135.7 342.0h.9M111.5 341.4h.9M104.5 330.3h.9M150.0 326.3h.9M110.2 327.6h.9M100.6 327.2h.9M145.3 359.5h.9M124.1 358.9h.9M106.7 363.6h.9M95.0 347.6h.9M124.8 367.5h.9M112.7 362.3h.9M102.0 362.8h.9M139.9 362.4h.9M149.6 366.2h.9M135.3 331.4h.9M151.5 333.2h.9M139.6 350.3h.9" stroke="#000" stroke-width=".9" stroke-opacity=".8" fill="none"/>
<rect x="94.0" y="316.5" width="65.60" height="53.30" fill="none" stroke="#111" stroke-width=".9"/>
<path d="M120.4 316.5V369.8M94.0 346.2H159.6" stroke="#444" stroke-width=".6" fill="none"/>
<text x="96.1" y="374.8" font-size="3.6" text-anchor="middle" fill="#777" stroke="none">10<tspan dy="-1.4" font-size="2.6">0</tspan></text>
<text x="111.8" y="374.8" font-size="3.6" text-anchor="middle" fill="#777" stroke="none">10<tspan dy="-1.4" font-size="2.6">1</tspan></text>
<text x="127.4" y="374.8" font-size="3.6" text-anchor="middle" fill="#777" stroke="none">10<tspan dy="-1.4" font-size="2.6">2</tspan></text>
<text x="143.1" y="374.8" font-size="3.6" text-anchor="middle" fill="#777" stroke="none">10<tspan dy="-1.4" font-size="2.6">3</tspan></text>
<text x="158.7" y="374.8" font-size="3.6" text-anchor="middle" fill="#777" stroke="none">10<tspan dy="-1.4" font-size="2.6">4</tspan></text>
<text transform="translate(90.8,371.0) rotate(-90)" font-size="3.6" text-anchor="middle" fill="#999" stroke="none">10<tspan dy="-1.4" font-size="2.6">0</tspan></text>
<text transform="translate(90.8,357.7) rotate(-90)" font-size="3.6" text-anchor="middle" fill="#999" stroke="none">10<tspan dy="-1.4" font-size="2.6">1</tspan></text>
<text transform="translate(90.8,344.3) rotate(-90)" font-size="3.6" text-anchor="middle" fill="#999" stroke="none">10<tspan dy="-1.4" font-size="2.6">2</tspan></text>
<text transform="translate(90.8,331.0) rotate(-90)" font-size="3.6" text-anchor="middle" fill="#999" stroke="none">10<tspan dy="-1.4" font-size="2.6">3</tspan></text>
<text transform="translate(90.8,317.7) rotate(-90)" font-size="3.6" text-anchor="middle" fill="#999" stroke="none">10<tspan dy="-1.4" font-size="2.6">4</tspan></text>
<path d="M98.9 369.8v1M94.0 365.8h-1M101.8 369.8v1M94.0 363.4h-1M105.5 369.8v1M94.0 360.5h-1M107.9 369.8v1M94.0 358.5h-1M115.3 369.8v1M94.0 352.5h-1M118.2 369.8v1M94.0 350.1h-1M121.9 369.8v1M94.0 347.2h-1M124.3 369.8v1M94.0 345.2h-1M131.7 369.8v1M94.0 339.1h-1M134.6 369.8v1M94.0 336.8h-1M138.3 369.8v1M94.0 333.8h-1M140.7 369.8v1M94.0 331.9h-1M148.1 369.8v1M94.0 325.8h-1M151.0 369.8v1M94.0 323.5h-1M154.7 369.8v1M94.0 320.5h-1M157.1 369.8v1M94.0 318.6h-1M94.0 369.8v1.8M94.0 369.8h-1.8M110.4 369.8v1.8M94.0 356.5h-1.8M126.8 369.8v1.8M94.0 343.1h-1.8M143.2 369.8v1.8M94.0 329.8h-1.8M159.6 369.8v1.8M94.0 316.5h-1.8" stroke="#000" stroke-width=".5" fill="none"/>
<path d="M180.9 338.8h.9M175.0 340.3h.9M185.8 342.0h.9M183.1 333.8h.9M180.3 339.9h.9M176.8 335.5h.9M183.7 339.7h.9M177.9 335.2h.9M186.3 335.6h.9M184.8 337.2h.9M178.5 333.0h.9M180.8 335.7h.9M189.7 337.4h.9M184.5 328.1h.9M186.1 333.6h.9M179.3 333.8h.9M185.2 340.0h.9M175.9 336.4h.9M184.6 335.7h.9M186.0 332.7h.9M180.7 337.6h.9M183.7 334.5h.9M180.0 339.8h.9M180.5 334.6h.9M182.8 335.6h.9M183.7 338.3h.9M182.4 337.7h.9M183.8 329.2h.9M177.2 336.6h.9M175.1 335.5h.9M183.7 328.0h.9M170.9 330.6h.9M174.3 339.7h.9M175.7 337.2h.9M185.0 333.8h.9M184.6 339.7h.9M195.5 328.5h.9M180.4 341.5h.9M180.2 333.4h.9M181.1 342.0h.9M175.5 334.1h.9M186.2 333.6h.9M177.6 337.0h.9M178.1 334.7h.9M182.5 340.1h.9M179.4 339.1h.9M183.9 334.3h.9M185.0 335.0h.9M185.2 335.8h.9M181.6 343.0h.9M177.8 335.6h.9M181.6 340.1h.9M176.8 335.6h.9M174.9 332.3h.9M174.6 328.9h.9M186.2 336.8h.9M175.4 337.8h.9M186.8 336.8h.9M181.4 341.2h.9M180.1 338.8h.9M181.9 343.5h.9M188.9 338.4h.9M175.3 332.0h.9M183.7 340.5h.9M179.5 331.3h.9M176.9 335.2h.9M172.3 330.3h.9M177.3 339.7h.9M177.3 341.8h.9M181.7 330.0h.9M185.5 332.0h.9M183.5 332.8h.9M180.5 327.7h.9M189.4 335.2h.9M178.9 334.5h.9M181.9 329.8h.9M180.2 326.0h.9M184.7 329.3h.9M183.9 336.6h.9M181.7 329.1h.9M184.5 335.5h.9M183.0 336.4h.9M178.8 338.4h.9M186.0 335.1h.9M179.5 336.4h.9M178.9 341.7h.9M185.0 333.0h.9M179.6 335.6h.9M182.0 340.8h.9M193.3 330.6h.9M185.7 338.1h.9M179.5 324.5h.9M179.5 328.7h.9M186.2 328.7h.9M183.4 334.6h.9M177.8 335.4h.9M184.8 325.8h.9M174.7 343.3h.9M187.7 344.4h.9M187.5 340.9h.9M189.2 334.7h.9M176.1 337.6h.9M184.7 332.6h.9M190.8 333.2h.9M183.9 332.4h.9M181.2 336.9h.9M187.9 333.4h.9M175.6 333.7h.9M181.5 343.1h.9M183.9 334.2h.9M179.9 338.2h.9M182.2 337.3h.9M186.0 333.8h.9M185.6 333.9h.9M181.7 340.5h.9M176.6 333.5h.9M175.2 338.5h.9M177.9 333.9h.9M179.6 334.1h.9M178.5 341.9h.9M194.5 328.4h.9M181.0 332.7h.9M181.3 333.1h.9M184.8 337.4h.9M176.1 332.8h.9M179.3 336.1h.9M184.6 338.5h.9M178.8 343.9h.9M186.4 339.7h.9M179.1 329.8h.9M183.0 342.9h.9M188.4 335.7h.9M186.8 331.6h.9M182.6 336.6h.9M182.6 331.5h.9M185.2 334.0h.9M180.1 331.8h.9M177.1 333.6h.9M186.4 325.1h.9M187.0 341.0h.9M183.2 335.8h.9M181.0 339.1h.9M177.0 337.2h.9M179.2 335.2h.9M180.4 341.3h.9M183.1 341.1h.9M185.7 334.1h.9M182.2 339.0h.9M183.7 334.1h.9M176.3 333.5h.9M182.5 337.4h.9M187.1 335.9h.9M179.0 335.1h.9M173.6 327.0h.9M185.0 332.0h.9M188.6 336.0h.9M185.2 338.5h.9M179.8 338.3h.9M184.6 333.2h.9M172.8 337.5h.9M182.3 330.3h.9M178.7 337.4h.9M186.9 343.4h.9M177.6 334.6h.9M191.0 331.2h.9M192.6 340.0h.9M190.6 335.0h.9M186.3 335.6h.9M178.7 337.8h.9M180.7 334.2h.9M186.3 338.6h.9M183.7 332.6h.9M179.2 332.4h.9M181.0 336.8h.9M178.4 337.4h.9M183.7 336.5h.9M181.7 338.4h.9M187.6 335.3h.9M185.2 332.8h.9M180.4 337.5h.9M188.1 328.9h.9M171.8 335.6h.9M175.6 339.6h.9M179.3 337.9h.9M184.3 340.4h.9M190.3 334.6h.9M185.5 334.6h.9M183.3 333.6h.9M181.9 333.5h.9M174.1 336.5h.9M179.3 339.7h.9M186.7 335.4h.9M183.4 342.2h.9M179.4 337.6h.9M181.8 327.1h.9M179.1 338.4h.9M173.5 333.7h.9M181.0 336.0h.9M179.1 332.6h.9M176.5 333.4h.9M181.1 344.3h.9M180.5 340.0h.9M182.6 334.2h.9M182.0 332.5h.9M182.7 334.1h.9M180.9 333.1h.9M178.6 338.3h.9M181.4 340.5h.9M181.9 329.2h.9M186.1 337.6h.9M182.1 335.4h.9M178.9 334.6h.9M185.5 339.0h.9M181.8 332.6h.9M185.5 332.2h.9M191.4 335.3h.9M185.4 332.7h.9M176.3 333.6h.9M177.8 339.2h.9M184.2 330.3h.9M174.6 341.0h.9M179.8 341.5h.9M182.8 334.4h.9M179.7 338.6h.9M178.1 331.4h.9M181.6 334.7h.9M180.2 334.0h.9M179.5 332.4h.9M184.1 339.9h.9M178.9 337.5h.9M180.8 340.0h.9M187.3 329.4h.9M185.7 335.5h.9M182.0 334.1h.9M181.0 329.5h.9M183.0 340.5h.9M182.9 336.4h.9M176.2 337.5h.9M178.5 342.4h.9M186.7 333.8h.9M177.6 342.7h.9M189.1 328.3h.9M184.9 341.9h.9M181.8 339.4h.9M179.8 331.1h.9M182.4 330.7h.9M185.4 346.8h.9M184.0 333.6h.9M187.8 341.2h.9M184.0 337.8h.9M179.1 336.7h.9M184.4 335.5h.9M185.3 330.9h.9M181.6 331.2h.9M178.0 332.7h.9M178.6 340.0h.9M184.5 328.0h.9M178.1 331.6h.9M189.8 337.8h.9M185.3 335.6h.9M174.1 334.0h.9M177.2 331.8h.9M182.3 328.6h.9M176.5 332.7h.9M181.3 331.0h.9M185.9 333.8h.9M184.8 331.9h.9M177.2 329.4h.9M185.3 341.5h.9M186.4 327.1h.9M178.8 339.2h.9M184.8 334.0h.9M179.3 333.3h.9M176.1 330.6h.9M187.2 331.7h.9M187.0 333.9h.9M177.9 327.0h.9M170.4 340.0h.9M186.4 336.4h.9M179.3 335.6h.9M183.6 335.5h.9M176.1 340.3h.9M184.2 335.6h.9M186.7 338.9h.9M182.6 332.9h.9M185.5 343.0h.9M183.3 332.9h.9M186.2 331.2h.9M179.6 332.8h.9M179.4 339.5h.9M173.3 342.3h.9M180.0 337.2h.9M180.6 344.7h.9M176.9 331.3h.9M186.4 332.5h.9M180.7 333.6h.9M195.1 341.2h.9M184.6 331.7h.9M178.3 335.6h.9M181.9 330.7h.9M182.7 362.4h.9M177.9 361.8h.9M195.8 357.7h.9M185.5 359.9h.9M179.4 360.0h.9M185.7 356.7h.9M181.6 350.9h.9M178.9 353.5h.9M184.2 367.2h.9M175.0 358.1h.9M188.7 353.2h.9M187.6 365.7h.9M176.6 362.5h.9M181.2 350.6h.9M173.0 351.5h.9M184.4 350.4h.9M183.2 356.6h.9M182.9 362.2h.9M179.3 362.0h.9M181.5 356.8h.9M178.6 364.0h.9M180.7 353.2h.9M178.7 358.7h.9M178.8 365.2h.9M178.1 356.0h.9M185.8 358.3h.9M188.5 357.4h.9M179.1 363.6h.9M182.0 361.5h.9M187.8 363.8h.9M183.6 361.4h.9M173.8 358.1h.9M183.6 357.3h.9M180.7 360.4h.9M181.2 358.5h.9M180.7 365.0h.9M190.8 358.5h.9M175.1 362.2h.9M182.8 363.0h.9M182.9 355.4h.9M178.3 355.4h.9M183.4 356.6h.9M181.7 354.7h.9M182.3 356.7h.9M187.1 346.1h.9M177.7 360.6h.9M182.8 355.7h.9M186.1 360.7h.9M179.2 364.6h.9M187.6 359.4h.9M177.8 353.9h.9M174.0 363.3h.9M176.6 362.6h.9M182.2 354.1h.9M186.5 359.3h.9M180.0 356.2h.9M181.5 352.6h.9M181.6 361.1h.9M184.6 355.7h.9M181.1 360.4h.9M177.4 358.7h.9M183.8 359.0h.9M185.6 357.6h.9M171.1 363.0h.9M182.7 354.8h.9M180.8 356.1h.9M185.1 364.6h.9M178.2 357.1h.9M181.8 366.4h.9M176.0 358.1h.9M185.4 361.3h.9M192.4 354.7h.9M182.9 364.8h.9M189.0 356.7h.9M189.0 356.4h.9M180.5 357.4h.9M182.2 360.1h.9M182.5 361.6h.9M186.7 361.1h.9M178.6 359.7h.9M185.2 357.6h.9M177.8 360.2h.9M184.8 348.8h.9M181.6 360.2h.9M173.7 357.2h.9M179.9 360.1h.9M184.0 355.7h.9M181.0 357.3h.9M182.9 358.4h.9M192.3 349.2h.9M175.7 361.7h.9M178.4 367.5h.9M178.2 367.7h.9M181.8 367.1h.9M179.5 365.3h.9M180.7 361.6h.9M178.2 360.6h.9M190.7 359.6h.9M193.6 356.9h.9M181.0 360.5h.9M182.2 355.4h.9M173.9 364.0h.9M179.9 368.4h.9M185.3 359.4h.9M183.7 357.1h.9M180.8 360.7h.9M190.3 354.2h.9M195.7 353.2h.9M180.9 356.1h.9M176.9 364.7h.9M184.7 356.6h.9M185.9 356.9h.9M177.8 360.7h.9M181.5 352.4h.9M186.9 363.6h.9M183.7 366.1h.9M177.8 358.1h.9M186.0 368.9h.9M177.9 361.3h.9M189.1 354.4h.9M181.8 360.6h.9M173.0 364.9h.9M177.8 358.6h.9M185.6 359.6h.9M190.4 350.1h.9M183.6 361.9h.9M180.5 357.0h.9M192.7 348.2h.9M175.7 361.6h.9M186.7 351.6h.9M174.6 366.4h.9M176.7 356.3h.9M185.7 355.4h.9M183.0 353.5h.9M180.9 354.3h.9M183.8 354.4h.9M178.5 360.1h.9M189.0 349.8h.9M182.3 362.4h.9M184.4 368.0h.9M175.7 357.3h.9M181.5 359.4h.9M176.1 359.1h.9M185.0 346.5h.9M174.2 353.6h.9M185.3 365.6h.9M186.8 356.8h.9M184.5 365.1h.9M187.8 357.0h.9M189.1 360.0h.9M180.5 364.7h.9M179.6 357.9h.9M179.6 366.3h.9M181.8 365.1h.9M180.8 358.5h.9M180.8 360.0h.9M189.9 350.7h.9M182.2 366.2h.9M179.8 355.9h.9M188.8 356.6h.9M176.5 359.0h.9M181.5 357.5h.9M184.4 362.3h.9M184.9 358.8h.9M175.9 366.8h.9M175.4 362.0h.9M176.1 366.7h.9M177.9 356.2h.9M187.3 353.7h.9M181.4 344.2h.9M183.4 364.0h.9M177.8 365.5h.9M179.3 354.3h.9M184.8 353.7h.9M183.4 358.1h.9M180.4 355.2h.9M186.3 363.1h.9M179.0 368.2h.9M179.2 361.5h.9M179.7 361.5h.9M179.0 359.4h.9M185.5 351.8h.9M174.9 355.3h.9M183.8 355.1h.9M173.1 362.3h.9M173.6 367.8h.9M181.7 356.1h.9M183.1 360.5h.9M181.1 368.1h.9M187.2 361.5h.9M186.8 361.3h.9M177.8 350.3h.9M187.8 354.7h.9M178.9 361.6h.9M181.9 359.2h.9M178.1 364.2h.9M177.0 365.8h.9M174.6 364.6h.9M180.4 355.2h.9M184.8 355.9h.9M180.0 355.8h.9M184.6 362.9h.9M185.7 359.3h.9M188.8 362.0h.9M186.5 358.0h.9M182.0 354.5h.9M183.0 358.1h.9M181.2 355.1h.9M177.9 354.4h.9M176.2 354.3h.9M189.7 360.0h.9M177.7 359.5h.9M184.4 353.3h.9M188.7 353.5h.9M182.8 358.5h.9M179.2 359.4h.9M183.6 357.0h.9M189.1 353.5h.9M177.5 364.4h.9M177.7 359.1h.9M179.5 368.0h.9M185.4 353.7h.9M185.6 345.2h.9M179.2 356.2h.9M182.2 361.3h.9M186.0 358.7h.9M176.4 364.4h.9M181.2 362.8h.9M183.8 366.1h.9M185.1 355.4h.9M185.0 362.8h.9M175.3 362.8h.9M181.5 358.4h.9M179.2 367.4h.9M182.9 365.3h.9M183.9 351.5h.9M181.4 363.6h.9M183.0 362.5h.9M192.0 349.5h.9M190.4 352.4h.9M186.3 356.4h.9M182.1 358.3h.9M191.3 359.8h.9M178.9 365.7h.9M173.7 356.8h.9M181.0 347.6h.9M177.5 357.3h.9M171.1 365.4h.9M176.8 362.8h.9M180.0 366.2h.9M179.7 365.9h.9M183.5 363.8h.9M184.7 353.2h.9M184.6 364.3h.9M176.5 357.5h.9M185.2 365.3h.9M189.3 360.6h.9M180.7 362.4h.9M180.8 363.2h.9M184.0 361.1h.9M184.6 357.6h.9M181.9 353.4h.9M183.7 362.6h.9M177.4 363.8h.9M173.5 365.5h.9M179.0 359.4h.9M179.9 364.5h.9M181.4 356.9h.9M179.2 354.6h.9M177.4 366.1h.9M182.7 357.9h.9M184.0 355.6h.9M180.5 358.0h.9M179.9 367.0h.9M182.0 360.8h.9M179.2 358.5h.9M184.0 354.0h.9M179.2 356.6h.9M172.7 362.6h.9M190.1 349.3h.9M183.6 357.1h.9M185.9 356.2h.9M180.9 354.3h.9M181.1 357.8h.9M182.1 355.1h.9M182.4 359.4h.9M181.2 366.4h.9M177.9 368.9h.9M184.6 353.5h.9M182.1 358.5h.9M190.8 358.0h.9M178.1 359.2h.9M180.1 353.3h.9M181.6 356.1h.9M173.0 358.7h.9M177.9 355.9h.9M172.7 363.7h.9M178.8 360.1h.9M182.5 355.0h.9M182.4 365.9h.9M186.7 356.1h.9M182.9 366.2h.9M186.5 355.7h.9M184.3 359.1h.9M171.6 361.7h.9M182.5 357.7h.9M174.8 357.6h.9M184.8 352.1h.9M187.7 352.3h.9M188.1 359.6h.9M183.4 362.0h.9M182.0 362.7h.9M175.6 355.9h.9M185.3 364.0h.9M182.9 360.5h.9M180.6 355.3h.9M175.8 360.3h.9M175.6 361.1h.9M179.6 360.9h.9M185.6 348.5h.9M181.7 352.3h.9M177.8 363.4h.9M185.5 359.8h.9M186.8 352.7h.9M183.0 358.2h.9M180.8 363.4h.9M183.1 358.7h.9M181.2 357.9h.9M184.4 350.3h.9M176.8 356.2h.9M187.5 358.6h.9M182.1 359.0h.9M192.5 356.3h.9M172.2 358.2h.9M177.9 349.9h.9M174.9 359.0h.9M182.0 356.9h.9M183.7 356.8h.9M179.1 366.2h.9M182.7 364.5h.9M182.8 360.0h.9M178.2 360.8h.9M181.7 360.4h.9M176.5 360.4h.9M179.8 364.6h.9M179.1 353.0h.9M178.6 363.9h.9M176.8 362.6h.9M183.3 357.1h.9M181.6 352.2h.9M190.1 356.9h.9M172.0 358.2h.9M181.3 353.9h.9M182.1 358.2h.9M184.3 356.9h.9M182.9 358.3h.9M192.5 351.1h.9M178.3 360.1h.9M184.4 357.8h.9M177.9 356.4h.9M182.5 355.0h.9M180.4 356.7h.9M191.3 361.4h.9M177.2 363.0h.9M189.2 362.2h.9M183.8 359.8h.9M182.7 365.9h.9M182.3 350.8h.9M177.1 353.9h.9M182.0 359.7h.9M182.4 360.9h.9M180.1 354.5h.9M176.1 359.6h.9M179.3 357.8h.9M180.7 362.3h.9M181.0 355.5h.9M175.2 356.9h.9M182.5 356.0h.9M187.0 353.0h.9M181.1 359.7h.9M188.4 355.8h.9M183.1 362.0h.9M179.7 357.2h.9M177.1 359.1h.9M176.2 357.4h.9M180.9 355.8h.9M176.8 363.7h.9M180.5 361.8h.9M189.8 351.1h.9M172.8 366.1h.9M183.0 360.3h.9M182.5 355.3h.9M183.5 351.4h.9M183.3 356.5h.9M181.7 356.6h.9M180.2 355.0h.9M180.8 355.4h.9M177.7 362.6h.9M178.6 356.8h.9M182.2 353.9h.9M182.2 359.3h.9M182.6 364.5h.9M178.5 355.6h.9M176.3 356.0h.9M191.5 360.7h.9M184.1 348.7h.9M185.9 355.7h.9M183.0 364.1h.9M185.3 356.9h.9M186.5 354.2h.9M188.2 356.3h.9M181.6 361.9h.9M184.4 354.6h.9M185.8 357.0h.9M174.8 359.6h.9M182.0 360.8h.9M183.6 359.3h.9M177.8 357.6h.9M179.2 359.5h.9M187.1 357.5h.9M183.9 363.5h.9M181.7 358.8h.9M179.5 356.3h.9M182.7 358.9h.9M197.4 361.3h.9M182.6 364.3h.9M177.4 366.9h.9M174.4 356.0h.9M186.9 365.5h.9M184.3 360.2h.9M177.7 362.1h.9M188.4 356.6h.9M187.9 358.8h.9M178.5 351.7h.9M178.6 364.7h.9M183.9 352.1h.9M181.8 366.4h.9M184.3 359.3h.9M187.0 353.9h.9M179.3 355.6h.9M183.3 357.3h.9M176.0 368.2h.9M184.9 357.6h.9M186.9 357.4h.9M176.4 368.1h.9M183.5 357.0h.9M174.5 359.1h.9M182.1 360.4h.9M184.6 355.1h.9M182.5 357.6h.9M185.1 350.2h.9M181.5 351.9h.9M186.9 359.2h.9M180.6 355.9h.9M179.7 362.1h.9M177.6 362.6h.9M173.7 365.4h.9M181.3 362.0h.9M182.0 363.6h.9M181.0 358.6h.9M177.4 359.2h.9M179.9 364.4h.9M186.4 352.0h.9M182.8 354.4h.9M187.5 351.0h.9M183.9 354.5h.9M179.9 365.2h.9M192.1 360.6h.9M177.7 358.7h.9M174.3 355.7h.9M179.0 356.7h.9M183.0 359.3h.9M185.5 364.3h.9M183.1 357.4h.9M179.3 364.1h.9M188.4 359.7h.9M183.7 351.8h.9M182.9 363.6h.9M179.8 365.6h.9M189.8 358.1h.9M187.8 356.1h.9M178.1 365.9h.9M187.6 359.1h.9M183.3 359.2h.9M180.9 361.4h.9M187.4 363.2h.9M179.2 355.9h.9M182.5 357.8h.9M187.8 354.4h.9M183.0 359.7h.9M175.8 362.3h.9M179.1 358.5h.9M183.2 359.6h.9M178.8 359.8h.9M182.2 364.5h.9M185.3 362.5h.9M179.5 359.8h.9M176.3 361.8h.9M183.7 356.9h.9M189.8 352.0h.9M181.5 361.1h.9M184.1 362.4h.9M184.7 349.5h.9M183.7 353.9h.9M176.5 366.1h.9M184.3 364.2h.9M184.7 353.8h.9M178.6 355.4h.9M184.1 351.7h.9M178.5 365.0h.9M177.2 361.6h.9M178.2 360.0h.9M187.3 353.1h.9M186.3 360.3h.9M182.9 356.5h.9M189.8 361.7h.9M178.8 359.4h.9M186.3 360.8h.9M180.1 362.0h.9M172.6 363.4h.9M186.0 355.9h.9M183.5 365.9h.9M175.6 367.2h.9M180.4 355.3h.9M184.4 365.4h.9M180.5 353.9h.9M185.7 359.9h.9M175.0 364.9h.9M192.1 354.8h.9M181.5 354.8h.9M178.7 356.3h.9M179.6 363.9h.9M179.0 356.9h.9M174.6 362.1h.9M176.8 362.1h.9M182.9 355.8h.9M185.8 352.7h.9M176.5 355.7h.9M183.8 356.4h.9M180.1 364.3h.9M192.3 354.2h.9M184.9 356.5h.9M185.6 365.0h.9M183.7 364.4h.9M184.3 361.8h.9M181.1 361.3h.9M178.5 363.0h.9M189.7 360.2h.9M188.6 357.5h.9M187.1 361.1h.9M177.3 362.0h.9M182.0 363.4h.9M185.3 351.7h.9M182.5 354.1h.9M173.9 368.9h.9M181.9 364.8h.9M175.9 357.9h.9M176.9 356.5h.9M184.6 362.5h.9M187.3 357.1h.9M177.2 367.0h.9M179.8 362.4h.9M181.2 359.7h.9M180.1 365.5h.9M180.8 352.2h.9M178.5 357.8h.9M177.0 364.4h.9M181.6 366.2h.9M182.0 355.3h.9M180.8 368.3h.9M187.5 351.1h.9M181.2 361.9h.9M179.4 361.6h.9M191.9 350.9h.9M188.7 358.8h.9M184.7 344.4h.9M180.7 363.0h.9M189.1 355.9h.9M183.6 355.5h.9M181.4 352.8h.9M181.4 353.4h.9M186.3 352.1h.9M183.4 353.7h.9M179.3 360.0h.9M172.1 356.4h.9M185.5 354.2h.9M182.4 350.8h.9M186.4 356.7h.9M182.5 360.2h.9M174.8 361.5h.9M183.0 357.2h.9M188.0 351.3h.9M182.0 357.1h.9M182.6 357.3h.9M182.7 357.8h.9M186.1 361.4h.9M186.8 355.0h.9M182.1 360.9h.9M176.4 368.3h.9M181.1 357.2h.9M177.1 362.1h.9M177.7 362.8h.9M183.9 358.8h.9M180.9 360.2h.9M180.4 361.7h.9M182.6 365.7h.9M183.4 357.0h.9M179.2 361.7h.9M185.1 358.8h.9M179.2 366.0h.9M183.1 363.2h.9M180.7 365.1h.9M181.0 361.3h.9M180.6 361.0h.9M184.0 358.9h.9M183.6 357.9h.9M181.4 357.5h.9M184.3 359.6h.9M178.0 362.8h.9M182.5 360.1h.9M178.0 356.6h.9M174.4 363.4h.9M177.3 368.4h.9M183.4 358.7h.9M181.0 356.9h.9M181.6 363.0h.9M179.1 357.7h.9M179.5 360.6h.9M178.4 361.4h.9M181.0 358.3h.9M181.8 357.0h.9M181.3 360.4h.9M181.2 356.6h.9M180.8 360.8h.9M181.6 360.9h.9M183.1 356.0h.9M179.2 362.3h.9M182.6 355.8h.9M184.1 359.3h.9M177.9 358.8h.9M179.4 357.0h.9M180.4 358.6h.9M178.7 360.9h.9M180.1 361.9h.9M179.8 361.8h.9M185.4 355.9h.9M182.1 359.1h.9M185.2 351.3h.9M181.0 361.9h.9M181.4 359.6h.9M181.0 359.3h.9M180.8 359.0h.9M188.1 352.3h.9M184.5 359.4h.9M181.8 359.8h.9M176.1 361.1h.9M180.3 362.7h.9M183.8 358.4h.9M182.2 357.9h.9M180.7 362.9h.9M183.5 358.3h.9M182.1 357.1h.9M179.5 354.4h.9M181.9 358.2h.9M183.3 357.8h.9M183.3 356.0h.9M181.0 360.9h.9M179.9 355.7h.9M181.2 359.4h.9M182.9 359.2h.9M182.1 362.0h.9M184.3 358.6h.9M180.5 359.1h.9M181.3 362.3h.9M180.9 363.4h.9M182.4 359.9h.9M178.7 358.2h.9M184.6 359.8h.9M180.7 356.7h.9M184.9 361.8h.9M185.1 359.0h.9M178.0 358.3h.9M182.0 364.3h.9M182.8 355.3h.9M181.3 362.4h.9M182.9 358.2h.9M179.3 358.9h.9M183.9 354.7h.9M182.1 354.2h.9M180.9 360.4h.9M175.1 359.0h.9M183.4 361.7h.9M177.8 360.7h.9M185.0 359.3h.9M184.1 363.8h.9M178.1 356.2h.9M177.7 361.2h.9M182.5 358.1h.9M184.6 360.3h.9M182.0 358.9h.9M182.1 357.9h.9M181.8 357.3h.9M185.7 357.5h.9M182.8 355.3h.9M178.3 362.3h.9M184.9 350.9h.9M184.0 360.1h.9M181.4 360.9h.9M181.0 359.9h.9M185.1 357.4h.9M183.0 361.5h.9M180.9 361.7h.9M184.5 360.6h.9M180.6 358.7h.9M180.9 360.9h.9M177.1 360.7h.9M180.5 358.5h.9M188.2 360.1h.9M177.4 357.3h.9M178.1 359.9h.9M183.9 355.3h.9M179.5 355.2h.9M183.8 362.1h.9M185.7 359.9h.9M180.6 360.6h.9M180.0 356.9h.9M184.2 358.6h.9M182.9 360.9h.9M185.3 353.0h.9M181.0 361.5h.9M182.6 360.2h.9M179.8 364.9h.9M178.6 358.0h.9M178.9 365.3h.9M179.0 360.6h.9M185.5 359.2h.9M183.7 361.1h.9M181.7 365.6h.9M181.1 362.3h.9M181.1 364.7h.9M184.6 358.7h.9M181.4 361.5h.9M177.1 363.4h.9M181.1 356.2h.9M176.8 361.8h.9M180.2 360.6h.9M179.3 361.9h.9M176.9 365.4h.9M177.0 362.9h.9M181.3 360.4h.9M182.7 359.5h.9M182.5 359.4h.9M179.1 356.7h.9M179.0 359.8h.9M181.7 357.1h.9M183.8 355.2h.9M183.8 361.5h.9M181.5 357.1h.9M178.9 357.7h.9M183.0 354.6h.9M182.2 362.4h.9M180.0 363.8h.9M178.7 361.6h.9M180.0 359.2h.9M184.3 360.0h.9M184.7 359.9h.9M180.5 360.1h.9M181.9 360.1h.9M185.4 353.8h.9M177.9 361.1h.9M180.1 358.9h.9M180.8 359.2h.9M182.3 359.0h.9M177.2 357.3h.9M182.4 359.9h.9M177.6 362.5h.9M183.6 353.1h.9M181.1 355.6h.9M180.1 363.8h.9M183.5 354.9h.9M181.4 361.5h.9M179.0 362.7h.9M183.6 363.8h.9M180.6 359.0h.9M182.1 357.3h.9M184.7 356.6h.9M177.7 358.8h.9M183.1 354.5h.9M183.6 355.8h.9M186.9 356.3h.9M176.7 359.9h.9M183.4 360.8h.9M186.9 359.6h.9M182.3 359.4h.9M181.5 354.7h.9M180.5 361.4h.9M177.1 360.2h.9M184.7 353.4h.9M178.2 359.2h.9M176.7 359.0h.9M183.3 358.8h.9M183.9 359.5h.9M183.5 363.1h.9M183.5 357.0h.9M178.9 360.7h.9M181.1 356.8h.9M180.4 358.3h.9M179.1 356.7h.9M182.2 359.0h.9M178.7 361.9h.9M180.9 358.8h.9M185.0 362.0h.9M181.1 359.4h.9M180.9 362.0h.9M183.3 358.1h.9M178.2 360.5h.9M182.1 363.8h.9M184.3 356.1h.9M182.8 360.8h.9M179.4 355.8h.9M183.5 358.2h.9M180.2 362.3h.9M183.3 364.7h.9M178.8 362.6h.9M178.5 361.0h.9M185.2 357.5h.9M180.8 358.8h.9M180.8 359.9h.9M178.0 360.9h.9M180.0 363.4h.9M185.0 356.1h.9M182.6 356.8h.9M181.2 362.5h.9M176.5 362.9h.9M183.3 357.8h.9M182.4 358.7h.9M184.2 360.0h.9M180.2 359.2h.9M182.6 357.3h.9M179.8 360.5h.9M177.6 362.7h.9M176.4 358.7h.9M183.1 357.8h.9M180.4 361.4h.9M181.0 355.0h.9M177.1 360.2h.9M185.5 360.6h.9M179.8 357.8h.9M176.7 362.8h.9M177.8 367.0h.9M179.7 361.9h.9M183.7 356.3h.9M182.3 365.3h.9M182.5 361.3h.9M179.5 363.0h.9M183.3 359.9h.9M181.1 357.6h.9M183.9 358.4h.9M179.2 359.7h.9M179.6 365.0h.9M179.0 363.7h.9M179.6 359.4h.9M179.1 361.1h.9M182.5 360.8h.9M180.1 363.4h.9M177.3 363.4h.9M180.0 357.0h.9M179.4 363.4h.9M176.9 358.0h.9M181.6 358.3h.9M181.5 355.5h.9M181.1 358.7h.9M184.9 360.4h.9M177.3 361.1h.9M182.8 361.9h.9M181.8 362.1h.9M178.7 359.9h.9M184.4 357.1h.9M178.2 364.1h.9M181.6 361.4h.9M182.7 361.9h.9M180.3 363.2h.9M179.5 359.5h.9M183.5 357.1h.9M184.1 359.2h.9M179.9 358.7h.9M184.5 356.8h.9M182.0 357.0h.9M178.2 360.3h.9M183.2 358.1h.9M180.9 360.9h.9M180.1 361.6h.9M182.2 362.6h.9M182.2 360.2h.9M179.3 360.9h.9M179.9 361.4h.9M182.9 359.5h.9M183.1 360.0h.9M185.7 356.6h.9M181.2 360.0h.9M181.7 356.0h.9M179.3 363.2h.9M186.3 358.5h.9M181.9 360.7h.9M182.5 355.5h.9M184.6 356.0h.9M183.2 357.3h.9M179.4 354.9h.9M180.5 362.5h.9M184.2 360.2h.9M182.2 359.4h.9M180.1 362.8h.9M180.8 355.0h.9M184.0 355.9h.9M178.3 363.4h.9M180.9 361.6h.9M184.2 358.3h.9M184.0 359.8h.9M178.7 360.8h.9M181.0 358.4h.9M182.2 357.9h.9M182.0 356.8h.9M180.7 359.6h.9M179.9 359.5h.9M180.7 362.1h.9M181.7 355.1h.9M181.4 359.4h.9M185.5 357.0h.9M182.3 357.3h.9M183.2 358.0h.9M182.9 363.0h.9M180.6 364.5h.9M183.5 353.1h.9M179.9 362.6h.9M184.0 354.3h.9M183.0 356.0h.9M180.1 357.4h.9M183.5 355.3h.9M180.3 362.8h.9M183.4 363.1h.9M178.8 355.6h.9M181.9 360.9h.9M184.7 359.4h.9M180.0 358.7h.9M176.4 360.1h.9M179.4 359.5h.9M182.6 358.1h.9M181.1 357.0h.9M177.3 360.3h.9M180.0 360.2h.9M180.1 360.2h.9M176.3 358.2h.9M180.2 361.7h.9M180.9 356.0h.9M180.1 358.0h.9M180.1 356.7h.9M184.5 353.3h.9M177.7 361.0h.9M179.9 357.7h.9M184.1 361.8h.9M181.7 358.6h.9M177.8 362.9h.9M182.4 356.8h.9M175.0 359.9h.9M180.0 361.2h.9M182.7 357.7h.9M177.9 358.1h.9M183.0 359.0h.9M181.4 362.4h.9M181.2 360.6h.9M187.8 358.6h.9M183.2 365.2h.9M181.6 361.4h.9M177.1 359.6h.9M177.4 361.3h.9M180.2 356.7h.9M181.4 358.6h.9M182.8 362.9h.9M178.8 361.6h.9M180.1 356.8h.9M182.5 357.2h.9M177.5 356.8h.9M181.0 365.6h.9M183.7 357.5h.9M180.3 356.6h.9M181.8 363.5h.9M181.6 359.6h.9M182.4 356.5h.9M182.4 356.7h.9M180.9 356.6h.9M180.3 359.3h.9M180.5 359.3h.9M182.7 360.1h.9M179.1 357.9h.9M184.6 356.9h.9M174.9 362.7h.9M182.7 362.4h.9M185.6 363.4h.9M181.6 362.5h.9M182.9 355.7h.9M182.3 358.3h.9M188.3 358.9h.9M183.7 356.3h.9M185.1 354.8h.9M180.0 355.6h.9M181.6 359.2h.9M180.2 357.9h.9M180.5 358.7h.9M179.7 356.7h.9M181.7 360.3h.9M179.1 358.1h.9M183.4 355.5h.9M181.7 356.3h.9M183.1 355.4h.9M179.7 361.4h.9M182.5 361.0h.9M187.6 355.4h.9M183.7 356.5h.9M183.0 364.4h.9M183.6 360.8h.9M184.7 362.2h.9M184.9 359.7h.9M180.2 360.2h.9M180.5 360.4h.9M182.2 363.4h.9M185.3 364.0h.9M183.8 359.7h.9M180.4 360.2h.9M183.0 361.6h.9M182.9 361.1h.9M180.5 359.6h.9M180.0 358.4h.9M176.9 359.3h.9M177.8 365.0h.9M179.0 359.4h.9M185.7 357.3h.9M181.9 358.5h.9M184.1 355.4h.9M182.1 360.7h.9M181.0 359.6h.9M185.4 359.4h.9M181.2 363.4h.9M183.5 358.4h.9M182.2 359.6h.9M179.8 358.3h.9M180.2 362.4h.9M183.0 360.2h.9M180.5 362.8h.9M184.6 362.8h.9M180.6 356.4h.9M183.1 363.3h.9M181.6 356.2h.9M181.2 356.9h.9M182.6 353.9h.9M180.7 364.0h.9M179.8 358.8h.9M179.9 361.7h.9M182.0 357.7h.9M181.9 363.9h.9M184.4 355.2h.9M182.3 359.2h.9M183.5 355.8h.9M183.7 358.1h.9M181.1 363.4h.9M184.2 359.4h.9M180.1 360.9h.9M176.9 363.2h.9M174.0 360.7h.9M181.0 356.4h.9M184.2 355.7h.9M180.3 358.6h.9M170.1 366.5h.9M184.9 358.4h.9M184.8 357.1h.9M179.4 360.5h.9M182.4 357.3h.9M184.8 360.7h.9M179.7 362.2h.9M179.7 358.1h.9M182.1 363.8h.9M183.5 355.6h.9M181.3 360.8h.9M182.4 358.4h.9M182.3 361.5h.9M182.5 361.5h.9M182.5 359.4h.9M179.1 361.1h.9M176.6 357.4h.9M180.2 356.0h.9M179.4 360.2h.9M176.2 362.1h.9M184.8 357.0h.9M179.6 361.8h.9M183.7 361.7h.9M179.4 355.6h.9M182.1 360.3h.9M182.2 364.4h.9M182.2 359.1h.9M180.9 359.7h.9M180.7 359.9h.9M181.2 361.0h.9M188.3 350.7h.9M184.8 359.7h.9M179.5 359.2h.9M181.0 361.4h.9M178.4 359.0h.9M185.6 358.0h.9M183.4 359.8h.9M180.9 362.4h.9M178.6 360.1h.9M178.9 361.4h.9M180.3 357.2h.9M180.2 359.8h.9M180.5 360.9h.9M180.8 364.9h.9M178.4 358.3h.9M181.9 359.8h.9M181.2 358.3h.9M183.0 360.6h.9M178.0 358.6h.9M183.2 361.2h.9M184.0 355.9h.9M182.2 363.8h.9M179.3 360.5h.9M179.3 359.7h.9M181.1 360.0h.9M182.1 360.1h.9M182.6 360.2h.9M181.5 362.4h.9M177.2 361.2h.9M180.6 358.2h.9M181.3 356.0h.9M180.0 358.7h.9M182.3 356.7h.9M184.1 361.2h.9M178.4 357.6h.9M182.6 357.9h.9M179.3 361.0h.9M179.0 364.3h.9M180.6 355.7h.9M186.0 357.7h.9M182.8 361.7h.9M180.8 355.5h.9M184.2 360.6h.9M181.6 353.8h.9M182.5 359.0h.9M178.7 358.0h.9M178.8 359.3h.9M177.6 361.8h.9M183.6 362.9h.9M177.8 358.6h.9M184.8 362.8h.9M177.8 365.3h.9M181.2 355.8h.9M181.8 359.6h.9M178.3 362.2h.9M176.2 365.4h.9M179.9 362.0h.9M185.3 357.2h.9M184.8 357.2h.9M178.0 362.7h.9M181.4 357.6h.9M180.7 360.6h.9M184.1 358.8h.9M182.2 357.2h.9M179.1 366.6h.9M187.0 358.2h.9M183.3 364.7h.9M179.3 363.2h.9M184.3 361.4h.9M183.4 357.3h.9M184.4 357.1h.9M178.4 360.8h.9M181.8 359.2h.9M179.6 357.0h.9M180.9 365.7h.9M180.8 366.1h.9M182.4 360.9h.9M178.8 361.0h.9M183.9 358.1h.9M180.3 357.2h.9M182.4 360.4h.9M181.1 359.6h.9M182.1 361.0h.9M183.3 361.6h.9M180.4 365.7h.9M183.6 358.8h.9M214.7 337.2h.9M210.8 341.3h.9M215.5 332.7h.9M204.8 332.9h.9M225.8 332.7h.9M217.1 329.4h.9M202.5 331.7h.9M212.9 339.5h.9M222.4 331.9h.9M218.1 332.0h.9M208.0 340.3h.9M217.9 336.9h.9M215.5 332.9h.9M208.0 332.6h.9M215.6 334.1h.9M203.6 335.8h.9M209.8 339.3h.9M202.8 337.0h.9M220.4 331.1h.9M221.1 333.9h.9M209.3 329.9h.9M214.2 332.8h.9M224.5 341.0h.9M200.4 330.4h.9M212.3 333.1h.9M217.2 338.1h.9M217.4 335.7h.9M209.1 334.1h.9M197.1 332.9h.9M207.1 332.0h.9M220.9 337.4h.9M207.9 334.8h.9M214.3 336.2h.9M211.3 337.7h.9M220.0 329.0h.9M207.4 328.5h.9M215.4 336.6h.9M214.6 338.7h.9M204.3 335.4h.9M215.3 338.0h.9M220.5 328.6h.9M215.8 333.6h.9M207.2 333.2h.9M207.8 333.2h.9M202.1 337.5h.9M203.6 325.1h.9M196.1 333.8h.9M215.4 338.9h.9M212.8 333.6h.9M212.3 330.6h.9M232.6 335.2h.9M213.1 329.7h.9M218.7 338.0h.9M202.2 332.5h.9M209.8 340.4h.9M207.5 336.5h.9M213.9 330.1h.9M203.9 334.8h.9M207.1 334.7h.9M207.0 337.5h.9M214.6 329.3h.9M202.4 338.9h.9M213.9 331.1h.9M216.5 327.5h.9M213.5 334.0h.9M222.0 331.4h.9M213.2 335.1h.9M214.2 340.9h.9M214.5 334.3h.9M219.8 341.1h.9M216.3 342.7h.9M213.0 342.8h.9M218.2 335.6h.9M206.4 340.6h.9M219.2 339.9h.9M203.2 340.5h.9M223.2 334.5h.9M207.9 340.4h.9M210.8 339.1h.9M210.7 336.3h.9M216.7 331.3h.9M197.5 338.3h.9M209.0 337.0h.9M217.8 329.3h.9M215.5 330.4h.9M203.3 340.3h.9M222.5 333.6h.9M227.6 337.4h.9M205.8 334.2h.9M209.3 330.1h.9M202.9 332.8h.9M207.6 326.2h.9M211.0 337.1h.9M229.4 328.5h.9M202.1 343.9h.9M227.4 331.0h.9M212.4 335.7h.9M209.7 331.1h.9M208.8 329.3h.9M217.5 334.5h.9M209.6 332.3h.9M210.9 344.3h.9M211.2 334.0h.9M213.0 325.5h.9M214.8 334.9h.9M210.3 331.6h.9M206.3 333.3h.9M217.7 331.5h.9M213.7 331.1h.9M212.9 328.3h.9M197.1 336.6h.9M212.0 335.0h.9M206.5 335.0h.9M204.2 334.0h.9M208.7 341.5h.9M205.1 332.5h.9M196.9 333.8h.9M202.7 341.9h.9M219.6 335.8h.9M210.8 332.9h.9M205.6 332.0h.9M212.1 333.1h.9M196.6 334.6h.9M223.9 334.0h.9M221.1 340.4h.9M211.4 329.6h.9M215.1 335.3h.9M207.1 337.9h.9M208.6 337.9h.9M210.3 334.1h.9M208.1 332.2h.9M216.6 336.2h.9M203.2 338.1h.9M216.7 334.3h.9M204.7 333.8h.9M213.5 340.3h.9M222.4 333.5h.9M226.3 333.9h.9M200.8 341.0h.9M217.5 334.8h.9M224.0 334.5h.9M212.7 334.1h.9M223.4 340.6h.9M206.1 335.2h.9M212.6 340.6h.9M230.5 337.3h.9M218.5 335.0h.9M220.0 338.5h.9M211.3 332.8h.9M211.0 342.8h.9M219.8 331.7h.9M213.2 336.4h.9M225.9 338.1h.9M206.6 336.6h.9M205.6 340.3h.9M216.1 340.7h.9M201.0 331.2h.9M217.5 333.6h.9M223.9 336.6h.9M227.1 335.0h.9M203.0 334.7h.9M209.6 336.9h.9M219.2 331.5h.9M209.2 333.1h.9M216.3 339.6h.9M199.6 336.9h.9M211.9 340.7h.9M217.5 326.2h.9M207.5 330.7h.9M216.4 329.7h.9M213.4 336.0h.9M210.3 341.5h.9M205.1 329.8h.9M211.1 334.7h.9M215.3 340.2h.9M210.8 330.8h.9M217.9 343.6h.9M216.5 330.1h.9M203.6 332.0h.9M213.0 327.9h.9M221.0 336.6h.9M217.5 328.0h.9M210.3 335.3h.9M202.1 335.6h.9M213.7 332.5h.9M214.4 333.1h.9M221.8 332.9h.9M212.1 336.4h.9M212.9 332.0h.9M215.5 331.5h.9M223.6 329.8h.9M220.4 338.6h.9M228.0 339.6h.9M208.8 337.2h.9M221.0 328.2h.9M214.7 335.0h.9M224.8 336.4h.9M209.1 338.9h.9M218.7 334.5h.9M218.2 331.4h.9M205.9 343.6h.9M212.9 335.0h.9M211.2 332.0h.9M209.1 336.8h.9M207.3 339.8h.9M201.7 334.1h.9M215.9 337.0h.9M213.4 335.9h.9M213.9 334.1h.9M211.9 333.8h.9M215.4 336.0h.9M207.6 323.5h.9M205.4 334.8h.9M215.9 329.9h.9M215.5 330.4h.9M216.9 336.1h.9M216.0 333.3h.9M203.2 334.2h.9M203.6 335.0h.9M207.1 327.5h.9M227.2 327.7h.9M217.5 340.4h.9M204.1 331.3h.9M220.6 332.9h.9M218.7 336.6h.9M209.2 333.9h.9M218.2 334.2h.9M214.2 327.0h.9M212.9 330.1h.9M215.1 335.7h.9M222.1 335.1h.9M218.1 338.8h.9M199.2 338.3h.9M208.0 333.1h.9M223.6 334.7h.9M230.1 331.4h.9M204.2 337.8h.9M221.9 331.5h.9M201.2 337.3h.9M222.7 336.0h.9M211.0 340.5h.9M221.9 330.8h.9M217.6 334.6h.9M206.7 329.7h.9M205.2 339.1h.9M203.1 334.5h.9M198.6 333.0h.9M187.3 331.9h.9M204.4 332.2h.9M213.5 333.6h.9M210.0 333.7h.9M216.9 340.2h.9M209.2 334.1h.9M217.9 334.7h.9M216.3 326.7h.9M209.5 332.6h.9M203.3 343.2h.9M197.7 342.5h.9M218.1 325.8h.9M212.5 341.3h.9M198.2 334.7h.9M206.5 330.0h.9M209.8 337.4h.9M225.2 337.3h.9M221.1 337.4h.9M211.2 336.8h.9M218.2 340.8h.9M200.9 335.2h.9M209.2 337.4h.9M209.5 345.3h.9M202.0 336.0h.9M222.5 328.4h.9M209.8 341.0h.9M223.1 335.0h.9M200.1 331.0h.9M220.2 341.4h.9M219.2 339.0h.9M204.4 334.9h.9M215.3 335.9h.9M214.9 327.7h.9M218.1 335.3h.9M209.5 326.4h.9M205.7 330.3h.9M204.7 341.6h.9M214.2 335.7h.9M208.0 327.9h.9M212.7 332.2h.9M193.7 339.1h.9M210.6 334.0h.9M198.7 335.9h.9M214.0 334.0h.9M223.3 329.5h.9M215.4 339.9h.9M210.5 328.0h.9M219.9 333.2h.9M196.5 330.1h.9M208.6 334.1h.9M221.2 334.3h.9M208.8 334.2h.9M197.9 336.3h.9M204.7 338.1h.9M216.8 326.7h.9M217.1 334.7h.9M214.2 339.6h.9M220.3 340.8h.9M213.8 338.4h.9M214.8 329.3h.9M220.9 331.5h.9M198.4 339.0h.9M216.1 332.9h.9M230.9 332.7h.9M214.5 337.6h.9M223.4 338.6h.9M217.4 332.8h.9M216.6 330.5h.9M214.0 328.0h.9M211.7 332.1h.9M225.0 327.8h.9M220.0 331.3h.9M226.5 338.6h.9M201.6 337.0h.9M198.3 333.5h.9M217.2 338.5h.9M226.3 328.4h.9M204.1 337.2h.9M204.7 332.9h.9M205.9 336.8h.9M212.0 339.5h.9M221.5 329.8h.9M212.3 337.3h.9M215.4 334.1h.9M200.3 334.3h.9M198.0 329.0h.9M215.3 334.2h.9M215.6 334.1h.9M207.5 335.3h.9M214.9 333.8h.9M214.1 330.2h.9M218.1 340.3h.9M208.4 334.1h.9M213.0 339.3h.9M227.0 332.8h.9M206.4 331.8h.9M209.8 339.8h.9M208.6 339.5h.9M219.1 332.8h.9M205.7 335.7h.9M202.3 337.1h.9M206.9 329.5h.9M201.4 333.3h.9M215.1 326.5h.9M227.8 337.7h.9M218.2 326.8h.9M217.4 333.7h.9M216.6 329.2h.9M210.3 334.4h.9M200.5 334.3h.9M204.7 333.1h.9M220.1 336.2h.9M201.5 333.9h.9M226.6 337.4h.9M203.9 336.2h.9M209.6 330.4h.9M205.9 333.7h.9M203.2 335.3h.9M209.2 338.0h.9M211.2 339.6h.9M210.7 333.9h.9M216.2 335.7h.9M214.0 334.5h.9M223.3 335.4h.9M209.6 330.8h.9M205.6 332.5h.9M207.4 338.1h.9M211.9 339.7h.9M222.1 335.3h.9M214.2 333.6h.9M209.8 336.7h.9M214.3 332.0h.9M203.3 341.9h.9M209.5 329.5h.9M207.5 336.0h.9M204.6 339.8h.9M217.6 333.0h.9M206.1 331.4h.9M207.7 332.9h.9M203.8 336.0h.9M215.2 339.0h.9M204.2 335.1h.9M229.4 335.8h.9M204.7 338.1h.9M219.7 335.6h.9M217.1 337.0h.9M219.8 336.5h.9M214.2 337.3h.9M204.8 332.0h.9M230.2 331.6h.9M214.6 331.9h.9M204.2 342.7h.9M223.2 333.6h.9M212.5 333.2h.9M207.4 339.7h.9M218.1 336.6h.9M213.6 333.4h.9M217.8 339.0h.9M212.7 331.3h.9M221.2 330.2h.9M216.4 331.4h.9M210.1 340.2h.9M213.1 334.8h.9M221.5 339.0h.9M212.9 330.4h.9M207.4 328.1h.9M214.1 335.8h.9M217.5 333.4h.9M216.8 327.1h.9M202.5 336.2h.9M204.1 343.2h.9M210.7 335.9h.9M219.5 329.1h.9M214.6 332.0h.9M225.2 331.1h.9M225.4 326.5h.9M219.3 330.5h.9M214.4 330.4h.9M211.8 333.0h.9M206.2 333.1h.9M214.6 335.2h.9M204.2 337.1h.9M219.9 336.1h.9M199.7 335.5h.9M222.4 330.8h.9M211.4 335.3h.9M207.2 335.9h.9M214.0 348.1h.9M214.0 333.4h.9M213.4 336.0h.9M202.8 338.0h.9M190.7 338.9h.9M220.5 326.5h.9M213.2 333.9h.9M218.7 328.7h.9M193.9 339.2h.9M209.9 329.0h.9M205.2 327.6h.9M213.9 331.0h.9M220.7 341.7h.9M203.7 339.0h.9M216.7 338.6h.9M217.0 332.2h.9M196.4 337.0h.9M212.1 331.1h.9M212.8 334.0h.9M210.5 339.3h.9M216.8 338.8h.9M222.7 333.9h.9M218.7 331.1h.9M222.3 332.4h.9M220.0 328.0h.9M212.1 328.2h.9M208.0 333.4h.9M203.3 336.9h.9M197.7 340.2h.9M208.1 341.7h.9M215.3 334.4h.9M211.7 337.6h.9M212.3 327.4h.9M219.5 336.7h.9M220.1 344.1h.9M211.0 337.7h.9M211.9 341.0h.9M201.0 338.8h.9M221.5 337.9h.9M211.4 339.6h.9M191.9 331.4h.9M212.9 333.1h.9M211.2 340.5h.9M218.6 331.9h.9M212.9 339.9h.9M216.6 331.8h.9M208.4 334.1h.9M219.5 331.5h.9M203.9 339.2h.9M211.6 336.3h.9M214.4 326.3h.9M210.2 330.4h.9M219.8 330.1h.9M215.9 336.8h.9M214.8 336.2h.9M214.4 327.5h.9M216.6 336.8h.9M217.5 339.3h.9M205.4 335.8h.9M212.6 337.3h.9M210.7 349.9h.9M210.3 334.9h.9M213.4 333.3h.9M212.9 337.0h.9M202.6 335.1h.9M210.9 330.5h.9M220.7 333.2h.9M217.9 330.0h.9M198.0 342.4h.9M208.2 330.5h.9M215.7 341.9h.9M202.4 332.8h.9M214.1 329.3h.9M224.9 333.1h.9M216.3 341.3h.9M205.5 335.9h.9M215.6 341.2h.9M198.8 339.0h.9M211.9 336.3h.9M197.0 333.2h.9M208.5 338.6h.9M197.6 336.2h.9M207.0 333.2h.9M209.4 334.7h.9M220.8 337.3h.9M215.7 336.1h.9M227.1 339.2h.9M222.9 343.4h.9M213.4 337.6h.9M218.0 338.0h.9M205.0 338.3h.9M212.9 337.2h.9M208.9 334.7h.9M204.9 332.9h.9M220.6 332.8h.9M207.6 331.6h.9M215.5 337.7h.9M210.3 329.9h.9M220.1 334.2h.9M216.3 331.4h.9M200.4 332.4h.9M215.5 337.6h.9M218.5 338.5h.9M221.6 331.0h.9M206.6 356.3h.9M212.1 359.6h.9M217.0 353.5h.9M215.9 363.1h.9M222.5 359.9h.9M200.4 357.4h.9M209.7 353.3h.9M205.5 368.6h.9M225.4 365.1h.9M198.1 363.6h.9M203.4 357.0h.9M219.9 355.9h.9M203.2 368.0h.9M195.8 358.0h.9M223.1 364.8h.9M206.1 352.2h.9M202.8 353.9h.9M209.2 362.7h.9M204.5 352.4h.9M205.2 358.9h.9M217.3 357.9h.9M204.1 365.0h.9M208.9 353.9h.9M204.9 361.4h.9M217.4 363.8h.9M209.7 355.0h.9M220.5 355.5h.9M200.3 365.5h.9M205.5 364.7h.9M208.7 352.8h.9M211.7 353.1h.9M207.1 369.1h.9M228.4 361.4h.9M206.0 357.6h.9M207.8 361.1h.9M199.5 360.1h.9M207.4 363.0h.9M229.5 368.5h.9M213.4 367.8h.9M203.3 357.2h.9M219.3 358.1h.9M208.0 358.9h.9M215.6 369.0h.9M200.9 366.3h.9M205.8 351.1h.9M223.4 358.6h.9M211.5 358.2h.9M212.8 366.5h.9M214.8 366.8h.9M218.9 358.1h.9M205.8 355.7h.9M201.9 361.5h.9M209.7 363.3h.9M218.8 361.9h.9M207.7 355.0h.9M219.9 359.4h.9M197.0 363.5h.9M205.2 362.5h.9M202.0 363.6h.9M193.9 356.4h.9M228.9 358.6h.9M210.1 361.2h.9M228.6 345.8h.9M215.4 359.3h.9M201.7 363.3h.9M222.3 362.8h.9M216.3 358.4h.9M228.3 359.8h.9M217.8 364.2h.9M209.3 360.1h.9M215.1 353.2h.9M209.2 363.0h.9M201.8 352.2h.9M207.7 356.4h.9M202.4 362.3h.9M219.6 364.9h.9M222.0 363.6h.9M212.3 364.7h.9M207.9 361.3h.9M217.9 364.7h.9M206.5 361.3h.9M217.9 356.4h.9M216.2 362.6h.9M210.3 361.4h.9M206.8 365.4h.9M202.9 366.6h.9M209.7 367.9h.9M201.3 356.3h.9M209.9 362.4h.9M208.0 358.1h.9M215.0 357.4h.9M219.5 358.5h.9M199.6 357.9h.9M210.5 356.8h.9M203.4 368.9h.9M205.0 358.2h.9M208.7 361.4h.9M219.8 355.7h.9M205.6 355.7h.9M210.4 354.2h.9M209.0 365.6h.9M208.8 357.5h.9M224.9 361.4h.9M218.8 368.8h.9M195.2 354.6h.9M216.7 358.2h.9M201.0 347.0h.9M223.7 361.4h.9M218.2 358.2h.9M225.0 353.9h.9M208.3 358.5h.9M204.4 351.4h.9M204.8 360.4h.9M205.0 365.9h.9M199.4 365.0h.9M211.5 359.5h.9M197.7 358.6h.9M219.4 359.3h.9M217.0 354.6h.9M191.2 362.9h.9M203.8 362.4h.9M213.1 367.7h.9M232.8 355.7h.9M222.9 366.6h.9M229.1 365.4h.9M211.9 359.7h.9M200.8 364.3h.9M200.3 359.2h.9M195.7 365.9h.9M212.4 360.7h.9M212.4 356.9h.9M204.6 359.7h.9M223.7 356.0h.9M205.7 364.5h.9M212.1 359.6h.9M219.1 356.6h.9M216.0 361.0h.9M215.8 367.2h.9M213.7 357.8h.9M221.3 363.2h.9M219.9 358.1h.9M203.0 364.2h.9M215.2 362.6h.9M208.6 349.5h.9M223.7 361.2h.9M212.5 368.9h.9M213.8 351.5h.9M221.0 365.3h.9M202.8 361.1h.9M206.4 362.9h.9M208.6 357.7h.9M202.4 358.5h.9M213.3 351.6h.9M203.0 358.4h.9M213.5 359.4h.9M211.5 356.9h.9M211.5 368.7h.9M215.4 361.4h.9M208.3 366.9h.9M217.3 362.7h.9M208.1 355.5h.9M211.3 360.0h.9M210.5 359.9h.9M217.9 358.5h.9M213.0 365.4h.9M203.7 364.1h.9M227.5 359.2h.9M221.7 363.3h.9M212.2 356.5h.9M217.0 358.4h.9M203.9 367.4h.9M218.3 366.4h.9M206.4 365.5h.9M217.2 368.9h.9M212.3 361.1h.9M202.2 359.6h.9M215.0 362.3h.9M210.7 366.0h.9M207.4 368.0h.9M210.4 361.0h.9M218.5 360.7h.9M213.2 366.8h.9M207.4 363.8h.9M207.4 362.0h.9M209.7 357.3h.9M197.8 360.2h.9M204.5 361.6h.9M207.1 362.1h.9M194.4 361.1h.9M227.1 366.3h.9M210.2 361.6h.9M223.0 359.8h.9M209.2 359.3h.9M211.0 362.7h.9M210.5 363.6h.9M196.8 363.8h.9M201.6 363.6h.9M215.3 358.4h.9M207.8 367.1h.9M213.8 355.5h.9M213.2 350.4h.9M199.7 364.4h.9M201.3 364.4h.9M202.8 357.1h.9M196.3 358.5h.9M200.8 365.6h.9M210.8 365.7h.9M220.2 357.9h.9M222.1 357.7h.9M216.2 363.6h.9M205.6 367.5h.9M224.4 361.4h.9M213.1 363.0h.9M204.1 356.6h.9M202.1 359.8h.9M229.9 348.5h.9M216.7 351.2h.9M213.2 366.7h.9M212.3 362.5h.9M209.2 357.3h.9M218.9 366.3h.9M216.9 360.0h.9M223.4 358.2h.9M196.3 356.8h.9M217.0 359.9h.9M213.1 368.6h.9M218.6 358.5h.9M194.3 364.0h.9M210.9 366.6h.9M223.9 360.9h.9M217.3 354.5h.9M203.3 365.8h.9M195.7 355.5h.9M221.3 366.4h.9M212.0 365.4h.9M215.2 360.3h.9M204.0 356.7h.9M220.1 357.3h.9M209.1 364.0h.9M209.3 356.6h.9M200.8 346.3h.9M212.1 353.7h.9M213.9 365.9h.9M202.8 362.9h.9M206.4 356.2h.9M215.1 358.8h.9M200.4 359.1h.9M218.7 354.8h.9M211.0 356.0h.9M199.2 360.6h.9M210.3 362.8h.9M220.6 358.3h.9M211.4 365.0h.9M199.8 361.0h.9M217.9 357.7h.9M214.1 357.7h.9M222.8 359.9h.9M223.4 360.3h.9M217.3 362.7h.9M209.0 367.0h.9M193.7 359.7h.9M193.8 364.8h.9M209.6 364.9h.9M205.4 358.1h.9M210.7 350.0h.9M202.4 361.2h.9M202.4 362.1h.9M219.5 367.2h.9M213.1 350.3h.9M211.4 363.9h.9M224.7 359.8h.9M204.8 362.7h.9M214.7 366.7h.9M202.8 362.6h.9M207.2 363.9h.9M211.6 362.5h.9M209.0 355.1h.9M204.7 362.3h.9M208.1 358.9h.9M218.8 362.7h.9M203.7 352.0h.9M199.8 364.5h.9M223.8 362.1h.9M199.3 360.2h.9M208.1 359.0h.9M200.0 365.8h.9M202.8 362.6h.9M219.4 364.6h.9M216.8 363.2h.9M208.1 358.5h.9M223.5 362.5h.9M206.6 365.1h.9M220.0 358.6h.9M214.1 363.3h.9M219.7 361.6h.9M210.8 367.4h.9M214.2 360.9h.9M210.1 360.4h.9M189.4 357.4h.9M229.6 358.0h.9M215.6 363.0h.9M211.4 366.7h.9M209.9 352.7h.9M205.2 358.4h.9M205.6 362.4h.9M211.1 363.5h.9M218.4 357.1h.9M213.2 356.2h.9M212.5 359.9h.9M217.5 363.6h.9M204.8 363.3h.9M219.4 358.5h.9M207.4 362.9h.9M215.9 359.3h.9M205.6 359.4h.9M218.7 365.1h.9M201.2 360.9h.9M226.3 364.3h.9M207.0 363.5h.9M207.1 358.9h.9M204.4 357.9h.9M201.9 361.9h.9M208.5 360.7h.9M198.2 368.4h.9M219.1 362.9h.9M209.7 361.6h.9M193.0 355.7h.9M211.0 359.1h.9M215.1 364.0h.9M212.4 354.1h.9M205.9 354.5h.9M209.3 363.7h.9M189.2 363.2h.9M199.3 358.2h.9M191.9 360.7h.9M198.8 358.5h.9M216.2 360.4h.9M220.8 365.7h.9M223.0 364.8h.9M214.0 368.3h.9M207.7 363.0h.9M213.7 360.1h.9M212.0 366.1h.9M203.5 362.7h.9M220.1 362.5h.9M206.5 364.9h.9M205.4 361.2h.9M208.2 358.1h.9M205.0 363.8h.9M195.9 359.5h.9M209.4 357.9h.9M213.9 364.1h.9M216.7 356.4h.9M207.9 354.7h.9M205.5 364.9h.9M205.8 359.8h.9M190.6 362.5h.9M224.6 361.2h.9M220.3 357.7h.9M222.0 357.7h.9M197.5 355.2h.9M216.7 363.4h.9M196.8 367.5h.9M220.7 368.2h.9M209.5 362.0h.9M207.2 368.4h.9M211.1 362.1h.9M208.7 366.7h.9M224.0 368.5h.9M220.4 359.3h.9M198.3 362.3h.9M218.3 360.5h.9M190.1 358.3h.9M226.5 362.1h.9M206.4 367.1h.9M208.4 368.3h.9M210.3 358.9h.9M230.1 361.4h.9M210.4 358.7h.9M215.7 360.9h.9M219.0 360.5h.9M205.7 365.3h.9M207.4 361.1h.9M208.0 353.9h.9M220.7 364.3h.9M212.2 352.8h.9M208.7 354.0h.9M197.9 367.7h.9M218.8 364.8h.9M207.5 360.8h.9M213.1 366.1h.9M208.4 367.5h.9M213.3 363.4h.9M212.7 355.1h.9M196.6 356.2h.9M196.0 366.7h.9M208.6 361.1h.9M196.4 367.3h.9M216.3 356.7h.9M211.0 364.4h.9M220.1 352.4h.9M216.7 364.6h.9M216.0 363.2h.9M205.1 366.9h.9M213.1 351.8h.9M218.3 355.0h.9M219.2 357.7h.9M212.9 363.5h.9M204.8 367.0h.9M207.8 354.5h.9M206.5 358.8h.9M220.0 368.2h.9M220.6 364.7h.9M209.1 354.7h.9M205.7 364.3h.9M217.2 364.3h.9M221.4 365.5h.9M216.1 361.6h.9M200.4 363.3h.9M197.2 366.3h.9M224.3 363.0h.9M218.5 366.6h.9M206.8 365.6h.9M210.4 364.9h.9M209.9 359.7h.9M211.2 364.9h.9M202.6 366.1h.9M218.2 358.7h.9M205.1 357.0h.9M201.3 363.7h.9M220.5 364.7h.9M211.4 357.6h.9M220.8 363.3h.9M218.7 351.6h.9M224.7 363.4h.9M213.2 362.6h.9M219.8 361.7h.9M206.0 361.0h.9M214.4 363.5h.9M190.4 360.8h.9M209.7 359.0h.9M203.7 365.1h.9M216.2 360.7h.9M210.9 365.1h.9M214.6 367.2h.9M198.8 356.0h.9M213.1 359.5h.9M228.9 357.5h.9M216.2 360.2h.9M200.0 366.5h.9M216.6 357.8h.9M212.2 367.8h.9M203.8 357.5h.9M212.3 362.3h.9M192.9 365.1h.9M219.6 355.7h.9M216.9 351.5h.9M215.3 361.4h.9M217.0 356.8h.9M221.4 361.5h.9M198.8 357.4h.9M212.4 358.7h.9M215.7 358.1h.9M216.9 361.7h.9M207.4 365.7h.9M210.2 361.8h.9M216.8 363.5h.9M216.0 355.4h.9M226.0 369.1h.9M196.1 366.7h.9M208.7 361.1h.9M213.3 357.6h.9M211.4 363.7h.9M205.5 355.7h.9M213.1 360.9h.9M200.0 360.1h.9M202.0 360.1h.9M202.1 353.5h.9M212.6 365.2h.9M217.3 354.3h.9M221.0 361.5h.9M199.6 360.1h.9M208.6 351.5h.9M220.4 364.4h.9M211.0 361.0h.9M206.6 356.9h.9M207.0 350.7h.9M211.6 360.9h.9M204.8 365.4h.9M210.6 360.0h.9M226.2 361.6h.9M211.0 357.4h.9M205.8 359.7h.9M211.0 361.9h.9M212.9 366.3h.9M193.0 358.2h.9M201.5 361.2h.9M198.9 364.3h.9M209.2 359.3h.9M214.9 361.5h.9M203.3 365.4h.9M197.2 363.5h.9M216.5 364.8h.9M206.9 358.2h.9M210.1 353.9h.9M215.1 356.5h.9M218.7 358.9h.9M206.5 363.4h.9M202.4 358.8h.9M200.7 357.0h.9M202.8 358.7h.9M211.9 362.4h.9M233.4 358.7h.9M214.7 366.3h.9M205.8 363.8h.9M209.3 362.4h.9M207.6 357.7h.9M210.6 362.8h.9M213.8 365.7h.9M212.1 363.6h.9M204.2 358.9h.9M210.6 359.0h.9M204.9 359.2h.9M207.9 365.0h.9M195.6 363.3h.9M216.9 352.8h.9M208.2 363.8h.9M188.6 353.1h.9M208.8 357.9h.9M216.3 367.3h.9M203.3 359.6h.9M224.0 347.6h.9M202.7 364.1h.9M219.3 359.4h.9M217.0 360.3h.9M209.2 354.3h.9M201.5 355.9h.9M202.2 360.4h.9M220.0 351.0h.9M223.5 364.3h.9M208.8 364.2h.9M209.1 355.5h.9M205.3 356.1h.9M211.7 361.2h.9M206.7 360.6h.9M219.9 356.5h.9M218.3 360.1h.9M214.9 355.3h.9M202.7 352.7h.9M198.8 364.5h.9M206.4 362.8h.9M222.3 354.1h.9M217.3 360.8h.9M209.7 361.4h.9M218.6 368.4h.9M215.9 367.2h.9M203.5 368.0h.9M223.7 359.0h.9M220.3 366.1h.9M201.0 357.2h.9M208.3 355.7h.9M224.9 356.1h.9M222.1 367.4h.9M202.9 358.2h.9M206.7 357.6h.9M205.1 351.0h.9M213.4 361.0h.9M208.3 363.1h.9M216.0 356.8h.9M199.6 355.3h.9M200.0 355.8h.9M227.8 351.3h.9M227.6 354.9h.9M226.3 358.8h.9M206.0 353.7h.9M203.1 364.4h.9M214.4 355.9h.9M208.3 358.2h.9M201.4 360.0h.9M215.5 356.3h.9M202.2 362.3h.9M220.7 353.2h.9M213.1 359.8h.9M208.0 364.6h.9M199.7 365.5h.9M210.6 353.8h.9M210.9 352.7h.9M211.8 365.0h.9M210.7 350.5h.9M199.7 365.2h.9M205.8 362.0h.9M211.2 363.0h.9M214.7 368.3h.9M208.6 359.8h.9M198.5 363.7h.9M201.5 358.2h.9M206.7 368.3h.9M215.7 363.8h.9M208.2 367.0h.9M201.5 362.9h.9M209.8 354.0h.9M209.4 360.4h.9M222.5 360.2h.9M210.7 362.1h.9M206.0 356.3h.9M210.5 357.6h.9M214.8 357.5h.9M194.9 354.4h.9M207.3 361.8h.9M201.8 356.9h.9M205.4 367.3h.9M207.4 357.7h.9M222.4 351.3h.9M216.9 361.0h.9M213.2 366.4h.9M201.8 366.4h.9M213.2 356.5h.9M215.4 358.3h.9M197.4 358.7h.9M196.4 362.7h.9M221.6 357.9h.9M219.6 346.7h.9M211.3 365.6h.9M219.4 363.3h.9M218.7 354.6h.9M231.0 359.4h.9M187.5 357.9h.9M213.7 355.3h.9M220.7 361.3h.9M213.6 354.5h.9M205.1 359.5h.9M199.6 363.6h.9M222.1 364.6h.9M194.2 361.0h.9M201.5 363.1h.9M216.2 363.3h.9M217.9 357.4h.9M206.0 350.7h.9M198.6 355.3h.9M220.1 351.2h.9M222.2 360.8h.9M194.9 368.0h.9M211.1 363.9h.9M210.2 362.2h.9M215.3 364.3h.9M198.8 358.3h.9M229.8 354.7h.9M206.0 363.2h.9M210.8 368.6h.9M221.9 364.3h.9M216.9 364.6h.9M209.4 361.1h.9M192.5 357.9h.9M211.1 364.1h.9M220.5 364.6h.9M209.5 358.5h.9M198.6 367.4h.9M229.7 350.7h.9M219.5 362.9h.9M220.2 354.0h.9M196.2 358.7h.9M206.2 361.2h.9M191.0 364.3h.9M219.6 363.6h.9M215.9 364.4h.9M189.4 362.1h.9M216.4 357.1h.9M219.8 362.6h.9M203.8 359.0h.9M208.8 363.9h.9M223.8 360.3h.9M198.9 361.3h.9M214.7 352.3h.9M219.6 362.4h.9M213.3 358.2h.9M208.0 361.9h.9M212.8 358.8h.9M217.8 367.3h.9M198.5 357.9h.9M210.6 363.3h.9M210.0 360.0h.9M224.7 357.2h.9M201.0 363.6h.9M225.9 357.1h.9M204.2 360.2h.9M199.3 364.4h.9M209.5 358.8h.9M207.0 360.0h.9M211.9 358.7h.9M209.5 367.8h.9M216.9 366.3h.9M214.7 363.3h.9M190.2 358.1h.9M220.9 361.3h.9M211.1 364.0h.9M210.6 356.5h.9M206.6 362.9h.9M218.7 352.0h.9M207.9 357.8h.9M220.4 358.2h.9M201.1 359.4h.9M222.0 353.6h.9M200.5 361.8h.9M217.8 358.3h.9M206.4 355.4h.9M200.7 357.4h.9M206.7 353.6h.9M212.0 362.2h.9M205.3 362.7h.9M215.2 354.7h.9M221.2 361.8h.9M198.8 360.5h.9M194.1 347.0h.9M210.3 359.7h.9M212.5 357.0h.9M211.6 355.6h.9M217.2 354.5h.9M215.8 349.5h.9M194.3 355.0h.9M210.7 349.0h.9M172.6 348.7h.9M184.3 352.1h.9M198.9 330.6h.9M207.4 343.8h.9M227.1 353.5h.9M173.6 348.7h.9M184.7 337.1h.9M194.3 331.0h.9M206.0 359.6h.9M222.4 362.4h.9M190.3 338.5h.9M183.9 326.9h.9M176.5 338.3h.9M216.8 340.9h.9M229.8 366.7h.9M210.4 333.5h.9M196.0 345.5h.9M172.0 328.4h.9M219.8 337.1h.9M216.8 347.7h.9M178.9 360.4h.9M202.3 360.9h.9M196.9 367.8h.9M203.7 330.7h.9M220.1 337.6h.9M230.0 362.1h.9M221.0 331.0h.9M216.3 341.0h.9M210.5 365.9h.9M197.7 366.9h.9M186.6 327.8h.9M218.7 357.5h.9M226.8 354.9h.9M204.5 362.8h.9M204.0 335.0h.9M231.7 327.8h.9M200.6 359.1h.9M198.0 365.1h.9M194.5 328.0h.9M174.9 358.1h.9M213.9 360.5h.9M183.3 366.1h.9M197.7 349.8h.9M223.6 326.9h.9M175.7 342.8h.9M201.5 365.7h.9M187.5 357.3h.9M224.4 333.6h.9M186.2 354.5h.9M225.6 367.8h.9M173.7 331.4h.9M205.6 329.0h.9M228.7 352.9h.9M216.2 350.5h.9M232.3 347.0h.9M181.5 343.7h.9M182.1 326.5h.9M194.7 346.8h.9M212.8 354.2h.9M230.6 358.6h.9M214.5 328.6h.9M221.3 346.7h.9M208.1 343.4h.9M230.8 332.1h.9M181.1 347.0h.9M190.4 364.6h.9M183.3 346.3h.9M188.8 335.3h.9M203.3 354.5h.9M204.1 326.5h.9M233.7 357.2h.9M201.5 344.9h.9M175.6 333.5h.9M200.3 349.6h.9M221.0 362.3h.9M219.5 354.6h.9M175.6 361.1h.9M172.0 338.7h.9M176.1 359.6h.9M221.8 331.5h.9M181.3 332.5h.9M171.2 333.3h.9M185.4 335.3h.9M229.2 349.5h.9M182.9 335.7h.9M211.3 365.8h.9M231.2 347.0h.9M204.6 333.2h.9M190.4 350.5h.9M224.0 335.6h.9M194.0 355.1h.9M207.4 354.2h.9M207.0 359.3h.9M231.2 332.9h.9M230.1 342.7h.9M187.3 349.6h.9M179.5 329.0h.9M223.7 350.9h.9M176.4 333.2h.9M178.4 346.4h.9M172.6 348.9h.9M231.8 330.2h.9M226.8 330.4h.9M174.3 333.7h.9M186.0 342.7h.9M197.7 346.9h.9M223.8 356.9h.9M224.2 335.9h.9M189.6 351.5h.9M195.8 347.8h.9M200.4 346.8h.9M175.5 334.5h.9M227.9 353.8h.9M183.5 343.7h.9M192.9 354.0h.9M188.0 361.4h.9M222.7 339.5h.9M201.9 348.8h.9M229.1 358.9h.9M183.9 358.6h.9M175.2 357.8h.9M213.1 336.7h.9M233.2 365.9h.9M202.6 352.7h.9M223.0 343.8h.9M212.2 358.1h.9M170.0 352.8h.9M207.0 345.1h.9M197.4 335.3h.9M201.1 347.5h.9M178.2 343.9h.9M173.4 357.4h.9M194.0 355.5h.9M173.9 349.7h.9M172.0 335.0h.9M199.5 328.5h.9M184.9 358.2h.9M178.9 333.9h.9M227.7 358.6h.9M172.8 334.7h.9" stroke="#000" stroke-width=".9" stroke-opacity=".8" fill="none"/>
<rect x="169.2" y="316.5" width="65.80" height="53.70" fill="none" stroke="#111" stroke-width=".9"/>
<path d="M190.4 316.5V370.2M169.2 349.4H235.0" stroke="#444" stroke-width=".6" fill="none"/>
<text x="171.3" y="375.2" font-size="3.6" text-anchor="middle" fill="#777" stroke="none">10<tspan dy="-1.4" font-size="2.6">0</tspan></text>
<text x="187.0" y="375.2" font-size="3.6" text-anchor="middle" fill="#777" stroke="none">10<tspan dy="-1.4" font-size="2.6">1</tspan></text>
<text x="202.7" y="375.2" font-size="3.6" text-anchor="middle" fill="#777" stroke="none">10<tspan dy="-1.4" font-size="2.6">2</tspan></text>
<text x="218.4" y="375.2" font-size="3.6" text-anchor="middle" fill="#777" stroke="none">10<tspan dy="-1.4" font-size="2.6">3</tspan></text>
<text x="234.1" y="375.2" font-size="3.6" text-anchor="middle" fill="#777" stroke="none">10<tspan dy="-1.4" font-size="2.6">4</tspan></text>
<text transform="translate(166.0,371.4) rotate(-90)" font-size="3.6" text-anchor="middle" fill="#999" stroke="none">10<tspan dy="-1.4" font-size="2.6">0</tspan></text>
<text transform="translate(166.0,358.0) rotate(-90)" font-size="3.6" text-anchor="middle" fill="#999" stroke="none">10<tspan dy="-1.4" font-size="2.6">1</tspan></text>
<text transform="translate(166.0,344.6) rotate(-90)" font-size="3.6" text-anchor="middle" fill="#999" stroke="none">10<tspan dy="-1.4" font-size="2.6">2</tspan></text>
<text transform="translate(166.0,331.1) rotate(-90)" font-size="3.6" text-anchor="middle" fill="#999" stroke="none">10<tspan dy="-1.4" font-size="2.6">3</tspan></text>
<text transform="translate(166.0,317.7) rotate(-90)" font-size="3.6" text-anchor="middle" fill="#999" stroke="none">10<tspan dy="-1.4" font-size="2.6">4</tspan></text>
<path d="M174.2 370.2v1M169.2 366.2h-1M177.0 370.2v1M169.2 363.8h-1M180.7 370.2v1M169.2 360.8h-1M183.1 370.2v1M169.2 358.9h-1M190.6 370.2v1M169.2 352.7h-1M193.5 370.2v1M169.2 350.4h-1M197.1 370.2v1M169.2 347.4h-1M199.6 370.2v1M169.2 345.4h-1M207.1 370.2v1M169.2 339.3h-1M209.9 370.2v1M169.2 336.9h-1M213.6 370.2v1M169.2 334.0h-1M216.0 370.2v1M169.2 332.0h-1M223.5 370.2v1M169.2 325.9h-1M226.4 370.2v1M169.2 323.5h-1M230.0 370.2v1M169.2 320.5h-1M232.5 370.2v1M169.2 318.6h-1M169.2 370.2v1.8M169.2 370.2h-1.8M185.6 370.2v1.8M169.2 356.8h-1.8M202.1 370.2v1.8M169.2 343.4h-1.8M218.6 370.2v1.8M169.2 329.9h-1.8M235.0 370.2v1.8M169.2 316.5h-1.8" stroke="#000" stroke-width=".5" fill="none"/>
<text transform="translate(19.8,254.0) scale(1,1)" font-size="9.3" font-weight="bold" style="stroke-width:.42px" stroke-linejoin="round" text-anchor="start">39%</text>
<text transform="translate(97.4,253.8) scale(1,1)" font-size="9.3" font-weight="bold" style="stroke-width:.42px" stroke-linejoin="round" text-anchor="start">17%</text>
<text transform="translate(157.6,253.8) scale(1,1)" font-size="9.3" font-weight="bold" style="stroke-width:.42px" stroke-linejoin="round" text-anchor="end">7%</text>
<text transform="translate(159.4,285.7) scale(1,1)" font-size="9.3" font-weight="bold" style="stroke-width:.42px" stroke-linejoin="round" text-anchor="end">10%</text>
<text transform="translate(172.2,253.8) scale(1,1)" font-size="9.3" font-weight="bold" style="stroke-width:.42px" stroke-linejoin="round" text-anchor="start">11%</text>
<text transform="translate(234.0,252.9) scale(1,1)" font-size="9.3" font-weight="bold" style="stroke-width:.42px" stroke-linejoin="round" text-anchor="end">25%</text>
<text transform="translate(234.8,285.7) scale(1,1)" font-size="9.3" font-weight="bold" style="stroke-width:.42px" stroke-linejoin="round" text-anchor="end">26%</text>
<text transform="translate(21.8,326.0) scale(0.9,1)" font-size="10.2" font-weight="bold" style="font-family:'Liberation Serif',serif;stroke-width:.5px" text-anchor="start">6%</text>
<text transform="translate(98.0,326.7) scale(1,1)" font-size="9.3" font-weight="bold" style="stroke-width:.42px" stroke-linejoin="round" text-anchor="start">5%</text>
<text transform="translate(154.2,326.7) scale(1,1)" font-size="9.3" font-weight="bold" style="stroke-width:.42px" stroke-linejoin="round" text-anchor="end">1%</text>
<text transform="translate(159.2,355.7) scale(1,1)" font-size="9.3" font-weight="bold" style="stroke-width:.42px" stroke-linejoin="round" text-anchor="end">20%</text>
<text transform="translate(173.0,326.5) scale(1,1)" font-size="9.3" font-weight="bold" style="stroke-width:.42px" stroke-linejoin="round" text-anchor="start">4%</text>
<text transform="translate(232.6,326.5) scale(1,1)" font-size="9.3" font-weight="bold" style="stroke-width:.42px" stroke-linejoin="round" text-anchor="end">5%</text>
<text transform="translate(233.6,358.7) scale(1,1)" font-size="9.3" font-weight="bold" style="stroke-width:.42px" stroke-linejoin="round" text-anchor="end">45%</text>
</g>
</svg>
</body></html>
